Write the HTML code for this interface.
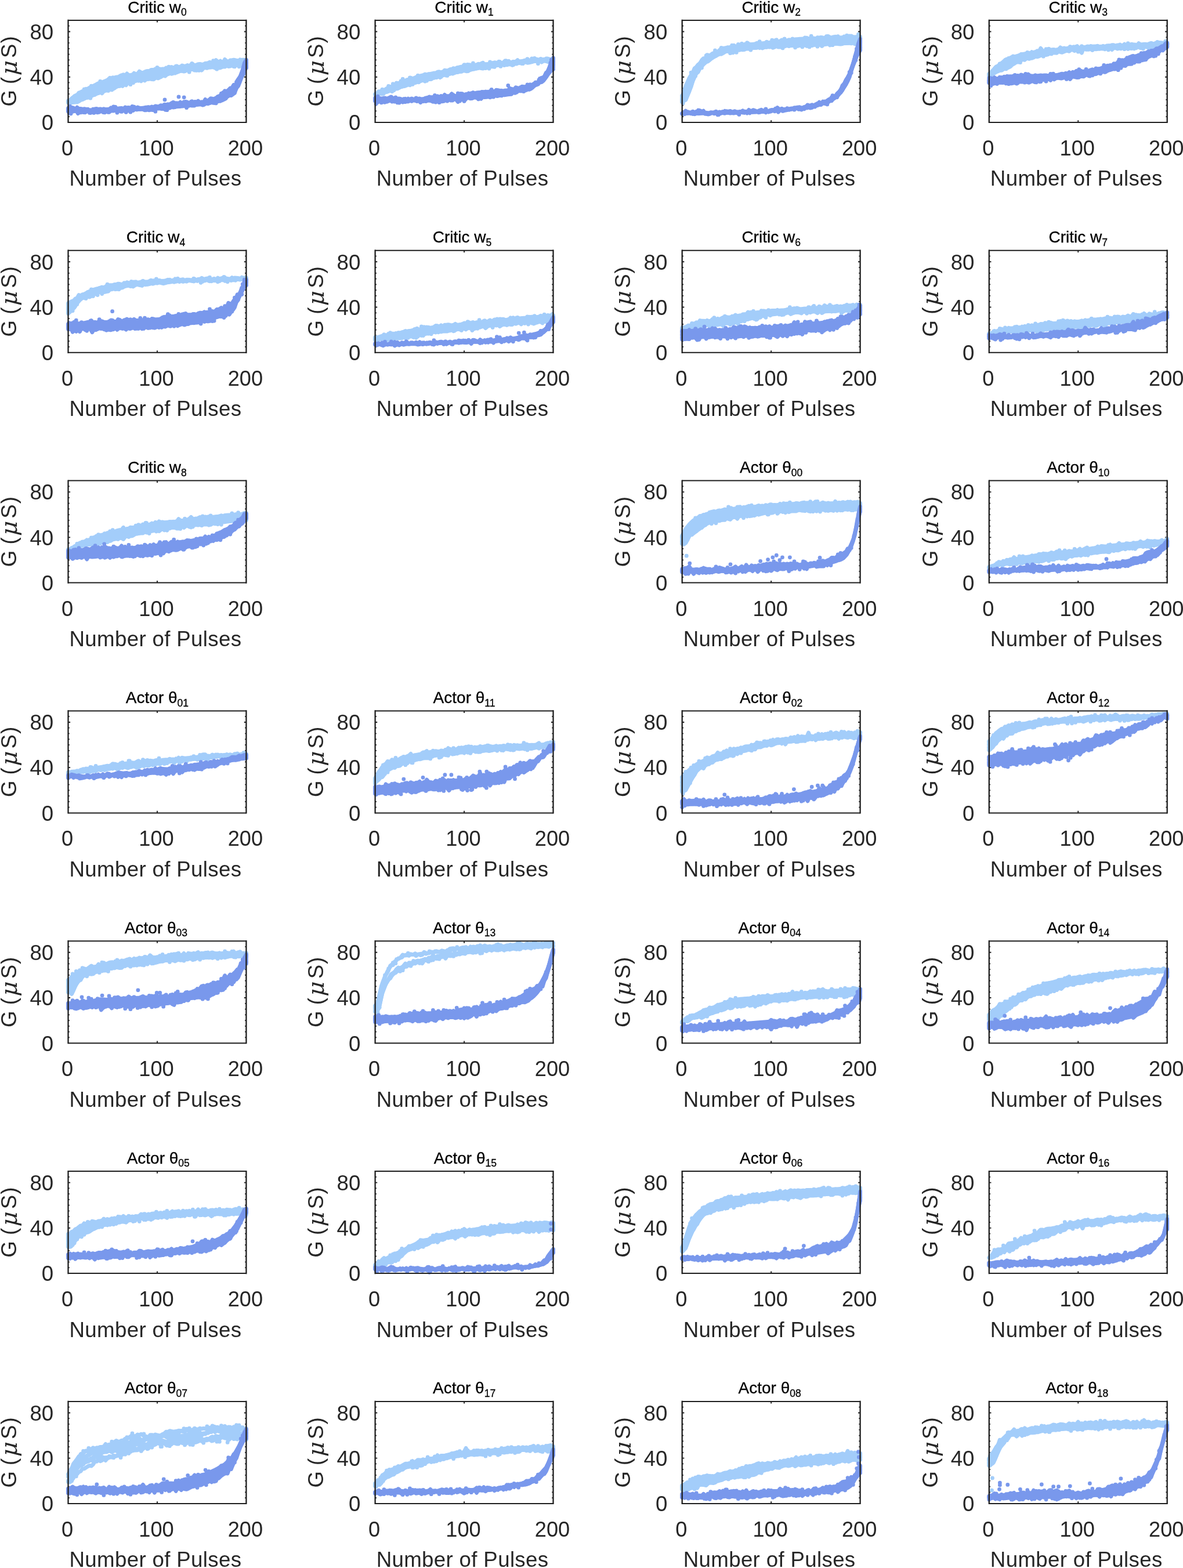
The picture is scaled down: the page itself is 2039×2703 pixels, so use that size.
<!DOCTYPE html>
<html lang="en"><head><meta charset="utf-8"><title>Conductance vs. number of pulses</title>
<style>
html,body{margin:0;padding:0;background:#fff}
body{width:2039px;height:2703px;overflow:hidden}
svg{display:block;position:absolute;left:0;top:0}
text{font-family:"Liberation Sans",sans-serif;white-space:pre}
.ti{font-size:28px;fill:#000;text-anchor:middle;stroke:#000;stroke-width:0.3px}
.su{font-size:17.5px}
.xt{font-size:36.2px;fill:#262626;text-anchor:middle}
.yt{font-size:36.67px;fill:#262626;text-anchor:end}
.xl{font-size:36.67px;fill:#262626;text-anchor:middle;letter-spacing:0.34px}
.yl{font-size:36.67px;fill:#262626}
.mu{font-family:"DejaVu Math TeX Gyre","DejaVu Serif",serif;font-style:italic;font-size:38.5px}
.d{fill:none;stroke-width:6.8px;stroke-linecap:round;stroke-linejoin:round;vector-effect:non-scaling-stroke}
.o{fill:none;stroke-width:6.8px;stroke-linecap:round}
.lt{stroke:#a3cdfa}.dk{stroke:#7998ec}.f.lt{fill:#a3cdfa}.f.dk{fill:#7998ec}
.fr{fill:none;stroke:#1e1e1e}
</style></head>
<body>
<svg width="2039" height="2703" viewBox="0 0 2039 2703">
<g transform="translate(117.5 34.9)">
<g class="fr"><path stroke-width="1.9" d="M0 97.78h3.6 M306.9 97.78h-3.6 M0 19.56h3.6 M306.9 19.56h-3.6 M153.45 0v3.6 M153.45 176v-3.6"/><path stroke-width="1.7" d="M0 166.22h2.3 M306.9 166.22h-2.3 M0 156.44h2.3 M306.9 156.44h-2.3 M0 146.67h2.3 M306.9 146.67h-2.3 M0 136.89h2.3 M306.9 136.89h-2.3 M0 127.11h2.3 M306.9 127.11h-2.3 M0 117.33h2.3 M306.9 117.33h-2.3 M0 107.56h2.3 M306.9 107.56h-2.3 M0 88h2.3 M306.9 88h-2.3 M0 78.22h2.3 M306.9 78.22h-2.3 M0 68.44h2.3 M306.9 68.44h-2.3 M0 58.67h2.3 M306.9 58.67h-2.3 M0 48.89h2.3 M306.9 48.89h-2.3 M0 39.11h2.3 M306.9 39.11h-2.3 M0 29.33h2.3 M306.9 29.33h-2.3 M0 9.78h2.3 M306.9 9.78h-2.3"/></g>
<g transform="scale(1.53450 0.25)"><path class="d f lt" d="M0 561L4 542L8 521L12 507L16 493L20 479L24 465L28 454L32 444L36 434L40 423L44 413L48 403L52 398L56 394L60 389L64 385L68 381L72 376L76 372L80 367L84 362L88 357L92 353L96 348L100 343L104 340L108 336L112 332L116 329L120 325L124 322L128 320L132 317L136 315L140 312L144 310L148 308L152 305L156 302L160 299L164 296L168 293L172 290L176 287L180 284L184 282L188 279L192 277L196 274L200 273L200 303L196 305L192 307L188 310L184 312L180 314L176 316L172 318L168 320L164 322L160 324L156 326L152 328L148 331L144 334L140 338L136 341L132 345L128 348L124 351L120 355L116 363L112 371L108 379L104 387L100 395L96 399L92 403L88 406L84 410L80 414L76 417L72 421L68 429L64 438L60 447L56 455L52 464L48 472L44 481L40 489L36 498L32 506L28 515L24 523L20 534L16 544L12 555L8 565L4 568L0 569Z"/><path class="d lt" d="M0 555l2-1 2-15 2-10 2-9 2-1 2-19 2-4 2-6 2-3 2-14 2 5 2-7 2-10 2-5 2-8 2-7 2-6 2-3 2 2 2-7 2 1 2-14 2-12 2 5 2-12 2 2 2-5 2 0 2-7 2-6 2 9 2-6 2-14 2 12 2 0 2 0 2-15 2 8 2-4 2-16 2 8 2 2 2-7 2-5 2-1 2 6 2-14 2 3 2-10 2 5 2-6 2 4 2-2 2 6 2-14 2 4 2-2 2-8 2 4 2 0 2-7 2 8 2-7 2-3 2-1 2 2 2-8 2 8 2 2 2-13 2 8 2-6 2-6 2-1 2 3 2-1 2-7 2-1 2-2 2 3 2 1 2-5 2-18 2 10 2 16 2-15 2 7 2-23 2 12 2 6 2-12 2 0 2-3 2 3 2 3 2-2 2-3 2-1 2 1 2 1M0 561l1-6 2-6 2-12 2-14 2 1 2-4 2-17 2 1 2-11 2-6 2 1 2-13 2 2 2-15 2-5 2-4 2 6 2-19 2-12 2 4 2-8 2-4 2-1 2-5 2-15 2 10 2 9 2-18 2 8 2-3 2-6 2-2 2 11 2-20 2 6 2-8 2-3 2-3 2-5 2-2 2-5 2-4 2 6 2-7 2-4 2 1 2 2 2-7 2 9 2-1 2-4 2-9 2 0 2-8 2-2 2 3 2-6 2-1 2-4 2-4 2 7 2-6 2 0 2 0 2-11 2 3 2 8 2-9 2-6 2-3 2 3 2-5 2 7 2-4 2-5 2 9 2-12 2 3 2-6 2-5 2 10 2-9 2 3 2-3 2-3 2-13 2 13 2-3 2-4 2 5 2 0 2 2 2-5 2-5 2 1 2 5 2-18 2 9 2 4 2-4 1 2M0 564l2 1 2-16 2-11 2 4 2-9 2-11 2-16 2 6 2-19 2 3 2-9 2-3 2-4 2-8 2-5 2-1 2-12 2 4 2-4 2-7 2-1 2-6 2-5 2-1 2 8 2-6 2-12 2-9 2-2 2-3 2 3 2 8 2-8 2-17 2 4 2-9 2-2 2 2 2-7 2 3 2-7 2-7 2 2 2 5 2-15 2 5 2 3 2-8 2 1 2-5 2-2 2 2 2 2 2-10 2 1 2-7 2 2 2-4 2-9 2 11 2-14 2 2 2 1 2-2 2-1 2-9 2 5 2-1 2 0 2-7 2 3 2-7 2-9 2 5 2 9 2-10 2 1 2-11 2 3 2 5 2-7 2 3 2 0 2-6 2-5 2 6 2 9 2-5 2-3 2-9 2 3 2-4 2-4 2-1 2 4 2-1 2-9 2 6 2 0 2-1M0 563l1 5 2-15 2 4 2-21 2-2 2-8 2-1 2-14 2 8 2-5 2-2 2-11 2-2 2-8 2-2 2-7 2-1 2-11 2-7 2 2 2-15 2 2 2-4 2-1 2-18 2 4 2 4 2-7 2-7 2-3 2 1 2-7 2 3 2-12 2-2 2-3 2 3 2-4 2-9 2 2 2-1 2 0 2-5 2-8 2 11 2-13 2-3 2-9 2 4 2 1 2 2 2-2 2-8 2-10 2 7 2-12 2 0 2-9 2 2 2-2 2 1 2 8 2-3 2-11 2-6 2 2 2 7 2-6 2 2 2-3 2 0 2-3 2-1 2-7 2 2 2 0 2 2 2-7 2-2 2 5 2 0 2-4 2-3 2 2 2-2 2-3 2-8 2 6 2-1 2-8 2 4 2-5 2-4 2 0 2-5 2 2 2-2 2-1 2 0 2-6 1 4M0 564l2 1 2-5 2-7 2-2 2-16 2 2 2-10 2-11 2-6 2-1 2 6 2-3 2-18 2-3 2 4 2-4 2-14 2 0 2 2 2-14 2-1 2-11 2 8 2-11 2-9 2 0 2-5 2-2 2-3 2-3 2-8 2 1 2-2 2-5 2 0 2-8 2 4 2-8 2 1 2 4 2-7 2-5 2-6 2 2 2 0 2-1 2 0 2 0 2-15 2-5 2 6 2-5 2-8 2-4 2-7 2-2 2-5 2 8 2-4 2-11 2 2 2-4 2 8 2-6 2-4 2-2 2-1 2 11 2-4 2-10 2-2 2-2 2 1 2-4 2-7 2 8 2 1 2-7 2-4 2 5 2 1 2-1 2 3 2-5 2-7 2 1 2 1 2 0 2-6 2 1 2 3 2-11 2 12 2-10 2 3 2-2 2 2 2-9 2 6 2-1M0 559l1 8 2-8 2 2 2-8 2-11 2 0 2 7 2-14 2 3 2-5 2-10 2-9 2-5 2 10 2-13 2 4 2-13 2-1 2-9 2 2 2-8 2-6 2-5 2-10 2-7 2 0 2-2 2 2 2-7 2 0 2 8 2-14 2 8 2-19 2-4 2 2 2-16 2 4 2-10 2 12 2-15 2 4 2-2 2-3 2 2 2-4 2-3 2 0 2-3 2 1 2-1 2 1 2-19 2 1 2 9 2-12 2-6 2-3 2 4 2-18 2 0 2 3 2-3 2 0 2-5 2 4 2-16 2 11 2-7 2 0 2-10 2 0 2 9 2-5 2-3 2 0 2-5 2-4 2 6 2-7 2-1 2-4 2 9 2-8 2 2 2 4 2-7 2 7 2-10 2-1 2 0 2 0 2 6 2-10 2 3 2-3 2-7 2 6 2 9 2-9 1 2M0 565l2 9 2-10 2-1 2 0 2 2 2-6 2-9 2-3 2-6 2-6 2-1 2-10 2 0 2-8 2-2 2-11 2-1 2-8 2 10 2-17 2-3 2 0 2-6 2-2 2 0 2-7 2-10 2-6 2 1 2-9 2-4 2 3 2-8 2-5 2 1 2-11 2 2 2-5 2-6 2-1 2 9 2-12 2 8 2-10 2 0 2-3 2 4 2 1 2-10 2-8 2 7 2-5 2-10 2-4 2-4 2-3 2-11 2 10 2-7 2-13 2 10 2-5 2-5 2-1 2 4 2-4 2-7 2 7 2-15 2 6 2-4 2 0 2-8 2 4 2 13 2-15 2-3 2 3 2-5 2 0 2-3 2 4 2 6 2-10 2 7 2-4 2-5 2 1 2-9 2 7 2-2 2-7 2 9 2-5 2-7 2-3 2 4 2-2 2 6 2-11M18 476h0M25 537h0M26 453h0M36 421h0M45 486h0M47 397h0M49 480h0M62 375h0M63 380h0M70 443h0M73 431h0M81 359h0M93 343h0M95 342h0M100 326h0M101 400h0M113 321h0M117 368h0M120 365h0M121 317h0M122 316h0M128 312h0M136 357h0M138 306h0M139 298h0M140 303h0M142 345h0M144 346h0M147 346h0M159 289h0M163 279h0M167 337h0M168 330h0M187 320h0M192 320h0M194 314h0"/></g>
<g transform="scale(1.53450 0.25)"><path class="d f dk" d="M0 606L4 608L8 611L12 613L16 616L20 618L24 621L28 620L32 618L36 617L40 616L44 615L48 614L52 613L56 612L60 612L64 611L68 610L72 610L76 608L80 607L84 605L88 603L92 602L96 600L100 598L104 594L108 588L112 583L116 578L120 573L124 572L128 572L132 571L136 571L140 570L144 570L148 570L152 565L156 557L160 549L164 541L168 532L172 517L176 500L180 483L184 467L188 448L192 406L196 343L200 282L200 327L196 371L192 435L188 481L184 505L180 522L176 535L172 547L168 559L164 564L160 569L156 573L152 577L148 580L144 583L140 585L136 588L132 590L128 593L124 595L120 597L116 600L112 602L108 604L104 606L100 608L96 610L92 611L88 612L84 613L80 614L76 615L72 616L68 617L64 618L60 620L56 621L52 622L48 623L44 624L40 625L36 625L32 626L28 626L24 627L20 627L16 627L12 627L8 627L4 627L0 627Z"/><path class="d dk" d="M0 611l2-9 2 0 2 3 2 10 2-14 2 10 2-1 2 9 2-5 2-1 2 10 2-3 2 3 2-6 2-5 2-2 2 4 2-2 2 3 2-4 2 10 2-2 2-6 2-9 2 18 2-11 2-4 2 2 2-2 2-1 2 6 2-12 2 6 2 4 2-6 2 2 2 4 2 1 2-11 2 8 2 5 2-6 2-4 2-1 2-3 2 3 2-6 2 4 2-8 2 3 2 0 2-8 2 3 2-9 2 3 2-5 2 4 2-11 2-7 2 7 2 0 2 6 2-13 2 13 2-15 2-1 2 3 2 16 2-20 2 5 2-4 2 6 2-11 2 10 2-4 2 4 2-21 2 14 2-1 2-20 2 2 2 4 2-7 2-12 2-4 2-10 2-14 2-3 2 3 2-16 2-13 2-3 2-21 2 6 2-35 2-18 2-15 2-40 2-48 2-21M0 614l1 6 2-5 2 10 2 1 2-5 2-2 2 11 2-19 2 6 2 3 2 3 2-1 2-2 2 2 2 7 2-2 2 4 2-13 2 2 2-2 2-5 2 6 2 2 2-7 2 6 2-1 2 0 2-5 2-3 2 15 2-11 2-1 2-1 2-11 2 1 2 6 2 1 2-4 2 2 2-6 2 7 2 0 2 4 2-12 2 2 2 7 2-6 2 0 2 5 2-1 2-13 2-1 2 4 2-5 2-2 2-9 2 6 2-1 2 3 2-7 2-1 2-2 2-4 2-3 2 6 2-2 2 4 2-8 2 3 2-11 2 10 2-12 2 11 2 0 2 0 2-2 2-4 2-3 2-11 2-9 2 3 2-3 2-1 2 0 2-14 2 0 2-6 2-19 2 5 2-12 2-4 2-8 2-11 2-6 2-24 2-18 2-20 2-33 2-35 2-34 1-10M0 624l2-9 2-1 2 14 2-7 2 1 2-4 2 3 2 1 2 7 2-2 2-12 2 10 2 1 2 5 2-4 2-1 2-5 2-6 2 13 2 2 2-10 2-6 2 20 2-11 2-2 2 2 2-6 2 1 2-9 2 11 2 5 2-4 2-11 2 9 2-7 2-9 2 11 2-2 2 1 2 0 2-1 2 2 2 6 2-9 2-7 2 5 2 8 2-8 2 5 2-12 2 6 2-14 2 4 2 3 2-10 2 8 2 7 2-10 2 5 2-2 2-14 2 9 2-17 2 12 2-10 2 8 2-9 2 1 2 3 2-1 2 7 2-18 2 7 2-1 2-12 2 12 2-7 2-11 2 9 2-6 2-3 2-4 2-6 2 0 2 0 2-10 2-3 2-10 2-2 2-20 2 2 2-21 2 1 2-16 2-27 2-15 2-27 2-40 2-19 2-12M0 629l1-3 2-4 2 8 2-6 2-2 2 21 2-10 2-4 2 6 2 1 2-8 2 2 2 9 2-5 2 5 2-7 2-16 2 17 2-11 2 12 2-11 2 7 2 2 2-12 2 5 2 0 2-5 2-3 2 6 2 6 2-8 2-1 2-2 2 5 2 1 2-5 2 4 2-13 2 7 2-5 2 2 2-4 2 6 2-10 2 11 2 3 2-4 2 3 2-2 2-10 2 2 2-1 2 3 2-4 2 10 2-11 2-10 2 5 2-8 2 2 2-2 2 2 2 0 2-6 2-2 2 1 2 6 2-3 2-5 2 3 2 0 2-12 2 4 2-2 2 1 2 5 2-4 2-10 2 5 2-5 2-10 2 9 2 1 2-8 2-5 2 0 2-13 2 2 2-7 2-19 2-5 2 3 2-9 2-8 2-38 2-10 2-32 2-33 2-18 2-46 1-7M1 639h0M2 594h0M3 644h0M10 602h0M14 636h0M18 611h0M22 613h0M24 638h0M28 613h0M33 636h0M41 636h0M45 634h0M51 596h0M53 598h0M55 637h0M60 630h0M65 634h0M66 624h0M70 633h0M72 594h0M74 597h0M87 620h0M97 618h0M98 629h0M106 611h0M111 619h0M133 603h0M139 559h0M166 572h0M172 505h0M173 552h0M176 487h0M189 426h0M191 408h0M198 299h0"/></g>
<path class="o dk" d="M166.5 137h0M190.5 132h0M199.7 132.9h0"/>
<g class="fr"><path stroke-width="2" d="M0 0H306.9 M0 176H306.9"/><path stroke-width="2.3" stroke-linecap="square" d="M0 0V176 M306.9 0V176"/></g>
<text class="ti" x="153.45" y="-13.4">Critic w<tspan class="su" dy="5.6">0</tspan></text>
<text class="yt" x="-25.3" y="189.3">0</text><text class="yt" x="-25.3" y="111.08">40</text><text class="yt" x="-25.3" y="32.86">80</text>
<text class="xt" x="-1.5" y="233.1">0</text><text class="xt" x="151.95" y="233.1">100</text><text class="xt" x="305.4" y="233.1">200</text>
<text class="xl" x="150.45" y="285.6">Number of Pulses</text>
<text class="yl" transform="translate(-89.3 148.7) rotate(-90)"><tspan x="0">G (</tspan><tspan class="mu" x="50.5" dy="1">μ</tspan><tspan x="83.6" dy="-1">S</tspan><tspan x="109">)</tspan></text>
</g>
<g transform="translate(646.6 34.9)">
<g class="fr"><path stroke-width="1.9" d="M0 97.78h3.6 M306.9 97.78h-3.6 M0 19.56h3.6 M306.9 19.56h-3.6 M153.45 0v3.6 M153.45 176v-3.6"/><path stroke-width="1.7" d="M0 166.22h2.3 M306.9 166.22h-2.3 M0 156.44h2.3 M306.9 156.44h-2.3 M0 146.67h2.3 M306.9 146.67h-2.3 M0 136.89h2.3 M306.9 136.89h-2.3 M0 127.11h2.3 M306.9 127.11h-2.3 M0 117.33h2.3 M306.9 117.33h-2.3 M0 107.56h2.3 M306.9 107.56h-2.3 M0 88h2.3 M306.9 88h-2.3 M0 78.22h2.3 M306.9 78.22h-2.3 M0 68.44h2.3 M306.9 68.44h-2.3 M0 58.67h2.3 M306.9 58.67h-2.3 M0 48.89h2.3 M306.9 48.89h-2.3 M0 39.11h2.3 M306.9 39.11h-2.3 M0 29.33h2.3 M306.9 29.33h-2.3 M0 9.78h2.3 M306.9 9.78h-2.3"/></g>
<g transform="scale(1.53450 0.25)"><path class="d f lt" d="M0 509L4 503L8 489L12 476L16 464L20 453L24 441L28 430L32 420L36 413L40 406L44 398L48 391L52 384L56 378L60 373L64 369L68 365L72 361L76 356L80 351L84 344L88 337L92 331L96 324L100 318L104 315L108 313L112 311L116 308L120 306L124 304L128 302L132 300L136 298L140 296L144 294L148 292L152 290L156 288L160 285L164 283L168 280L172 278L176 276L180 275L184 273L188 272L192 271L196 270L200 269L200 278L196 278L192 279L188 280L184 282L180 283L176 284L172 286L168 289L164 291L160 293L156 296L152 298L148 301L144 305L140 308L136 312L132 315L128 318L124 322L120 325L116 330L112 334L108 339L104 343L100 347L96 353L92 358L88 363L84 369L80 374L76 380L72 386L68 392L64 398L60 404L56 410L52 417L48 424L44 432L40 439L36 446L32 454L28 461L24 469L20 477L16 486L12 494L8 500L4 507L0 510Z"/><path class="d lt" d="M0 510l2-6 2-13 2-1 2-7 2 1 2-9 2-8 2-1 2-8 2-3 2-12 2-4 2 1 2-10 2 6 2-11 2-8 2-7 2 3 2-13 2 5 2 1 2-14 2-2 2-5 2-3 2-3 2-7 2 5 2-6 2-1 2-2 2-4 2 2 2-9 2-2 2 7 2-2 2-15 2 3 2-2 2-7 2-2 2-3 2 4 2-11 2-2 2-4 2 2 2-16 2 2 2-4 2 8 2-2 2 3 2-1 2-7 2 2 2-2 2 0 2-6 2 4 2 2 2-6 2 7 2-9 2-7 2 2 2 0 2-7 2 13 2-8 2-12 2 9 2-7 2 14 2-5 2-4 2 0 2-11 2 14 2-4 2-3 2 2 2-9 2 1 2 0 2-3 2 1 2-2 2 10 2-2 2-7 2 5 2-4 2-10 2 6 2 0 2-2 2-3M0 511l1-4 2-5 2 6 2-15 2 0 2-12 2 3 2-8 2-7 2-8 2-10 2 6 2-11 2 1 2-3 2-8 2-6 2-10 2 2 2-12 2-3 2 2 2-13 2 7 2-8 2 2 2-15 2 2 2 0 2 1 2-3 2-1 2-2 2-7 2 8 2-5 2 2 2-12 2-6 2-10 2 9 2-2 2-3 2-8 2 4 2-4 2-3 2-9 2 1 2-3 2-3 2-3 2-8 2 6 2-17 2 14 2-12 2-1 2 4 2-12 2 15 2-4 2-6 2 8 2 2 2-19 2 9 2 0 2 3 2-6 2-1 2-3 2-6 2 10 2-4 2-3 2 0 2-9 2 4 2-3 2-4 2 2 2 1 2-6 2-4 2 5 2-2 2-4 2-4 2 1 2 5 2-5 2 8 2-4 2-5 2 11 2-17 2 3 2 9 2 3 1-6M0 512l2-3 2 0 2-11 2 2 2-14 2 7 2-7 2-2 2-6 2 1 2-9 2-5 2-11 2-9 2-4 2 0 2-5 2-7 2 2 2-5 2-1 2-6 2-4 2-4 2-4 2-1 2-4 2 7 2-6 2 0 2-6 2-11 2 12 2-6 2-1 2-8 2-2 2-6 2-2 2 4 2-11 2 3 2-5 2-1 2-7 2 3 2-14 2 4 2-3 2-7 2 1 2 1 2-6 2-3 2-3 2 3 2 1 2-5 2-5 2-3 2-2 2 2 2-4 2 5 2-8 2 7 2-15 2-6 2 6 2 5 2-9 2 6 2-8 2 1 2 5 2-3 2 8 2-24 2-1 2 6 2-4 2 8 2-5 2-6 2-1 2 0 2-2 2 1 2-4 2-1 2-2 2 8 2-2 2-6 2 3 2 2 2-5 2-1 2-6 2 6M0 513l1-3 2-9 2 1 2 6 2 1 2-14 2 0 2-5 2-9 2-7 2 2 2-3 2-1 2-6 2-7 2-3 2-1 2-5 2-9 2 7 2-11 2-10 2 4 2-8 2 5 2-12 2-2 2 1 2-5 2-4 2 1 2 0 2-10 2-2 2 0 2-9 2 9 2-12 2-9 2-7 2 3 2 1 2-8 2 6 2-6 2-6 2 1 2-5 2 1 2-11 2 6 2 3 2-5 2-5 2-4 2-1 2-9 2 3 2-6 2 6 2 2 2-11 2 5 2-2 2-6 2 1 2-7 2 1 2-6 2 2 2-3 2-5 2 9 2-6 2-1 2-2 2 0 2-8 2 3 2 4 2-7 2 2 2-3 2-3 2-3 2 7 2-2 2-3 2-3 2-7 2 1 2 2 2-3 2 10 2-8 2 0 2 3 2 4 2-7 2-1 1-2M8 477h0M15 454h0M16 456h0M19 491h0M20 439h0M21 483h0M24 432h0M29 419h0M31 405h0M39 396h0M40 397h0M42 442h0M48 381h0M56 421h0M58 417h0M74 390h0M80 381h0M81 382h0M88 331h0M100 311h0M104 351h0M105 348h0M106 307h0M110 296h0M116 301h0M121 293h0M124 331h0M128 333h0M129 288h0M133 293h0M134 322h0M139 285h0M141 318h0M147 279h0M148 308h0M153 306h0M155 308h0M156 303h0M165 299h0M166 299h0M171 267h0M176 264h0M179 262h0M181 268h0M183 299h0M186 266h0M198 286h0"/></g>
<g transform="scale(1.53450 0.25)"><path class="d f dk" d="M0 540L4 541L8 542L12 543L16 545L20 546L24 547L28 547L32 547L36 547L40 547L44 547L48 547L52 544L56 541L60 538L64 535L68 532L72 529L76 527L80 525L84 524L88 522L92 521L96 519L100 517L104 513L108 509L112 504L116 500L120 496L124 494L128 493L132 492L136 491L140 489L144 488L148 484L152 480L156 476L160 472L164 467L168 461L172 455L176 446L180 434L184 421L188 403L192 374L196 323L200 265L200 328L196 353L192 387L188 416L184 432L180 446L176 461L172 471L168 477L164 483L160 489L156 494L152 499L148 504L144 509L140 512L136 515L132 518L128 521L124 524L120 527L116 529L112 532L108 534L104 536L100 538L96 541L92 543L88 545L84 547L80 549L76 551L72 553L68 553L64 553L60 553L56 553L52 553L48 553L44 553L40 553L36 553L32 553L28 553L24 553L20 554L16 554L12 555L8 556L4 556L0 557Z"/><path class="d dk" d="M0 535l2 4 2 1 2-1 2 2 2-4 2 8 2-6 2-5 2-6 2 10 2 5 2 8 2-11 2 1 2 4 2 12 2-15 2 10 2-6 2-4 2 4 2-1 2-1 2-2 2-2 2 8 2-1 2-9 2-3 2 8 2-3 2-10 2 7 2-10 2-4 2 11 2-12 2 6 2-14 2 10 2-1 2 0 2-16 2 9 2 7 2 0 2-11 2-6 2 1 2 9 2-6 2-2 2 3 2-2 2-11 2 8 2-6 2-1 2 1 2-6 2 5 2-7 2 4 2 5 2-17 2 5 2 5 2-13 2 2 2 3 2-1 2 5 2-6 2 10 2-15 2-2 2-1 2 3 2-16 2 4 2 5 2-11 2-4 2 11 2-10 2-8 2-7 2 13 2-15 2-12 2 11 2-19 2-10 2-14 2-9 2-26 2-6 2-36 2-36 2-24M0 550l1-4 2-5 2-3 2 8 2-8 2-2 2 6 2 13 2-19 2 10 2 1 2 2 2 6 2-12 2 5 2 1 2-7 2 11 2-12 2 11 2 6 2-14 2 2 2 7 2-1 2-3 2 7 2-12 2 0 2-10 2 11 2-3 2 4 2-1 2-2 2-10 2 3 2 0 2 1 2-4 2-9 2 11 2-8 2 1 2-6 2 7 2-6 2-3 2 5 2 2 2 0 2-11 2-12 2 10 2 1 2-7 2-4 2 6 2 0 2-10 2-5 2 5 2 1 2 1 2-6 2 7 2-8 2 2 2-4 2-1 2 0 2-2 2 6 2 0 2-8 2-4 2-11 2 6 2 4 2-15 2 9 2-14 2 3 2 3 2-12 2 5 2-7 2-6 2-2 2-5 2-8 2-1 2-5 2-17 2-4 2-23 2-8 2-30 2-24 2-27 1-7M0 542l2-5 2 16 2-7 2 16 2 0 2-11 2 8 2-4 2-6 2-6 2 18 2-12 2-1 2-7 2 11 2-9 2 20 2-6 2 1 2-5 2-2 2 1 2-5 2 10 2-5 2-3 2 10 2-10 2 7 2-8 2 4 2 0 2-9 2 5 2-2 2 8 2-11 2 2 2 2 2-11 2-3 2 4 2 6 2-1 2-11 2 1 2 1 2-5 2-1 2-7 2 9 2-6 2 14 2-13 2-5 2 5 2 11 2-11 2-1 2-13 2 8 2-4 2-1 2 1 2 5 2-8 2-9 2 8 2 4 2-2 2-7 2-8 2 16 2-9 2-11 2-9 2 2 2 5 2-4 2-1 2-5 2 5 2-7 2-7 2 9 2-24 2 17 2-16 2-1 2-10 2-3 2-15 2-1 2-17 2-11 2-17 2-12 2-22 2-22 2-22M0 556l1 3 2 6 2-14 2 7 2 4 2 4 2-7 2-15 2 5 2 5 2 6 2-12 2 7 2-2 2 4 2 8 2-10 2 4 2 2 2-7 2-10 2 3 2 6 2 6 2-6 2 14 2-15 2 5 2 2 2-6 2 0 2 3 2 6 2-3 2-5 2 6 2-17 2 17 2-2 2-9 2 6 2-8 2 6 2 0 2-12 2 7 2 15 2-22 2 3 2-6 2 12 2-15 2-3 2 8 2-1 2-8 2 2 2 0 2 2 2 7 2-15 2 4 2-1 2-3 2 5 2-6 2 3 2-17 2 11 2-3 2-7 2-2 2 5 2-2 2-2 2-1 2-1 2-13 2 5 2-5 2-12 2 3 2-1 2 4 2-13 2-4 2 4 2-6 2-9 2-13 2-7 2-2 2-17 2 3 2-10 2-16 2-17 2-18 2-14 2-21 1 8M1 576h0M3 525h0M7 568h0M12 561h0M13 562h0M15 537h0M19 561h0M22 537h0M23 532h0M25 568h0M27 569h0M29 562h0M33 563h0M41 540h0M46 536h0M61 528h0M67 518h0M68 565h0M72 567h0M81 557h0M93 504h0M95 557h0M98 548h0M100 558h0M108 503h0M116 544h0M119 538h0M140 519h0M142 520h0M149 509h0M151 469h0M165 457h0M168 485h0M171 444h0M184 411h0M185 402h0M187 397h0M188 397h0M197 294h0M198 273h0"/></g>
<path class="o dk" d="M229.2 112.6h0M200.6 119.6h0"/>
<g class="fr"><path stroke-width="2" d="M0 0H306.9 M0 176H306.9"/><path stroke-width="2.3" stroke-linecap="square" d="M0 0V176 M306.9 0V176"/></g>
<text class="ti" x="153.45" y="-13.4">Critic w<tspan class="su" dy="5.6">1</tspan></text>
<text class="yt" x="-25.3" y="189.3">0</text><text class="yt" x="-25.3" y="111.08">40</text><text class="yt" x="-25.3" y="32.86">80</text>
<text class="xt" x="-1.5" y="233.1">0</text><text class="xt" x="151.95" y="233.1">100</text><text class="xt" x="305.4" y="233.1">200</text>
<text class="xl" x="150.45" y="285.6">Number of Pulses</text>
<text class="yl" transform="translate(-89.3 148.7) rotate(-90)"><tspan x="0">G (</tspan><tspan class="mu" x="50.5" dy="1">μ</tspan><tspan x="83.6" dy="-1">S</tspan><tspan x="109">)</tspan></text>
</g>
<g transform="translate(1175.7 34.9)">
<g class="fr"><path stroke-width="1.9" d="M0 97.78h3.6 M306.9 97.78h-3.6 M0 19.56h3.6 M306.9 19.56h-3.6 M153.45 0v3.6 M153.45 176v-3.6"/><path stroke-width="1.7" d="M0 166.22h2.3 M306.9 166.22h-2.3 M0 156.44h2.3 M306.9 156.44h-2.3 M0 146.67h2.3 M306.9 146.67h-2.3 M0 136.89h2.3 M306.9 136.89h-2.3 M0 127.11h2.3 M306.9 127.11h-2.3 M0 117.33h2.3 M306.9 117.33h-2.3 M0 107.56h2.3 M306.9 107.56h-2.3 M0 88h2.3 M306.9 88h-2.3 M0 78.22h2.3 M306.9 78.22h-2.3 M0 68.44h2.3 M306.9 68.44h-2.3 M0 58.67h2.3 M306.9 58.67h-2.3 M0 48.89h2.3 M306.9 48.89h-2.3 M0 39.11h2.3 M306.9 39.11h-2.3 M0 29.33h2.3 M306.9 29.33h-2.3 M0 9.78h2.3 M306.9 9.78h-2.3"/></g>
<g transform="scale(1.53450 0.25)"><path class="d f lt" d="M0 526L4 458L8 400L12 360L16 326L20 296L24 268L28 254L32 241L36 229L40 216L44 204L48 192L52 188L56 184L60 181L64 177L68 173L72 170L76 167L80 165L84 163L88 161L92 159L96 157L100 155L104 152L108 148L112 145L116 142L120 139L124 135L128 132L132 129L136 128L140 127L144 127L148 126L152 125L156 124L160 123L164 123L168 122L172 121L176 120L180 119L184 118L188 117L192 116L196 115L200 114L200 156L196 156L192 157L188 158L184 159L180 160L176 161L172 162L168 163L164 164L160 166L156 167L152 168L148 169L144 170L140 172L136 173L132 174L128 175L124 175L120 176L116 176L112 176L108 177L104 177L100 178L96 180L92 183L88 186L84 188L80 191L76 194L72 196L68 199L64 202L60 205L56 208L52 211L48 215L44 225L40 237L36 250L32 266L28 283L24 299L20 331L16 365L12 419L8 491L4 548L0 564Z"/><path class="d lt" d="M0 519l2-10 2-53 2-28 2-28 2-21 2-18 2-30 2-9 2-16 2-9 2-21 2-13 2 1 2-16 2-2 2-5 2-11 2-5 2-7 2 2 2-14 2-7 2-6 2 3 2-4 2 1 2-1 2-14 2 2 2 0 2 2 2-7 2 1 2 1 2-1 2-8 2-4 2 2 2 4 2-3 2-2 2-8 2 10 2-6 2 1 2-4 2 1 2 2 2-8 2 1 2-1 2 0 2-9 2 4 2-5 2 4 2-3 2-1 2-2 2-6 2 3 2 7 2-11 2-2 2 7 2-7 2 4 2-3 2-6 2-6 2 7 2-2 2 1 2-3 2 12 2-17 2 2 2-3 2 2 2 5 2-14 2-1 2 8 2 1 2 3 2 0 2 3 2-2 2 5 2-5 2 2 2-12 2 0 2 7 2-12 2 8 2 5 2 2 2-18 2 15M0 545l1 2 2-27 2-43 2-25 2-35 2-26 2-25 2-20 2-13 2-19 2-10 2-16 2-12 2-12 2-4 2-15 2-2 2-4 2-7 2-11 2 2 2-14 2-9 2 1 2-3 2-11 2 8 2-5 2 3 2-6 2-7 2 4 2-10 2 2 2 2 2-6 2 1 2-1 2-1 2-5 2 10 2-9 2 1 2-1 2-8 2 4 2-7 2 2 2-2 2 1 2 3 2-9 2-2 2 5 2 1 2-1 2-1 2-9 2 11 2-14 2 6 2-8 2 0 2 2 2-3 2 4 2-4 2 0 2-1 2 2 2-1 2-5 2 3 2-5 2 5 2-4 2-2 2-1 2-4 2 2 2 4 2-2 2 3 2-6 2 2 2-3 2 7 2-9 2 0 2 0 2-2 2 15 2-7 2-2 2 1 2-1 2-2 2-5 2-3 2 2 1 7M0 545l2-18 2-30 2-20 2-22 2-30 2-35 2-18 2-19 2-12 2-23 2-18 2-11 2-9 2-1 2-23 2 0 2-7 2-5 2-12 2-2 2-2 2-6 2-15 2-3 2-4 2 0 2 1 2-9 2 1 2-12 2 12 2-9 2-4 2 8 2 0 2 1 2-5 2-2 2-2 2-1 2 3 2-2 2-1 2-7 2 4 2 0 2-11 2 10 2 2 2-4 2-1 2-9 2-1 2 11 2-6 2 1 2-1 2-12 2 4 2 8 2-5 2-7 2 1 2-1 2-2 2-5 2 12 2-15 2 19 2-2 2-6 2-1 2 0 2 9 2-11 2 9 2-4 2-2 2-5 2-2 2 4 2-6 2 3 2-9 2 6 2-8 2 8 2-10 2 4 2 2 2-4 2-3 2 16 2-2 2-11 2 3 2-14 2 2 2-3 2 17M0 552l1-2 2-18 2-23 2-31 2-27 2-33 2-32 2-16 2-21 2-11 2-22 2-18 2-7 2-4 2-3 2-15 2-6 2-13 2-4 2-13 2 4 2-10 2-6 2-9 2-3 2 0 2-7 2 6 2-2 2 3 2-10 2 3 2 0 2-7 2 2 2-6 2 5 2-2 2-5 2 0 2-10 2 8 2-6 2 10 2-16 2 4 2 0 2 7 2-16 2 3 2-5 2 0 2-3 2 5 2 2 2-7 2 8 2-6 2-6 2 11 2-1 2 3 2-2 2-2 2-7 2-3 2 13 2-13 2 9 2-5 2 8 2 1 2-2 2-5 2 4 2-5 2-3 2 3 2-3 2-2 2 6 2-6 2-4 2-8 2 12 2-3 2-9 2-3 2 10 2-9 2 8 2-11 2 6 2 5 2 1 2-9 2 10 2-10 2 3 2-8 1 10M0 565l2-12 2-4 2-31 2-32 2-27 2-43 2-34 2-15 2-10 2-27 2-11 2-15 2-11 2-10 2-4 2-11 2-8 2-8 2-6 2-9 2-11 2 8 2-7 2-8 2-6 2 2 2-6 2 6 2-6 2-2 2-2 2 1 2-4 2 2 2-1 2-7 2 1 2 1 2-4 2-6 2 3 2-1 2-7 2 3 2 7 2-6 2-1 2-5 2 4 2-4 2 9 2-5 2-9 2 9 2 0 2-2 2-1 2-4 2-7 2 8 2-8 2 1 2 2 2 5 2-1 2-5 2 0 2-4 2 1 2 8 2-16 2 5 2 8 2-6 2-3 2 1 2 3 2 0 2 3 2-13 2 3 2-4 2 13 2-10 2-1 2 1 2-1 2 3 2 1 2-2 2-8 2 0 2 2 2-3 2 6 2-5 2-4 2-9 2 11 2 3M1 572h0M2 492h0M10 361h0M15 384h0M22 328h0M27 244h0M28 239h0M29 240h0M37 208h0M43 201h0M44 190h0M54 227h0M56 173h0M57 224h0M58 173h0M61 222h0M63 166h0M67 161h0M71 164h0M73 155h0M74 159h0M77 205h0M87 147h0M95 149h0M101 137h0M103 146h0M104 140h0M105 144h0M106 135h0M112 136h0M113 192h0M115 128h0M124 128h0M127 188h0M135 184h0M138 120h0M143 184h0M145 109h0M152 181h0M157 178h0M164 115h0M168 170h0M169 171h0M170 115h0M172 113h0M175 111h0M182 112h0M185 105h0M188 108h0M194 163h0M196 167h0M198 97h0"/></g>
<g transform="scale(1.53450 0.25)"><path class="d f dk" d="M0 644L4 642L8 641L12 641L16 641L20 640L24 640L28 640L32 640L36 640L40 640L44 639L48 639L52 638L56 638L60 637L64 636L68 635L72 634L76 633L80 633L84 632L88 630L92 628L96 626L100 624L104 623L108 621L112 618L116 616L120 613L124 611L128 609L132 606L136 603L140 600L144 596L148 593L152 587L156 577L160 567L164 555L168 542L172 523L176 497L180 461L184 419L188 369L192 301L196 216L200 130L200 206L196 246L192 311L188 385L184 440L180 480L176 512L172 534L168 550L164 562L160 570L156 577L152 587L148 593L144 596L140 600L136 603L132 606L128 609L124 611L120 613L116 616L112 618L108 621L104 623L100 624L96 626L92 628L88 630L84 632L80 633L76 633L72 634L68 635L64 636L60 637L56 638L52 638L48 639L44 639L40 640L36 640L32 640L28 640L24 640L20 640L16 641L12 641L8 641L4 642L0 644Z"/><path class="d dk" d="M0 642l2-4 2-13 2 17 2-4 2 6 2-3 2 7 2-5 2-22 2 22 2-7 2-11 2 18 2 4 2-7 2 3 2-5 2 2 2-2 2 3 2-2 2-2 2 3 2-14 2 10 2 1 2 4 2-9 2 7 2-9 2 4 2-3 2 1 2-8 2 14 2-8 2-3 2 11 2-9 2-4 2-2 2 8 2 0 2-4 2-6 2 5 2-2 2 0 2 7 2-3 2-8 2-5 2 1 2-5 2 4 2-6 2 10 2-4 2-5 2 2 2 3 2-4 2-8 2 0 2-2 2-2 2 7 2 5 2-10 2-11 2 11 2 4 2-3 2-10 2-12 2-3 2-12 2 10 2-14 2 9 2-11 2 4 2-16 2-17 2-6 2 5 2-22 2-11 2-12 2-33 2-13 2-26 2-18 2-22 2-35 2-37 2-43 2-47 2-50 2-31M0 641l1 5 2 1 2-17 2 3 2 5 2-2 2-4 2 9 2-2 2 2 2-15 2 12 2 4 2-5 2 12 2-3 2-9 2-1 2-4 2 8 2-5 2 6 2-10 2 2 2 6 2-6 2-6 2 12 2 1 2-1 2-8 2 3 2-4 2 4 2-5 2 2 2 10 2-23 2 9 2 7 2-11 2 8 2-3 2-6 2-5 2 14 2-11 2 1 2 12 2-12 2-3 2 5 2-6 2-14 2 11 2 7 2-6 2-1 2 7 2-7 2-3 2-3 2 2 2-5 2-4 2 5 2 6 2-5 2-9 2 1 2-4 2 8 2-13 2-5 2 1 2-7 2 1 2 2 2-6 2-9 2-2 2-11 2-9 2 8 2-9 2-7 2-13 2-14 2-17 2-16 2-9 2-29 2-27 2-17 2-31 2-36 2-41 2-35 2-37 2-32 1 7M0 645l2 0 2-13 2 9 2-3 2-3 2 11 2-10 2-7 2 15 2-5 2 3 2-2 2 6 2-7 2 3 2-7 2 1 2 8 2-4 2-2 2-6 2 4 2 2 2 4 2-15 2 5 2 5 2 0 2 4 2-9 2 3 2 0 2-5 2 7 2-9 2 5 2-5 2 12 2-15 2 8 2 0 2-3 2 6 2-3 2-4 2-2 2 9 2-11 2 1 2-1 2-4 2-7 2 3 2 16 2-14 2 2 2 3 2-3 2-2 2-6 2 2 2-4 2 1 2-6 2-3 2 9 2 5 2-9 2-6 2-10 2-1 2-3 2-5 2 4 2 4 2-6 2-2 2 0 2-14 2 5 2 3 2-11 2-12 2 2 2-22 2-9 2 6 2-26 2-6 2-17 2-21 2-19 2-23 2-27 2-45 2-35 2-29 2-34 2-22 2-22M12 629h0M19 621h0M20 633h0M38 629h0M40 652h0M41 651h0M43 643h0M47 629h0M54 626h0M56 639h0M57 631h0M59 627h0M61 639h0M63 643h0M64 650h0M72 637h0M80 619h0M94 612h0M104 628h0M105 609h0M108 610h0M113 626h0M118 607h0M120 618h0M126 617h0M131 614h0M137 612h0M140 605h0M141 584h0M149 597h0M152 574h0M160 560h0M163 580h0M168 532h0M169 519h0M188 358h0M190 362h0M194 251h0M195 275h0M196 197h0"/></g>
<g class="fr"><path stroke-width="2" d="M0 0H306.9 M0 176H306.9"/><path stroke-width="2.3" stroke-linecap="square" d="M0 0V176 M306.9 0V176"/></g>
<text class="ti" x="153.45" y="-13.4">Critic w<tspan class="su" dy="5.6">2</tspan></text>
<text class="yt" x="-25.3" y="189.3">0</text><text class="yt" x="-25.3" y="111.08">40</text><text class="yt" x="-25.3" y="32.86">80</text>
<text class="xt" x="-1.5" y="233.1">0</text><text class="xt" x="151.95" y="233.1">100</text><text class="xt" x="305.4" y="233.1">200</text>
<text class="xl" x="150.45" y="285.6">Number of Pulses</text>
<text class="yl" transform="translate(-89.3 148.7) rotate(-90)"><tspan x="0">G (</tspan><tspan class="mu" x="50.5" dy="1">μ</tspan><tspan x="83.6" dy="-1">S</tspan><tspan x="109">)</tspan></text>
</g>
<g transform="translate(1704.8 34.9)">
<g class="fr"><path stroke-width="1.9" d="M0 97.78h3.6 M306.9 97.78h-3.6 M0 19.56h3.6 M306.9 19.56h-3.6 M153.45 0v3.6 M153.45 176v-3.6"/><path stroke-width="1.7" d="M0 166.22h2.3 M306.9 166.22h-2.3 M0 156.44h2.3 M306.9 156.44h-2.3 M0 146.67h2.3 M306.9 146.67h-2.3 M0 136.89h2.3 M306.9 136.89h-2.3 M0 127.11h2.3 M306.9 127.11h-2.3 M0 117.33h2.3 M306.9 117.33h-2.3 M0 107.56h2.3 M306.9 107.56h-2.3 M0 88h2.3 M306.9 88h-2.3 M0 78.22h2.3 M306.9 78.22h-2.3 M0 68.44h2.3 M306.9 68.44h-2.3 M0 58.67h2.3 M306.9 58.67h-2.3 M0 48.89h2.3 M306.9 48.89h-2.3 M0 39.11h2.3 M306.9 39.11h-2.3 M0 29.33h2.3 M306.9 29.33h-2.3 M0 9.78h2.3 M306.9 9.78h-2.3"/></g>
<g transform="scale(1.53450 0.25)"><path class="d f lt" d="M0 369L4 350L8 328L12 308L16 289L20 275L24 265L28 256L32 246L36 236L40 232L44 228L48 224L52 219L56 216L60 214L64 211L68 209L72 206L76 204L80 202L84 200L88 198L92 196L96 194L100 192L104 190L108 189L112 188L116 186L120 185L124 183L128 182L132 181L136 179L140 178L144 177L148 176L152 175L156 173L160 172L164 171L168 170L172 168L176 167L180 165L184 164L188 162L192 161L196 159L200 159L200 178L196 178L192 179L188 180L184 181L180 182L176 183L172 184L168 185L164 186L160 187L156 188L152 189L148 189L144 190L140 191L136 192L132 193L128 194L124 194L120 195L116 196L112 197L108 198L104 199L100 200L96 203L92 205L88 208L84 211L80 213L76 217L72 223L68 228L64 234L60 239L56 245L52 250L48 256L44 262L40 267L36 273L32 285L28 298L24 311L20 324L16 336L12 346L8 357L4 368L0 376Z"/><path class="d lt" d="M0 385l2-24 2-13 2-15 2-13 2-5 2-11 2-8 2-10 2-12 2-6 2-4 2-5 2-6 2 1 2-5 2-2 2 3 2-16 2 0 2 5 2-11 2-2 2 8 2-15 2 9 2-8 2-9 2 5 2-23 2 17 2 7 2-8 2-10 2 3 2 3 2-3 2 5 2-2 2-3 2-14 2 8 2-4 2 5 2-1 2 0 2-11 2 5 2-1 2-1 2 3 2-1 2-6 2 1 2 1 2-5 2 7 2-10 2 3 2-1 2 0 2-3 2 8 2 1 2-9 2 8 2-9 2-1 2 0 2-4 2 0 2 7 2-6 2-1 2 4 2 0 2-10 2 16 2-14 2 3 2-5 2 3 2 0 2 5 2-14 2 8 2 1 2-3 2 0 2 5 2-9 2-4 2 4 2 1 2 1 2-10 2 1 2 2 2 3 2-6 2 2M0 370l1-4 2-1 2-12 2-11 2-10 2-13 2-1 2-13 2-4 2-15 2 0 2-5 2-13 2-1 2 2 2-12 2 0 2-9 2-12 2-1 2 8 2-8 2 3 2-5 2 1 2-9 2 1 2 3 2-4 2-10 2-1 2-4 2 4 2 9 2-15 2 6 2-11 2 11 2 1 2-7 2-3 2 2 2-12 2 0 2-3 2 7 2-6 2-3 2 3 2-14 2 14 2 4 2-14 2 5 2 4 2-9 2 8 2-9 2 4 2-4 2 6 2 8 2-15 2 1 2-3 2 4 2 3 2-8 2 4 2-3 2 1 2-1 2-1 2-3 2-1 2 6 2 3 2-7 2 7 2-5 2 0 2 0 2-4 2-1 2 0 2-4 2 10 2-14 2 3 2 0 2 6 2-11 2 4 2-10 2 6 2-8 2 13 2-2 2 0 2 0 1-9M0 375l2-5 2-6 2-10 2-8 2-8 2-3 2-17 2-8 2 0 2-10 2-4 2-8 2-2 2-9 2-4 2-5 2-6 2-7 2-10 2 0 2 5 2-4 2-4 2 0 2-7 2-4 2 1 2-2 2-3 2 3 2-10 2 8 2-6 2-4 2-3 2 0 2-3 2-8 2 2 2-2 2 3 2-6 2 0 2 9 2-16 2 6 2 1 2 4 2-9 2 1 2-4 2-3 2 9 2-8 2-4 2 7 2-1 2 3 2-6 2 4 2 4 2-9 2 6 2-4 2-3 2 6 2-14 2 4 2 1 2 7 2-8 2-1 2-1 2 5 2-7 2 1 2-1 2 2 2-4 2 5 2-12 2 12 2 1 2-4 2-5 2-2 2-1 2 1 2-1 2 4 2-3 2-7 2 7 2 3 2 0 2-12 2 8 2-7 2 0 2 6M0 379l1-5 2-2 2-4 2-14 2-8 2 2 2-14 2-3 2-9 2 6 2-15 2-9 2-15 2 0 2 0 2-5 2-16 2 0 2-1 2-7 2 1 2-1 2-3 2-3 2-6 2-3 2-10 2 5 2 2 2-1 2-7 2 4 2-7 2-4 2-7 2 0 2-6 2 5 2-1 2-11 2 2 2-3 2-1 2 4 2-7 2 1 2-10 2 7 2-3 2 10 2-5 2-11 2 7 2-2 2 6 2 0 2-6 2 2 2-13 2 6 2-4 2 7 2-9 2 12 2-4 2-3 2-4 2 6 2-2 2-2 2 4 2 0 2-2 2-12 2 8 2-5 2 4 2-3 2 0 2-3 2-2 2 19 2-9 2-4 2 3 2-7 2 6 2-7 2 6 2-6 2 6 2-2 2-3 2-2 2 2 2-1 2 3 2-7 2 1 2-4 1-1M0 379l2-7 2-2 2-6 2-9 2-5 2-4 2 0 2-8 2-7 2 0 2-6 2-6 2-12 2-7 2-11 2-7 2-6 2 0 2-6 2 4 2-15 2 4 2-1 2 0 2-5 2-8 2 3 2-4 2-6 2-1 2-7 2 5 2-3 2-9 2 1 2-4 2 1 2 1 2-12 2 5 2 3 2-5 2-5 2-2 2 4 2-13 2 1 2 9 2-8 2-1 2 4 2 19 2-31 2 4 2-2 2 6 2-5 2 9 2-9 2 3 2-2 2 0 2-4 2-2 2 2 2-7 2 15 2-11 2 12 2-14 2-4 2 12 2-4 2-11 2 9 2 0 2-2 2 9 2-9 2 3 2-7 2 3 2-6 2 3 2 7 2-5 2 0 2-5 2 5 2 1 2-5 2 1 2-4 2 4 2-2 2-2 2 8 2-6 2 2 2 0M2 384h0M12 300h0M19 336h0M22 262h0M27 248h0M33 289h0M35 291h0M43 222h0M45 266h0M61 249h0M64 199h0M66 201h0M67 197h0M70 232h0M76 223h0M79 195h0M83 218h0M85 193h0M91 182h0M92 186h0M95 183h0M98 181h0M100 217h0M104 179h0M111 180h0M116 206h0M130 200h0M134 204h0M147 168h0M148 196h0M152 199h0M156 159h0M158 194h0M160 195h0M165 192h0M173 196h0M180 197h0M189 150h0M190 153h0M191 189h0M198 145h0M199 151h0"/></g>
<g transform="scale(1.53450 0.25)"><path class="d f dk" d="M0 407L4 405L8 403L12 401L16 399L20 398L24 396L28 394L32 392L36 390L40 388L44 386L48 385L52 384L56 383L60 383L64 382L68 382L72 381L76 378L80 375L84 371L88 368L92 365L96 362L100 359L104 355L108 351L112 348L116 344L120 340L124 334L128 327L132 321L136 314L140 306L144 296L148 286L152 277L156 267L160 259L164 250L168 242L172 234L176 226L180 219L184 212L188 203L192 193L196 177L200 157L200 184L196 192L192 208L188 226L184 240L180 250L176 260L172 269L168 277L164 285L160 293L156 301L152 310L148 318L144 326L140 334L136 342L132 348L128 355L124 361L120 368L116 371L112 374L108 377L104 380L100 383L96 386L92 389L88 391L84 394L80 396L76 399L72 402L68 405L64 408L60 411L56 414L52 417L48 420L44 421L40 423L36 424L32 425L28 426L24 428L20 428L16 429L12 430L8 430L4 431L0 431Z"/><path class="d dk" d="M0 397l2 3 2 6 2-11 2 11 2 3 2-5 2-10 2 6 2 0 2-14 2 2 2-1 2 3 2 10 2-15 2-3 2 2 2 3 2 8 2-10 2 2 2-14 2 10 2 2 2 2 2-8 2 7 2-4 2-2 2 2 2-2 2 0 2 3 2 2 2-2 2 3 2-7 2 9 2-12 2-4 2-3 2 6 2-10 2 5 2-11 2 12 2-14 2 4 2-11 2 10 2-2 2-4 2 15 2-11 2-8 2 1 2-8 2-4 2 7 2-2 2-8 2 3 2-6 2-8 2 9 2-12 2-8 2-4 2 11 2-22 2 2 2-3 2-5 2-17 2-1 2 4 2-6 2-8 2-9 2-7 2-3 2 4 2-3 2-7 2 1 2-9 2-6 2 1 2-8 2 5 2-14 2 0 2-3 2-12 2 0 2-7 2-9 2 6 2-23 2-2M0 427l1-8 2-6 2 9 2-2 2-7 2 3 2 6 2-6 2 7 2-22 2 10 2-4 2-5 2 1 2 6 2-13 2 6 2-5 2 0 2 1 2-2 2 3 2-4 2-6 2 5 2-3 2-1 2 12 2-12 2-1 2 2 2-2 2 2 2-3 2 4 2-9 2 0 2 4 2-4 2-2 2-7 2 10 2-4 2 0 2-2 2-11 2-2 2 3 2-2 2 2 2-6 2-11 2 8 2 11 2-16 2-4 2 4 2-2 2-4 2-5 2-5 2 3 2 2 2-8 2 4 2 1 2-3 2-16 2-2 2-5 2-4 2-3 2-22 2 10 2 1 2 0 2-24 2 7 2-4 2-5 2-3 2-2 2 0 2-14 2 4 2-9 2-13 2 5 2-10 2 2 2-10 2 2 2-10 2 4 2-10 2-2 2-18 2-6 2-4 2-19 1 6M0 416l2 10 2-6 2 0 2 0 2 6 2-4 2 0 2-4 2 7 2-8 2-9 2 1 2 8 2-8 2 4 2 6 2-4 2-5 2-2 2 15 2-13 2 0 2-3 2 4 2-7 2-8 2 4 2 2 2-9 2-3 2 9 2-5 2 1 2 5 2-2 2-2 2-3 2 0 2-13 2 1 2 3 2 12 2-10 2-3 2 1 2-11 2 1 2-3 2 5 2 0 2-16 2 12 2 2 2-7 2-3 2 6 2-6 2 7 2-8 2 8 2-8 2-8 2-2 2 1 2-7 2-11 2 1 2 4 2-6 2-3 2-10 2-10 2-6 2-3 2 1 2-2 2-13 2 4 2-14 2-6 2 4 2-4 2-12 2-4 2 12 2-7 2 1 2-9 2-4 2-7 2-11 2 4 2-16 2-2 2-7 2-10 2 3 2-21 2-4 2-14M0 431l1 0 2-4 2 10 2-3 2 5 2-15 2 6 2 1 2-4 2-1 2 9 2-1 2 2 2-3 2-2 2 6 2-11 2-3 2 2 2-4 2 3 2 2 2 4 2-7 2-6 2 9 2-13 2 1 2 0 2-5 2 0 2 2 2-1 2-7 2 11 2-16 2 10 2-9 2-7 2 7 2 2 2-4 2-9 2 5 2-4 2 17 2-15 2-2 2 3 2 3 2-1 2-18 2 5 2 4 2-10 2 4 2-6 2-5 2 2 2 2 2-5 2-10 2 7 2-8 2-3 2 3 2-8 2-5 2-8 2 0 2 2 2-4 2-13 2 8 2-12 2-7 2 6 2-13 2-1 2 1 2-8 2-1 2-16 2 8 2 0 2-14 2-3 2 5 2-10 2-12 2-7 2-6 2 4 2-7 2-14 2-3 2-19 2 9 2-12 2-5 1-9M2 451h0M4 439h0M12 393h0M17 389h0M19 436h0M21 387h0M22 439h0M27 385h0M29 378h0M31 433h0M32 433h0M36 376h0M38 380h0M40 429h0M41 370h0M53 428h0M57 424h0M58 423h0M64 421h0M69 370h0M72 369h0M87 406h0M101 339h0M103 348h0M104 387h0M106 388h0M109 338h0M112 383h0M113 385h0M116 380h0M120 332h0M125 368h0M129 310h0M130 358h0M133 313h0M145 343h0M146 272h0M147 282h0M148 329h0M155 259h0M158 254h0M160 301h0M171 227h0M172 276h0M174 273h0M176 271h0M179 215h0M185 248h0M187 245h0M190 232h0M195 208h0"/></g>
<g class="fr"><path stroke-width="2" d="M0 0H306.9 M0 176H306.9"/><path stroke-width="2.3" stroke-linecap="square" d="M0 0V176 M306.9 0V176"/></g>
<text class="ti" x="153.45" y="-13.4">Critic w<tspan class="su" dy="5.6">3</tspan></text>
<text class="yt" x="-25.3" y="189.3">0</text><text class="yt" x="-25.3" y="111.08">40</text><text class="yt" x="-25.3" y="32.86">80</text>
<text class="xt" x="-1.5" y="233.1">0</text><text class="xt" x="151.95" y="233.1">100</text><text class="xt" x="305.4" y="233.1">200</text>
<text class="xl" x="150.45" y="285.6">Number of Pulses</text>
<text class="yl" transform="translate(-89.3 148.7) rotate(-90)"><tspan x="0">G (</tspan><tspan class="mu" x="50.5" dy="1">μ</tspan><tspan x="83.6" dy="-1">S</tspan><tspan x="109">)</tspan></text>
</g>
<g transform="translate(117.5 431.73)">
<g class="fr"><path stroke-width="1.9" d="M0 97.78h3.6 M306.9 97.78h-3.6 M0 19.56h3.6 M306.9 19.56h-3.6 M153.45 0v3.6 M153.45 176v-3.6"/><path stroke-width="1.7" d="M0 166.22h2.3 M306.9 166.22h-2.3 M0 156.44h2.3 M306.9 156.44h-2.3 M0 146.67h2.3 M306.9 146.67h-2.3 M0 136.89h2.3 M306.9 136.89h-2.3 M0 127.11h2.3 M306.9 127.11h-2.3 M0 117.33h2.3 M306.9 117.33h-2.3 M0 107.56h2.3 M306.9 107.56h-2.3 M0 88h2.3 M306.9 88h-2.3 M0 78.22h2.3 M306.9 78.22h-2.3 M0 68.44h2.3 M306.9 68.44h-2.3 M0 58.67h2.3 M306.9 58.67h-2.3 M0 48.89h2.3 M306.9 48.89h-2.3 M0 39.11h2.3 M306.9 39.11h-2.3 M0 29.33h2.3 M306.9 29.33h-2.3 M0 9.78h2.3 M306.9 9.78h-2.3"/></g>
<g transform="scale(1.53450 0.25)"><path class="d f lt" d="M0 363L4 353L8 339L12 322L16 307L20 295L24 283L28 272L32 264L36 259L40 254L44 249L48 244L52 241L56 238L60 235L64 232L68 229L72 226L76 224L80 221L84 219L88 217L92 215L96 213L100 211L104 211L108 210L112 210L116 209L120 209L124 208L128 208L132 207L136 206L140 206L144 205L148 204L152 203L156 202L160 202L164 201L168 200L172 199L176 198L180 197L184 196L188 195L192 194L196 193L200 193L200 197L196 197L192 198L188 198L184 199L180 199L176 200L172 200L168 201L164 202L160 202L156 203L152 204L148 205L144 206L140 206L136 207L132 208L128 210L124 212L120 214L116 215L112 217L108 219L104 221L100 223L96 225L92 227L88 229L84 231L80 233L76 235L72 238L68 242L64 247L60 252L56 257L52 262L48 267L44 273L40 280L36 286L32 293L28 300L24 309L20 319L16 328L12 348L8 380L4 411L0 436Z"/><path class="d lt" d="M0 367l2-6 2-10 2-1 2-17 2-4 2-22 2 7 2-10 2 2 2-9 2-10 2-4 2-8 2-3 2 2 2-6 2-3 2-7 2-5 2 3 2-5 2-14 2 3 2 0 2 0 2-5 2 0 2-5 2 1 2 7 2-1 2-8 2-9 2 5 2-2 2 4 2-1 2-10 2 7 2-3 2-3 2-7 2 7 2 1 2 6 2-10 2-2 2-4 2 12 2-11 2 9 2-9 2 6 2-4 2-4 2-5 2 3 2 7 2-2 2-13 2 12 2-9 2 5 2-2 2 0 2 6 2 3 2-10 2 4 2 4 2-14 2 11 2-9 2 5 2-13 2 7 2 0 2-4 2-3 2 9 2-1 2-2 2 12 2-19 2 10 2-1 2-5 2-5 2 10 2 0 2 1 2-12 2 9 2-5 2 6 2-3 2 2 2 1 2-9 2 6M0 399l1 0 2-15 2-9 2-7 2-23 2 3 2-35 2 1 2-9 2-2 2-7 2 1 2-14 2-1 2-5 2-6 2-3 2-9 2 9 2-9 2 0 2-9 2 4 2 7 2-8 2 1 2-8 2-5 2 10 2-9 2-10 2 2 2-2 2 8 2-7 2-11 2 15 2-17 2 5 2-1 2-5 2 11 2-7 2-1 2 4 2-14 2 12 2-6 2-4 2-2 2-5 2 0 2 7 2-3 2-1 2 4 2-7 2-1 2 1 2-4 2 5 2 0 2-4 2-2 2 10 2-5 2-5 2 0 2 7 2 2 2-9 2 3 2 6 2-7 2-1 2 0 2-4 2-5 2 7 2 11 2-10 2 1 2 4 2-2 2-6 2-5 2 5 2-2 2-1 2-2 2 7 2-5 2-2 2-5 2 1 2 1 2 7 2-12 2 18 2-10 1-3M0 405l2-8 2-3 2-14 2 5 2-30 2-5 2-21 2-10 2-6 2-3 2-12 2 5 2-1 2-12 2-7 2 3 2-1 2-10 2 0 2 8 2-13 2-7 2-3 2 1 2 0 2-1 2 1 2-8 2-2 2 1 2-3 2-4 2-7 2-2 2 5 2-4 2-4 2 1 2 2 2 3 2-6 2-6 2 2 2 2 2-1 2-9 2-4 2 5 2 2 2 2 2-6 2-5 2 6 2-2 2-8 2 8 2-4 2-7 2 4 2 4 2-3 2-3 2 3 2-1 2-3 2-4 2 0 2-1 2 1 2 1 2-7 2 10 2-7 2-5 2 9 2-10 2 12 2-8 2 2 2 1 2 4 2-13 2 6 2 1 2-5 2-4 2 2 2 16 2-9 2-4 2 6 2 1 2-5 2 7 2-12 2 3 2 0 2-8 2 5 2-6M0 430l1-2 2-12 2-11 2-11 2-22 2-18 2-12 2-13 2-3 2-9 2 4 2-2 2-2 2-5 2-13 2 2 2-11 2-1 2-5 2 5 2-2 2-3 2-2 2-14 2 0 2-4 2 4 2-1 2-11 2 3 2-2 2-8 2-6 2-4 2 6 2 0 2 4 2-9 2-5 2 0 2 5 2 3 2-12 2 5 2-1 2-3 2-4 2 2 2-4 2-2 2-8 2 4 2 5 2 3 2-3 2-4 2-1 2-2 2-4 2 4 2-4 2-7 2 9 2-10 2 9 2-4 2 3 2-9 2 1 2-2 2 9 2-5 2-4 2 1 2 7 2-9 2 2 2-5 2 7 2-5 2 4 2-1 2-2 2 1 2 2 2 0 2-2 2 2 2-5 2 1 2-2 2 7 2-3 2 1 2-7 2 2 2 2 2-3 2 1 2 2 1-2M5 416h0M10 371h0M19 329h0M20 331h0M24 321h0M26 269h0M28 315h0M33 307h0M38 299h0M44 234h0M57 268h0M63 224h0M70 247h0M71 215h0M72 244h0M74 217h0M93 206h0M99 197h0M114 202h0M123 194h0M128 201h0M129 200h0M141 194h0M149 222h0M151 214h0M152 210h0M158 210h0M159 186h0M161 212h0M164 208h0M168 216h0M170 211h0M174 188h0M175 183h0M176 187h0M179 216h0M183 207h0"/></g>
<g transform="scale(1.53450 0.25)"><path class="d f dk" d="M0 507L4 506L8 505L12 504L16 502L20 501L24 500L28 498L32 497L36 496L40 495L44 494L48 492L52 491L56 490L60 489L64 487L68 486L72 485L76 484L80 483L84 482L88 481L92 480L96 479L100 477L104 473L108 467L112 462L116 457L120 452L124 450L128 448L132 446L136 444L140 443L144 441L148 438L152 436L156 434L160 431L164 426L168 417L172 409L176 397L180 383L184 368L188 343L192 305L196 253L200 203L200 237L196 270L192 319L188 367L184 409L180 427L176 440L172 450L168 458L164 465L160 472L156 479L152 485L148 492L144 498L140 500L136 502L132 504L128 506L124 508L120 510L116 512L112 514L108 516L104 518L100 521L96 523L92 525L88 527L84 529L80 531L76 533L72 535L68 536L64 536L60 536L56 536L52 536L48 536L44 536L40 537L36 537L32 538L28 539L24 539L20 540L16 540L12 541L8 542L4 542L0 543Z"/><path class="d dk" d="M0 509l2 4 2-10 2-5 2 9 2 4 2 1 2-4 2-5 2-2 2-4 2-3 2 13 2-24 2 22 2-11 2 14 2-17 2-3 2 0 2 6 2 9 2-5 2-9 2-8 2 2 2 15 2 1 2-24 2 4 2 11 2-4 2-6 2-7 2 8 2-5 2 7 2-9 2 8 2 4 2 2 2-5 2 3 2-5 2-4 2-1 2 9 2-14 2 2 2 4 2-1 2 11 2-16 2-9 2-4 2 6 2 7 2-23 2 24 2-3 2-11 2-1 2-4 2-1 2 1 2-13 2-5 2 11 2 0 2 2 2-9 2 0 2 9 2-14 2-4 2 1 2 6 2-6 2-5 2 5 2 3 2-15 2 10 2-8 2 11 2-29 2-8 2 6 2-3 2-3 2-33 2 6 2-3 2-20 2 5 2-46 2 3 2-29 2-25 2-40 2-11M0 513l1-3 2 5 2 4 2-13 2-9 2 10 2 9 2 2 2-5 2-11 2 9 2-5 2-21 2 5 2 13 2 2 2 1 2-6 2-2 2-7 2 5 2 11 2-9 2 10 2-11 2-6 2 19 2-6 2-13 2 2 2-4 2-9 2 17 2 2 2-11 2 0 2 5 2-5 2 13 2-2 2-9 2 11 2-25 2 10 2 10 2-12 2 0 2-4 2-3 2 1 2 16 2-16 2-11 2 4 2-1 2 9 2-4 2-2 2-18 2 5 2 13 2-3 2 3 2-4 2-19 2 8 2 9 2-18 2 6 2 10 2-7 2-12 2 0 2 6 2-20 2 2 2-10 2 6 2 11 2 2 2-14 2-6 2-4 2-12 2-1 2 7 2 0 2-13 2-2 2-9 2-9 2-6 2-9 2-16 2-12 2-9 2-30 2-29 2-28 2-33 1 0M0 536l2 3 2-12 2-16 2 4 2 12 2 0 2-16 2-10 2 16 2-9 2 9 2-4 2 18 2-20 2 4 2-5 2 0 2 6 2-9 2 5 2 4 2-9 2-4 2 21 2-17 2 3 2-7 2 10 2 5 2-9 2 13 2-18 2 22 2-14 2-12 2 2 2-1 2 1 2-10 2 11 2 1 2 9 2-13 2-1 2 3 2-6 2 11 2-8 2-7 2 7 2-6 2-1 2 5 2-9 2 7 2-13 2-5 2 7 2 1 2 0 2-8 2 3 2-14 2-7 2 11 2 4 2 9 2-4 2-27 2 9 2 7 2 1 2-20 2-1 2-1 2 3 2-9 2 23 2-23 2 9 2 4 2-10 2-8 2-12 2 12 2-3 2-18 2-5 2-14 2-2 2-8 2-4 2-14 2-6 2-26 2-36 2-10 2-29 2-35 2-15M0 529l1-10 2 0 2 5 2 20 2-14 2-10 2 13 2-11 2-14 2 11 2-1 2 13 2-9 2-7 2-5 2 7 2 12 2-13 2 1 2-6 2 3 2 8 2-9 2 4 2 6 2-5 2-11 2 21 2-1 2-25 2 18 2-1 2-8 2 22 2-18 2 9 2 1 2-15 2 6 2-12 2-1 2 18 2-28 2 18 2 0 2-9 2 5 2 10 2-5 2-17 2 7 2-6 2-4 2 2 2 0 2-1 2-10 2-3 2-12 2 19 2-19 2 2 2 19 2-3 2-3 2 9 2-11 2-14 2 10 2 5 2-10 2 4 2-16 2 9 2 14 2-13 2-2 2-17 2 16 2-17 2 2 2 4 2-11 2-8 2 5 2-1 2-10 2-4 2-18 2 2 2-4 2 0 2-23 2-2 2-37 2-30 2-16 2-42 2-6 2-18 1-17M0 521l2 12 2 2 2-4 2 8 2-14 2 18 2-15 2 8 2-5 2-9 2 13 2-6 2 19 2-18 2-4 2-9 2 10 2-3 2 3 2 0 2-6 2 4 2-3 2 26 2-4 2-4 2-5 2-13 2 0 2 12 2-7 2-3 2 12 2 0 2 3 2-26 2 18 2-2 2 1 2 5 2-1 2-11 2 6 2 1 2 5 2-1 2-16 2-7 2 6 2-12 2 15 2-3 2-6 2-15 2 12 2-3 2-6 2-2 2 0 2-7 2 0 2 17 2-14 2-6 2 25 2-18 2 9 2-2 2-27 2 4 2 7 2-9 2 4 2 0 2 12 2-19 2-17 2 14 2 0 2-4 2-20 2 15 2-8 2-3 2-23 2 29 2-23 2 2 2-5 2-21 2 0 2-2 2-20 2-29 2-24 2-11 2-26 2-32 2-23 2-20M0 534l1 3 2-5 2 30 2-11 2 8 2-14 2 15 2-26 2-2 2 15 2 0 2-6 2 1 2 22 2-20 2-6 2 5 2-16 2 12 2-7 2 7 2-6 2 14 2 1 2-17 2 13 2-16 2 19 2-14 2-6 2 12 2-3 2 10 2-18 2 11 2-10 2-2 2 13 2-2 2 1 2-11 2 3 2 8 2-19 2-7 2 6 2 6 2 8 2 1 2-5 2-13 2 9 2 6 2-8 2 3 2-6 2-16 2 18 2-9 2 1 2-16 2 22 2-20 2 10 2-2 2 5 2-6 2 0 2-12 2 2 2 3 2-5 2 2 2-1 2-4 2-10 2 9 2-5 2 3 2-2 2-8 2 6 2-27 2 1 2-7 2 3 2-11 2 11 2-4 2-24 2 15 2-19 2-13 2-18 2-37 2-15 2-44 2-12 2-24 2-15 1-4M1 500h0M7 493h0M9 482h0M15 496h0M21 554h0M26 493h0M31 548h0M35 476h0M40 543h0M41 545h0M43 550h0M48 484h0M81 467h0M83 540h0M86 466h0M96 529h0M102 531h0M111 454h0M112 440h0M114 521h0M115 522h0M119 522h0M124 439h0M125 514h0M128 441h0M130 438h0M131 512h0M149 505h0M159 405h0M161 485h0M162 487h0M164 485h0M174 456h0M175 463h0M176 384h0M180 436h0M184 421h0M187 326h0M190 320h0M191 304h0M195 303h0M196 233h0M198 202h0"/></g>
<path class="o dk" d="M76.1 104.9h0"/>
<g class="fr"><path stroke-width="2" d="M0 0H306.9 M0 176H306.9"/><path stroke-width="2.3" stroke-linecap="square" d="M0 0V176 M306.9 0V176"/></g>
<text class="ti" x="150.95" y="-13.4">Critic w<tspan class="su" dy="5.6">4</tspan></text>
<text class="yt" x="-25.3" y="189.3">0</text><text class="yt" x="-25.3" y="111.08">40</text><text class="yt" x="-25.3" y="32.86">80</text>
<text class="xt" x="-1.5" y="233.1">0</text><text class="xt" x="151.95" y="233.1">100</text><text class="xt" x="305.4" y="233.1">200</text>
<text class="xl" x="150.45" y="285.6">Number of Pulses</text>
<text class="yl" transform="translate(-89.3 148.7) rotate(-90)"><tspan x="0">G (</tspan><tspan class="mu" x="50.5" dy="1">μ</tspan><tspan x="83.6" dy="-1">S</tspan><tspan x="109">)</tspan></text>
</g>
<g transform="translate(646.6 431.73)">
<g class="fr"><path stroke-width="1.9" d="M0 97.78h3.6 M306.9 97.78h-3.6 M0 19.56h3.6 M306.9 19.56h-3.6 M153.45 0v3.6 M153.45 176v-3.6"/><path stroke-width="1.7" d="M0 166.22h2.3 M306.9 166.22h-2.3 M0 156.44h2.3 M306.9 156.44h-2.3 M0 146.67h2.3 M306.9 146.67h-2.3 M0 136.89h2.3 M306.9 136.89h-2.3 M0 127.11h2.3 M306.9 127.11h-2.3 M0 117.33h2.3 M306.9 117.33h-2.3 M0 107.56h2.3 M306.9 107.56h-2.3 M0 88h2.3 M306.9 88h-2.3 M0 78.22h2.3 M306.9 78.22h-2.3 M0 68.44h2.3 M306.9 68.44h-2.3 M0 58.67h2.3 M306.9 58.67h-2.3 M0 48.89h2.3 M306.9 48.89h-2.3 M0 39.11h2.3 M306.9 39.11h-2.3 M0 29.33h2.3 M306.9 29.33h-2.3 M0 9.78h2.3 M306.9 9.78h-2.3"/></g>
<g transform="scale(1.53450 0.25)"><path class="d f lt" d="M0 606L4 602L8 596L12 591L16 585L20 579L24 573L28 568L32 563L36 559L40 555L44 551L48 547L52 543L56 539L60 536L64 532L68 528L72 525L76 522L80 520L84 518L88 516L92 514L96 512L100 510L104 507L108 504L112 501L116 498L120 495L124 493L128 490L132 488L136 485L140 483L144 480L148 478L152 475L156 473L160 471L164 468L168 466L172 464L176 462L180 460L184 458L188 456L192 454L196 452L200 451L200 489L196 489L192 490L188 491L184 492L180 493L176 494L172 495L168 496L164 498L160 501L156 503L152 506L148 508L144 511L140 513L136 515L132 518L128 520L124 523L120 525L116 528L112 531L108 534L104 537L100 540L96 542L92 544L88 546L84 549L80 551L76 553L72 555L68 559L64 564L60 569L56 574L52 579L48 584L44 587L40 591L36 594L32 597L28 600L24 601L20 603L16 605L12 606L8 609L4 612L0 614Z"/><path class="d lt" d="M0 599l2 1 2-3 2-4 2-4 2-2 2-2 2-2 2 2 2-5 2-7 2 6 2-6 2-6 2 3 2-6 2-3 2-6 2 3 2-3 2-1 2-2 2-8 2-2 2 0 2 6 2-4 2-5 2-2 2-1 2-6 2 7 2 2 2-11 2-9 2 1 2 7 2-11 2 15 2-17 2 0 2-2 2 2 2 8 2-8 2-8 2 9 2 3 2-7 2-4 2-6 2 1 2 10 2-14 2 4 2-7 2 6 2-5 2 4 2-4 2-1 2-9 2 5 2 1 2-8 2 8 2-6 2-9 2 2 2 3 2-9 2 2 2-1 2 5 2 0 2-2 2-13 2 8 2 1 2 7 2-18 2 10 2-3 2-3 2 3 2-6 2-3 2 0 2-2 2 1 2 3 2 3 2-5 2-10 2 3 2-8 2 14 2-5 2-5 2 1 2-1M0 615l1-10 2 0 2 2 2-4 2-6 2 1 2-2 2-2 2-5 2 0 2-6 2-12 2 6 2-1 2 0 2-5 2 5 2-7 2-1 2-1 2 6 2-5 2-10 2 5 2-9 2 4 2-5 2-4 2 0 2-10 2 6 2-3 2 1 2-1 2-5 2-5 2-5 2-2 2 1 2-6 2-3 2-3 2 7 2-6 2 8 2-12 2 7 2-6 2 4 2 3 2 1 2-9 2 5 2-3 2-16 2 8 2-1 2-9 2 6 2-5 2 3 2-2 2-7 2 15 2-17 2 13 2-9 2-5 2 6 2 8 2-15 2 1 2-4 2-3 2 4 2 5 2 2 2-13 2 6 2 2 2-13 2 4 2-5 2 1 2-6 2-6 2-3 2 9 2-1 2-8 2 4 2 4 2-13 2 11 2-2 2 2 2-6 2 10 2-6 2-2 1-1M0 607l2 2 2-1 2-5 2 1 2-11 2 5 2 2 2 1 2-5 2-8 2-2 2 5 2-8 2-4 2-8 2 5 2-4 2-1 2-1 2 0 2-1 2-10 2 9 2-5 2 5 2-10 2 4 2-10 2 0 2 9 2-11 2-2 2-3 2-3 2 0 2-7 2 3 2-4 2 2 2-2 2 0 2-7 2 2 2-5 2 17 2-19 2 4 2-1 2-1 2 4 2-7 2-3 2 0 2 6 2 4 2-16 2 11 2 0 2-16 2 7 2-9 2 8 2-9 2 2 2-3 2 3 2-15 2 2 2 9 2-12 2-7 2 8 2 0 2-5 2-6 2 9 2 1 2-6 2 2 2-3 2 2 2 0 2-9 2 7 2-4 2 5 2-10 2 1 2 12 2-16 2 2 2-2 2 2 2-9 2 9 2 7 2-13 2 5 2-5 2-9M0 617l1 0 2-15 2 5 2-4 2-5 2 10 2-8 2-2 2 4 2-3 2-6 2 7 2-14 2 7 2 2 2-5 2 5 2-3 2-3 2-6 2 1 2-5 2 7 2-15 2-3 2 10 2-10 2-4 2 2 2-10 2-1 2 1 2-4 2 7 2-8 2-2 2 2 2-11 2 6 2 1 2-10 2 6 2-4 2-6 2 0 2 14 2-14 2 7 2-7 2-7 2 6 2-5 2-2 2-4 2 1 2 3 2-3 2 1 2 4 2 0 2-7 2-9 2 8 2-8 2 2 2-2 2-6 2 9 2-6 2-6 2-2 2 1 2-6 2 8 2-2 2-5 2 12 2-7 2-5 2-8 2-2 2 3 2 8 2-9 2-6 2 5 2 6 2-7 2-1 2 1 2 1 2-4 2 4 2-9 2 5 2 1 2 1 2-1 2 9 2 8 1-11M0 612l2 10 2-8 2-1 2-8 2 1 2 6 2-1 2-13 2 9 2-7 2 7 2-1 2 0 2-1 2 0 2-9 2 1 2-2 2-2 2 1 2-6 2-3 2-2 2-6 2 3 2 7 2-6 2-5 2-3 2 1 2-7 2-2 2-5 2 5 2-11 2 1 2 6 2-3 2-1 2 0 2-2 2-2 2-4 2 7 2-11 2-3 2 0 2 5 2-7 2-2 2 7 2-13 2 0 2 9 2-7 2 5 2-6 2-3 2 0 2-8 2 1 2 13 2-11 2-9 2-5 2 7 2-5 2 4 2-5 2 12 2-8 2-6 2 1 2 4 2-6 2 2 2 0 2-12 2 7 2-7 2 0 2 10 2-12 2 6 2-11 2-2 2 4 2-3 2 14 2-5 2-3 2-9 2 6 2-1 2-1 2-1 2 0 2 0 2-7 2 7M10 580h0M12 618h0M14 617h0M15 575h0M17 568h0M19 613h0M34 604h0M37 602h0M43 599h0M46 602h0M47 538h0M48 593h0M52 525h0M54 587h0M55 528h0M58 529h0M63 576h0M71 564h0M81 557h0M89 554h0M97 551h0M104 492h0M106 498h0M109 551h0M110 544h0M115 538h0M117 480h0M123 484h0M129 481h0M132 531h0M137 473h0M155 464h0M159 464h0M171 457h0M172 509h0M176 501h0M179 452h0M188 501h0M190 442h0M194 447h0M199 440h0"/></g>
<g transform="scale(1.53450 0.25)"><path class="d f dk" d="M0 647L4 647L8 647L12 647L16 646L20 646L24 646L28 645L32 645L36 645L40 644L44 644L48 644L52 643L56 642L60 641L64 640L68 639L72 639L76 638L80 637L84 636L88 635L92 634L96 633L100 633L104 631L108 630L112 628L116 627L120 626L124 624L128 623L132 621L136 619L140 617L144 614L148 612L152 609L156 607L160 603L164 599L168 595L172 591L176 584L180 576L184 568L188 556L192 541L196 510L200 460L200 494L196 523L192 548L188 566L184 579L180 587L176 594L172 600L168 603L164 606L160 610L156 613L152 615L148 617L144 618L140 620L136 622L132 624L128 625L124 626L120 627L116 628L112 629L108 630L104 631L100 633L96 633L92 634L88 635L84 636L80 637L76 638L72 639L68 639L64 640L60 641L56 642L52 643L48 644L44 644L40 644L36 645L32 645L28 645L24 646L20 646L16 646L12 647L8 647L4 647L0 647Z"/><path class="d dk" d="M0 641l2 3 2-4 2 6 2-10 2 5 2 2 2 7 2-3 2 0 2-2 2-14 2 20 2-4 2 0 2-7 2-2 2-3 2 6 2 5 2-6 2 0 2 3 2 2 2 4 2-18 2 11 2 3 2-1 2-8 2 8 2-9 2 12 2-11 2-4 2 11 2-7 2-7 2 3 2 5 2 9 2-7 2-10 2 13 2-7 2-1 2-2 2 4 2-12 2 0 2 8 2-8 2 2 2 3 2-1 2 1 2 1 2-1 2 0 2-14 2 11 2-2 2 2 2-9 2 0 2 13 2-3 2-6 2-7 2 3 2-5 2 3 2 4 2-4 2-11 2 4 2-8 2 10 2 0 2-3 2-5 2-6 2-5 2 2 2 7 2-15 2 5 2-10 2 2 2-4 2-1 2 1 2-11 2-1 2-7 2-8 2-4 2-35 2-8 2-19 2-20M0 650l1-6 2 0 2 0 2 8 2-2 2-2 2-2 2 1 2-1 2-2 2 1 2-1 2-10 2 9 2-1 2-1 2 1 2 0 2-1 2 4 2-8 2 5 2-5 2 4 2 4 2-4 2-4 2-1 2 9 2-6 2-5 2 8 2-8 2 4 2-1 2 3 2-6 2-3 2 3 2 2 2 5 2-10 2 0 2 7 2-10 2 1 2 7 2-4 2 2 2-12 2 13 2 0 2-9 2 8 2-12 2-4 2 5 2 4 2-3 2 1 2 5 2-11 2 8 2 7 2-12 2 3 2 12 2-16 2-3 2-8 2 9 2 2 2-10 2 1 2 3 2-11 2 12 2-7 2 1 2-2 2-5 2-7 2 6 2-7 2 7 2-15 2 11 2 1 2-4 2-6 2-1 2-8 2-10 2-2 2-3 2-21 2-14 2 8 2-29 2-18 1-11M0 645l2-2 2 6 2-7 2-3 2 13 2-4 2 2 2-8 2 7 2-3 2 11 2-16 2 6 2 2 2-4 2 5 2-4 2-8 2 6 2-8 2 0 2 5 2-2 2 4 2-5 2 5 2 4 2-8 2 7 2-8 2-4 2 10 2 5 2-8 2-4 2-6 2 1 2 7 2 6 2-13 2 5 2 1 2 2 2-9 2-3 2 1 2 9 2-3 2-8 2 8 2-2 2 1 2-3 2 12 2-16 2 3 2 0 2 2 2 7 2-13 2 1 2 3 2-5 2-5 2 6 2-2 2 1 2 2 2-2 2-1 2-12 2 6 2 4 2-4 2 10 2-8 2 1 2-10 2-1 2 0 2 5 2-10 2 1 2 0 2 4 2-11 2-4 2 3 2 3 2-11 2-4 2-2 2-4 2-12 2-9 2-14 2-6 2-16 2-17 2-16M2 653h0M9 656h0M11 630h0M18 629h0M27 653h0M30 636h0M32 650h0M35 628h0M36 634h0M46 634h0M50 647h0M53 647h0M66 620h0M69 633h0M77 647h0M78 644h0M79 628h0M86 646h0M87 647h0M94 621h0M101 622h0M105 618h0M110 618h0M120 636h0M124 634h0M130 612h0M138 610h0M140 600h0M142 632h0M145 626h0M151 622h0M152 602h0M155 628h0M161 616h0M167 586h0M170 614h0M171 620h0M178 598h0M180 599h0M186 555h0M195 543h0"/></g>
<path class="o dk" d="M247.6 142.3h0M256.8 141.4h0M209.8 148.8h0"/>
<g class="fr"><path stroke-width="2" d="M0 0H306.9 M0 176H306.9"/><path stroke-width="2.3" stroke-linecap="square" d="M0 0V176 M306.9 0V176"/></g>
<text class="ti" x="149.95" y="-13.4">Critic w<tspan class="su" dy="5.6">5</tspan></text>
<text class="yt" x="-25.3" y="189.3">0</text><text class="yt" x="-25.3" y="111.08">40</text><text class="yt" x="-25.3" y="32.86">80</text>
<text class="xt" x="-1.5" y="233.1">0</text><text class="xt" x="151.95" y="233.1">100</text><text class="xt" x="305.4" y="233.1">200</text>
<text class="xl" x="150.45" y="285.6">Number of Pulses</text>
<text class="yl" transform="translate(-89.3 148.7) rotate(-90)"><tspan x="0">G (</tspan><tspan class="mu" x="50.5" dy="1">μ</tspan><tspan x="83.6" dy="-1">S</tspan><tspan x="109">)</tspan></text>
</g>
<g transform="translate(1175.7 431.73)">
<g class="fr"><path stroke-width="1.9" d="M0 97.78h3.6 M306.9 97.78h-3.6 M0 19.56h3.6 M306.9 19.56h-3.6 M153.45 0v3.6 M153.45 176v-3.6"/><path stroke-width="1.7" d="M0 166.22h2.3 M306.9 166.22h-2.3 M0 156.44h2.3 M306.9 156.44h-2.3 M0 146.67h2.3 M306.9 146.67h-2.3 M0 136.89h2.3 M306.9 136.89h-2.3 M0 127.11h2.3 M306.9 127.11h-2.3 M0 117.33h2.3 M306.9 117.33h-2.3 M0 107.56h2.3 M306.9 107.56h-2.3 M0 88h2.3 M306.9 88h-2.3 M0 78.22h2.3 M306.9 78.22h-2.3 M0 68.44h2.3 M306.9 68.44h-2.3 M0 58.67h2.3 M306.9 58.67h-2.3 M0 48.89h2.3 M306.9 48.89h-2.3 M0 39.11h2.3 M306.9 39.11h-2.3 M0 29.33h2.3 M306.9 29.33h-2.3 M0 9.78h2.3 M306.9 9.78h-2.3"/></g>
<g transform="scale(1.53450 0.25)"><path class="d f lt" d="M0 539L4 531L8 520L12 510L16 505L20 500L24 495L28 490L32 485L36 480L40 476L44 471L48 467L52 463L56 459L60 454L64 450L68 446L72 441L76 437L80 433L84 429L88 426L92 423L96 420L100 418L104 416L108 415L112 413L116 412L120 410L124 408L128 406L132 405L136 403L140 401L144 399L148 398L152 397L156 395L160 394L164 393L168 392L172 390L176 389L180 387L184 386L188 384L192 383L196 381L200 381L200 407L196 408L192 410L188 411L184 412L180 414L176 415L172 417L168 418L164 419L160 420L156 420L152 421L148 421L144 422L140 423L136 425L132 426L128 427L124 428L120 429L116 431L112 432L108 434L104 435L100 437L96 442L92 448L88 453L84 459L80 465L76 471L72 477L68 483L64 489L60 495L56 498L52 501L48 503L44 505L40 508L36 510L32 513L28 515L24 518L20 520L16 523L12 525L8 530L4 535L0 540Z"/><path class="d lt" d="M0 532l2 3 2-7 2-7 2 1 2-3 2-13 2-2 2-8 2 4 2-17 2 3 2 0 2 4 2-8 2 6 2 4 2-18 2 5 2 1 2-10 2 9 2-10 2-7 2 5 2-7 2 2 2 5 2-13 2 1 2-10 2 8 2-3 2 2 2-11 2-1 2 1 2-16 2 9 2-3 2 1 2-1 2 2 2-5 2-1 2-9 2-1 2 4 2-3 2 4 2-6 2-1 2 0 2 1 2 0 2 0 2 3 2-2 2-6 2-4 2-4 2 8 2-9 2-3 2 7 2-2 2 1 2 3 2-6 2 0 2 3 2-7 2 6 2-8 2 5 2-3 2-3 2 4 2-7 2 2 2-15 2 9 2 3 2-1 2-5 2 6 2-5 2 1 2 2 2-4 2 4 2-7 2 2 2-2 2-2 2-1 2-4 2 9 2-11 2 3 2-1M0 539l1 1 2-9 2-5 2-9 2 6 2-8 2-3 2 2 2-8 2-6 2-2 2 7 2-6 2-4 2 0 2-3 2-6 2 4 2-8 2 4 2-10 2 3 2-8 2 1 2 11 2-13 2-7 2 8 2 0 2-8 2-2 2-1 2 0 2-12 2 8 2-5 2-10 2 7 2-16 2 6 2-9 2 1 2-2 2 4 2-3 2 1 2-8 2 4 2-4 2 0 2 2 2-5 2-1 2-8 2 8 2-1 2 2 2-7 2-3 2 0 2 12 2-3 2-9 2 6 2-1 2-13 2 9 2-2 2-4 2 7 2-10 2-8 2 14 2-6 2-3 2 4 2-2 2 2 2-1 2 6 2-9 2 2 2 1 2-1 2 0 2 6 2-10 2-9 2 9 2 0 2-2 2-3 2-1 2 4 2-9 2 3 2 13 2-4 2-15 2 12 1 0M0 540l2-9 2 5 2-8 2-3 2-3 2 6 2-6 2-12 2-5 2 2 2 9 2-3 2-11 2 8 2-10 2 0 2-11 2 9 2-1 2-1 2-3 2-2 2-4 2 1 2-3 2 0 2-10 2 5 2-4 2 2 2-3 2-3 2 2 2-2 2-8 2-9 2 5 2-9 2 4 2-6 2-2 2-3 2-4 2-1 2-9 2 4 2 2 2-7 2 6 2-13 2 4 2 2 2-2 2 0 2-3 2 3 2 0 2 0 2-9 2-1 2-9 2 17 2-11 2 12 2-14 2 3 2-2 2-2 2 4 2-3 2 0 2-2 2 10 2-5 2-11 2 3 2 5 2-8 2 6 2-13 2 12 2 2 2-6 2 8 2-12 2-4 2 7 2-4 2 10 2-10 2 2 2 8 2-7 2-7 2 8 2-5 2-5 2 8 2 0 2-5M0 540l1 1 2-2 2-5 2-4 2-4 2-3 2 1 2-2 2-1 2-1 2-1 2 7 2-12 2 0 2-8 2 17 2-16 2 7 2-12 2 8 2-10 2-3 2 0 2-5 2 4 2-4 2-4 2-3 2 12 2-7 2-9 2-6 2 13 2-4 2-14 2-2 2 6 2-5 2-1 2-5 2-9 2-8 2 4 2-7 2 3 2-11 2 8 2-13 2 5 2 6 2-9 2-2 2 6 2-2 2-2 2-6 2-1 2 0 2 0 2-3 2 6 2-1 2-3 2-4 2 1 2 4 2-10 2 8 2-6 2 0 2-5 2-3 2 6 2-2 2-5 2 5 2 0 2-1 2-8 2 12 2 4 2-2 2-11 2 4 2-5 2 4 2 1 2 3 2-9 2 5 2 10 2-14 2 9 2-11 2 3 2-1 2-9 2 5 2 2 2-4 1-10M0 542l2-6 2-5 2 17 2-10 2-13 2-1 2 8 2-13 2-3 2 7 2-3 2-1 2 2 2-10 2-2 2 6 2-6 2-1 2 5 2 0 2-2 2-3 2 11 2-20 2 2 2 2 2 3 2-3 2-2 2-4 2-11 2-4 2 7 2-4 2-7 2-4 2 1 2-6 2-2 2-3 2 0 2 12 2-14 2 0 2-16 2 7 2-8 2-2 2-4 2 2 2 0 2-1 2-2 2-4 2 2 2-6 2 7 2-3 2-7 2 1 2 11 2-6 2-4 2-3 2-2 2 5 2-4 2-4 2 0 2 1 2 3 2 3 2-7 2-5 2 8 2 8 2-11 2 3 2 5 2-10 2-4 2 0 2 1 2 5 2-4 2 3 2-2 2-12 2 0 2 11 2 2 2-10 2 8 2-9 2 5 2-2 2 3 2-6 2 3 2-2M11 503h0M19 529h0M20 529h0M21 527h0M25 486h0M36 464h0M48 454h0M49 459h0M54 511h0M63 508h0M70 488h0M77 427h0M80 419h0M81 471h0M83 477h0M89 416h0M93 453h0M94 462h0M97 412h0M99 448h0M109 441h0M112 444h0M114 442h0M121 392h0M129 397h0M134 433h0M140 434h0M142 392h0M147 389h0M148 383h0M154 386h0M157 431h0M164 386h0M166 376h0M174 383h0M179 432h0M180 425h0M185 375h0M188 418h0M191 419h0M195 415h0"/></g>
<g transform="scale(1.53450 0.25)"><path class="d f dk" d="M0 557L4 556L8 555L12 554L16 552L20 551L24 550L28 550L32 550L36 550L40 550L44 550L48 550L52 547L56 545L60 542L64 540L68 537L72 535L76 535L80 535L84 535L88 535L92 535L96 535L100 535L104 532L108 529L112 526L116 523L120 520L124 518L128 517L132 515L136 513L140 511L144 509L148 506L152 503L156 500L160 497L164 494L168 491L172 484L176 476L180 469L184 460L188 451L192 439L196 422L200 391L200 434L196 451L192 467L188 482L184 494L180 506L176 516L172 524L168 533L164 536L160 538L156 541L152 543L148 546L144 548L140 552L136 557L132 561L128 565L124 569L120 574L116 576L112 578L108 580L104 583L100 585L96 586L92 586L88 587L84 587L80 588L76 588L72 589L68 589L64 590L60 591L56 591L52 592L48 592L44 593L40 594L36 594L32 595L28 595L24 596L20 597L16 599L12 600L8 601L4 602L0 603Z"/><path class="d dk" d="M0 553l2 5 2 8 2-6 2-12 2 13 2-5 2 2 2 2 2-7 2 1 2 13 2-15 2 2 2 4 2-13 2 8 2-17 2 11 2 0 2 5 2-4 2 4 2 2 2-5 2 3 2-6 2-4 2 3 2-17 2 5 2 3 2-8 2 15 2-7 2-12 2 5 2 12 2-10 2 14 2-8 2-4 2 3 2 0 2-1 2-15 2 11 2-1 2 1 2-8 2 11 2-4 2-5 2-3 2 3 2 16 2-8 2-8 2-8 2 6 2-3 2-6 2 3 2-22 2 16 2 2 2 13 2-16 2 14 2-32 2 6 2-4 2 18 2-11 2 9 2-12 2-4 2 24 2-16 2 0 2-10 2 2 2-6 2-2 2-5 2 8 2 5 2-16 2-7 2 9 2-22 2 9 2-12 2 3 2 5 2-20 2-8 2-3 2-14 2-20 2-17M0 561l1 12 2-7 2-10 2 6 2-7 2 0 2 9 2-8 2 9 2-1 2-10 2 6 2-9 2 12 2-1 2-5 2-12 2 13 2-20 2 17 2 16 2-16 2-6 2 0 2 4 2-5 2-1 2 1 2 17 2-20 2-5 2 6 2-5 2 10 2-5 2 6 2-2 2 9 2-10 2 8 2-12 2-1 2 16 2-4 2 11 2-10 2-13 2 10 2-5 2 9 2-9 2 0 2-1 2-14 2 6 2-6 2-7 2 6 2 5 2-7 2 4 2 0 2-2 2-6 2-15 2 16 2-5 2 4 2 1 2-9 2 7 2-9 2-3 2-1 2 0 2-5 2 10 2-13 2-3 2 6 2 11 2-31 2 11 2-7 2 7 2-3 2-14 2 4 2-3 2-14 2 5 2-14 2-4 2-12 2 12 2-18 2-6 2 13 2-29 2-8 1 2M0 561l2-4 2 0 2 12 2 10 2-10 2 19 2-23 2 9 2 0 2 5 2-3 2 0 2-5 2-7 2 8 2-7 2 9 2-3 2-10 2 6 2-6 2 4 2-5 2-2 2 2 2 6 2-5 2 1 2 5 2-4 2-9 2-5 2 2 2 2 2-10 2 16 2-5 2-5 2-9 2 27 2 4 2-23 2 12 2 8 2-5 2-7 2-15 2 21 2-15 2 7 2-8 2-8 2 20 2-10 2-10 2 7 2-3 2 3 2 2 2 1 2 7 2-7 2-5 2-4 2 6 2 2 2-11 2-16 2 8 2-6 2 0 2 9 2-5 2-9 2 5 2 11 2-21 2-5 2 5 2-2 2-5 2 9 2-6 2-4 2 2 2-8 2-10 2 1 2-3 2-2 2-3 2-20 2 5 2 2 2 5 2-14 2-17 2-21 2 10 2-20M0 582l1 10 2 11 2-18 2-13 2 12 2-4 2 3 2-4 2-6 2 3 2 0 2-2 2-2 2 12 2-7 2 1 2 3 2 1 2-1 2-11 2 4 2 3 2-5 2-7 2 1 2-4 2 0 2 13 2 4 2-9 2 3 2 4 2-19 2 25 2 1 2-24 2 23 2-24 2 12 2 4 2 0 2-14 2 5 2 4 2 1 2-18 2 8 2 4 2-2 2 3 2 1 2-2 2-3 2 10 2-18 2 7 2-8 2-3 2 2 2 4 2 2 2-13 2-16 2-1 2 20 2 1 2-2 2-1 2-3 2 10 2-6 2-12 2-20 2 30 2-20 2-6 2-4 2 1 2 15 2-4 2-18 2 3 2 0 2 8 2-7 2 0 2-16 2 7 2 7 2-6 2-8 2-11 2-10 2-1 2-8 2 1 2-15 2-7 2-9 2-10 1-10M0 605l2-3 2-18 2-3 2 16 2 4 2 0 2-12 2-5 2 6 2-7 2 8 2-5 2-17 2 19 2 10 2-13 2-2 2 3 2 2 2 3 2-1 2 2 2-1 2 2 2-13 2 8 2-6 2 6 2-8 2-5 2 6 2-5 2 4 2-13 2 4 2 8 2-6 2-8 2 19 2-1 2 7 2-2 2-2 2-13 2 6 2-6 2 10 2-7 2 6 2-9 2 2 2 0 2-2 2 2 2-15 2 13 2-10 2 18 2 11 2-31 2 0 2 14 2-15 2 4 2-9 2 16 2-20 2-7 2 8 2 2 2-6 2 4 2-12 2-11 2-2 2 18 2-2 2 7 2-16 2 5 2-7 2-2 2 19 2-37 2 10 2-7 2-11 2 19 2-16 2-7 2-2 2-4 2-13 2 4 2-7 2-15 2-9 2 6 2-22 2-4M0 615l1-15 2 12 2-2 2 1 2-12 2 2 2-5 2 6 2 15 2-2 2-25 2 3 2-8 2 24 2-15 2 4 2-11 2-5 2 18 2-3 2 2 2-7 2-15 2 9 2 4 2 15 2-14 2 9 2-8 2 8 2-13 2 7 2-2 2-2 2-3 2-2 2 4 2 6 2 1 2-1 2-5 2 0 2 4 2-3 2-8 2 5 2-7 2 15 2-2 2-6 2-19 2-1 2 21 2 7 2-12 2-2 2-16 2 12 2 9 2-6 2-5 2 4 2-10 2-7 2 10 2-6 2-6 2 18 2-24 2 4 2-17 2 1 2 11 2-8 2-2 2-7 2 12 2 0 2 2 2 4 2-10 2-4 2-14 2 3 2 5 2-9 2 4 2-10 2-3 2-11 2-4 2 1 2-7 2 5 2-24 2-5 2 1 2-25 2 15 2-26 1 4M1 610h0M7 609h0M8 611h0M15 540h0M21 544h0M25 526h0M35 543h0M43 607h0M49 535h0M51 608h0M58 531h0M60 605h0M66 523h0M69 596h0M70 527h0M75 602h0M87 529h0M90 519h0M93 528h0M94 524h0M98 601h0M99 601h0M104 519h0M109 521h0M111 515h0M113 590h0M126 575h0M127 506h0M130 493h0M139 566h0M144 492h0M147 553h0M150 555h0M151 485h0M154 552h0M157 564h0M166 484h0M170 546h0M174 535h0M175 471h0M178 457h0M189 485h0M192 424h0M195 414h0M199 374h0"/></g>
<g class="fr"><path stroke-width="2" d="M0 0H306.9 M0 176H306.9"/><path stroke-width="2.3" stroke-linecap="square" d="M0 0V176 M306.9 0V176"/></g>
<text class="ti" x="153.45" y="-13.4">Critic w<tspan class="su" dy="5.6">6</tspan></text>
<text class="yt" x="-25.3" y="189.3">0</text><text class="yt" x="-25.3" y="111.08">40</text><text class="yt" x="-25.3" y="32.86">80</text>
<text class="xt" x="-1.5" y="233.1">0</text><text class="xt" x="151.95" y="233.1">100</text><text class="xt" x="305.4" y="233.1">200</text>
<text class="xl" x="150.45" y="285.6">Number of Pulses</text>
<text class="yl" transform="translate(-89.3 148.7) rotate(-90)"><tspan x="0">G (</tspan><tspan class="mu" x="50.5" dy="1">μ</tspan><tspan x="83.6" dy="-1">S</tspan><tspan x="109">)</tspan></text>
</g>
<g transform="translate(1704.8 431.73)">
<g class="fr"><path stroke-width="1.9" d="M0 97.78h3.6 M306.9 97.78h-3.6 M0 19.56h3.6 M306.9 19.56h-3.6 M153.45 0v3.6 M153.45 176v-3.6"/><path stroke-width="1.7" d="M0 166.22h2.3 M306.9 166.22h-2.3 M0 156.44h2.3 M306.9 156.44h-2.3 M0 146.67h2.3 M306.9 146.67h-2.3 M0 136.89h2.3 M306.9 136.89h-2.3 M0 127.11h2.3 M306.9 127.11h-2.3 M0 117.33h2.3 M306.9 117.33h-2.3 M0 107.56h2.3 M306.9 107.56h-2.3 M0 88h2.3 M306.9 88h-2.3 M0 78.22h2.3 M306.9 78.22h-2.3 M0 68.44h2.3 M306.9 68.44h-2.3 M0 58.67h2.3 M306.9 58.67h-2.3 M0 48.89h2.3 M306.9 48.89h-2.3 M0 39.11h2.3 M306.9 39.11h-2.3 M0 29.33h2.3 M306.9 29.33h-2.3 M0 9.78h2.3 M306.9 9.78h-2.3"/></g>
<g transform="scale(1.53450 0.25)"><path class="d f lt" d="M0 578L4 574L8 564L12 554L16 550L20 546L24 543L28 539L32 535L36 532L40 528L44 524L48 521L52 517L56 513L60 510L64 508L68 506L72 504L76 502L80 500L84 499L88 497L92 495L96 493L100 491L104 488L108 485L112 482L116 479L120 477L124 475L128 473L132 471L136 469L140 467L144 465L148 463L152 461L156 458L160 456L164 453L168 451L172 449L176 447L180 445L184 443L188 441L192 439L196 437L200 436L200 459L196 460L192 463L188 466L184 469L180 472L176 475L172 478L168 481L164 483L160 486L156 488L152 491L148 493L144 496L140 498L136 501L132 503L128 506L124 508L120 511L116 513L112 516L108 519L104 522L100 525L96 527L92 529L88 531L84 533L80 535L76 537L72 540L68 542L64 545L60 547L56 549L52 550L48 551L44 552L40 554L36 555L32 556L28 557L24 558L20 560L16 561L12 562L8 564L4 574L0 578Z"/><path class="d lt" d="M0 577l2 1 2-2 2-5 2-6 2-11 2-1 2-10 2 4 2-7 2 11 2-17 2 3 2 0 2-2 2-3 2 1 2-3 2 6 2-6 2-8 2 3 2-6 2 4 2-7 2 3 2-3 2-2 2 5 2-12 2 1 2 0 2-3 2-5 2-2 2 2 2 5 2 1 2-1 2-7 2-11 2 16 2-18 2 12 2-2 2-4 2-4 2 7 2-6 2 3 2 0 2-1 2-6 2 7 2-11 2 9 2-4 2 0 2-3 2-5 2 6 2-8 2-1 2 2 2 1 2-8 2 1 2-2 2-3 2 7 2-6 2-4 2-5 2 1 2 8 2-9 2 2 2-1 2-9 2 6 2-1 2 5 2-6 2-6 2 0 2 2 2-4 2-11 2 11 2 5 2-14 2 5 2 0 2 2 2-3 2-3 2-4 2-5 2 0 2 4 2 1M0 573l1-5 2 7 2-6 2 7 2-20 2 3 2-2 2-6 2-7 2 1 2-1 2 6 2-2 2-4 2-10 2-3 2 8 2-4 2-10 2 9 2 0 2-2 2-2 2 1 2-5 2-1 2 4 2-4 2-3 2 3 2-6 2-3 2-4 2 7 2 4 2-3 2-5 2-1 2 2 2-7 2-4 2 3 2-5 2 1 2 0 2 11 2-14 2-1 2 8 2-11 2 2 2 2 2-9 2 0 2 4 2-5 2-11 2 9 2-5 2 5 2 4 2-5 2-16 2 13 2-13 2 5 2 2 2-4 2 5 2-1 2-5 2-4 2 6 2-2 2-3 2 3 2 1 2-3 2 2 2 3 2-8 2-8 2 8 2 2 2-7 2-1 2-7 2-6 2 7 2 0 2-5 2-1 2-8 2 6 2-6 2-2 2 9 2-10 2 3 2 2 1 4M0 575l2-4 2-3 2-3 2 6 2-18 2 2 2 10 2-10 2 2 2-3 2 0 2 5 2-8 2 9 2-4 2-7 2 12 2-13 2 2 2 0 2-8 2-1 2 3 2-3 2-3 2 2 2 1 2-2 2 2 2-11 2-1 2-2 2 2 2-2 2-1 2 2 2 5 2-13 2 0 2 8 2-10 2 5 2 0 2-16 2 15 2-2 2-2 2 2 2 2 2-10 2 2 2-2 2-6 2 2 2-5 2 3 2-3 2-1 2 2 2 2 2-1 2-4 2 4 2-5 2-3 2-4 2 3 2-7 2 3 2-2 2 7 2-6 2-16 2 0 2 3 2 2 2-9 2 2 2 0 2 0 2 6 2-6 2 1 2-7 2 1 2 0 2 4 2-3 2 0 2-5 2 7 2-12 2 11 2-11 2 1 2 0 2-6 2 3 2 1 2 1M0 572l1 5 2 2 2-10 2 2 2-11 2 1 2 1 2-8 2 8 2-2 2-8 2 3 2 4 2-6 2 4 2 1 2 5 2-8 2 2 2-2 2 2 2-8 2 2 2-6 2 8 2-8 2 13 2-4 2-9 2-6 2 12 2-11 2 5 2-8 2 3 2 4 2 1 2-13 2 2 2-2 2 7 2 4 2-8 2 3 2-9 2-2 2 4 2-3 2-7 2 6 2 1 2-2 2-2 2 0 2-9 2 4 2 1 2-5 2-1 2-5 2 10 2-8 2-2 2 4 2-10 2 7 2-8 2-5 2 9 2-3 2-2 2-7 2 0 2 4 2-10 2 3 2 5 2-4 2-9 2 12 2-6 2-8 2 5 2-3 2-2 2 10 2-7 2-5 2-6 2 4 2-4 2 4 2-5 2 9 2-22 2 12 2-4 2-7 2 5 2-5 1 5M1 570h0M3 578h0M5 559h0M6 555h0M8 577h0M12 539h0M14 542h0M18 533h0M28 575h0M29 528h0M30 564h0M31 526h0M37 567h0M43 564h0M44 515h0M52 505h0M53 557h0M57 562h0M63 500h0M67 494h0M78 489h0M83 482h0M87 541h0M88 485h0M92 545h0M105 531h0M115 470h0M119 521h0M130 519h0M131 519h0M133 458h0M141 457h0M157 496h0M158 503h0M161 447h0M162 439h0M163 445h0M165 444h0M166 491h0M172 441h0M173 441h0M176 482h0M177 489h0M186 424h0M187 484h0M191 433h0M194 429h0M198 471h0"/></g>
<g transform="scale(1.53450 0.25)"><path class="d f dk" d="M0 588L4 589L8 590L12 590L16 591L20 591L24 592L28 591L32 591L36 590L40 590L44 589L48 588L52 586L56 583L60 581L64 578L68 576L72 573L76 571L80 568L84 566L88 563L92 560L96 558L100 555L104 555L108 555L112 555L116 555L120 555L124 551L128 548L132 544L136 540L140 537L144 533L148 528L152 523L156 518L160 513L164 508L168 503L172 496L176 489L180 482L184 474L188 467L192 459L196 446L200 435L200 458L196 468L192 479L188 489L184 499L180 509L176 516L172 524L168 531L164 535L160 538L156 541L152 544L148 547L144 550L140 552L136 554L132 556L128 557L124 559L120 561L116 563L112 566L108 568L104 570L100 572L96 574L92 576L88 579L84 581L80 583L76 585L72 587L68 588L64 588L60 589L56 590L52 590L48 591L44 591L40 592L36 593L32 593L28 594L24 594L20 596L16 597L12 598L8 600L4 601L0 602Z"/><path class="d dk" d="M0 592l2-5 2 12 2-4 2-7 2-3 2-7 2 4 2 0 2 10 2-2 2-8 2 15 2-8 2-5 2 2 2-2 2 10 2-5 2 2 2-3 2-5 2-3 2 13 2-6 2 1 2 2 2-3 2-4 2-11 2 7 2 5 2-2 2-4 2-1 2-9 2 2 2 8 2-17 2 1 2 2 2-5 2 9 2 4 2-15 2-5 2 1 2-2 2 6 2 7 2-11 2 6 2-2 2 2 2-26 2 26 2-7 2-5 2 1 2 5 2-1 2 0 2-3 2-13 2 17 2-11 2-3 2-3 2 16 2-29 2 12 2-7 2 9 2-13 2 3 2-7 2-1 2-4 2-1 2 5 2-8 2-19 2 20 2-11 2 1 2-12 2-6 2 9 2-5 2-16 2 5 2 2 2-12 2-4 2 3 2-10 2-7 2-4 2-8 2 6 2-16M0 581l1 4 2 7 2-7 2 9 2-3 2 5 2-4 2 3 2 4 2-5 2 1 2-6 2 6 2-11 2 17 2-7 2 1 2-8 2 0 2-3 2 15 2-8 2-4 2 5 2-6 2 4 2-4 2 0 2 1 2-10 2 13 2-7 2-1 2-2 2 4 2-10 2-8 2 6 2 5 2-5 2 0 2-7 2-2 2 4 2 10 2-4 2-14 2 4 2 10 2-7 2-1 2-3 2-1 2-9 2 11 2-4 2-2 2 2 2-1 2 4 2-3 2-2 2-9 2-2 2 5 2-4 2 8 2-13 2 5 2-4 2-1 2-2 2 0 2-4 2-6 2 5 2-15 2 15 2-21 2 17 2-4 2 3 2-9 2-1 2-7 2-8 2 1 2-8 2 0 2-7 2 6 2-11 2-10 2 17 2-14 2-6 2-11 2-12 2-4 2 4 1-18M0 607l2-13 2-4 2 9 2-11 2 9 2-1 2-3 2-8 2 11 2-6 2 2 2 5 2-6 2 3 2-7 2 7 2-9 2 7 2-4 2 5 2-5 2-3 2 10 2-1 2 0 2 5 2-3 2-10 2 4 2-12 2 10 2-10 2 5 2 0 2-9 2 9 2-3 2 2 2-2 2 5 2-20 2 15 2 2 2-8 2 7 2-10 2 0 2-5 2 14 2-7 2-2 2-2 2-4 2-1 2 1 2-4 2 6 2-6 2 2 2-5 2-8 2 6 2-4 2 5 2-5 2 14 2-19 2 11 2-5 2-6 2 6 2-11 2 13 2-14 2 0 2-5 2 1 2-10 2 7 2-1 2 4 2-11 2 8 2-11 2-2 2 0 2-19 2 4 2 10 2-7 2-14 2 2 2-15 2 8 2-8 2-3 2-17 2 2 2-9 2-9M0 594l1 7 2-3 2 10 2-11 2 6 2-11 2 15 2-13 2-2 2 7 2 3 2-1 2-1 2-6 2 4 2-3 2 7 2-6 2 1 2-5 2 3 2 1 2-9 2 6 2-1 2-2 2 8 2-3 2-5 2-2 2 7 2-6 2 1 2 4 2 6 2-11 2 0 2 3 2-7 2-7 2-1 2 11 2 0 2 1 2-8 2-2 2 5 2-9 2 7 2-8 2-2 2 5 2-6 2-5 2-4 2 5 2-5 2 11 2-7 2-3 2-6 2 7 2 0 2-2 2 2 2 1 2-5 2 0 2-3 2-8 2 2 2-2 2 8 2-12 2 2 2 0 2 8 2-20 2 9 2-1 2 1 2-7 2-6 2-2 2 6 2-15 2 12 2-5 2-8 2-9 2 1 2-8 2-12 2-11 2 10 2-11 2-3 2-1 2-19 2-3 1 9M6 606h0M7 613h0M13 617h0M15 609h0M17 574h0M29 604h0M31 609h0M32 601h0M34 612h0M36 578h0M38 581h0M40 584h0M42 570h0M45 604h0M49 574h0M50 600h0M69 566h0M73 561h0M78 596h0M84 587h0M88 553h0M89 546h0M93 554h0M95 588h0M102 588h0M103 581h0M110 546h0M112 574h0M117 545h0M123 568h0M127 541h0M131 562h0M138 532h0M141 525h0M142 567h0M144 566h0M146 520h0M151 559h0M152 552h0M162 546h0M164 549h0M167 486h0M176 469h0M187 500h0M197 475h0"/></g>
<g class="fr"><path stroke-width="2" d="M0 0H306.9 M0 176H306.9"/><path stroke-width="2.3" stroke-linecap="square" d="M0 0V176 M306.9 0V176"/></g>
<text class="ti" x="153.45" y="-13.4">Critic w<tspan class="su" dy="5.6">7</tspan></text>
<text class="yt" x="-25.3" y="189.3">0</text><text class="yt" x="-25.3" y="111.08">40</text><text class="yt" x="-25.3" y="32.86">80</text>
<text class="xt" x="-1.5" y="233.1">0</text><text class="xt" x="151.95" y="233.1">100</text><text class="xt" x="305.4" y="233.1">200</text>
<text class="xl" x="150.45" y="285.6">Number of Pulses</text>
<text class="yl" transform="translate(-89.3 148.7) rotate(-90)"><tspan x="0">G (</tspan><tspan class="mu" x="50.5" dy="1">μ</tspan><tspan x="83.6" dy="-1">S</tspan><tspan x="109">)</tspan></text>
</g>
<g transform="translate(117.5 828.56)">
<g class="fr"><path stroke-width="1.9" d="M0 97.78h3.6 M306.9 97.78h-3.6 M0 19.56h3.6 M306.9 19.56h-3.6 M153.45 0v3.6 M153.45 176v-3.6"/><path stroke-width="1.7" d="M0 166.22h2.3 M306.9 166.22h-2.3 M0 156.44h2.3 M306.9 156.44h-2.3 M0 146.67h2.3 M306.9 146.67h-2.3 M0 136.89h2.3 M306.9 136.89h-2.3 M0 127.11h2.3 M306.9 127.11h-2.3 M0 117.33h2.3 M306.9 117.33h-2.3 M0 107.56h2.3 M306.9 107.56h-2.3 M0 88h2.3 M306.9 88h-2.3 M0 78.22h2.3 M306.9 78.22h-2.3 M0 68.44h2.3 M306.9 68.44h-2.3 M0 58.67h2.3 M306.9 58.67h-2.3 M0 48.89h2.3 M306.9 48.89h-2.3 M0 39.11h2.3 M306.9 39.11h-2.3 M0 29.33h2.3 M306.9 29.33h-2.3 M0 9.78h2.3 M306.9 9.78h-2.3"/></g>
<g transform="scale(1.53450 0.25)"><path class="d f lt" d="M0 481L4 469L8 453L12 437L16 427L20 417L24 407L28 397L32 387L36 378L40 371L44 365L48 359L52 353L56 347L60 341L64 336L68 331L72 326L76 321L80 316L84 311L88 307L92 302L96 297L100 293L104 291L108 288L112 286L116 284L120 282L124 279L128 276L132 273L136 269L140 266L144 263L148 261L152 258L156 256L160 254L164 251L168 249L172 246L176 244L180 241L184 239L188 236L192 234L196 231L200 230L200 268L196 269L192 272L188 275L184 278L180 281L176 284L172 287L168 290L164 292L160 295L156 297L152 300L148 302L144 305L140 307L136 310L132 312L128 314L124 317L120 320L116 324L112 328L108 333L104 337L100 341L96 345L92 349L88 352L84 356L80 362L76 368L72 374L68 380L64 387L60 393L56 398L52 403L48 408L44 412L40 417L36 422L32 427L28 432L24 437L20 442L16 447L12 452L8 461L4 472L0 481Z"/><path class="d lt" d="M0 477l2-6 2-3 2-10 2-5 2-6 2-13 2-4 2-9 2 1 2-8 2-2 2 2 2-7 2-14 2-3 2-9 2 13 2-16 2-3 2 2 2-4 2-13 2 0 2 1 2-7 2-2 2-5 2-4 2-3 2-1 2-16 2 18 2-10 2 0 2-9 2 2 2-2 2 4 2 3 2-21 2 1 2 3 2-1 2-2 2-5 2-2 2-8 2 7 2-14 2 6 2-12 2 7 2-3 2 7 2 3 2-6 2-6 2 4 2-5 2 7 2-6 2-19 2 10 2 3 2 3 2-8 2-2 2-7 2-12 2 12 2 2 2 1 2-8 2-6 2 10 2-5 2-8 2 3 2-4 2 12 2-10 2 0 2-2 2 0 2-3 2-5 2 5 2-6 2-1 2-1 2 3 2-13 2 11 2-6 2-1 2 0 2 4 2-7 2-5 2 8M0 484l1-1 2-12 2-5 2-9 2-7 2-6 2-14 2 5 2 1 2-10 2-17 2 12 2-15 2 4 2 2 2-6 2-8 2-9 2 3 2-9 2-11 2 7 2-10 2 5 2-1 2-7 2-9 2-2 2-4 2 2 2-17 2-1 2 17 2-3 2-5 2 2 2 2 2-2 2-8 2-10 2 6 2-13 2 5 2-12 2 7 2-9 2-1 2-1 2-5 2 0 2-2 2-3 2 0 2-6 2-3 2 0 2-4 2 6 2 0 2 0 2-7 2-3 2 7 2-4 2 2 2-1 2-5 2 0 2-7 2 4 2-8 2-10 2 3 2 3 2 5 2 2 2-10 2 3 2-7 2 7 2-4 2-3 2 0 2-12 2 5 2-6 2 0 2 3 2 3 2-2 2 4 2-2 2-10 2-3 2 7 2-3 2-1 2-4 2-8 2 4 1-12M0 484l2-4 2-17 2 1 2-7 2-2 2-11 2-4 2 2 2-1 2-3 2-8 2-7 2 5 2-10 2 0 2-15 2 3 2-5 2-6 2-1 2-7 2 4 2-7 2-9 2 5 2 1 2-2 2 1 2 0 2-10 2 4 2-9 2 0 2-5 2-2 2-1 2-7 2 0 2-6 2-5 2 6 2 1 2-13 2 1 2-14 2 6 2 2 2-6 2-8 2 4 2-1 2-5 2-3 2-7 2 7 2 2 2-2 2-4 2-1 2 0 2 2 2-10 2 5 2-5 2-4 2-2 2 1 2-6 2 4 2-1 2-9 2 7 2-4 2 2 2-10 2-2 2 5 2-11 2-5 2 7 2 0 2-5 2 2 2-5 2-2 2 9 2-8 2-3 2-1 2 11 2-4 2-7 2 1 2 8 2-7 2-4 2-3 2 1 2 3 2-6M0 474l1 9 2-5 2-9 2-16 2-5 2 1 2-6 2 4 2-8 2-1 2-6 2-4 2 2 2-2 2-7 2-3 2-1 2-7 2-5 2-1 2-7 2-2 2 6 2-5 2 3 2 3 2-17 2 6 2 0 2-6 2-5 2-2 2 4 2-6 2-14 2 8 2-10 2-9 2 4 2-10 2 4 2 0 2-6 2 5 2-6 2 0 2 1 2-10 2 2 2 9 2-5 2-10 2 1 2-5 2-3 2-7 2 2 2 3 2-13 2 7 2-8 2 2 2-5 2-3 2 7 2-13 2 2 2-6 2 8 2 0 2-6 2 2 2-6 2 9 2 4 2-11 2 6 2-7 2-1 2 6 2-7 2 2 2-11 2 1 2-1 2-11 2 8 2-12 2 10 2-9 2 6 2-5 2 2 2-1 2-2 2 2 2 3 2-11 2 1 2 13 1-12M0 493l2-14 2-8 2-1 2-3 2-15 2-3 2 4 2-8 2 0 2-2 2-5 2 2 2-1 2-6 2 1 2-3 2-2 2 0 2-4 2-1 2-11 2 12 2-9 2-1 2-11 2-7 2 3 2 4 2-9 2 3 2-17 2 3 2 0 2-4 2 2 2-1 2-7 2-11 2 3 2-3 2-1 2 0 2-13 2 9 2-8 2 0 2-5 2-4 2 2 2 0 2 6 2-10 2-8 2 11 2-3 2-17 2 8 2-6 2-1 2 2 2-1 2-8 2-2 2-5 2 15 2-10 2-4 2 8 2 4 2-13 2-8 2 1 2 5 2-3 2 5 2-8 2 1 2-1 2 6 2-3 2-8 2-2 2 2 2-4 2-10 2 10 2-9 2 2 2-11 2-8 2 14 2-4 2 2 2-1 2 2 2-3 2 3 2-6 2 0 2 0M7 470h0M8 469h0M10 435h0M26 393h0M30 436h0M33 437h0M34 372h0M36 434h0M41 364h0M45 419h0M47 349h0M49 351h0M50 340h0M62 404h0M63 396h0M68 388h0M76 310h0M79 304h0M84 301h0M87 291h0M88 292h0M91 364h0M99 350h0M111 343h0M122 330h0M123 330h0M124 330h0M125 324h0M126 332h0M131 262h0M140 318h0M151 245h0M158 304h0M160 241h0M165 298h0M168 301h0M172 303h0M184 225h0M191 220h0M195 283h0M197 277h0"/></g>
<g transform="scale(1.53450 0.25)"><path class="d f dk" d="M0 491L4 489L8 486L12 484L16 481L20 479L24 476L28 475L32 474L36 472L40 471L44 470L48 469L52 468L56 468L60 467L64 466L68 466L72 465L76 462L80 460L84 457L88 455L92 452L96 449L100 447L104 443L108 439L112 436L116 432L120 428L124 425L128 422L132 419L136 416L140 413L144 410L148 405L152 400L156 395L160 390L164 382L168 370L172 358L176 345L180 331L184 316L188 299L192 278L196 256L200 229L200 258L196 286L192 310L188 328L184 346L180 363L176 381L172 394L168 401L164 409L160 416L156 422L152 429L148 436L144 442L140 447L136 452L132 457L128 462L124 467L120 472L116 478L112 483L108 489L104 495L100 501L96 503L92 504L88 506L84 508L80 509L76 511L72 512L68 514L64 515L60 516L56 517L52 519L48 520L44 520L40 521L36 522L32 522L28 523L24 523L20 524L16 525L12 525L8 526L4 527L0 527Z"/><path class="d dk" d="M0 484l2 1 2 7 2-14 2 8 2 1 2-9 2 1 2 0 2-4 2-8 2 3 2 7 2-7 2-9 2 10 2 7 2-18 2 13 2-13 2 6 2 14 2-15 2 0 2 6 2-8 2 5 2 4 2-7 2-1 2-15 2 18 2-11 2 14 2-9 2 2 2-2 2 14 2-11 2-11 2 7 2 4 2-2 2-8 2-3 2 12 2-19 2 10 2-14 2 17 2-5 2-7 2-9 2-2 2-1 2-9 2 19 2-10 2-11 2 1 2 1 2 5 2-5 2 5 2-7 2 10 2-5 2-7 2-7 2 9 2-7 2-6 2 1 2-4 2-8 2 0 2 2 2-15 2 16 2-14 2 17 2-24 2-1 2-4 2-11 2-5 2-4 2-8 2-8 2-2 2-7 2-13 2 9 2-13 2-23 2-2 2-9 2-16 2-10 2-24 2 0M0 491l1-9 2 8 2 1 2-3 2-1 2-5 2 2 2 2 2 4 2-15 2 9 2-6 2 6 2-1 2-16 2 10 2 1 2-14 2 6 2 3 2-3 2-9 2 20 2-3 2 6 2-8 2 2 2-6 2 15 2-4 2-5 2-5 2-2 2-2 2 6 2 2 2-1 2-3 2 1 2-15 2 16 2-10 2 11 2-3 2-17 2 4 2 2 2-9 2 10 2-15 2 4 2-3 2 0 2-1 2 5 2 3 2-1 2-8 2-6 2-5 2 7 2-22 2 21 2-5 2-14 2 7 2-17 2 18 2-2 2-11 2-2 2 7 2-14 2-5 2-3 2 5 2-8 2 3 2-7 2-5 2 7 2 1 2-5 2-7 2-12 2-10 2 6 2-19 2-6 2-4 2-4 2-4 2-11 2-4 2-26 2 13 2-25 2-11 2-15 2-16 1-8M0 504l2 10 2-9 2-7 2 12 2-11 2-3 2 3 2-2 2-2 2 1 2 5 2-3 2-6 2 7 2-11 2 1 2-4 2-6 2 9 2-2 2 4 2 2 2-13 2 9 2-5 2 11 2-10 2-17 2 28 2-10 2 7 2-10 2 7 2-7 2 7 2 5 2-9 2 1 2 2 2-3 2-9 2-4 2 4 2-5 2-7 2 7 2 3 2 0 2-8 2 2 2 1 2-13 2 5 2-6 2-3 2 7 2 4 2-13 2-1 2 0 2-7 2 12 2-4 2 4 2-13 2-1 2 1 2-21 2 5 2-3 2 2 2 15 2-28 2 3 2 12 2-24 2 14 2-11 2-7 2-8 2 12 2-8 2-9 2-9 2-3 2-5 2-13 2-11 2-9 2 7 2-20 2-7 2 10 2-18 2-14 2-11 2-8 2-10 2-25 2-10M0 518l1-5 2-4 2 4 2-3 2 6 2 1 2 1 2-9 2 5 2 5 2-4 2-5 2-4 2 6 2 6 2-14 2 2 2 0 2 6 2-7 2 1 2 1 2-7 2 0 2-4 2 3 2-5 2 6 2 3 2-5 2 1 2-3 2 2 2 7 2 0 2-3 2-1 2-1 2-3 2-11 2-4 2 2 2-10 2 7 2-8 2 7 2 8 2-6 2 16 2-8 2-4 2 5 2-18 2 2 2-8 2-5 2 7 2-12 2-6 2 0 2-3 2 15 2-15 2 6 2-10 2-7 2 10 2 3 2-8 2-10 2 0 2-2 2-5 2 0 2-5 2 6 2-3 2-15 2-1 2-16 2 0 2 0 2 0 2-17 2-1 2 10 2-7 2-2 2-20 2-6 2-3 2 11 2-27 2-2 2-15 2-15 2-14 2-5 2-23 2-16 1-1M0 516l2 6 2 7 2-17 2-2 2 11 2 1 2 6 2-4 2-5 2 11 2-21 2 15 2-6 2-1 2-1 2-3 2 0 2-3 2 16 2-5 2-3 2-9 2-6 2 4 2-5 2-2 2 8 2-4 2-1 2 1 2-3 2-3 2-5 2 4 2 18 2-12 2-2 2-7 2 18 2-23 2 12 2-12 2-1 2 25 2-14 2-4 2-5 2 11 2 2 2-5 2-4 2-6 2 6 2-13 2 0 2-2 2-5 2-8 2-9 2 8 2-9 2 5 2-9 2 8 2-21 2 14 2-2 2 2 2-8 2-9 2 3 2-7 2-1 2-2 2-4 2 0 2-8 2 10 2-8 2-1 2-12 2-2 2 4 2-3 2-1 2-17 2-5 2-3 2-1 2-15 2-9 2-7 2-8 2-11 2-16 2 3 2-22 2-10 2-9 2-21M0 531l1-4 2-2 2 14 2-8 2-3 2 2 2-3 2 5 2-8 2-2 2 20 2-20 2 2 2 2 2-1 2-1 2-10 2 6 2-6 2 6 2 11 2-5 2-6 2 12 2-11 2 6 2-6 2 0 2-8 2-4 2 17 2-6 2-2 2-1 2 3 2-5 2 9 2-13 2-6 2 9 2 6 2-7 2 0 2 0 2 3 2-3 2-12 2 4 2-9 2 5 2-6 2 9 2-12 2 9 2-21 2 2 2-1 2 2 2-6 2 0 2 2 2-2 2-6 2-7 2 11 2-9 2-9 2-10 2 2 2 13 2-4 2-11 2-14 2 3 2 2 2-10 2-5 2 4 2 3 2-16 2-10 2 12 2-11 2 4 2-12 2-2 2-8 2 1 2-10 2-9 2-3 2-17 2-13 2 1 2-15 2-10 2-14 2 0 2-14 2-28 1 5M8 475h0M10 533h0M12 464h0M33 466h0M34 461h0M36 530h0M41 454h0M51 454h0M53 461h0M60 525h0M61 456h0M63 457h0M68 443h0M71 520h0M75 521h0M79 453h0M82 452h0M83 515h0M84 521h0M86 442h0M87 446h0M92 445h0M93 512h0M94 517h0M102 436h0M103 424h0M104 514h0M106 500h0M108 424h0M113 489h0M130 475h0M134 411h0M140 462h0M143 457h0M144 401h0M145 452h0M152 446h0M155 435h0M162 377h0M167 365h0M171 409h0M182 370h0M187 296h0M191 270h0M198 231h0"/></g>
<path class="o dk" d="M182.2 101.5h0M62.2 109.3h0M46.6 112.1h0"/>
<g class="fr"><path stroke-width="2" d="M0 0H306.9 M0 176H306.9"/><path stroke-width="2.3" stroke-linecap="square" d="M0 0V176 M306.9 0V176"/></g>
<text class="ti" x="153.45" y="-13.4">Critic w<tspan class="su" dy="5.6">8</tspan></text>
<text class="yt" x="-25.3" y="189.3">0</text><text class="yt" x="-25.3" y="111.08">40</text><text class="yt" x="-25.3" y="32.86">80</text>
<text class="xt" x="-1.5" y="233.1">0</text><text class="xt" x="151.95" y="233.1">100</text><text class="xt" x="305.4" y="233.1">200</text>
<text class="xl" x="150.45" y="285.6">Number of Pulses</text>
<text class="yl" transform="translate(-89.3 148.7) rotate(-90)"><tspan x="0">G (</tspan><tspan class="mu" x="50.5" dy="1">μ</tspan><tspan x="83.6" dy="-1">S</tspan><tspan x="109">)</tspan></text>
</g>
<g transform="translate(1175.7 828.56)">
<g class="fr"><path stroke-width="1.9" d="M0 97.78h3.6 M306.9 97.78h-3.6 M0 19.56h3.6 M306.9 19.56h-3.6 M153.45 0v3.6 M153.45 176v-3.6"/><path stroke-width="1.7" d="M0 166.22h2.3 M306.9 166.22h-2.3 M0 156.44h2.3 M306.9 156.44h-2.3 M0 146.67h2.3 M306.9 146.67h-2.3 M0 136.89h2.3 M306.9 136.89h-2.3 M0 127.11h2.3 M306.9 127.11h-2.3 M0 117.33h2.3 M306.9 117.33h-2.3 M0 107.56h2.3 M306.9 107.56h-2.3 M0 88h2.3 M306.9 88h-2.3 M0 78.22h2.3 M306.9 78.22h-2.3 M0 68.44h2.3 M306.9 68.44h-2.3 M0 58.67h2.3 M306.9 58.67h-2.3 M0 48.89h2.3 M306.9 48.89h-2.3 M0 39.11h2.3 M306.9 39.11h-2.3 M0 29.33h2.3 M306.9 29.33h-2.3 M0 9.78h2.3 M306.9 9.78h-2.3"/></g>
<g transform="scale(1.53450 0.25)"><path class="d f lt" d="M0 378L4 333L8 302L12 279L16 261L20 248L24 240L28 231L32 223L36 218L40 212L44 206L48 201L52 198L56 196L60 193L64 191L68 188L72 186L76 184L80 182L84 179L88 177L92 175L96 173L100 171L104 170L108 168L112 167L116 165L120 164L124 163L128 161L132 160L136 160L140 159L144 159L148 158L152 158L156 158L160 157L164 157L168 156L172 156L176 156L180 156L184 156L188 156L192 156L196 156L200 156L200 198L196 198L192 198L188 198L184 198L180 198L176 198L172 198L168 198L164 198L160 199L156 199L152 199L148 200L144 200L140 201L136 201L132 201L128 203L124 205L120 207L116 209L112 211L108 212L104 214L100 216L96 219L92 222L88 225L84 229L80 232L76 235L72 238L68 242L64 245L60 249L56 253L52 256L48 260L44 266L40 273L36 279L32 286L28 296L24 313L20 330L16 346L12 359L8 382L4 429L0 436Z"/><path class="d lt" d="M0 384l2-15 2-19 2-24 2-18 2-17 2-11 2-9 2-5 2-10 2-13 2 0 2-8 2-1 2-4 2-2 2-11 2-3 2-3 2 6 2-9 2-3 2 11 2-14 2-5 2 8 2-2 2 1 2-12 2 7 2 0 2-8 2-1 2-2 2-2 2 0 2-2 2 0 2-4 2 5 2-1 2 2 2-10 2-5 2 5 2-3 2 2 2 3 2-5 2-6 2 10 2-9 2-1 2 3 2-3 2-1 2 2 2-6 2 2 2-5 2-2 2 11 2-5 2-2 2-6 2 1 2 5 2-7 2 4 2-3 2-2 2 0 2 6 2 4 2-11 2 10 2 4 2-2 2-6 2-8 2 5 2 7 2-8 2 7 2 3 2 5 2-26 2 16 2-8 2 4 2-6 2 8 2-6 2-5 2 11 2-2 2-5 2-2 2 6 2 2 2 7M0 386l1-4 2-25 2-22 2-7 2-22 2-11 2-9 2-8 2-19 2-4 2-4 2-1 2-7 2-3 2 3 2-16 2 5 2-6 2-9 2 11 2-8 2-7 2-8 2 6 2-5 2-3 2-6 2-8 2 12 2-7 2 2 2-14 2 11 2 1 2-11 2 1 2-5 2 4 2-4 2 8 2-7 2-1 2 10 2-8 2 5 2-3 2-2 2-2 2 1 2 4 2-2 2 5 2-1 2-4 2-13 2 2 2-1 2-8 2 4 2-2 2 4 2-8 2 0 2 4 2 0 2 1 2 0 2-3 2 0 2 12 2-18 2 7 2 7 2-8 2 13 2-11 2 4 2 3 2-8 2 1 2-1 2 8 2-10 2 6 2 2 2-5 2 3 2-6 2-1 2-3 2 3 2 7 2-2 2-3 2-6 2 8 2-5 2 4 2-6 2 4 1 2M0 390l2-15 2-23 2-9 2-19 2-16 2 2 2-17 2-11 2-8 2-8 2-8 2-1 2-7 2 0 2 1 2-14 2 0 2-6 2 7 2-14 2 6 2 1 2-10 2 1 2-1 2-1 2-8 2 0 2 9 2-16 2 0 2-1 2-2 2-1 2 6 2-6 2 3 2-1 2 0 2-6 2 3 2 0 2-13 2 2 2 4 2-4 2-1 2-4 2 8 2-7 2 9 2-11 2 0 2 2 2-2 2-5 2 8 2-3 2 5 2-9 2 5 2-3 2 2 2 0 2-9 2 7 2-5 2 4 2 4 2-8 2-8 2 4 2 0 2 3 2-9 2 4 2-1 2-6 2 1 2-3 2 14 2-17 2 12 2-8 2 3 2 12 2-11 2-1 2-9 2 19 2-13 2-2 2 0 2 2 2 7 2-5 2 4 2 2 2-4 2 4M0 418l1-7 2-19 2-20 2-15 2-17 2-15 2-9 2-10 2-8 2-12 2 2 2-6 2-4 2-8 2-8 2-9 2-5 2 8 2-8 2 1 2-4 2-3 2-13 2 1 2 5 2-8 2-3 2-11 2 4 2-3 2 9 2-3 2-6 2 11 2-15 2 2 2 2 2 3 2-2 2 1 2-3 2-4 2-1 2-3 2-7 2 5 2-8 2 3 2-4 2-2 2 1 2-2 2-12 2 23 2-4 2-6 2 3 2-3 2 0 2-13 2 13 2-6 2 2 2 6 2-5 2 3 2-11 2 6 2-3 2-2 2 4 2-4 2 5 2-10 2 1 2 2 2 0 2 1 2 0 2 3 2-20 2 12 2 0 2-5 2 2 2 4 2-1 2 4 2-2 2-7 2 7 2-10 2 10 2 0 2 1 2 3 2-3 2-2 2 12 2 1 1-11M0 420l2-4 2-6 2-25 2-27 2-12 2-4 2-13 2-9 2-16 2 1 2-7 2-10 2-6 2-6 2 4 2-17 2-3 2 5 2-4 2-1 2-9 2 3 2-5 2-7 2 2 2-6 2 2 2-9 2 8 2-10 2 11 2 0 2-1 2-6 2-3 2 0 2-3 2 0 2 2 2-7 2-6 2-3 2-7 2 10 2-5 2-5 2 3 2-9 2-3 2 8 2-8 2 4 2 0 2-5 2 4 2-1 2-10 2 8 2-1 2-1 2 5 2-10 2 10 2-8 2-2 2-6 2-4 2 5 2-2 2 0 2 7 2-12 2 11 2-15 2 14 2-7 2 1 2 7 2-13 2 7 2 5 2-6 2-5 2 4 2 1 2 5 2 3 2-7 2 3 2-5 2-3 2 2 2 6 2-4 2 3 2-4 2 3 2 12 2-7 2-7M0 436l1-2 2-10 2-10 2-20 2-27 2-6 2-1 2-13 2-13 2-5 2-6 2-15 2-3 2-10 2-13 2-7 2 4 2-8 2 1 2 1 2-9 2-9 2-2 2 4 2-3 2 3 2 1 2 1 2-7 2-1 2-3 2-10 2 3 2 1 2-1 2-7 2 12 2-15 2 5 2-6 2 2 2-11 2 4 2-1 2-8 2-1 2 1 2-5 2 4 2-3 2 1 2 0 2-4 2 1 2-4 2 3 2 7 2-11 2 1 2-2 2 2 2-4 2-5 2-5 2 5 2-2 2-1 2 2 2 2 2-1 2 2 2-7 2 4 2 4 2-14 2 7 2-1 2-2 2 5 2 0 2-4 2-4 2 0 2 6 2-8 2 6 2 3 2-3 2 3 2-12 2 15 2-3 2-6 2 8 2-10 2 16 2-7 2 2 2-10 2 6 1 0M0 436l2 3 2-10 2-21 2-29 2-9 2-3 2-10 2-8 2-12 2-12 2 0 2-15 2-3 2-12 2-8 2 2 2-4 2 0 2-5 2-4 2 1 2-5 2-1 2 0 2-16 2 9 2 4 2-12 2-5 2 1 2 11 2-21 2-6 2 4 2 4 2-10 2 6 2-3 2 6 2-8 2 3 2-10 2 7 2-9 2 2 2-3 2-7 2 15 2-21 2 11 2-2 2-8 2 0 2 2 2-3 2-4 2 2 2 11 2-11 2 7 2-6 2-2 2 1 2 0 2-5 2-3 2 4 2 1 2-8 2-4 2 15 2 3 2-14 2 6 2-5 2-4 2 4 2 4 2-4 2 4 2-7 2-1 2 9 2-3 2 6 2-12 2 11 2-7 2 5 2-9 2 1 2-2 2 6 2-9 2 12 2-5 2 0 2-5 2 6 2-12M11 373h0M15 257h0M31 218h0M33 297h0M38 293h0M52 181h0M54 268h0M62 182h0M65 180h0M69 257h0M75 174h0M76 245h0M78 170h0M81 241h0M88 231h0M94 168h0M96 233h0M97 233h0M99 164h0M100 164h0M107 227h0M108 221h0M110 159h0M114 156h0M117 158h0M121 150h0M135 152h0M137 150h0M138 209h0M143 152h0M144 144h0M147 213h0M149 207h0M150 144h0M151 211h0M152 143h0M155 214h0M161 207h0M164 208h0M169 206h0M180 205h0M181 148h0M185 149h0M186 146h0M189 145h0M192 204h0M197 146h0M199 149h0"/></g>
<path class="o lt" d="M7.6 129.6h0"/>
<g transform="scale(1.53450 0.25)"><path class="d f dk" d="M0 609L4 610L8 611L12 613L16 614L20 615L24 616L28 616L32 615L36 615L40 614L44 613L48 612L52 610L56 608L60 605L64 603L68 600L72 598L76 595L80 593L84 590L88 587L92 585L96 582L100 580L104 580L108 580L112 580L116 580L120 580L124 580L128 580L132 580L136 580L140 580L144 579L148 575L152 570L156 565L160 560L164 553L168 543L172 533L176 522L180 508L184 490L188 465L192 414L196 311L200 196L200 208L196 311L192 414L188 477L184 509L180 530L176 545L172 556L168 563L164 571L160 577L156 580L152 583L148 586L144 590L140 592L136 594L132 595L128 597L124 599L120 601L116 602L112 604L108 605L104 607L100 608L96 609L92 610L88 611L84 613L80 614L76 615L72 616L68 617L64 618L60 619L56 621L52 622L48 623L44 624L40 624L36 625L32 626L28 626L24 627L20 627L16 628L12 629L8 629L4 630L0 631Z"/><path class="d dk" d="M0 619l2-13 2-3 2-2 2-9 2 20 2 2 2-1 2-2 2 2 2 0 2 8 2-19 2 11 2-3 2 3 2 3 2 8 2-16 2-3 2 4 2-3 2 1 2 0 2 7 2-3 2-4 2 6 2-8 2-3 2-9 2 12 2-2 2-6 2 0 2 8 2-24 2 26 2-7 2-15 2 7 2-5 2 5 2-9 2 6 2-7 2-4 2 3 2 3 2-11 2 3 2-5 2 9 2-10 2 10 2-8 2 7 2 7 2-10 2 5 2-6 2 0 2 4 2 6 2-1 2-5 2 7 2-5 2-11 2 13 2-11 2 6 2-8 2 17 2-21 2 3 2-1 2-5 2-7 2 2 2-2 2-1 2-7 2-5 2-12 2 0 2 11 2-11 2-9 2-7 2 2 2-11 2-13 2-25 2 0 2-29 2-23 2-46 2-51 2-88 2-52M0 618l1-5 2 7 2-2 2-2 2 3 2-5 2 6 2-5 2-4 2 12 2-13 2 17 2-12 2-1 2-5 2 10 2-2 2-6 2 2 2 0 2 7 2-3 2 0 2 5 2-2 2-13 2 8 2-8 2-2 2 10 2-4 2-1 2-10 2-9 2 10 2 4 2 4 2-8 2 3 2-7 2 0 2-7 2 8 2-1 2-7 2 0 2 2 2 5 2 2 2-15 2-8 2 16 2-9 2 14 2-24 2 10 2 5 2 2 2 9 2-12 2 5 2-2 2-20 2 27 2-4 2 6 2-8 2-18 2 12 2-2 2 9 2-12 2-10 2 16 2-10 2 3 2-3 2-2 2 7 2-18 2-7 2-2 2 2 2-14 2 3 2 5 2-21 2-13 2 14 2-23 2-3 2-9 2-3 2-13 2-16 2-40 2-30 2-57 2-73 2-38 1-31M0 621l2 12 2-15 2-5 2 15 2 0 2 2 2-11 2 1 2 6 2-8 2 1 2 9 2-5 2 5 2-12 2 3 2 13 2-13 2-3 2 2 2 9 2-15 2 12 2-8 2 2 2 0 2 8 2-7 2 11 2-14 2-12 2 10 2-14 2 29 2-6 2-12 2 0 2-2 2-12 2 19 2-15 2 15 2-9 2-8 2 4 2-8 2 19 2-20 2 5 2-9 2 11 2 3 2-13 2 9 2-2 2 6 2-8 2-10 2 13 2 3 2-4 2-2 2 5 2-14 2 0 2 19 2-15 2-4 2 3 2 19 2-32 2 5 2 7 2-10 2 3 2-1 2-5 2 4 2-1 2-8 2 4 2-4 2-12 2 7 2-16 2 7 2-13 2-11 2 0 2-22 2 7 2-13 2-19 2-6 2-29 2-36 2-40 2-70 2-71 2-29M0 626l1 3 2 0 2 4 2 0 2-9 2 1 2 18 2-18 2 7 2 6 2-14 2 11 2-4 2 5 2-7 2 5 2-3 2-2 2-5 2 0 2 5 2-3 2-16 2 7 2 16 2-2 2-5 2 5 2-14 2 2 2 1 2 6 2-8 2 4 2-14 2 20 2-10 2-11 2 6 2 11 2-13 2 1 2 16 2-13 2-21 2 27 2-7 2 3 2-6 2-3 2 9 2-15 2 10 2 5 2-9 2 0 2 2 2-1 2-25 2 27 2-12 2 13 2-9 2 4 2-11 2 3 2-2 2-2 2 11 2-13 2-4 2 3 2-5 2-5 2 0 2 12 2-3 2-2 2 1 2-2 2-13 2 9 2-15 2-3 2-4 2-4 2-4 2-5 2-2 2-5 2-7 2-13 2-13 2-22 2-21 2-41 2-32 2-56 2-70 2-40 1-12M4 643h0M6 602h0M7 642h0M22 607h0M26 606h0M31 609h0M38 593h0M40 606h0M42 599h0M44 603h0M51 599h0M55 634h0M56 631h0M60 638h0M61 627h0M72 590h0M73 590h0M94 625h0M95 573h0M96 623h0M99 571h0M100 622h0M102 573h0M103 557h0M114 573h0M118 573h0M120 624h0M122 571h0M126 557h0M129 573h0M132 612h0M136 557h0M138 561h0M153 556h0M154 561h0M155 588h0M158 552h0M159 590h0M167 584h0M175 509h0M178 499h0M190 464h0M193 382h0M199 233h0"/></g>
<path class="o dk" d="M13.1 142.5h0M83.3 144.3h0M134.9 138.8h0M147.9 136h0M162.6 128.7h0M172.8 132.3h0M168.2 137h0M185.7 132.3h0M237.4 132.9h0M156.2 132.3h0"/>
<g class="fr"><path stroke-width="2" d="M0 0H306.9 M0 176H306.9"/><path stroke-width="2.3" stroke-linecap="square" d="M0 0V176 M306.9 0V176"/></g>
<text class="ti" x="153.45" y="-13.4">Actor θ<tspan class="su" dy="5.6">00</tspan></text>
<text class="yt" x="-25.3" y="189.3">0</text><text class="yt" x="-25.3" y="111.08">40</text><text class="yt" x="-25.3" y="32.86">80</text>
<text class="xt" x="-1.5" y="233.1">0</text><text class="xt" x="151.95" y="233.1">100</text><text class="xt" x="305.4" y="233.1">200</text>
<text class="xl" x="150.45" y="285.6">Number of Pulses</text>
<text class="yl" transform="translate(-89.3 148.7) rotate(-90)"><tspan x="0">G (</tspan><tspan class="mu" x="50.5" dy="1">μ</tspan><tspan x="83.6" dy="-1">S</tspan><tspan x="109">)</tspan></text>
</g>
<g transform="translate(1704.8 828.56)">
<g class="fr"><path stroke-width="1.9" d="M0 97.78h3.6 M306.9 97.78h-3.6 M0 19.56h3.6 M306.9 19.56h-3.6 M153.45 0v3.6 M153.45 176v-3.6"/><path stroke-width="1.7" d="M0 166.22h2.3 M306.9 166.22h-2.3 M0 156.44h2.3 M306.9 156.44h-2.3 M0 146.67h2.3 M306.9 146.67h-2.3 M0 136.89h2.3 M306.9 136.89h-2.3 M0 127.11h2.3 M306.9 127.11h-2.3 M0 117.33h2.3 M306.9 117.33h-2.3 M0 107.56h2.3 M306.9 107.56h-2.3 M0 88h2.3 M306.9 88h-2.3 M0 78.22h2.3 M306.9 78.22h-2.3 M0 68.44h2.3 M306.9 68.44h-2.3 M0 58.67h2.3 M306.9 58.67h-2.3 M0 48.89h2.3 M306.9 48.89h-2.3 M0 39.11h2.3 M306.9 39.11h-2.3 M0 29.33h2.3 M306.9 29.33h-2.3 M0 9.78h2.3 M306.9 9.78h-2.3"/></g>
<g transform="scale(1.53450 0.25)"><path class="d f lt" d="M0 601L4 594L8 580L12 566L16 560L20 554L24 549L28 543L32 538L36 532L40 529L44 525L48 521L52 518L56 514L60 510L64 507L68 504L72 501L76 498L80 495L84 492L88 490L92 488L96 486L100 484L104 480L108 476L112 471L116 467L120 463L124 459L128 456L132 453L136 450L140 447L144 444L148 442L152 439L156 437L160 434L164 432L168 429L172 427L176 425L180 423L184 421L188 419L192 418L196 416L200 415L200 438L196 438L192 440L188 442L184 444L180 446L176 448L172 450L168 452L164 456L160 459L156 463L152 467L148 471L144 474L140 478L136 482L132 485L128 489L124 493L120 496L116 499L112 502L108 505L104 508L100 511L96 515L92 518L88 522L84 526L80 529L76 533L72 537L68 540L64 544L60 548L56 550L52 553L48 555L44 558L40 560L36 563L32 565L28 568L24 570L20 572L16 575L12 577L8 582L4 594L0 601Z"/><path class="d lt" d="M0 601l2-7 2-7 2-3 2-9 2-3 2-9 2 0 2-4 2-2 2-4 2-4 2-7 2 1 2-15 2 14 2 1 2-1 2-13 2 11 2-11 2-1 2 1 2-1 2-12 2 4 2-4 2 0 2-10 2 2 2-2 2-2 2 0 2 5 2-7 2-4 2 4 2-4 2-7 2-3 2 9 2 0 2 0 2 0 2-4 2-9 2 5 2 8 2-14 2-3 2 1 2-11 2 12 2-7 2-7 2 10 2-8 2 2 2-6 2 2 2-4 2-10 2 8 2-11 2 1 2 2 2 4 2-9 2-8 2 12 2-7 2 1 2-3 2-13 2 11 2-2 2 2 2-10 2 1 2 9 2-1 2-13 2 3 2-2 2 1 2-11 2 9 2 0 2-3 2-11 2 8 2-5 2 3 2-4 2 3 2 5 2-6 2-8 2 11 2-7 2-13M0 602l1-2 2-8 2-6 2-3 2-9 2-12 2 8 2-7 2 0 2-2 2-10 2 9 2-12 2 4 2 0 2 2 2 0 2-3 2-8 2 5 2-8 2 5 2-3 2-13 2 8 2-1 2 1 2-9 2 5 2-6 2-6 2 0 2-4 2 3 2 0 2-2 2-6 2-13 2 9 2-6 2 11 2-12 2 1 2 4 2-6 2 0 2 2 2-9 2 5 2-1 2-3 2 2 2-7 2 0 2-4 2-5 2 0 2 6 2-5 2-13 2 8 2-2 2-3 2-2 2 3 2-9 2 1 2-3 2-9 2-4 2 5 2-7 2-6 2 16 2-5 2-2 2 0 2-6 2 6 2-6 2 2 2-5 2-1 2-4 2 5 2 0 2-8 2 5 2-3 2-2 2-1 2 1 2-13 2 4 2 11 2-13 2 5 2-6 2 7 2-7 1 1M0 598l2-8 2 2 2-1 2-5 2-12 2 3 2-5 2-6 2-4 2 11 2-15 2 2 2 6 2-9 2 3 2-1 2-6 2-4 2 2 2-2 2 0 2 1 2-4 2-4 2-11 2 9 2-1 2-4 2 4 2 0 2-2 2-9 2 1 2-1 2-6 2 8 2-9 2 2 2 9 2-11 2 2 2-11 2 7 2 2 2 0 2-10 2 3 2-11 2 7 2-20 2 8 2 0 2-10 2 5 2 2 2-12 2 7 2-2 2-3 2 2 2-3 2-3 2 10 2-11 2 8 2-11 2 3 2 1 2-9 2 4 2-12 2 1 2-11 2 7 2-3 2 4 2 2 2-15 2 10 2-6 2 2 2 3 2-7 2-12 2 12 2-4 2-2 2 0 2-4 2 2 2-5 2 1 2-8 2 8 2-6 2-2 2 4 2-4 2 5 2-5M0 595l1-1 2 2 2-6 2 2 2-8 2-2 2-6 2 8 2-6 2-11 2 4 2 7 2-5 2-5 2 2 2 6 2-18 2 10 2-1 2-3 2 1 2-6 2 4 2-1 2-1 2-7 2 3 2-2 2-8 2 9 2-3 2-6 2-3 2-2 2 0 2 3 2-3 2-7 2 1 2-4 2 5 2-9 2-2 2 7 2-8 2-8 2 7 2-6 2-3 2 1 2-3 2-4 2 3 2-6 2 0 2 8 2-21 2 9 2-6 2-1 2 3 2-5 2-8 2 4 2 2 2-2 2 3 2 1 2-11 2-4 2 1 2 1 2 1 2-5 2-6 2-5 2 0 2 0 2 2 2-13 2 14 2-15 2 11 2-11 2 0 2-3 2 7 2-7 2 5 2-13 2 1 2-5 2 10 2-4 2-8 2 4 2 0 2-4 2 1 2-2 1 11M9 568h0M11 560h0M15 586h0M16 554h0M20 546h0M25 576h0M34 521h0M35 527h0M37 570h0M38 521h0M56 560h0M61 502h0M67 554h0M70 495h0M73 544h0M76 489h0M79 480h0M82 537h0M84 535h0M85 481h0M86 541h0M96 471h0M103 517h0M108 513h0M110 461h0M134 444h0M140 485h0M153 473h0M158 468h0M164 471h0M179 454h0M180 416h0M181 460h0M193 457h0M195 450h0"/></g>
<g transform="scale(1.53450 0.25)"><path class="d f dk" d="M0 622L4 622L8 621L12 620L16 620L20 619L24 618L28 615L32 612L36 609L40 606L44 603L48 600L52 600L56 600L60 600L64 600L68 600L72 600L76 599L80 598L84 597L88 596L92 595L96 594L100 593L104 593L108 593L112 593L116 593L120 592L124 590L128 586L132 583L136 580L140 577L144 574L148 568L152 563L156 557L160 551L164 543L168 534L172 524L176 514L180 505L184 495L188 482L192 465L196 444L200 419L200 444L196 466L192 488L188 507L184 522L180 535L176 547L172 556L168 561L164 566L160 571L156 574L152 577L148 581L144 584L140 586L136 589L132 591L128 594L124 596L120 599L116 600L112 602L108 603L104 605L100 606L96 607L92 608L88 609L84 610L80 611L76 612L72 614L68 614L64 615L60 615L56 616L52 617L48 617L44 618L40 618L36 619L32 620L28 620L24 621L20 622L16 622L12 623L8 624L4 624L0 625Z"/><path class="d dk" d="M0 618l2-8 2 16 2-14 2-1 2 5 2 15 2-22 2 1 2 2 2 3 2 4 2 0 2-11 2 3 2 6 2-5 2 3 2-10 2 4 2-7 2 1 2-14 2 11 2-4 2 15 2-17 2 1 2-4 2 0 2 8 2 1 2-3 2 1 2-6 2 15 2-24 2 15 2 1 2-13 2 19 2-6 2-7 2 9 2-15 2 5 2 0 2-4 2 6 2-2 2-6 2 7 2-3 2-3 2 5 2-9 2 1 2 11 2 3 2-9 2-2 2 11 2-2 2-7 2-9 2 12 2-10 2 2 2-4 2-5 2-2 2 2 2 2 2-6 2 0 2-15 2 2 2 0 2-3 2-3 2 0 2-16 2-1 2 1 2 2 2-10 2-2 2-6 2-19 2-6 2-3 2 4 2-1 2-4 2-2 2-15 2-9 2-13 2 1 2-25 2-12M0 623l1 5 2-10 2 5 2 1 2-6 2 5 2-1 2 3 2-12 2 8 2-3 2-7 2 10 2-9 2-1 2 9 2-14 2 9 2-6 2-4 2 2 2 2 2-1 2 5 2-1 2-13 2 7 2-6 2 14 2-13 2 10 2-11 2 7 2-5 2 4 2-4 2 6 2-10 2 2 2 3 2-4 2 14 2-4 2-9 2 3 2-1 2 3 2 1 2-2 2-11 2 8 2-3 2 2 2-2 2-1 2 0 2-11 2 12 2-5 2 3 2-5 2 4 2-8 2 7 2-10 2 4 2 3 2-7 2-6 2-10 2 12 2-11 2 10 2-12 2 9 2-6 2-4 2 6 2-16 2 2 2-5 2 0 2-5 2 1 2-10 2-2 2 4 2-17 2 3 2-12 2-1 2-7 2-14 2 2 2-5 2-10 2-20 2-1 2-12 2-7 1-17M0 621l2 6 2 3 2-18 2 22 2-14 2-4 2 9 2-6 2 13 2-8 2 11 2-19 2-6 2 6 2 2 2 0 2 6 2-9 2 3 2-8 2 10 2-28 2 11 2-5 2 5 2 3 2-1 2 0 2 1 2 1 2 11 2-3 2 5 2-20 2 14 2-14 2 5 2 5 2 5 2-7 2 3 2 0 2-11 2 8 2-4 2 2 2 4 2-14 2 13 2-5 2-6 2-3 2-5 2 12 2 0 2-9 2-5 2 10 2 1 2 0 2-4 2 9 2-11 2-5 2 10 2-2 2-7 2 1 2 2 2 2 2-11 2-5 2 4 2-3 2 6 2-15 2-4 2 5 2-3 2-1 2 5 2-15 2-1 2-4 2-2 2-1 2 2 2-9 2-17 2-4 2 9 2-15 2-7 2-5 2-15 2-7 2-7 2-21 2-14 2 1M0 631l1-16 2 11 2 3 2 0 2-6 2-1 2 9 2-11 2 3 2-1 2-3 2 8 2-12 2 8 2-3 2 3 2-3 2 1 2-3 2 0 2-3 2 2 2 3 2 2 2-7 2 3 2-8 2 11 2 2 2-6 2-6 2 4 2 5 2 3 2-6 2-2 2-1 2-1 2 13 2-13 2 3 2-7 2-2 2 11 2-4 2 2 2-6 2 6 2-20 2 15 2-4 2 3 2-2 2 2 2-7 2 2 2 3 2-3 2-9 2 3 2-1 2 1 2 5 2-3 2-7 2-9 2 14 2-21 2 8 2-3 2-2 2 1 2 2 2-8 2 6 2 0 2 7 2-10 2 2 2-2 2-6 2-5 2 0 2-2 2-12 2 8 2-7 2 3 2-15 2-6 2 4 2-15 2-3 2-12 2 2 2-13 2-17 2-7 2-10 2-18 1 3M9 606h0M14 635h0M21 628h0M24 629h0M28 597h0M35 596h0M38 600h0M40 598h0M47 624h0M48 586h0M50 630h0M51 585h0M60 627h0M68 592h0M77 620h0M79 624h0M98 579h0M100 615h0M103 612h0M104 612h0M114 585h0M115 609h0M117 586h0M126 602h0M133 569h0M135 570h0M142 568h0M143 562h0M144 596h0M146 564h0M147 593h0M150 585h0M156 588h0M160 542h0M179 500h0M183 479h0M187 522h0M189 513h0M192 495h0M197 467h0"/></g>
<path class="o dk" d="M202.2 135.1h0M65.6 145.3h0M74.9 144.3h0"/>
<g class="fr"><path stroke-width="2" d="M0 0H306.9 M0 176H306.9"/><path stroke-width="2.3" stroke-linecap="square" d="M0 0V176 M306.9 0V176"/></g>
<text class="ti" x="153.45" y="-13.4">Actor θ<tspan class="su" dy="5.6">10</tspan></text>
<text class="yt" x="-25.3" y="189.3">0</text><text class="yt" x="-25.3" y="111.08">40</text><text class="yt" x="-25.3" y="32.86">80</text>
<text class="xt" x="-1.5" y="233.1">0</text><text class="xt" x="151.95" y="233.1">100</text><text class="xt" x="305.4" y="233.1">200</text>
<text class="xl" x="150.45" y="285.6">Number of Pulses</text>
<text class="yl" transform="translate(-89.3 148.7) rotate(-90)"><tspan x="0">G (</tspan><tspan class="mu" x="50.5" dy="1">μ</tspan><tspan x="83.6" dy="-1">S</tspan><tspan x="109">)</tspan></text>
</g>
<g transform="translate(117.5 1225.39)">
<g class="fr"><path stroke-width="1.9" d="M0 97.78h3.6 M306.9 97.78h-3.6 M0 19.56h3.6 M306.9 19.56h-3.6 M153.45 0v3.6 M153.45 176v-3.6"/><path stroke-width="1.7" d="M0 166.22h2.3 M306.9 166.22h-2.3 M0 156.44h2.3 M306.9 156.44h-2.3 M0 146.67h2.3 M306.9 146.67h-2.3 M0 136.89h2.3 M306.9 136.89h-2.3 M0 127.11h2.3 M306.9 127.11h-2.3 M0 117.33h2.3 M306.9 117.33h-2.3 M0 107.56h2.3 M306.9 107.56h-2.3 M0 88h2.3 M306.9 88h-2.3 M0 78.22h2.3 M306.9 78.22h-2.3 M0 68.44h2.3 M306.9 68.44h-2.3 M0 58.67h2.3 M306.9 58.67h-2.3 M0 48.89h2.3 M306.9 48.89h-2.3 M0 39.11h2.3 M306.9 39.11h-2.3 M0 29.33h2.3 M306.9 29.33h-2.3 M0 9.78h2.3 M306.9 9.78h-2.3"/></g>
<g transform="scale(1.53450 0.25)"><path class="d f lt" d="M0 430L4 426L8 420L12 415L16 410L20 406L24 402L28 398L32 393L36 389L40 385L44 382L48 378L52 374L56 371L60 367L64 364L68 362L72 360L76 357L80 355L84 352L88 350L92 349L96 347L100 345L104 343L108 342L112 340L116 339L120 337L124 334L128 331L132 328L136 325L140 322L144 319L148 318L152 317L156 315L160 314L164 313L168 312L172 311L176 310L180 308L184 307L188 305L192 304L196 302L200 301L200 301L196 302L192 304L188 305L184 307L180 308L176 310L172 311L168 312L164 313L160 316L156 320L152 324L148 327L144 331L140 333L136 336L132 338L128 341L124 343L120 346L116 349L112 352L108 354L104 357L100 360L96 364L92 368L88 371L84 375L80 378L76 380L72 382L68 385L64 387L60 390L56 392L52 395L48 397L44 400L40 402L36 405L32 407L28 409L24 412L20 414L16 417L12 419L8 422L4 426L0 430Z"/><path class="d lt" d="M0 430l2-3 2 6 2-10 2-2 2-8 2 6 2-12 2 5 2-4 2-7 2-2 2 1 2-8 2 2 2 4 2-8 2 7 2-4 2-2 2-7 2-2 2-3 2 2 2-5 2-11 2 2 2 3 2 3 2 0 2-14 2 9 2-4 2 2 2-5 2-2 2-2 2 4 2-4 2-7 2-1 2 7 2-6 2-6 2 14 2-4 2-11 2 2 2 3 2-7 2 0 2 1 2 1 2-4 2-1 2-1 2 2 2-8 2 4 2-1 2 6 2 2 2-19 2 9 2-5 2-1 2 1 2-1 2 0 2-5 2 11 2-11 2 1 2-4 2-3 2-3 2-11 2 0 2 12 2-2 2 2 2-11 2 8 2-1 2-3 2 0 2-2 2 7 2-7 2 2 2 2 2-5 2 6 2-2 2-3 2 0 2 1 2-3 2-2 2-4 2 8M0 423l1 9 2 1 2-14 2-1 2 1 2-2 2-1 2-9 2-6 2 5 2 5 2-5 2 1 2-3 2-6 2 1 2 4 2-9 2 4 2-3 2-1 2 1 2-1 2-5 2-2 2-5 2-3 2 1 2-3 2-4 2-7 2 0 2-3 2 11 2-2 2-12 2 10 2-7 2-12 2 10 2 3 2 0 2-7 2 8 2 0 2-5 2 1 2-5 2-8 2 12 2-7 2-7 2 3 2-4 2 6 2-6 2 2 2-7 2-5 2 12 2-17 2 10 2-3 2 0 2-6 2-1 2-3 2-1 2 0 2-5 2 0 2 4 2-1 2 0 2-4 2-3 2 2 2-1 2-8 2 6 2-9 2 9 2-1 2 2 2-12 2 4 2-4 2 13 2-14 2 8 2-10 2 1 2 5 2-4 2 1 2 0 2-5 2 3 2-14 2 6 1 3M0 424l2 8 2-13 2 5 2 1 2-1 2-6 2-3 2 5 2-8 2-7 2 4 2 5 2-4 2 6 2-6 2-5 2-4 2 5 2-6 2 0 2-8 2-4 2 0 2-3 2 14 2-12 2 2 2-3 2 4 2 0 2-8 2-1 2-6 2 2 2-4 2-2 2-7 2 10 2-5 2 1 2 2 2-8 2 0 2 4 2-6 2 4 2-2 2 1 2-11 2 10 2-16 2 5 2-4 2 6 2-8 2 4 2-9 2 6 2-7 2-4 2 2 2 3 2-6 2 13 2-13 2-1 2 4 2-7 2 3 2-5 2-2 2 0 2 6 2-10 2 1 2 4 2-16 2 6 2-1 2-2 2-1 2-7 2-6 2 9 2 5 2-1 2-7 2 1 2-9 2 6 2-5 2 12 2-6 2-10 2 10 2-2 2 1 2-4 2-7 2 10M0 426l1-1 2 6 2-12 2 8 2-1 2-7 2 5 2-5 2 3 2-10 2 0 2 0 2 7 2-4 2-9 2 10 2-10 2 0 2 3 2-5 2 5 2-4 2-4 2-2 2-3 2-1 2-5 2 13 2-4 2-9 2 4 2-15 2 11 2 5 2-6 2-1 2-8 2 6 2-6 2 10 2-7 2-8 2 7 2-8 2 4 2-9 2-4 2 9 2-10 2-5 2 3 2 6 2-9 2-3 2-1 2 2 2-6 2-2 2-1 2 9 2-9 2-6 2-2 2 4 2-2 2-6 2 8 2-8 2-3 2 0 2-3 2-2 2 8 2-12 2 14 2-15 2-1 2 1 2 1 2-4 2 2 2-7 2 2 2-10 2 3 2-3 2 9 2-12 2 6 2-6 2 1 2 0 2 3 2-11 2-1 2 9 2-1 2-6 2-1 2-1 1 4M1 422h0M5 432h0M20 398h0M21 425h0M24 423h0M25 388h0M26 389h0M31 380h0M51 369h0M53 367h0M59 361h0M61 356h0M68 345h0M69 345h0M77 392h0M79 345h0M84 337h0M85 381h0M89 340h0M90 378h0M91 376h0M96 371h0M98 369h0M100 339h0M102 327h0M108 365h0M111 361h0M119 357h0M125 360h0M126 352h0M128 323h0M133 349h0M141 313h0M148 304h0M151 302h0M155 333h0M157 333h0M163 324h0M166 305h0M168 302h0M171 313h0M172 324h0M174 315h0M190 294h0M197 290h0M199 292h0"/></g>
<g transform="scale(1.53450 0.25)"><path class="d f dk" d="M0 449L4 450L8 452L12 453L16 454L20 455L24 456L28 454L32 452L36 449L40 447L44 444L48 442L52 440L56 438L60 436L64 434L68 433L72 431L76 427L80 423L84 420L88 416L92 412L96 409L100 405L104 403L108 402L112 401L116 399L120 397L124 394L128 390L132 387L136 383L140 379L144 376L148 372L152 368L156 364L160 361L164 357L168 353L172 348L176 342L180 336L184 331L188 324L192 317L196 309L200 302L200 326L196 329L192 332L188 336L184 340L180 347L176 353L172 360L168 366L164 371L160 375L156 380L152 384L148 388L144 392L140 396L136 400L132 404L128 407L124 411L120 415L116 417L112 419L108 421L104 424L100 426L96 427L92 429L88 430L84 432L80 434L76 435L72 437L68 438L64 439L60 441L56 442L52 443L48 444L44 445L40 447L36 449L32 452L28 454L24 456L20 455L16 454L12 453L8 452L4 452L0 452Z"/><path class="d dk" d="M0 443l2 4 2-4 2 18 2-15 2 11 2-5 2-2 2 5 2-2 2-1 2-8 2 8 2-1 2-7 2 6 2 6 2-17 2 12 2-5 2 3 2-7 2-9 2 2 2 11 2-6 2-3 2-6 2-4 2 3 2-1 2 3 2-3 2-1 2 5 2 0 2-6 2-2 2-3 2-1 2-6 2 6 2 6 2-16 2 13 2-5 2-10 2-3 2 6 2-15 2 12 2-10 2 1 2 0 2 2 2 1 2 5 2-12 2 5 2-10 2 1 2 3 2-2 2-11 2 18 2-14 2-6 2-1 2 1 2-5 2 2 2-6 2 0 2-2 2-1 2 13 2-19 2 5 2-6 2 1 2-10 2 3 2 3 2 12 2-23 2 7 2-12 2 2 2-9 2 2 2-4 2-5 2-9 2 0 2 2 2-3 2-9 2 4 2-3 2-5 2 3M0 448l1 2 2 1 2-1 2 0 2-1 2-2 2 6 2-3 2 8 2 1 2-13 2 12 2-3 2-2 2-2 2 4 2-7 2-2 2 6 2-15 2 17 2-8 2-4 2 9 2-6 2 0 2 2 2-13 2 11 2-16 2 14 2-2 2-7 2 0 2-2 2 1 2 2 2 1 2-1 2-17 2 15 2-8 2-1 2 15 2-6 2-9 2-3 2-2 2-1 2-4 2 8 2-7 2-2 2-7 2 0 2 5 2-4 2 1 2-6 2 3 2 2 2-9 2-2 2 0 2-3 2 2 2-14 2 13 2-6 2 3 2-3 2-8 2-1 2 1 2-13 2 0 2 1 2 8 2-2 2 4 2-8 2-4 2-7 2 13 2-18 2 0 2-2 2 2 2-7 2-14 2 11 2-11 2 7 2-7 2-2 2-7 2 4 2-5 2-3 2-1 1 0M0 463l2-11 2-1 2 6 2-2 2 1 2-1 2 10 2-2 2-3 2-8 2 0 2 8 2-7 2 4 2 3 2-5 2-1 2-9 2-2 2 6 2-6 2 0 2 12 2-6 2-11 2 1 2-2 2 19 2-16 2 17 2-25 2 7 2 3 2 1 2 2 2 4 2-14 2 8 2-1 2-9 2-7 2 7 2 1 2-5 2 2 2-3 2-6 2 5 2 0 2 5 2-3 2 6 2-4 2-2 2 11 2-18 2 6 2-12 2 18 2-19 2-1 2-5 2 6 2 8 2-13 2 0 2-5 2 1 2-9 2-7 2 17 2-8 2 1 2-9 2 3 2-1 2-6 2-5 2 3 2-11 2 4 2-8 2 9 2-8 2-14 2-4 2-2 2 0 2 4 2-11 2-4 2-1 2 0 2 1 2-3 2-2 2-9 2 4 2-4 2 0M4 439h0M6 442h0M11 459h0M12 445h0M13 466h0M18 460h0M29 465h0M31 442h0M40 461h0M47 451h0M52 451h0M57 425h0M58 449h0M63 446h0M65 450h0M73 424h0M74 448h0M79 442h0M83 439h0M87 442h0M89 407h0M104 396h0M108 429h0M113 433h0M117 380h0M120 385h0M124 381h0M125 430h0M132 367h0M140 405h0M147 401h0M149 353h0M150 403h0M154 357h0M155 355h0M161 384h0M164 345h0M165 383h0M173 336h0M175 364h0M179 362h0M182 327h0"/></g>
<g class="fr"><path stroke-width="2" d="M0 0H306.9 M0 176H306.9"/><path stroke-width="2.3" stroke-linecap="square" d="M0 0V176 M306.9 0V176"/></g>
<text class="ti" x="153.45" y="-13.4">Actor θ<tspan class="su" dy="5.6">01</tspan></text>
<text class="yt" x="-25.3" y="189.3">0</text><text class="yt" x="-25.3" y="111.08">40</text><text class="yt" x="-25.3" y="32.86">80</text>
<text class="xt" x="-1.5" y="233.1">0</text><text class="xt" x="151.95" y="233.1">100</text><text class="xt" x="305.4" y="233.1">200</text>
<text class="xl" x="150.45" y="285.6">Number of Pulses</text>
<text class="yl" transform="translate(-89.3 148.7) rotate(-90)"><tspan x="0">G (</tspan><tspan class="mu" x="50.5" dy="1">μ</tspan><tspan x="83.6" dy="-1">S</tspan><tspan x="109">)</tspan></text>
</g>
<g transform="translate(646.6 1225.39)">
<g class="fr"><path stroke-width="1.9" d="M0 97.78h3.6 M306.9 97.78h-3.6 M0 19.56h3.6 M306.9 19.56h-3.6 M153.45 0v3.6 M153.45 176v-3.6"/><path stroke-width="1.7" d="M0 166.22h2.3 M306.9 166.22h-2.3 M0 156.44h2.3 M306.9 156.44h-2.3 M0 146.67h2.3 M306.9 146.67h-2.3 M0 136.89h2.3 M306.9 136.89h-2.3 M0 127.11h2.3 M306.9 127.11h-2.3 M0 117.33h2.3 M306.9 117.33h-2.3 M0 107.56h2.3 M306.9 107.56h-2.3 M0 88h2.3 M306.9 88h-2.3 M0 78.22h2.3 M306.9 78.22h-2.3 M0 68.44h2.3 M306.9 68.44h-2.3 M0 58.67h2.3 M306.9 58.67h-2.3 M0 48.89h2.3 M306.9 48.89h-2.3 M0 39.11h2.3 M306.9 39.11h-2.3 M0 29.33h2.3 M306.9 29.33h-2.3 M0 9.78h2.3 M306.9 9.78h-2.3"/></g>
<g transform="scale(1.53450 0.25)"><path class="d f lt" d="M0 464L4 424L8 388L12 369L16 358L20 348L24 340L28 332L32 323L36 316L40 311L44 307L48 302L52 298L56 294L60 290L64 286L68 283L72 280L76 277L80 274L84 271L88 268L92 265L96 263L100 260L104 258L108 256L112 253L116 251L120 249L124 248L128 248L132 247L136 246L140 246L144 245L148 244L152 243L156 242L160 240L164 239L168 238L172 237L176 236L180 235L184 234L188 233L192 232L196 231L200 230L200 246L196 247L192 248L188 250L184 251L180 253L176 254L172 256L168 257L164 258L160 258L156 259L152 260L148 260L144 261L140 263L136 264L132 266L128 268L124 270L120 272L116 274L112 276L108 278L104 281L100 283L96 286L92 288L88 291L84 294L80 297L76 301L72 305L68 308L64 312L60 316L56 322L52 328L48 334L44 340L40 346L36 352L32 362L28 371L24 381L20 391L16 403L12 420L8 441L4 474L0 491Z"/><path class="d lt" d="M0 466l2-8 2-36 2-11 2-23 2-16 2-7 2-17 2 3 2 2 2-13 2 5 2 1 2-6 2-10 2-8 2-1 2 2 2-10 2-5 2-12 2 19 2-9 2 1 2 1 2-6 2-6 2-10 2-1 2-8 2 15 2-9 2 7 2-7 2-6 2 3 2 3 2-9 2 2 2 1 2-3 2-17 2 19 2-6 2 0 2 0 2-6 2-10 2 8 2-2 2 4 2-10 2 4 2-8 2 0 2 12 2-11 2 10 2-10 2-2 2 4 2-6 2-3 2-4 2 3 2 2 2 7 2-4 2-7 2 9 2-7 2 1 2-4 2 2 2 1 2-4 2 10 2-2 2-12 2 4 2-2 2 11 2-2 2-12 2 0 2-4 2 6 2 0 2-1 2 3 2-1 2-7 2-8 2 17 2-1 2-1 2-1 2 2 2 2 2-17 2-9M0 478l1-9 2-21 2-14 2-16 2-24 2-4 2-4 2-10 2-5 2-10 2-4 2-8 2-5 2 1 2-4 2-6 2 0 2-10 2-8 2 3 2 7 2-13 2 5 2-13 2-3 2-3 2 7 2-2 2-11 2 2 2 5 2-10 2-8 2 9 2-10 2 3 2-7 2 13 2-6 2-6 2 2 2-1 2-5 2 11 2-15 2-4 2 1 2-12 2 5 2 2 2-7 2 7 2-4 2 3 2 0 2-4 2-2 2 4 2-3 2-1 2-8 2 11 2-12 2 1 2 1 2 2 2 6 2-4 2-3 2 4 2-2 2-4 2-4 2 3 2 2 2 1 2-3 2 2 2-6 2 2 2-3 2 0 2 1 2 6 2-8 2-6 2 13 2 1 2-10 2-1 2 7 2-6 2 5 2-6 2 2 2-4 2-2 2-2 2 2 2-3 1 5M0 471l2-6 2-14 2-28 2-3 2-17 2-2 2-13 2-9 2-7 2-6 2 0 2-1 2-12 2 1 2-6 2 3 2-15 2 4 2-3 2 3 2-9 2-6 2 2 2-7 2-1 2-9 2 8 2-8 2 3 2-11 2-1 2-3 2-5 2-9 2 16 2-8 2 0 2-3 2 3 2-8 2 8 2-9 2-2 2 7 2-18 2 8 2 1 2-5 2-5 2 2 2-6 2 3 2-6 2 7 2 1 2-6 2 7 2-7 2-4 2-6 2 5 2-5 2 3 2 0 2 0 2-9 2 7 2 3 2-5 2 2 2-1 2-6 2 10 2-8 2 0 2 7 2-1 2-8 2 7 2-4 2-2 2 4 2-5 2-1 2 2 2-7 2 5 2-3 2 3 2-6 2 2 2-2 2-1 2 3 2-12 2 6 2-2 2-3 2 0 2 8M0 502l1-15 2-7 2-14 2-20 2-23 2-13 2-3 2-13 2-6 2-5 2-6 2 1 2-17 2-3 2-3 2 1 2-9 2 0 2-9 2 0 2 6 2-10 2-15 2 3 2 2 2-10 2 5 2-7 2-3 2 8 2-14 2 6 2 0 2-12 2 3 2 2 2 0 2-13 2 11 2-11 2 3 2-3 2 5 2 3 2-5 2-8 2 5 2-10 2 8 2-10 2-5 2 4 2-4 2 4 2 3 2-8 2 6 2-7 2 6 2-14 2 8 2-3 2-7 2 0 2 2 2 5 2 2 2-1 2-4 2-1 2-6 2 10 2-6 2-6 2 6 2 2 2-2 2-4 2-4 2 3 2 4 2-15 2 11 2 3 2-10 2 11 2-5 2-1 2-2 2-5 2 0 2 1 2-2 2 2 2-6 2 5 2-6 2-6 2 9 2 9 1-11M0 490l2-5 2-11 2-15 2-2 2-16 2-18 2-12 2-8 2-9 2-5 2 4 2-13 2 1 2-3 2-12 2-15 2 3 2 8 2-14 2-2 2 1 2-6 2-4 2-7 2 4 2-3 2-4 2-1 2 0 2 0 2-12 2 2 2-9 2-1 2-2 2-4 2 18 2-16 2 1 2 3 2-17 2 1 2 3 2 3 2-6 2 5 2-6 2-3 2-3 2 8 2-13 2 10 2-7 2-3 2-3 2-5 2 7 2 3 2 4 2-7 2-1 2-3 2 1 2 3 2-3 2-2 2-7 2 3 2-12 2 9 2-3 2 11 2-12 2 3 2 2 2 4 2-4 2-7 2 0 2 2 2 2 2-2 2-2 2 5 2-13 2 3 2 7 2 0 2-4 2-3 2-3 2 8 2-10 2 2 2-11 2 10 2-6 2 4 2 0 2 1M9 374h0M11 434h0M14 423h0M15 353h0M18 345h0M19 337h0M23 324h0M32 316h0M34 373h0M41 357h0M42 358h0M53 290h0M59 283h0M62 330h0M65 275h0M72 322h0M79 268h0M82 308h0M84 263h0M87 299h0M88 257h0M89 297h0M97 253h0M100 253h0M102 248h0M105 245h0M107 292h0M108 247h0M113 283h0M116 284h0M118 244h0M126 239h0M127 239h0M137 275h0M142 272h0M149 233h0M152 236h0M155 271h0M156 269h0M167 221h0M171 270h0M184 259h0M192 225h0M194 221h0M195 256h0M196 223h0M197 217h0M198 224h0"/></g>
<g transform="scale(1.53450 0.25)"><path class="d f dk" d="M0 528L4 527L8 525L12 524L16 523L20 522L24 520L28 518L32 515L36 513L40 510L44 508L48 505L52 503L56 501L60 498L64 496L68 493L72 491L76 489L80 486L84 484L88 482L92 480L96 478L100 476L104 472L108 467L112 463L116 458L120 454L124 451L128 447L132 444L136 441L140 435L144 425L148 415L152 405L156 395L160 386L164 378L168 373L172 369L176 360L180 347L184 331L188 310L192 287L196 263L200 249L200 249L196 263L192 287L188 310L184 333L180 358L176 379L172 397L168 409L164 422L160 433L156 442L152 452L148 462L144 472L140 482L136 490L132 495L128 500L124 505L120 509L116 512L112 515L108 518L104 521L100 524L96 525L92 527L88 528L84 529L80 530L76 531L72 532L68 534L64 537L60 539L56 541L52 544L48 546L44 548L40 549L36 550L32 551L28 553L24 554L20 556L16 559L12 561L8 564L4 567L0 569Z"/><path class="d dk" d="M0 523l2 7 2 2 2-4 2 1 2 7 2-30 2 20 2-12 2 15 2-5 2-6 2-2 2-6 2 6 2-11 2 1 2-8 2-1 2 10 2 0 2-9 2 4 2-7 2 1 2-9 2 24 2-17 2 4 2-23 2 15 2 3 2 2 2 1 2-14 2 5 2 4 2 7 2 1 2-21 2 17 2-17 2 3 2 12 2-16 2 8 2 11 2-16 2 11 2-9 2-4 2-12 2 8 2-5 2-10 2-12 2 21 2-14 2-3 2-22 2 38 2-20 2-3 2 1 2-14 2 32 2-19 2-9 2 3 2-8 2-1 2 10 2-16 2-2 2-10 2-1 2-14 2 1 2-13 2 4 2-16 2 4 2-9 2 23 2-10 2-16 2-6 2-13 2 6 2 3 2-2 2-15 2-12 2-7 2 3 2-26 2-13 2-16 2 4 2-10 2-22M0 540l1 4 2-20 2-2 2 24 2-22 2 11 2-24 2 14 2 18 2-7 2-11 2 0 2-13 2 16 2-13 2-3 2 19 2-15 2-1 2-3 2-7 2 2 2 2 2 1 2-3 2-4 2 19 2-13 2-25 2 17 2 11 2-19 2 20 2-20 2-4 2 7 2-2 2 17 2-18 2-2 2 8 2-12 2-7 2 16 2-6 2 4 2-5 2-6 2 10 2-10 2-2 2 12 2-15 2-4 2-3 2-6 2-1 2 0 2 2 2 4 2-4 2 2 2 0 2-17 2 6 2 10 2-13 2-11 2-9 2 0 2-13 2 18 2-26 2-12 2 18 2-22 2 25 2-30 2 4 2-22 2 40 2-57 2 41 2-34 2 28 2-18 2 4 2-11 2-8 2-6 2-12 2 4 2-23 2-18 2 2 2-18 2 3 2-34 2 18 2-27 1-2M0 534l2 8 2-3 2-8 2 17 2-17 2 14 2-8 2 0 2-10 2 16 2-3 2-12 2-11 2 10 2-9 2 4 2-8 2 5 2 15 2-5 2-7 2 4 2-5 2-9 2 12 2 5 2-22 2 12 2-12 2 8 2-18 2 22 2-11 2 10 2-8 2-4 2 7 2 0 2-10 2-1 2 10 2 4 2-9 2-1 2 7 2-22 2 1 2 20 2-16 2 6 2 6 2-2 2-20 2-14 2 19 2-5 2 11 2-20 2-11 2 13 2-3 2-3 2-4 2 12 2 5 2-22 2 10 2-7 2-16 2-7 2 5 2-5 2-4 2-12 2 7 2-17 2-3 2 1 2-6 2 2 2-17 2-2 2-20 2 18 2-21 2 13 2 2 2-36 2-1 2 4 2-22 2-13 2 4 2-11 2-15 2-10 2-22 2-22 2 6 2 9M0 571l1 1 2-13 2-3 2-7 2 11 2-27 2-11 2 35 2-8 2 2 2-7 2-5 2-3 2 1 2 7 2-21 2 22 2-16 2-6 2 33 2-23 2-2 2 0 2-8 2 16 2-23 2 25 2-19 2 20 2-22 2 12 2-5 2-3 2-3 2-4 2 5 2 24 2-36 2 8 2 1 2-7 2-12 2-8 2 13 2 1 2-2 2-10 2 14 2-13 2 22 2-12 2-4 2-8 2-2 2 8 2-3 2-5 2 0 2-13 2 2 2 18 2-24 2 2 2-4 2 3 2 13 2-16 2 2 2-11 2-4 2 4 2-8 2-23 2 13 2-2 2-21 2 19 2-17 2-8 2 10 2-19 2 3 2-19 2 20 2-20 2 1 2-7 2-17 2 6 2-12 2-13 2-10 2-14 2-19 2 13 2-19 2-28 2 6 2-28 2-13 1 7M0 552l2 2 2-1 2-10 2 16 2 7 2 7 2-24 2 4 2 21 2-27 2-2 2-1 2 12 2-18 2 10 2-27 2 28 2-3 2-10 2-9 2 2 2 6 2 25 2-7 2-14 2-7 2-3 2-8 2 14 2 1 2 2 2 1 2-12 2 6 2 0 2-4 2-1 2-13 2 4 2-5 2 15 2-19 2 8 2 10 2-28 2 20 2-9 2 14 2-7 2-7 2-10 2 1 2 1 2 5 2-4 2-20 2 12 2-5 2 7 2-5 2-6 2-1 2 1 2-5 2 11 2-4 2 10 2-1 2-9 2-11 2 15 2-30 2 7 2-11 2-4 2-9 2-18 2-3 2 2 2-9 2-8 2-12 2 8 2 6 2-20 2-5 2 13 2-30 2 15 2-21 2-20 2-7 2-20 2-16 2-6 2-17 2-4 2-9 2-2 2 3M0 561l1 15 2-8 2-1 2-7 2 1 2 10 2-12 2 10 2-2 2-2 2-9 2-2 2-8 2 18 2-18 2 3 2-7 2 13 2-12 2 11 2 10 2-7 2 1 2-8 2 2 2-7 2-19 2 18 2-3 2 2 2-4 2-4 2 7 2-3 2-3 2 11 2-8 2-1 2-1 2-8 2 4 2 16 2-20 2-3 2 4 2-4 2-21 2 17 2 7 2-18 2 25 2-2 2-22 2 11 2-4 2 2 2 4 2-22 2 12 2-1 2-7 2 12 2-11 2-19 2 26 2-18 2 1 2-4 2-8 2 11 2-17 2-10 2 21 2-32 2 8 2-1 2-12 2-11 2 3 2-25 2 16 2-18 2-5 2 11 2-9 2-7 2-17 2 10 2-39 2-12 2-15 2 11 2-19 2-18 2-17 2 1 2-23 2 11 2-7 2-34 1-11M1 577h0M18 516h0M19 572h0M22 501h0M23 567h0M24 507h0M25 561h0M29 574h0M40 493h0M42 499h0M45 560h0M50 490h0M55 491h0M57 552h0M59 489h0M67 542h0M71 484h0M73 476h0M76 466h0M77 552h0M82 541h0M87 534h0M94 459h0M96 462h0M97 540h0M103 460h0M108 545h0M109 541h0M110 448h0M111 449h0M122 442h0M125 531h0M130 436h0M138 428h0M144 419h0M146 411h0M155 392h0M157 469h0M167 359h0M177 393h0M178 377h0M189 277h0M196 274h0M197 280h0M199 262h0"/></g>
<path class="o dk" d="M120.3 110.3h0M131.3 110.3h0M82.4 114.9h0M49.2 117.7h0M180.3 104.8h0M192.2 104.8h0M150.7 136.1h0M159 137.1h0M28.9 126h0M224.5 96.5h0"/>
<g class="fr"><path stroke-width="2" d="M0 0H306.9 M0 176H306.9"/><path stroke-width="2.3" stroke-linecap="square" d="M0 0V176 M306.9 0V176"/></g>
<text class="ti" x="153.45" y="-13.4">Actor θ<tspan class="su" dy="5.6">11</tspan></text>
<text class="yt" x="-25.3" y="189.3">0</text><text class="yt" x="-25.3" y="111.08">40</text><text class="yt" x="-25.3" y="32.86">80</text>
<text class="xt" x="-1.5" y="233.1">0</text><text class="xt" x="151.95" y="233.1">100</text><text class="xt" x="305.4" y="233.1">200</text>
<text class="xl" x="150.45" y="285.6">Number of Pulses</text>
<text class="yl" transform="translate(-89.3 148.7) rotate(-90)"><tspan x="0">G (</tspan><tspan class="mu" x="50.5" dy="1">μ</tspan><tspan x="83.6" dy="-1">S</tspan><tspan x="109">)</tspan></text>
</g>
<g transform="translate(1175.7 1225.39)">
<g class="fr"><path stroke-width="1.9" d="M0 97.78h3.6 M306.9 97.78h-3.6 M0 19.56h3.6 M306.9 19.56h-3.6 M153.45 0v3.6 M153.45 176v-3.6"/><path stroke-width="1.7" d="M0 166.22h2.3 M306.9 166.22h-2.3 M0 156.44h2.3 M306.9 156.44h-2.3 M0 146.67h2.3 M306.9 146.67h-2.3 M0 136.89h2.3 M306.9 136.89h-2.3 M0 127.11h2.3 M306.9 127.11h-2.3 M0 117.33h2.3 M306.9 117.33h-2.3 M0 107.56h2.3 M306.9 107.56h-2.3 M0 88h2.3 M306.9 88h-2.3 M0 78.22h2.3 M306.9 78.22h-2.3 M0 68.44h2.3 M306.9 68.44h-2.3 M0 58.67h2.3 M306.9 58.67h-2.3 M0 48.89h2.3 M306.9 48.89h-2.3 M0 39.11h2.3 M306.9 39.11h-2.3 M0 29.33h2.3 M306.9 29.33h-2.3 M0 9.78h2.3 M306.9 9.78h-2.3"/></g>
<g transform="scale(1.53450 0.25)"><path class="d f lt" d="M0 456L4 433L8 410L12 390L16 370L20 355L24 345L28 335L32 325L36 315L40 307L44 299L48 291L52 282L56 275L60 268L64 262L68 255L72 249L76 244L80 238L84 233L88 228L92 223L96 217L100 212L104 208L108 205L112 201L116 197L120 194L124 191L128 189L132 186L136 184L140 181L144 179L148 176L152 173L156 170L160 166L164 163L168 161L172 160L176 159L180 159L184 158L188 158L192 157L196 157L200 157L200 176L196 176L192 177L188 178L184 179L180 180L176 181L172 182L168 183L164 185L160 187L156 189L152 191L148 192L144 194L140 197L136 200L132 203L128 207L124 210L120 213L116 216L112 219L108 222L104 224L100 228L96 233L92 240L88 246L84 252L80 259L76 265L72 271L68 278L64 284L60 291L56 297L52 305L48 315L44 325L40 334L36 344L32 357L28 370L24 383L20 395L16 418L12 458L8 501L4 547L0 559Z"/><path class="d lt" d="M0 456l2-14 2-4 2-16 2-15 2-9 2-7 2-6 2-9 2-10 2-12 2-2 2-4 2-10 2-17 2 6 2-4 2-9 2-3 2-5 2-18 2 19 2-4 2-16 2-2 2-11 2 11 2-8 2-2 2-14 2 6 2-7 2 3 2-10 2 4 2-9 2-3 2 0 2 5 2-16 2 5 2-9 2-3 2-6 2 6 2-3 2-1 2-3 2-9 2 4 2 1 2-17 2 15 2-17 2-1 2 6 2-1 2 1 2-10 2 7 2 0 2-16 2 4 2-7 2 12 2-19 2 12 2-9 2 2 2 2 2-1 2-28 2 32 2-8 2 6 2-13 2 6 2-6 2-2 2 3 2-7 2 0 2-6 2 6 2-6 2 4 2-8 2 2 2 4 2 0 2-2 2-10 2 11 2 5 2 0 2-4 2 0 2-9 2 8 2 5 2-14M0 493l1-6 2-10 2-22 2-14 2-15 2-14 2-14 2-17 2-5 2-9 2-7 2-7 2-12 2-4 2 3 2-8 2 2 2-9 2-2 2-6 2-3 2-5 2-14 2-10 2 13 2-2 2-16 2 7 2-6 2-12 2 3 2-1 2-2 2-2 2-9 2-5 2-2 2-4 2-3 2 2 2-11 2 4 2-2 2-3 2-3 2-10 2 11 2-12 2-3 2-12 2 11 2-5 2-1 2-6 2-1 2-4 2-3 2 2 2-6 2 6 2-3 2 0 2 3 2-4 2-4 2-2 2 1 2 2 2-5 2 2 2 4 2-14 2 10 2-11 2 0 2-1 2 0 2-2 2-13 2 14 2 2 2-13 2 1 2 8 2-14 2 7 2 5 2-7 2-2 2 9 2-6 2-7 2 6 2-2 2 1 2 5 2-10 2-7 2 8 2 0 1-8M0 516l2-3 2-16 2-15 2-23 2-21 2-17 2-14 2-5 2-10 2-19 2-7 2-1 2-14 2-1 2-1 2-6 2-11 2-6 2-4 2-4 2-6 2-1 2-13 2 0 2 9 2-18 2 2 2-6 2-4 2-2 2-5 2 2 2-5 2-9 2 1 2 4 2-11 2 2 2-2 2-4 2-4 2-1 2-8 2 3 2-5 2-6 2-3 2-7 2 1 2 3 2-5 2-6 2 3 2 4 2-10 2 5 2-12 2 5 2-11 2-3 2 2 2 6 2-7 2 2 2 3 2-7 2 0 2-4 2-1 2-3 2 2 2 3 2-8 2-4 2 3 2 5 2 2 2-8 2-8 2 9 2-8 2 7 2-13 2 2 2 5 2-3 2-1 2-2 2 1 2-3 2 5 2 1 2 0 2-7 2 7 2-8 2 5 2 0 2-1 2-4M0 549l1 4 2-18 2-20 2-22 2-28 2-14 2-17 2-16 2-20 2-1 2-14 2-12 2 6 2-10 2-13 2-3 2 6 2-16 2-5 2-5 2-3 2-4 2 0 2-6 2-13 2-8 2 2 2 0 2-9 2 4 2-4 2-2 2-12 2 5 2-9 2-3 2 0 2-6 2 4 2-17 2 6 2-9 2-7 2-3 2 7 2-1 2-8 2 6 2-9 2 4 2-4 2-5 2-9 2 1 2-6 2 1 2 3 2-1 2-5 2 1 2-4 2-16 2 11 2-6 2 11 2-2 2 1 2-1 2-7 2-4 2 5 2-8 2 3 2-9 2 7 2-10 2 6 2-7 2 0 2 5 2-4 2 1 2-4 2-9 2 1 2 9 2-8 2-1 2 0 2 12 2-11 2 1 2-7 2 13 2-10 2 13 2-8 2 0 2-9 2 0 1 8M0 548l2-11 2-8 2-16 2-13 2-29 2-17 2-14 2-30 2-15 2-5 2-1 2 8 2-23 2-12 2 6 2-11 2 0 2-14 2-9 2 3 2-4 2-10 2 4 2-7 2-12 2-2 2 2 2-3 2-1 2-14 2 8 2-15 2-3 2-9 2 5 2-2 2-7 2 3 2-1 2-4 2 1 2-19 2 4 2 0 2-6 2-6 2-1 2-11 2 2 2 1 2 4 2-6 2-6 2-5 2-7 2 16 2-17 2 22 2-22 2 1 2 2 2-3 2-4 2 9 2-1 2-5 2 0 2-1 2-5 2-5 2-1 2-5 2 6 2-11 2 16 2-10 2 2 2-3 2 2 2-9 2-1 2 10 2-1 2-9 2-3 2 4 2-4 2 12 2-18 2 10 2-15 2 13 2-7 2 6 2 0 2 5 2-6 2-1 2-3 2 4M1 570h0M4 421h0M5 420h0M9 497h0M10 392h0M13 376h0M19 347h0M26 327h0M40 300h0M43 294h0M44 333h0M47 281h0M48 284h0M50 316h0M51 315h0M54 261h0M57 311h0M58 308h0M66 291h0M78 274h0M84 218h0M86 223h0M88 221h0M92 211h0M93 210h0M100 238h0M101 236h0M138 208h0M144 172h0M153 158h0M161 159h0M167 147h0M168 190h0M173 150h0M174 153h0M179 144h0M186 185h0M187 148h0M190 151h0M193 189h0M196 186h0M197 139h0M199 144h0"/></g>
<g transform="scale(1.53450 0.25)"><path class="d f dk" d="M0 628L4 628L8 628L12 628L16 628L20 628L24 628L28 627L32 625L36 624L40 623L44 622L48 621L52 621L56 622L60 622L64 623L68 624L72 624L76 620L80 617L84 613L88 609L92 606L96 602L100 598L104 596L108 594L112 592L116 589L120 587L124 583L128 579L132 575L136 571L140 566L144 561L148 557L152 552L156 547L160 542L164 531L168 514L172 500L176 493L180 473L184 443L188 406L192 344L196 262L200 175L200 190L196 272L192 355L188 422L184 468L180 501L176 525L172 542L168 555L164 565L160 574L156 579L152 584L148 589L144 594L140 599L136 603L132 606L128 609L124 613L120 616L116 618L112 620L108 623L104 625L100 627L96 628L92 628L88 629L84 629L80 630L76 630L72 631L68 632L64 633L60 634L56 636L52 637L48 638L44 639L40 639L36 640L32 641L28 641L24 642L20 643L16 643L12 644L8 644L4 645L0 646Z"/><path class="d dk" d="M0 621l2-12 2 16 2-3 2 4 2 5 2-11 2 3 2-13 2 8 2-1 2 6 2-11 2 16 2-4 2-7 2 1 2 11 2-6 2-5 2 10 2-5 2 2 2-12 2 1 2 8 2-11 2 7 2 1 2 6 2-15 2-7 2 14 2-2 2 7 2-15 2 16 2-21 2 16 2-6 2-10 2 13 2-16 2 21 2-11 2 3 2-9 2 7 2-13 2-9 2 1 2 10 2-4 2-7 2 5 2-1 2 3 2 0 2-2 2-14 2 15 2-14 2-3 2 0 2-7 2 7 2 7 2-10 2-7 2-4 2-2 2 7 2-15 2 8 2 2 2-7 2 4 2-27 2 15 2-9 2-5 2 7 2-5 2-22 2-5 2-9 2-7 2-2 2-12 2-4 2-13 2-16 2-8 2 3 2-39 2-30 2-35 2-32 2-42 2-46 2-32M0 633l1 3 2-6 2-3 2 3 2 7 2-8 2 2 2-6 2 17 2-10 2 7 2-6 2 0 2 2 2 3 2-6 2-3 2 0 2-5 2 4 2 3 2 0 2-6 2-4 2 5 2 7 2-11 2 1 2 6 2-2 2-12 2 8 2-6 2 20 2-12 2-5 2-2 2 10 2 2 2-11 2 5 2-10 2 8 2 2 2-10 2-6 2 0 2 6 2-12 2 6 2-4 2 6 2-8 2 3 2-3 2-17 2 23 2-4 2-4 2-12 2 11 2-5 2-4 2-12 2 17 2-14 2 0 2 5 2 1 2-13 2 4 2 5 2-9 2 5 2-15 2 4 2 5 2-11 2 2 2-5 2 8 2-25 2-7 2-5 2-13 2 5 2-19 2 3 2-12 2-3 2-13 2-23 2-6 2-30 2-19 2-30 2-44 2-47 2-34 2-50 1-17M0 629l2 16 2-11 2-6 2 15 2-13 2 2 2 2 2 2 2-2 2 9 2-2 2-4 2 8 2-6 2-1 2-7 2 7 2-4 2 4 2-2 2-2 2 12 2-10 2-4 2 2 2 6 2-16 2 9 2-6 2 14 2-12 2-7 2 15 2-13 2-4 2 11 2-15 2 11 2-12 2 10 2 8 2-12 2 11 2 3 2-18 2-3 2 4 2-3 2 9 2 2 2-12 2 6 2 1 2 1 2-14 2 9 2-9 2 2 2-4 2 0 2-3 2 1 2 3 2-5 2-4 2-12 2 7 2 0 2-7 2 3 2 7 2-15 2 12 2-12 2 1 2-10 2 6 2 8 2-12 2 0 2-3 2-27 2 6 2-2 2-11 2-14 2-5 2-14 2-4 2-8 2-6 2-36 2-22 2-18 2-26 2-37 2-33 2-63 2-19 2-38M0 665l1-8 2-23 2 11 2 1 2-7 2-6 2 3 2 7 2-1 2 6 2-13 2-5 2 17 2 5 2-5 2-2 2-9 2 10 2-6 2-1 2 8 2-9 2 0 2 1 2 10 2-18 2 12 2 0 2 0 2-14 2 5 2 14 2-19 2 5 2-3 2 1 2 11 2-14 2 5 2 3 2 2 2-4 2-18 2 20 2-3 2-4 2 9 2-12 2-4 2 8 2-3 2 0 2-10 2 0 2-10 2 19 2-9 2 14 2-7 2-12 2 12 2-15 2 7 2-12 2 12 2-9 2-3 2 2 2-9 2 3 2 21 2-29 2 8 2 1 2 2 2-18 2 2 2-7 2 1 2 0 2-7 2-5 2-7 2 2 2-20 2 12 2-33 2 11 2-21 2 4 2-28 2-7 2-28 2-15 2-28 2-32 2-42 2-58 2-33 2-34 1-17M3 653h0M8 617h0M10 620h0M14 619h0M16 609h0M24 656h0M38 609h0M39 657h0M44 611h0M46 608h0M51 598h0M52 647h0M56 648h0M57 608h0M58 642h0M62 610h0M66 601h0M77 606h0M78 604h0M79 608h0M81 637h0M83 645h0M85 593h0M92 639h0M94 597h0M97 637h0M98 643h0M103 584h0M105 573h0M106 578h0M112 572h0M123 621h0M126 619h0M129 616h0M134 623h0M136 618h0M142 556h0M148 610h0M158 583h0M159 526h0M170 494h0M176 470h0M185 463h0M187 448h0M192 367h0M197 272h0"/></g>
<path class="o dk" d="M73.1 144.4h0M192.7 135.2h0M223.5 131.1h0M233.7 128.8h0M242 128.8h0M274.3 115.8h0"/>
<g class="fr"><path stroke-width="2" d="M0 0H306.9 M0 176H306.9"/><path stroke-width="2.3" stroke-linecap="square" d="M0 0V176 M306.9 0V176"/></g>
<text class="ti" x="153.45" y="-13.4">Actor θ<tspan class="su" dy="5.6">02</tspan></text>
<text class="yt" x="-25.3" y="189.3">0</text><text class="yt" x="-25.3" y="111.08">40</text><text class="yt" x="-25.3" y="32.86">80</text>
<text class="xt" x="-1.5" y="233.1">0</text><text class="xt" x="151.95" y="233.1">100</text><text class="xt" x="305.4" y="233.1">200</text>
<text class="xl" x="150.45" y="285.6">Number of Pulses</text>
<text class="yl" transform="translate(-89.3 148.7) rotate(-90)"><tspan x="0">G (</tspan><tspan class="mu" x="50.5" dy="1">μ</tspan><tspan x="83.6" dy="-1">S</tspan><tspan x="109">)</tspan></text>
</g>
<g transform="translate(1704.8 1225.39)">
<g class="fr"><path stroke-width="1.9" d="M0 97.78h3.6 M306.9 97.78h-3.6 M0 19.56h3.6 M306.9 19.56h-3.6 M153.45 0v3.6 M153.45 176v-3.6"/><path stroke-width="1.7" d="M0 166.22h2.3 M306.9 166.22h-2.3 M0 156.44h2.3 M306.9 156.44h-2.3 M0 146.67h2.3 M306.9 146.67h-2.3 M0 136.89h2.3 M306.9 136.89h-2.3 M0 127.11h2.3 M306.9 127.11h-2.3 M0 117.33h2.3 M306.9 117.33h-2.3 M0 107.56h2.3 M306.9 107.56h-2.3 M0 88h2.3 M306.9 88h-2.3 M0 78.22h2.3 M306.9 78.22h-2.3 M0 68.44h2.3 M306.9 68.44h-2.3 M0 58.67h2.3 M306.9 58.67h-2.3 M0 48.89h2.3 M306.9 48.89h-2.3 M0 39.11h2.3 M306.9 39.11h-2.3 M0 29.33h2.3 M306.9 29.33h-2.3 M0 9.78h2.3 M306.9 9.78h-2.3"/></g>
<g transform="scale(1.53450 0.25)"><path class="d f lt" d="M0 213L4 183L8 156L12 138L16 123L20 114L24 109L28 104L32 99L36 94L40 90L44 86L48 83L52 79L56 75L60 72L64 70L68 68L72 66L76 64L80 62L84 61L88 59L92 57L96 55L100 53L104 52L108 50L112 49L116 47L120 46L124 45L128 45L132 44L136 43L140 43L144 42L148 42L152 41L156 40L160 40L164 39L168 39L172 38L176 37L180 36L184 35L188 34L192 32L196 29L200 28L200 28L196 29L192 32L188 34L184 35L180 39L176 42L172 46L168 50L164 51L160 52L156 52L152 53L148 54L144 54L140 55L136 55L132 56L128 57L124 57L120 58L116 60L112 62L108 64L104 67L100 69L96 70L92 71L88 72L84 73L80 75L76 77L72 80L68 82L64 85L60 87L56 93L52 99L48 105L44 111L40 117L36 124L32 133L28 142L24 152L20 162L16 175L12 195L8 217L4 247L0 269Z"/><path class="d lt" d="M0 209l2-6 2-17 2-18 2-16 2-9 2-10 2-9 2 0 2-15 2 4 2-13 2 4 2-11 2 4 2 1 2 6 2-10 2 0 2-5 2 0 2-3 2-4 2-3 2 5 2-9 2 6 2-9 2 10 2-7 2-2 2-8 2 4 2-7 2 7 2-15 2 10 2 1 2 2 2-2 2-4 2-4 2 8 2-6 2-3 2 4 2-7 2 4 2-4 2 0 2-1 2-4 2 6 2-3 2-5 2-4 2-1 2-1 2 7 2 5 2-10 2-1 2 3 2 7 2-17 2-4 2 16 2-2 2 5 2-8 2 2 2-10 2-1 2 13 2 1 2-3 2-5 2-6 2 1 2 9 2 3 2-9 2 7 2-6 2 4 2-4 2 3 2-8 2 6 2-3 2 5 2-9 2 6 2-7 2 5 2-2 2-10 2 8 2-8 2-2 2 8M0 214l1-2 2-19 2-15 2-1 2-21 2-12 2 2 2-2 2-15 2-5 2-5 2-2 2-1 2-2 2-8 2-2 2-9 2 10 2-15 2 5 2-1 2-1 2-9 2 2 2-2 2-7 2 3 2 1 2-6 2-3 2-3 2 7 2-7 2-1 2-7 2 6 2 4 2-5 2-4 2 7 2-2 2-10 2 1 2-2 2 6 2-9 2 3 2 4 2-5 2-2 2 3 2 3 2-9 2-5 2 10 2-10 2 7 2-11 2 4 2 2 2 2 2-4 2-3 2 5 2-9 2 4 2 10 2 0 2-7 2 1 2-6 2 0 2 1 2 0 2-4 2-2 2 2 2 1 2 4 2-5 2-3 2 3 2 3 2-5 2 0 2 10 2-10 2 6 2-3 2-2 2-1 2-10 2 8 2-7 2 6 2 3 2-7 2-4 2 9 2-13 1 8M0 232l2-8 2-11 2-14 2-15 2-8 2-16 2-9 2-9 2-4 2-5 2 1 2-1 2-7 2-5 2-1 2-1 2-8 2-6 2 10 2-13 2-4 2 4 2-12 2-1 2 1 2 3 2-9 2-10 2 16 2-16 2 4 2 4 2-5 2-4 2 2 2-9 2 8 2-2 2-1 2-1 2-11 2 9 2-1 2-8 2 4 2 0 2-1 2 6 2-14 2 1 2 7 2 5 2-18 2 8 2 2 2-9 2 3 2 0 2-5 2 1 2 4 2 2 2-4 2 1 2 5 2-13 2 11 2-4 2 0 2-3 2-4 2 5 2-5 2-1 2 2 2 6 2-2 2 1 2-1 2 8 2-12 2-3 2 9 2-6 2 0 2-4 2-1 2 7 2-6 2 3 2-8 2 2 2 3 2-13 2 0 2 6 2-6 2-1 2-2 2-4M0 253l1-7 2-7 2-17 2-13 2-9 2-15 2 1 2-15 2-6 2-15 2 1 2-14 2 2 2-17 2 10 2-12 2 2 2-2 2-4 2 0 2-7 2-10 2 6 2-5 2 3 2-11 2 4 2 3 2-16 2 5 2 1 2-12 2 0 2 7 2-11 2 15 2-9 2-2 2 4 2-8 2 3 2-9 2 2 2 1 2 6 2-12 2-6 2 7 2 3 2-8 2 11 2-7 2 0 2 2 2 0 2-6 2-5 2 1 2 4 2-4 2 4 2-4 2 0 2-3 2 1 2 4 2-3 2 2 2-3 2-6 2 6 2 1 2-2 2-3 2 7 2-7 2 9 2-5 2-6 2 2 2 1 2 0 2-3 2 1 2-12 2 7 2-5 2 0 2-1 2 6 2 2 2-1 2-14 2 5 2-3 2 0 2-6 2 6 2-9 2 1 1-5M0 272l2-11 2-10 2-18 2-9 2-24 2-4 2-12 2 8 2-20 2-1 2-16 2 3 2-1 2-17 2 2 2-8 2-2 2-8 2 0 2-3 2-5 2-4 2-1 2-4 2-2 2-8 2 4 2-4 2 1 2-15 2 3 2 0 2-2 2 6 2-6 2-1 2 1 2-6 2 4 2-11 2 4 2 0 2 1 2-8 2 5 2 0 2-3 2 2 2 0 2-6 2 4 2-1 2 6 2-5 2-6 2-6 2 3 2 1 2 3 2-12 2 4 2 11 2-2 2-7 2 7 2-10 2-1 2 6 2-1 2-2 2-3 2 2 2 0 2-1 2-5 2 0 2 3 2 1 2-10 2 13 2-6 2 0 2 3 2 1 2-2 2-10 2 6 2-11 2 8 2-3 2 1 2-8 2-3 2 3 2-3 2-6 2 4 2 0 2-4 2 5M5 168h0M16 184h0M21 105h0M30 84h0M31 92h0M34 82h0M49 115h0M50 112h0M51 112h0M52 72h0M56 60h0M60 63h0M63 54h0M65 54h0M66 91h0M75 57h0M83 55h0M85 52h0M88 87h0M89 48h0M91 46h0M92 40h0M93 86h0M97 80h0M114 74h0M115 37h0M119 29h0M126 31h0M130 38h0M131 37h0M136 33h0M137 63h0M140 33h0M142 25h0M147 67h0M152 68h0M156 64h0M157 63h0M164 57h0M167 31h0M180 47h0M184 28h0M190 23h0M191 39h0M195 21h0"/></g>
<g transform="scale(1.53450 0.25)"><path class="d f dk" d="M0 320L4 316L8 311L12 305L16 300L20 295L24 290L28 288L32 285L36 283L40 280L44 278L48 276L52 273L56 271L60 268L64 266L68 263L72 261L76 256L80 251L84 246L88 243L92 241L96 238L100 235L104 226L108 216L112 206L116 197L120 188L124 181L128 175L132 169L136 163L140 157L144 150L148 143L152 136L156 128L160 121L164 114L168 106L172 98L176 90L180 82L184 74L188 64L192 53L196 43L200 33L200 39L196 46L192 54L188 64L184 74L180 84L176 96L172 107L168 119L164 130L160 141L156 152L152 163L148 174L144 185L140 194L136 202L132 211L128 220L124 228L120 237L116 247L112 257L108 267L104 278L100 288L96 293L92 296L88 300L84 304L80 308L76 313L72 318L68 323L64 328L60 333L56 338L52 343L48 348L44 351L40 353L36 355L32 358L28 360L24 363L20 364L16 366L12 367L8 368L4 369L0 370Z"/><path class="d dk" d="M0 320l2-1 2-1 2-11 2 8 2-21 2 9 2-9 2 9 2-6 2 9 2-26 2 2 2-12 2 24 2-8 2 9 2 1 2-3 2-5 2 2 2 4 2-23 2-2 2-9 2 24 2 10 2-5 2-30 2 31 2-25 2 11 2-8 2 0 2-5 2 20 2-12 2-4 2-4 2-3 2-12 2-17 2 9 2-5 2 3 2 23 2-15 2-16 2 14 2-18 2 4 2 14 2-21 2-19 2 5 2-11 2 10 2-6 2 10 2-19 2-24 2 6 2 3 2-12 2 1 2-6 2 7 2 5 2-16 2-1 2 0 2 13 2-13 2-15 2-7 2 1 2-2 2 3 2-11 2-5 2-4 2-8 2-2 2 12 2-25 2 9 2-14 2 12 2-10 2-9 2-2 2-5 2 1 2 4 2-24 2 15 2-4 2-24 2-8 2 5 2 6M0 316l1 3 2 7 2-9 2 2 2 7 2-9 2 6 2 10 2-16 2 14 2-12 2-15 2-2 2-11 2 2 2 12 2-8 2 0 2-4 2 3 2-9 2 13 2-19 2 6 2 1 2-8 2-16 2 15 2 4 2-4 2-13 2 18 2-11 2 0 2-1 2 2 2 5 2-6 2 1 2-17 2 6 2-12 2-1 2 13 2 0 2-4 2-7 2-11 2-1 2 21 2-35 2 4 2-4 2 0 2-5 2-26 2 23 2-15 2 15 2-23 2-6 2-8 2 9 2-14 2 14 2-27 2 13 2-22 2 9 2 5 2-10 2 1 2 7 2-24 2 6 2-9 2 0 2 8 2-13 2-14 2 2 2 4 2-11 2-5 2-7 2 1 2-14 2-9 2 10 2-12 2-1 2-5 2-7 2 3 2-10 2-11 2 4 2-2 2-26 2 9 1 15M0 337l2-2 2 3 2-18 2-3 2 9 2 8 2-23 2 11 2 6 2-21 2 23 2-21 2 7 2 0 2 2 2-4 2-8 2-2 2-8 2-1 2-8 2 6 2-6 2 16 2-27 2 18 2-10 2 7 2 5 2-14 2-2 2-4 2 2 2-3 2 8 2 4 2-18 2-8 2 8 2 2 2-9 2-13 2 21 2-5 2-13 2 0 2-3 2 8 2 14 2-15 2 11 2-12 2-20 2 1 2-11 2 1 2-12 2-6 2-2 2 5 2-19 2 4 2-8 2 7 2-18 2 16 2-16 2 3 2-9 2 8 2-2 2-19 2 0 2 6 2-19 2 2 2 4 2-14 2-13 2-7 2 1 2-21 2 20 2 6 2-29 2 3 2 12 2-18 2-13 2 5 2-7 2-14 2 12 2-17 2-10 2 6 2 1 2-22 2 2 2 9M0 377l1-14 2-11 2 5 2-5 2-5 2-8 2 4 2-1 2-13 2-8 2 11 2-12 2-2 2 5 2-6 2-3 2 16 2-11 2-12 2 11 2 4 2-10 2 3 2 5 2-6 2-5 2 11 2-11 2-10 2 5 2-4 2-1 2-10 2-1 2-2 2-1 2 6 2-15 2-11 2 15 2 11 2-36 2 9 2-2 2 7 2 1 2 5 2-2 2-18 2 0 2-3 2 3 2-9 2 1 2-9 2-8 2-20 2 6 2 9 2-1 2-16 2-5 2-2 2-11 2-1 2 12 2-9 2-20 2 11 2-18 2 10 2-7 2-2 2-3 2 6 2-20 2 1 2 0 2-20 2 6 2-8 2-9 2 2 2-24 2 3 2-6 2 6 2-4 2-2 2-7 2-11 2 12 2-26 2-3 2 5 2-20 2 21 2-25 2 1 2-18 1 8M0 356l2-6 2 1 2-7 2 11 2-2 2-5 2-4 2-1 2-10 2-4 2 9 2 10 2-18 2 13 2-3 2 1 2-1 2-5 2-3 2 14 2-5 2-11 2 8 2-2 2-3 2-3 2-2 2-5 2-6 2-8 2 0 2 6 2-11 2 5 2-7 2-4 2 6 2-13 2 10 2-15 2 0 2-10 2 13 2 8 2-15 2 1 2 4 2 3 2-6 2-7 2-14 2 9 2-26 2 11 2-22 2 13 2-5 2-13 2-3 2 0 2-4 2-19 2 5 2-4 2 8 2 1 2-20 2-9 2 14 2-17 2-1 2 7 2-21 2-5 2 5 2-16 2 1 2-16 2 16 2-13 2-10 2 1 2-16 2 8 2-31 2 11 2-1 2-2 2 1 2-27 2 4 2-3 2-15 2 3 2-1 2 6 2-9 2-14 2 1 2-5M0 366l1-7 2 8 2 6 2-9 2-1 2-14 2 0 2 17 2 2 2-25 2-1 2 4 2-1 2-1 2 0 2 6 2-4 2-10 2 6 2 4 2 0 2-9 2 5 2-11 2-2 2 7 2-5 2 12 2-24 2-14 2 25 2-5 2-19 2 17 2 1 2-13 2-1 2-14 2 4 2 7 2-7 2-5 2 11 2-7 2-1 2-8 2-8 2 0 2-3 2 8 2 5 2-12 2-14 2 2 2-2 2-17 2 5 2-9 2-9 2 6 2-15 2 0 2-10 2 15 2-26 2 3 2-16 2-5 2 1 2-6 2 0 2-12 2 11 2-6 2-5 2-10 2-7 2-10 2-5 2 8 2-15 2 13 2-18 2-5 2-3 2 1 2-10 2-16 2-15 2 9 2-8 2-5 2-7 2-8 2-5 2-6 2 0 2-3 2-4 2 7 1 6M0 355l2 11 2 1 2-4 2-8 2 13 2-7 2-5 2 22 2-8 2 11 2-12 2-12 2 8 2 0 2 3 2-8 2-24 2 21 2-1 2-8 2 14 2-16 2 18 2-11 2-12 2 0 2 13 2 0 2-11 2-18 2 13 2-10 2 15 2-27 2 13 2-12 2 3 2 11 2-22 2 2 2 3 2 0 2-12 2-2 2-6 2 13 2 0 2-17 2-4 2 3 2 12 2-18 2-4 2-13 2-9 2-3 2 3 2-21 2 10 2-9 2-15 2 8 2 0 2-11 2 5 2-15 2-13 2 24 2-8 2-11 2-9 2-10 2-8 2 2 2 0 2-20 2 4 2-6 2-5 2-1 2-17 2 8 2-22 2 4 2-4 2-23 2 5 2 11 2-10 2-14 2-12 2-11 2-1 2-12 2 25 2-26 2-10 2 5 2-3 2 12M4 385h0M10 375h0M12 295h0M18 382h0M19 288h0M21 386h0M23 369h0M24 369h0M25 278h0M27 281h0M31 372h0M34 272h0M36 269h0M38 365h0M44 259h0M46 359h0M50 263h0M58 345h0M74 231h0M75 240h0M79 333h0M85 315h0M86 230h0M87 319h0M91 222h0M97 216h0M102 298h0M106 213h0M112 272h0M114 261h0M115 266h0M121 170h0M124 236h0M132 148h0M136 147h0M140 201h0M144 138h0M146 137h0M149 120h0M151 178h0M157 118h0M158 167h0M161 109h0M163 141h0M168 100h0M170 91h0M172 120h0M173 78h0M175 113h0M178 74h0M180 60h0M183 50h0"/></g>
<path class="o dk" d="M105.3 87.8h0M136.7 85.4h0M140.4 80.8h0M124.7 81.7h0M39.8 66h0M76.7 62.3h0"/>
<g class="fr"><path stroke-width="2" d="M0 0H306.9 M0 176H306.9"/><path stroke-width="2.3" stroke-linecap="square" d="M0 0V176 M306.9 0V176"/></g>
<text class="ti" x="153.45" y="-13.4">Actor θ<tspan class="su" dy="5.6">12</tspan></text>
<text class="yt" x="-25.3" y="189.3">0</text><text class="yt" x="-25.3" y="111.08">40</text><text class="yt" x="-25.3" y="32.86">80</text>
<text class="xt" x="-1.5" y="233.1">0</text><text class="xt" x="151.95" y="233.1">100</text><text class="xt" x="305.4" y="233.1">200</text>
<text class="xl" x="150.45" y="285.6">Number of Pulses</text>
<text class="yl" transform="translate(-89.3 148.7) rotate(-90)"><tspan x="0">G (</tspan><tspan class="mu" x="50.5" dy="1">μ</tspan><tspan x="83.6" dy="-1">S</tspan><tspan x="109">)</tspan></text>
</g>
<g transform="translate(117.5 1622.22)">
<g class="fr"><path stroke-width="1.9" d="M0 97.78h3.6 M306.9 97.78h-3.6 M0 19.56h3.6 M306.9 19.56h-3.6 M153.45 0v3.6 M153.45 176v-3.6"/><path stroke-width="1.7" d="M0 166.22h2.3 M306.9 166.22h-2.3 M0 156.44h2.3 M306.9 156.44h-2.3 M0 146.67h2.3 M306.9 146.67h-2.3 M0 136.89h2.3 M306.9 136.89h-2.3 M0 127.11h2.3 M306.9 127.11h-2.3 M0 117.33h2.3 M306.9 117.33h-2.3 M0 107.56h2.3 M306.9 107.56h-2.3 M0 88h2.3 M306.9 88h-2.3 M0 78.22h2.3 M306.9 78.22h-2.3 M0 68.44h2.3 M306.9 68.44h-2.3 M0 58.67h2.3 M306.9 58.67h-2.3 M0 48.89h2.3 M306.9 48.89h-2.3 M0 39.11h2.3 M306.9 39.11h-2.3 M0 29.33h2.3 M306.9 29.33h-2.3 M0 9.78h2.3 M306.9 9.78h-2.3"/></g>
<g transform="scale(1.53450 0.25)"><path class="d f lt" d="M0 272L4 250L8 229L12 214L16 203L20 195L24 188L28 181L32 175L36 168L40 163L44 159L48 154L52 149L56 144L60 139L64 135L68 131L72 128L76 124L80 120L84 117L88 116L92 115L96 114L100 113L104 110L108 107L112 104L116 101L120 98L124 97L128 96L132 95L136 93L140 92L144 91L148 90L152 90L156 89L160 88L164 88L168 87L172 87L176 86L180 86L184 85L188 85L192 84L196 84L200 84L200 99L196 100L192 101L188 103L184 104L180 106L176 107L172 109L168 110L164 111L160 113L156 114L152 115L148 116L144 118L140 119L136 121L132 123L128 125L124 127L120 129L116 131L112 133L108 135L104 137L100 140L96 143L92 147L88 151L84 154L80 157L76 159L72 162L68 164L64 167L60 169L56 175L52 181L48 187L44 193L40 199L36 206L32 212L28 219L24 225L20 231L16 246L12 273L8 307L4 354L0 353Z"/><path class="d lt" d="M0 268l2 2 2-26 2-9 2-4 2-12 2 4 2-20 2-2 2-11 2 5 2-6 2-9 2-9 2 8 2-1 2-2 2-16 2 14 2-14 2-2 2 0 2-3 2-6 2-2 2-1 2 6 2-13 2-2 2 13 2-15 2 2 2-1 2-8 2-3 2 6 2 2 2-12 2 15 2-11 2-10 2 7 2-3 2 5 2-7 2-1 2-18 2 11 2 8 2-3 2-4 2 8 2-5 2-4 2 0 2-5 2 0 2 14 2-21 2 5 2-10 2-4 2 5 2 10 2-3 2-15 2 16 2-6 2-7 2-1 2 10 2 0 2-12 2-8 2 16 2-6 2-2 2-4 2 0 2 8 2-2 2-8 2 4 2 3 2 1 2-5 2 11 2-2 2-3 2-8 2 3 2 0 2 3 2-14 2 17 2-6 2-5 2 3 2 7 2-1 2-5M0 315l1-5 2-10 2-22 2-15 2-20 2-14 2-6 2-6 2-10 2-7 2-4 2-1 2-1 2-3 2 4 2-16 2 6 2-7 2-8 2 14 2-16 2 0 2-2 2-2 2-9 2 4 2-2 2-6 2-2 2 3 2-5 2-3 2 1 2-1 2-9 2 0 2 2 2 6 2-6 2-5 2-12 2 2 2 0 2-1 2 4 2-1 2-8 2 2 2-4 2 9 2-11 2 13 2-5 2 2 2-13 2 2 2 4 2-8 2 3 2-9 2 7 2-5 2-2 2 8 2-3 2 0 2 1 2 2 2-9 2-3 2 11 2-6 2-10 2 8 2-4 2-6 2 5 2 4 2-2 2 2 2-15 2 22 2-3 2-15 2 6 2-1 2-8 2 2 2 3 2 9 2-9 2 0 2-6 2 12 2-14 2 8 2 6 2-7 2-1 2 2 1-4M0 311l2-17 2-3 2-15 2-17 2-14 2-6 2-13 2-10 2 3 2-7 2-5 2-4 2-2 2 0 2-11 2-1 2 1 2-9 2 2 2-6 2-4 2 6 2-3 2-6 2 5 2-13 2 0 2-9 2 14 2-15 2 1 2 3 2-13 2 1 2-6 2 3 2 0 2-3 2 9 2-21 2 9 2 1 2 1 2-9 2 1 2-3 2 0 2-10 2 12 2-4 2-4 2 2 2-3 2 0 2-2 2 0 2 2 2-7 2 8 2-4 2-8 2 0 2 11 2-12 2 1 2-1 2 0 2 5 2-9 2-4 2 16 2-10 2-8 2 0 2 10 2-8 2-5 2 12 2-4 2 4 2-7 2-7 2 9 2 2 2-12 2 5 2-1 2-3 2 0 2 3 2 6 2-9 2 5 2 3 2 3 2-4 2-1 2 3 2-6 2-1M0 317l1-5 2 16 2-18 2-12 2-22 2-13 2-10 2 4 2-19 2-10 2 1 2 0 2-8 2-5 2-8 2-1 2 3 2-2 2-6 2-6 2-1 2-10 2 7 2-13 2 11 2-5 2-17 2 2 2 1 2-5 2-4 2-5 2 2 2-4 2 3 2 3 2-7 2-5 2 5 2-4 2 3 2 1 2 3 2-14 2 4 2-4 2 3 2-1 2-4 2-2 2-11 2 9 2-3 2-6 2 1 2 2 2 2 2-5 2-2 2-1 2-7 2 4 2 0 2-6 2-1 2 4 2 0 2-6 2-3 2 2 2-3 2 8 2-8 2-4 2 2 2 3 2 3 2 1 2-7 2-4 2 3 2 6 2-13 2 11 2 0 2-5 2 6 2 1 2-11 2-3 2 6 2-1 2-2 2-10 2 7 2 7 2-16 2 10 2-3 2 2 1 11M0 352l2 1 2 12 2-25 2-28 2-25 2-13 2-5 2-24 2-10 2-5 2-4 2-4 2 7 2-2 2-12 2-4 2-3 2 0 2-1 2-7 2-5 2 11 2-13 2-6 2 0 2 0 2-7 2 3 2 3 2-1 2-16 2 4 2-9 2 5 2 2 2-9 2 6 2-10 2 5 2 1 2-9 2-3 2 0 2 3 2-5 2-1 2-1 2 6 2-10 2-5 2 4 2-2 2 0 2-6 2-2 2 2 2 2 2-5 2 2 2 5 2-7 2-4 2 5 2-1 2-11 2 6 2 0 2-6 2 2 2-7 2-4 2 9 2-10 2 4 2 0 2 2 2-6 2 1 2 3 2-4 2 6 2-7 2 3 2-7 2 1 2 9 2-8 2 6 2-4 2-2 2-8 2-1 2 11 2-9 2 4 2 2 2-13 2 23 2-16 2 0M5 227h0M9 209h0M13 202h0M16 186h0M21 243h0M35 218h0M38 148h0M40 150h0M41 204h0M45 209h0M53 140h0M55 131h0M56 137h0M61 179h0M69 123h0M70 176h0M72 168h0M77 168h0M83 165h0M85 167h0M86 109h0M87 110h0M89 160h0M94 155h0M95 153h0M98 150h0M100 147h0M103 102h0M105 102h0M106 93h0M113 96h0M114 145h0M116 92h0M118 92h0M119 90h0M124 84h0M130 136h0M135 84h0M140 130h0M141 84h0M142 127h0M148 128h0M150 84h0M157 79h0M161 80h0M168 122h0M176 71h0M184 72h0M188 112h0M191 78h0M193 74h0"/></g>
<g transform="scale(1.53450 0.25)"><path class="d f dk" d="M0 431L4 429L8 427L12 424L16 422L20 419L24 416L28 414L32 412L36 409L40 407L44 404L48 402L52 401L56 399L60 398L64 397L68 396L72 394L76 393L80 392L84 391L88 390L92 389L96 388L100 387L104 386L108 384L112 383L116 381L120 380L124 375L128 370L132 365L136 360L140 352L144 339L148 327L152 318L156 314L160 309L164 301L168 289L172 277L176 264L180 252L184 239L188 217L192 191L196 148L200 94L200 148L196 182L192 226L188 257L184 278L180 295L176 311L172 327L168 344L164 362L160 373L156 378L152 383L148 387L144 389L140 392L136 396L132 403L128 409L124 416L120 422L116 426L112 429L108 432L104 435L100 437L96 439L92 440L88 441L84 442L80 443L76 444L72 445L68 445L64 445L60 445L56 445L52 445L48 445L44 446L40 447L36 449L32 450L28 451L24 452L20 453L16 454L12 454L8 455L4 456L0 456Z"/><path class="d dk" d="M0 428l2 11 2-12 2 0 2-10 2 11 2 2 2-1 2-18 2 18 2-1 2 3 2-9 2-15 2 9 2-6 2-2 2 0 2-6 2 2 2-1 2 1 2 10 2-8 2-7 2 17 2-26 2 1 2-4 2 9 2 7 2-9 2 2 2-2 2-11 2 9 2 2 2-8 2 8 2 5 2-7 2-6 2-5 2 8 2 4 2-2 2-11 2-1 2 4 2-6 2 2 2 10 2 1 2-5 2-7 2 4 2 9 2-5 2-12 2 1 2 3 2-7 2 3 2-5 2 6 2-3 2-17 2-2 2 13 2-11 2-7 2-4 2-7 2 2 2-10 2-18 2-3 2 6 2-10 2 5 2-10 2 3 2 1 2-10 2-9 2 9 2-12 2-16 2-27 2 18 2-7 2-18 2 5 2-13 2-11 2-15 2 13 2-58 2-3 2-34 2-15M0 431l1 6 2-10 2 14 2 0 2-5 2-15 2 2 2 12 2-2 2 5 2-5 2-21 2 10 2-2 2-1 2-2 2 1 2 5 2 8 2-28 2 19 2-5 2 0 2-7 2 6 2 7 2-16 2-7 2 1 2 8 2 10 2-12 2-1 2-8 2 7 2-5 2-3 2 3 2 13 2-8 2 0 2-21 2 30 2-8 2 11 2-2 2-32 2 13 2-11 2 14 2-4 2 10 2-6 2 0 2 9 2-13 2 11 2 1 2-21 2 21 2-20 2-6 2-1 2-9 2 14 2-18 2-12 2 18 2-19 2 8 2 9 2-27 2-14 2 19 2-28 2 24 2-32 2 16 2-26 2 5 2 3 2-4 2-8 2 23 2-36 2-2 2-2 2-13 2 4 2-23 2 1 2 10 2-11 2-19 2-12 2-19 2-28 2-19 2-18 2-22 1-20M0 452l2-10 2 6 2-16 2 7 2 5 2-17 2 15 2-12 2 8 2-7 2 15 2-6 2-14 2-1 2 5 2-4 2 15 2-13 2-3 2 17 2-10 2 0 2-5 2-3 2-10 2 12 2-15 2 13 2-14 2 5 2-15 2-4 2 15 2 10 2-10 2-4 2 0 2 14 2 1 2 0 2-18 2-16 2 15 2 13 2-8 2-15 2 6 2 6 2 13 2-8 2-7 2 16 2-19 2 15 2-9 2 0 2-6 2 9 2-13 2-5 2 1 2 10 2-25 2 1 2 10 2-30 2 21 2 7 2-18 2-1 2-5 2 2 2-8 2-13 2-4 2-8 2 6 2-11 2 8 2 14 2-19 2-5 2 8 2-24 2 7 2-17 2-10 2 4 2-14 2-12 2-14 2-7 2-14 2 2 2-3 2-31 2-13 2-29 2-9 2-49M0 439l1-4 2-1 2 16 2-14 2 14 2-9 2 1 2 5 2-7 2 3 2-1 2 15 2-14 2-10 2-2 2 0 2-3 2 5 2-5 2-9 2-5 2 14 2-6 2 8 2-10 2-3 2 2 2 13 2-14 2 0 2 8 2-3 2-15 2 15 2-10 2 19 2-11 2-6 2 1 2-2 2-7 2-3 2 26 2-6 2-9 2 10 2 0 2-9 2 7 2-3 2-3 2 0 2 11 2-14 2-5 2 10 2-22 2 14 2-4 2-23 2 27 2 1 2-3 2-16 2-10 2-1 2-1 2-9 2 11 2 4 2-7 2-7 2 5 2-1 2-8 2-5 2-7 2 0 2 4 2-13 2 12 2-19 2-11 2-2 2-14 2-10 2 1 2-11 2-12 2-6 2-2 2-19 2 2 2-8 2-1 2-10 2-43 2-29 2-9 2-14 1 3M0 466l2-28 2 20 2-3 2 3 2-15 2 10 2-6 2-10 2 10 2-1 2 7 2-3 2 5 2-18 2 14 2 5 2-21 2 2 2-5 2 13 2-7 2 6 2-15 2 27 2-17 2 10 2-1 2-11 2-1 2 3 2-18 2 20 2-11 2 5 2-6 2 8 2-16 2 10 2 18 2-29 2 18 2 11 2-3 2-10 2-10 2 0 2 15 2-2 2 12 2-3 2-12 2 0 2-16 2-4 2 7 2 5 2-8 2 2 2 0 2 0 2-18 2 0 2-10 2 11 2-4 2 5 2 2 2-11 2-5 2-5 2 7 2-6 2-12 2 12 2-21 2 13 2-2 2 8 2-40 2 11 2 7 2-3 2-6 2-20 2-8 2 12 2-2 2-19 2-10 2-19 2-18 2 9 2 3 2-29 2-3 2-23 2-34 2-10 2-35 2-6M0 461l1-2 2-4 2-2 2 11 2-7 2 6 2-7 2 1 2 8 2-4 2 0 2-13 2 5 2 4 2-18 2 18 2-7 2-10 2 35 2-14 2-7 2-7 2 2 2-4 2 18 2-20 2 10 2 4 2-12 2 6 2-7 2 3 2-3 2 5 2 7 2 1 2-4 2-14 2 5 2 5 2-3 2-5 2-2 2 12 2-8 2-2 2 4 2-9 2 9 2-7 2 7 2-21 2 12 2 1 2-9 2 2 2-5 2-11 2 21 2 6 2-28 2 11 2-2 2-1 2-16 2-5 2-5 2 13 2-29 2 14 2-4 2-6 2 5 2-3 2-2 2-1 2-1 2-1 2 7 2-8 2-8 2-4 2-15 2 6 2-15 2-25 2 7 2-17 2 0 2-11 2-17 2 10 2-22 2-7 2 3 2-14 2-29 2-29 2-24 2-11 1-1M5 410h0M9 467h0M10 412h0M17 412h0M23 392h0M26 400h0M33 398h0M34 401h0M42 453h0M57 454h0M64 466h0M67 453h0M70 470h0M72 453h0M78 461h0M80 453h0M81 456h0M86 449h0M91 377h0M94 455h0M104 379h0M107 452h0M110 371h0M115 372h0M117 369h0M121 359h0M123 349h0M130 414h0M133 356h0M150 392h0M151 400h0M154 391h0M157 399h0M161 296h0M163 287h0M164 288h0M168 356h0M172 261h0M176 325h0M184 298h0M196 129h0M198 183h0"/></g>
<path class="o dk" d="M120.4 84.6h0M23.5 96.6h0M58.6 93.9h0M70.5 94.8h0M152.7 89.3h0M158.2 89.3h0"/>
<g class="fr"><path stroke-width="2" d="M0 0H306.9 M0 176H306.9"/><path stroke-width="2.3" stroke-linecap="square" d="M0 0V176 M306.9 0V176"/></g>
<text class="ti" x="151.45" y="-13.4">Actor θ<tspan class="su" dy="5.6">03</tspan></text>
<text class="yt" x="-25.3" y="189.3">0</text><text class="yt" x="-25.3" y="111.08">40</text><text class="yt" x="-25.3" y="32.86">80</text>
<text class="xt" x="-1.5" y="233.1">0</text><text class="xt" x="151.95" y="233.1">100</text><text class="xt" x="305.4" y="233.1">200</text>
<text class="xl" x="150.45" y="285.6">Number of Pulses</text>
<text class="yl" transform="translate(-89.3 148.7) rotate(-90)"><tspan x="0">G (</tspan><tspan class="mu" x="50.5" dy="1">μ</tspan><tspan x="83.6" dy="-1">S</tspan><tspan x="109">)</tspan></text>
</g>
<g transform="translate(646.6 1622.22)">
<g class="fr"><path stroke-width="1.9" d="M0 97.78h3.6 M306.9 97.78h-3.6 M0 19.56h3.6 M306.9 19.56h-3.6 M153.45 0v3.6 M153.45 176v-3.6"/><path stroke-width="1.7" d="M0 166.22h2.3 M306.9 166.22h-2.3 M0 156.44h2.3 M306.9 156.44h-2.3 M0 146.67h2.3 M306.9 146.67h-2.3 M0 136.89h2.3 M306.9 136.89h-2.3 M0 127.11h2.3 M306.9 127.11h-2.3 M0 117.33h2.3 M306.9 117.33h-2.3 M0 107.56h2.3 M306.9 107.56h-2.3 M0 88h2.3 M306.9 88h-2.3 M0 78.22h2.3 M306.9 78.22h-2.3 M0 68.44h2.3 M306.9 68.44h-2.3 M0 58.67h2.3 M306.9 58.67h-2.3 M0 48.89h2.3 M306.9 48.89h-2.3 M0 39.11h2.3 M306.9 39.11h-2.3 M0 29.33h2.3 M306.9 29.33h-2.3 M0 9.78h2.3 M306.9 9.78h-2.3"/></g>
<g transform="scale(1.53450 0.25)"><path class="d f lt" d="M0 465L4 426L8 360L12 296L16 255L20 225L24 200L28 186L32 174L36 162L40 153L44 146L48 139L52 133L56 127L60 121L64 117L68 113L72 109L76 105L80 101L84 97L88 93L92 88L96 84L100 80L104 77L108 74L112 71L116 68L120 65L124 63L128 61L132 60L136 58L140 56L144 54L148 53L152 52L156 50L160 49L164 47L168 46L172 44L176 43L180 41L184 40L188 38L192 37L196 35L200 32L200 32L196 35L192 37L188 38L184 40L180 41L176 43L172 44L168 46L164 47L160 49L156 50L152 52L148 53L144 54L140 56L136 58L132 60L128 61L124 63L120 66L116 69L112 72L108 75L104 78L100 81L96 85L92 90L88 95L84 99L80 104L76 109L72 113L68 117L64 121L60 125L56 132L52 139L48 146L44 152L40 159L36 165L32 180L28 195L24 207L20 230L16 258L12 296L8 360L4 466L0 484Z"/><path class="d lt" d="M0 459l2-18 2-12 2-40 2-29 2-45 2-18 2-24 2-22 2-22 2-8 2-9 2-18 2-11 2 4 2-3 2-14 2-15 2 9 2-14 2 1 2-1 2-3 2-8 2-4 2 7 2-9 2-4 2-6 2 6 2-13 2-1 2-7 2 10 2-4 2-10 2 1 2-7 2 3 2 0 2-1 2-5 2 8 2-14 2 8 2-9 2-3 2-3 2 0 2-3 2 1 2-6 2 2 2-6 2 8 2-19 2 7 2 5 2-7 2-8 2 4 2-10 2 6 2 2 2-9 2 11 2 2 2-10 2 11 2-5 2-6 2-5 2 4 2 9 2-2 2-14 2 7 2 3 2-2 2 0 2-2 2 7 2-12 2-2 2 2 2-14 2 1 2 15 2-4 2-7 2 4 2-3 2-8 2 8 2 6 2-19 2 8 2-3 2 6 2-4 2 3M0 488l1 3 2-15 2-31 2-59 2-54 2-25 2-26 2-16 2-8 2-22 2-11 2-5 2-14 2-7 2-1 2-7 2-12 2-10 2 1 2-9 2 2 2-9 2 2 2-11 2 3 2-5 2 12 2-19 2-2 2 0 2-9 2 9 2-11 2-2 2 2 2-6 2-3 2-4 2-5 2 16 2-18 2-6 2 7 2-1 2-5 2-1 2-6 2 2 2-6 2 0 2 2 2-11 2-1 2-6 2 7 2-4 2 6 2-6 2 2 2-6 2-3 2-3 2 7 2-9 2-2 2 7 2-10 2 4 2 2 2-14 2 9 2 0 2 7 2-17 2 3 2 9 2-4 2-10 2 10 2 2 2-13 2-3 2 2 2 3 2 3 2-8 2 5 2 5 2-12 2 6 2-18 2 15 2-4 2 1 2-15 2 11 2-1 2 4 2-4 2-3 1 6M3 493h0M5 457h0M8 354h0M28 209h0M31 202h0M35 177h0M36 171h0M40 172h0M43 137h0M50 153h0M59 138h0M60 142h0M65 131h0M66 106h0M71 122h0M72 124h0M74 99h0M75 95h0M79 95h0M83 87h0M88 105h0M102 68h0M104 70h0M105 60h0M109 64h0M110 81h0M118 85h0M120 83h0M136 62h0M137 44h0M138 64h0M140 61h0M145 58h0M147 46h0M154 35h0M157 54h0M158 56h0M161 39h0M163 56h0M164 50h0M171 38h0M179 33h0M187 30h0M195 40h0"/></g>
<g transform="scale(1.53450 0.25)"><path class="d lt" d="M0 445l2-11 2-33 2-60 2-48 2-24 2-36 2-26 2-21 2-18 2-2 2-24 2-10 2-13 2-3 2-3 2-13 2 0 2-2 2 3 2-11 2 4 2-1 2 7 2-8 2-2 2-2 2-1 2-4 2 1 2-3 2-2 2-3 2 2 2-3 2 1 2 1 2-6 2-1 2 1 2 1 2-10 2-9 2-2 2 6 2-2 2-9 2 11 2-8 2-4 2 2 2-5 2 9 2-5 2-4 2-3 2 2 2 2 2 12 2-11 2-5 2 0 2-6 2 6 2-3 2 2 2 1 2 0 2-12 2 8 2 8 2-5 2 4 2-8 2-4 2 0 2-5 2 8 2-5 2-1 2-13 2 16 2-8 2 8 2-4 2 2 2-5 2-3 2 2 2 4 2-2 2-3 2-1 2 5 2-4 2-3 2-3 2 4 2-3 2 1 2-3M0 451l1 8 2-34 2-61 2-53 2-35 2-32 2-20 2-22 2-32 2-9 2-14 2-8 2-13 2-5 2-11 2-15 2 4 2-4 2-2 2 0 2 1 2 0 2-8 2 10 2-4 2 6 2-3 2-19 2 12 2-4 2-1 2-8 2 5 2-9 2-1 2 4 2 0 2-8 2 3 2 9 2-14 2-1 2 0 2-12 2 18 2-15 2 0 2-1 2 2 2 0 2-4 2 6 2-5 2-13 2 12 2-3 2 2 2-7 2-6 2 7 2-7 2-6 2 10 2-1 2-4 2 5 2-6 2 0 2 10 2-12 2 3 2-1 2 5 2-5 2-1 2-3 2-2 2-1 2-3 2 8 2-5 2-4 2-1 2 8 2-9 2-5 2 8 2-2 2 4 2-2 2 2 2 1 2 0 2-11 2 11 2-14 2 3 2 0 2 0 2-1 1-3M5 364h0M6 348h0M10 271h0M11 236h0M15 191h0M19 167h0M20 150h0M23 154h0M24 126h0M37 84h0M45 97h0M46 102h0M53 93h0M55 80h0M56 80h0M61 71h0M65 95h0M78 84h0M82 75h0M83 71h0M84 57h0M86 54h0M88 50h0M92 42h0M95 65h0M100 44h0M101 60h0M102 42h0M109 41h0M115 35h0M118 30h0M120 50h0M122 45h0M132 47h0M134 49h0M138 23h0M141 29h0M153 40h0M161 34h0M162 15h0M167 32h0M178 12h0M180 12h0M187 35h0M193 24h0M194 24h0"/></g>
<g transform="scale(1.53450 0.25)"><path class="d f dk" d="M0 524L4 524L8 524L12 524L16 524L20 524L24 523L28 520L32 516L36 512L40 509L44 505L48 502L52 500L56 499L60 498L64 497L68 495L72 494L76 492L80 490L84 488L88 486L92 484L96 481L100 479L104 475L108 471L112 466L116 462L120 457L124 452L128 447L132 443L136 438L140 432L144 424L148 417L152 410L156 402L160 395L164 383L168 366L172 349L176 336L180 326L184 308L188 278L192 223L196 151L200 58L200 81L196 169L192 246L188 300L184 336L180 365L176 390L172 407L168 414L164 422L160 430L156 437L152 444L148 452L144 459L140 467L136 473L132 478L128 483L124 488L120 493L116 498L112 503L108 508L104 513L100 518L96 520L92 522L88 523L84 525L80 527L76 528L72 530L68 532L64 535L60 537L56 539L52 542L48 544L44 545L40 546L36 546L32 547L28 548L24 548L20 550L16 552L12 554L8 556L4 558L0 559Z"/><path class="d dk" d="M0 534l2-11 2 7 2 3 2-10 2 2 2-7 2 4 2 10 2-9 2 1 2-3 2 8 2-4 2-9 2 2 2-12 2 11 2 1 2-16 2 7 2-9 2 4 2 0 2-7 2 10 2-6 2-1 2-6 2 16 2-10 2 4 2-9 2-7 2 4 2 2 2 4 2-5 2 3 2-8 2-8 2 6 2-4 2 8 2-9 2 12 2-11 2-6 2-2 2 6 2-18 2 17 2-6 2 1 2 8 2-10 2-12 2-6 2 12 2-5 2-6 2-9 2-6 2 3 2 13 2-12 2 5 2-10 2 3 2 3 2-14 2-3 2 1 2-3 2-11 2-3 2-7 2 5 2-12 2 10 2-13 2-9 2 4 2-12 2-7 2-13 2-6 2-10 2-3 2-2 2-10 2-18 2 5 2-21 2-23 2-23 2-30 2-18 2-51 2-48 2-39M0 522l1-1 2 14 2 4 2-5 2 14 2-13 2-8 2 8 2-7 2 8 2-3 2 2 2-6 2 4 2-1 2-7 2 8 2-8 2-7 2-4 2 1 2-4 2 2 2 3 2 0 2 1 2-11 2-7 2 10 2-2 2-4 2 8 2-11 2 5 2 1 2-2 2-9 2-1 2-5 2 13 2 3 2-14 2 10 2 1 2-9 2 9 2-18 2 0 2 2 2-10 2 11 2 5 2-10 2 5 2-7 2 1 2-4 2-15 2 14 2-9 2-7 2 5 2 2 2-15 2 2 2 8 2-10 2-11 2 1 2-7 2-17 2 17 2-8 2 1 2-12 2 0 2-5 2-2 2 4 2-14 2 1 2-1 2-20 2-1 2-8 2-3 2-13 2-2 2-15 2 2 2 0 2-20 2-12 2-13 2-24 2-30 2-23 2-37 2-48 2-49 1-15M0 542l2-2 2 9 2-15 2 5 2 6 2-6 2-3 2 6 2-8 2 1 2 8 2 0 2-4 2 2 2-3 2-11 2 7 2 3 2-2 2 2 2-11 2 4 2 7 2-10 2-6 2 3 2-4 2-1 2-13 2 0 2 3 2-2 2 12 2-9 2-1 2 11 2-3 2 1 2-11 2 6 2 0 2-7 2 4 2 0 2-12 2 11 2-5 2-3 2 1 2 5 2-8 2-12 2 7 2-3 2-3 2-12 2 0 2 5 2-7 2-6 2 8 2-6 2 0 2-1 2 1 2-13 2 2 2-5 2-3 2-4 2 5 2-14 2-3 2-3 2-4 2 7 2-14 2-4 2 3 2-2 2-8 2-5 2-4 2-12 2-4 2-7 2-8 2-10 2-16 2-4 2-17 2-6 2-12 2-14 2-17 2-45 2-21 2-52 2-39 2-50M0 544l1 10 2-11 2 6 2-13 2 18 2-11 2 3 2-1 2 9 2-5 2 2 2-1 2-14 2 7 2-3 2 7 2-13 2 8 2 1 2-5 2-1 2 2 2-3 2 0 2 3 2 1 2-9 2 7 2-2 2-1 2-14 2 11 2-1 2-7 2 1 2 0 2-7 2 3 2-6 2 7 2-16 2 7 2 8 2-3 2 2 2 6 2-7 2-5 2 2 2-9 2-7 2 11 2-4 2-3 2-5 2-3 2-1 2 0 2-3 2-7 2 10 2-15 2-1 2 9 2-8 2 0 2-8 2 2 2-9 2-6 2-4 2-10 2 2 2-3 2-8 2-4 2 1 2-1 2-7 2-5 2 4 2-5 2-19 2 2 2-8 2 11 2-20 2-4 2-7 2-19 2-2 2-15 2-14 2-14 2-29 2-26 2-27 2-42 2-39 2-63 1-12M0 544l2 12 2-5 2 0 2 8 2-5 2-4 2-3 2 9 2-4 2 7 2 3 2-12 2-6 2 4 2 7 2-9 2 2 2-9 2 8 2 1 2 6 2-11 2 1 2 9 2 0 2-6 2 1 2-6 2-3 2 10 2-10 2-8 2 16 2 3 2-15 2-3 2-3 2 9 2-12 2-2 2 7 2-6 2 1 2 0 2 5 2-3 2-5 2-12 2 7 2 15 2-20 2-3 2 13 2-7 2-12 2-1 2 18 2-24 2 3 2 0 2 3 2-9 2-6 2-4 2-9 2 4 2-3 2 7 2-12 2-6 2 1 2-3 2-11 2 3 2-7 2-3 2 1 2-11 2-3 2-3 2 1 2-8 2-1 2 2 2-6 2-5 2-15 2-6 2-10 2-13 2-14 2-17 2-22 2-1 2-42 2-18 2-52 2-36 2-42 2-46M4 511h0M5 571h0M17 567h0M18 560h0M27 567h0M31 506h0M32 506h0M34 507h0M39 497h0M46 496h0M52 494h0M57 554h0M64 541h0M65 477h0M67 546h0M68 541h0M71 483h0M77 477h0M96 530h0M97 472h0M98 473h0M101 524h0M103 462h0M104 529h0M105 463h0M107 518h0M111 458h0M112 456h0M118 507h0M119 448h0M125 499h0M127 437h0M129 427h0M132 488h0M137 421h0M145 404h0M147 463h0M148 463h0M154 397h0M158 444h0M169 348h0M171 342h0M174 329h0M186 331h0M192 214h0M198 128h0"/></g>
<path class="o dk" d="M184.9 106.8h0M140.6 115.1h0M82.4 120.6h0M67.7 121.5h0"/>
<g class="fr"><path stroke-width="2" d="M0 0H306.9 M0 176H306.9"/><path stroke-width="2.3" stroke-linecap="square" d="M0 0V176 M306.9 0V176"/></g>
<text class="ti" x="153.45" y="-13.4">Actor θ<tspan class="su" dy="5.6">13</tspan></text>
<text class="yt" x="-25.3" y="189.3">0</text><text class="yt" x="-25.3" y="111.08">40</text><text class="yt" x="-25.3" y="32.86">80</text>
<text class="xt" x="-1.5" y="233.1">0</text><text class="xt" x="151.95" y="233.1">100</text><text class="xt" x="305.4" y="233.1">200</text>
<text class="xl" x="150.45" y="285.6">Number of Pulses</text>
<text class="yl" transform="translate(-89.3 148.7) rotate(-90)"><tspan x="0">G (</tspan><tspan class="mu" x="50.5" dy="1">μ</tspan><tspan x="83.6" dy="-1">S</tspan><tspan x="109">)</tspan></text>
</g>
<g transform="translate(1175.7 1622.22)">
<g class="fr"><path stroke-width="1.9" d="M0 97.78h3.6 M306.9 97.78h-3.6 M0 19.56h3.6 M306.9 19.56h-3.6 M153.45 0v3.6 M153.45 176v-3.6"/><path stroke-width="1.7" d="M0 166.22h2.3 M306.9 166.22h-2.3 M0 156.44h2.3 M306.9 156.44h-2.3 M0 146.67h2.3 M306.9 146.67h-2.3 M0 136.89h2.3 M306.9 136.89h-2.3 M0 127.11h2.3 M306.9 127.11h-2.3 M0 117.33h2.3 M306.9 117.33h-2.3 M0 107.56h2.3 M306.9 107.56h-2.3 M0 88h2.3 M306.9 88h-2.3 M0 78.22h2.3 M306.9 78.22h-2.3 M0 68.44h2.3 M306.9 68.44h-2.3 M0 58.67h2.3 M306.9 58.67h-2.3 M0 48.89h2.3 M306.9 48.89h-2.3 M0 39.11h2.3 M306.9 39.11h-2.3 M0 29.33h2.3 M306.9 29.33h-2.3 M0 9.78h2.3 M306.9 9.78h-2.3"/></g>
<g transform="scale(1.53450 0.25)"><path class="d f lt" d="M0 562L4 535L8 527L12 521L16 508L20 495L24 482L28 473L32 464L36 456L40 446L44 436L48 427L52 419L56 412L60 405L64 402L68 399L72 397L76 395L80 392L84 390L88 388L92 386L96 384L100 382L104 380L108 378L112 376L116 374L120 371L124 369L128 366L132 364L136 361L140 359L144 357L148 355L152 353L156 351L160 349L164 347L168 345L172 344L176 342L180 340L184 338L188 336L192 334L196 332L200 331L200 369L196 369L192 370L188 371L184 372L180 373L176 374L172 375L168 376L164 377L160 378L156 380L152 381L148 382L144 383L140 386L136 389L132 392L128 395L124 398L120 401L116 404L112 406L108 408L104 410L100 413L96 418L92 423L88 429L84 434L80 436L76 437L72 438L68 440L64 441L60 442L56 449L52 456L48 463L44 473L40 483L36 492L32 500L28 508L24 515L20 520L16 525L12 530L8 541L4 552L0 562Z"/><path class="d lt" d="M0 565l2-18 2-11 2-11 2 5 2-7 2-10 2 0 2-7 2-5 2-8 2-5 2-11 2-3 2 0 2-9 2-2 2-2 2 0 2-12 2-9 2-1 2-2 2-2 2-8 2-2 2-10 2-4 2-6 2 6 2-7 2 3 2-5 2-2 2 5 2-6 2 3 2-1 2-1 2-8 2 2 2 1 2-2 2-5 2-1 2-7 2 1 2 2 2-10 2 8 2 4 2 5 2-16 2-2 2 5 2-3 2-8 2 7 2-7 2 6 2-7 2 4 2-20 2 24 2-15 2 1 2 3 2-9 2 12 2-9 2 5 2-4 2-10 2 4 2 7 2-11 2 5 2-6 2 6 2-20 2 11 2 2 2 7 2-9 2 4 2-4 2 0 2-1 2 6 2-6 2-4 2 10 2-10 2-5 2 2 2-2 2 2 2-9 2 5 2 3 2-2M0 554l1 3 2-14 2-4 2-9 2 2 2-9 2-8 2-4 2-4 2-1 2-8 2-11 2-1 2-7 2-9 2 6 2-5 2-4 2-11 2-5 2 4 2-14 2-6 2 5 2-11 2 9 2-11 2-8 2 6 2-13 2-4 2 0 2 1 2 7 2-3 2 0 2-5 2 4 2-13 2 12 2-2 2 0 2 1 2-3 2-14 2 0 2 8 2 0 2-9 2 0 2 4 2-11 2-7 2 9 2-15 2 10 2-3 2-5 2-1 2 10 2 3 2-11 2-7 2 3 2 4 2-4 2 0 2-5 2-2 2 2 2-4 2 2 2-8 2-10 2 10 2-6 2 8 2-10 2 4 2 4 2-8 2 3 2 5 2-7 2-2 2 4 2-4 2 2 2-2 2 1 2 3 2-6 2 5 2-6 2 1 2-3 2 1 2 1 2-10 2 13 1-6M0 556l2-8 2-7 2-9 2 1 2-7 2-2 2-2 2-5 2-4 2-12 2 3 2-3 2-6 2-8 2-6 2 8 2-15 2 0 2 3 2-9 2-3 2-4 2-10 2-9 2 6 2-15 2 4 2-8 2-12 2 15 2-7 2 0 2-5 2 2 2-5 2-3 2 9 2-10 2 3 2-9 2-1 2 0 2-12 2 10 2-5 2 4 2-6 2 4 2-5 2 5 2-10 2-9 2 5 2 9 2-2 2-4 2-2 2-4 2-1 2 3 2 0 2-5 2-6 2 4 2 4 2-5 2 0 2-11 2 7 2-3 2-8 2 10 2-6 2 6 2 3 2-13 2 11 2-9 2 6 2 2 2-6 2-7 2 7 2-2 2-2 2-4 2-4 2 11 2-6 2-5 2 4 2-6 2 1 2 6 2-3 2-10 2 0 2-1 2 8 2 1M0 556l1-9 2 8 2-12 2 4 2-10 2-12 2 5 2-2 2-1 2-10 2-1 2-1 2-14 2-2 2-5 2 0 2-1 2-5 2-8 2 4 2-14 2-11 2 0 2 2 2-5 2-6 2-4 2 0 2 1 2-13 2-1 2 1 2-5 2 0 2-11 2 3 2 4 2 0 2-1 2 4 2 0 2-2 2-4 2 7 2-8 2-3 2 3 2-10 2 5 2-15 2 0 2 0 2-7 2 5 2-6 2 8 2-11 2 8 2-2 2 0 2 0 2 0 2-14 2 6 2-4 2 4 2-7 2 1 2 1 2-3 2-1 2 8 2 1 2-13 2 7 2-2 2-1 2 1 2-3 2-1 2-9 2 1 2 2 2-12 2 7 2 3 2-4 2 3 2-3 2 1 2-7 2 12 2-9 2 5 2-8 2 5 2-1 2-10 2 1 2 1 1-2M0 558l2-6 2-7 2 9 2-7 2-13 2-5 2 1 2-5 2-5 2 3 2 7 2-6 2-12 2-4 2-3 2-6 2-1 2-12 2 2 2-1 2-16 2 7 2-4 2-4 2-9 2-4 2 7 2-3 2-12 2-10 2 14 2-7 2 6 2-16 2 11 2-10 2-5 2 14 2-2 2-11 2 19 2-17 2 1 2-11 2 5 2-16 2 8 2 2 2-9 2 2 2-11 2 5 2 1 2 0 2 1 2-6 2 3 2-3 2 4 2-9 2-3 2 1 2 3 2-5 2-1 2-6 2-1 2-4 2-1 2 9 2-7 2 2 2-1 2-2 2-2 2 1 2 1 2-8 2-3 2 6 2 3 2-2 2-6 2 4 2 1 2-2 2-9 2 4 2 2 2 0 2-1 2 8 2-10 2 2 2-8 2 3 2 4 2-4 2-6 2 0M9 515h0M11 513h0M23 526h0M28 520h0M31 459h0M48 421h0M54 402h0M60 393h0M67 449h0M68 449h0M80 385h0M85 442h0M86 380h0M88 438h0M94 431h0M109 417h0M120 364h0M127 403h0M134 349h0M149 347h0M153 335h0M154 391h0M155 387h0M156 338h0M159 390h0M163 388h0M168 332h0M169 337h0M171 386h0M173 386h0M178 331h0M182 387h0M183 325h0M185 383h0M192 324h0"/></g>
<g transform="scale(1.53450 0.25)"><path class="d f dk" d="M0 592L4 591L8 589L12 588L16 587L20 585L24 584L28 582L32 579L36 577L40 574L44 572L48 570L52 570L56 570L60 570L64 570L68 570L72 569L76 567L80 565L84 563L88 561L92 559L96 557L100 555L104 555L108 555L112 555L116 555L120 554L124 548L128 541L132 534L136 528L140 521L144 515L148 517L152 519L156 522L160 524L164 519L168 507L172 495L176 484L180 474L184 465L188 447L192 421L196 386L200 340L200 394L196 425L192 453L188 472L184 488L180 498L176 508L172 516L168 524L164 531L160 538L156 543L152 548L148 553L144 557L140 560L136 562L132 565L128 567L124 570L120 572L116 575L112 578L108 581L104 584L100 587L96 588L92 589L88 590L84 591L80 592L76 594L72 595L68 595L64 596L60 596L56 597L52 598L48 598L44 599L40 600L36 600L32 601L28 601L24 602L20 604L16 606L12 608L8 610L4 612L0 613Z"/><path class="d dk" d="M0 601l2-19 2 12 2-5 2-2 2 1 2 1 2-7 2 15 2-11 2-9 2 4 2 3 2 1 2 2 2-7 2-10 2 8 2-1 2 2 2-4 2 1 2-3 2 5 2-14 2 6 2-11 2-5 2 20 2-4 2 5 2-12 2 13 2-4 2-2 2-15 2 18 2-3 2-2 2 5 2-4 2-3 2 1 2 14 2-18 2-2 2 1 2 5 2-3 2-9 2-11 2 6 2 1 2 7 2-5 2-8 2 10 2-1 2 3 2-1 2-9 2-10 2-1 2 5 2 11 2-17 2-2 2-5 2 9 2-28 2 12 2-9 2-4 2-4 2 5 2 5 2-8 2 22 2 5 2-17 2 4 2 9 2-7 2 2 2-11 2-4 2-6 2-26 2 3 2-1 2 5 2-12 2-9 2-6 2-10 2-15 2-13 2-11 2-28 2-20 2-28M0 598l1-5 2 8 2-8 2 2 2-3 2-4 2 0 2 10 2-5 2-8 2 12 2-8 2-6 2-1 2 8 2-12 2 5 2-2 2-5 2-1 2 15 2-8 2 5 2-7 2 7 2-2 2-7 2 1 2-1 2 3 2-6 2 8 2 16 2-28 2 16 2-14 2-3 2 14 2-14 2 11 2-8 2-1 2-2 2-1 2-7 2 16 2 6 2-10 2-15 2 8 2-6 2 16 2-19 2 5 2 6 2-7 2 0 2 0 2 10 2-8 2-9 2 2 2-16 2 10 2-10 2 3 2 2 2-11 2 9 2-14 2-5 2-3 2 5 2-3 2-5 2 7 2-2 2 0 2 3 2-3 2 0 2-2 2-14 2 10 2-10 2 0 2-12 2-3 2-4 2-9 2 3 2-5 2-10 2-7 2-14 2-13 2-16 2-12 2-23 2-17 1-16M0 612l2-3 2-4 2 1 2 7 2-2 2-9 2-4 2-6 2 16 2-2 2-5 2 0 2 1 2-10 2 11 2 0 2-23 2 23 2 4 2-13 2 3 2-7 2 6 2-6 2 19 2-22 2 4 2-4 2 10 2 4 2-3 2-10 2 5 2 1 2-5 2-8 2 5 2-6 2-6 2 7 2 9 2-14 2 9 2-10 2 21 2-10 2-12 2-3 2 2 2 3 2-9 2-2 2 10 2-7 2-8 2 15 2-10 2-3 2 5 2 13 2-4 2-9 2-7 2 4 2-11 2 8 2 6 2-20 2 9 2-1 2 10 2-25 2 8 2-2 2-5 2 1 2-12 2-1 2 13 2-12 2 11 2-5 2-15 2-4 2-7 2 3 2-5 2 0 2-12 2-9 2 4 2-15 2 16 2-19 2-12 2-15 2-9 2-16 2-30 2-8M0 619l1 3 2-14 2 12 2-13 2 3 2-8 2 12 2-1 2-2 2-1 2-10 2 8 2-2 2 8 2-7 2-6 2-8 2 16 2-8 2-2 2-2 2-3 2 15 2-20 2 8 2-5 2 1 2 4 2 2 2-5 2 4 2 0 2-3 2 8 2-2 2-1 2 0 2-6 2 7 2-8 2-7 2 1 2 9 2-5 2-5 2 4 2-4 2 8 2-11 2 18 2-10 2-1 2 5 2-6 2-4 2-8 2 3 2-2 2 1 2 2 2-9 2 16 2-20 2-1 2 25 2-25 2-2 2 6 2-12 2-5 2 7 2-2 2-5 2 2 2-11 2 8 2-3 2-1 2-1 2 2 2-6 2-4 2-9 2-7 2 7 2-9 2 5 2-17 2-11 2 10 2-15 2 1 2-6 2-5 2-8 2-13 2-12 2-25 2 0 2-14 1-19M2 574h0M10 579h0M19 615h0M20 573h0M21 576h0M24 621h0M26 572h0M30 568h0M31 558h0M43 607h0M56 610h0M61 550h0M68 603h0M69 608h0M84 600h0M100 609h0M102 596h0M106 594h0M111 585h0M114 548h0M124 538h0M137 506h0M138 506h0M139 576h0M141 512h0M143 501h0M145 495h0M150 556h0M157 556h0M158 506h0M159 549h0M176 530h0M182 516h0M183 446h0M191 417h0M194 400h0M195 387h0M197 351h0"/></g>
<path class="o dk" d="M62 137.8h0M97.1 136.3h0"/>
<g class="fr"><path stroke-width="2" d="M0 0H306.9 M0 176H306.9"/><path stroke-width="2.3" stroke-linecap="square" d="M0 0V176 M306.9 0V176"/></g>
<text class="ti" x="150.95" y="-13.4">Actor θ<tspan class="su" dy="5.6">04</tspan></text>
<text class="yt" x="-25.3" y="189.3">0</text><text class="yt" x="-25.3" y="111.08">40</text><text class="yt" x="-25.3" y="32.86">80</text>
<text class="xt" x="-1.5" y="233.1">0</text><text class="xt" x="151.95" y="233.1">100</text><text class="xt" x="305.4" y="233.1">200</text>
<text class="xl" x="150.45" y="285.6">Number of Pulses</text>
<text class="yl" transform="translate(-89.3 148.7) rotate(-90)"><tspan x="0">G (</tspan><tspan class="mu" x="50.5" dy="1">μ</tspan><tspan x="83.6" dy="-1">S</tspan><tspan x="109">)</tspan></text>
</g>
<g transform="translate(1704.8 1622.22)">
<g class="fr"><path stroke-width="1.9" d="M0 97.78h3.6 M306.9 97.78h-3.6 M0 19.56h3.6 M306.9 19.56h-3.6 M153.45 0v3.6 M153.45 176v-3.6"/><path stroke-width="1.7" d="M0 166.22h2.3 M306.9 166.22h-2.3 M0 156.44h2.3 M306.9 156.44h-2.3 M0 146.67h2.3 M306.9 146.67h-2.3 M0 136.89h2.3 M306.9 136.89h-2.3 M0 127.11h2.3 M306.9 127.11h-2.3 M0 117.33h2.3 M306.9 117.33h-2.3 M0 107.56h2.3 M306.9 107.56h-2.3 M0 88h2.3 M306.9 88h-2.3 M0 78.22h2.3 M306.9 78.22h-2.3 M0 68.44h2.3 M306.9 68.44h-2.3 M0 58.67h2.3 M306.9 58.67h-2.3 M0 48.89h2.3 M306.9 48.89h-2.3 M0 39.11h2.3 M306.9 39.11h-2.3 M0 29.33h2.3 M306.9 29.33h-2.3 M0 9.78h2.3 M306.9 9.78h-2.3"/></g>
<g transform="scale(1.53450 0.25)"><path class="d f lt" d="M0 508L4 489L8 465L12 443L16 432L20 422L24 412L28 397L32 382L36 368L40 357L44 348L48 338L52 328L56 317L60 306L64 295L68 288L72 283L76 278L80 273L84 268L88 264L92 261L96 257L100 253L104 250L108 246L112 242L116 238L120 235L124 232L128 230L132 227L136 225L140 223L144 220L148 218L152 216L156 215L160 213L164 211L168 209L172 208L176 206L180 205L184 203L188 202L192 200L196 199L200 198L200 206L196 207L192 208L188 210L184 211L180 213L176 214L172 216L168 217L164 220L160 223L156 226L152 229L148 232L144 236L140 240L136 245L132 250L128 255L124 260L120 265L116 269L112 274L108 278L104 283L100 287L96 292L92 298L88 303L84 309L80 318L76 328L72 338L68 348L64 354L60 357L56 359L52 364L48 374L44 384L40 394L36 404L32 419L28 436L24 454L20 475L16 497L12 518L8 527L4 533L0 538Z"/><path class="d lt" d="M0 507l2-13 2-14 2-7 2-3 2-14 2-22 2 2 2 3 2-14 2-7 2 3 2-11 2-6 2-10 2 2 2-7 2-17 2-6 2-9 2 5 2-7 2-9 2-14 2 0 2 3 2-19 2 5 2-3 2-7 2-2 2-8 2-9 2 0 2-3 2 1 2-4 2-6 2-2 2-9 2-1 2-1 2 0 2-3 2-9 2 5 2 2 2-8 2-2 2 1 2-5 2-4 2 8 2-6 2-4 2 0 2 1 2 3 2-13 2-1 2 2 2-3 2 6 2-3 2-9 2 4 2-4 2 5 2-10 2 1 2 8 2-8 2-3 2-6 2 6 2-6 2 2 2 2 2-5 2-8 2 12 2-9 2 4 2-3 2-4 2 2 2 1 2-2 2-1 2-2 2 5 2-6 2 4 2 0 2-2 2-7 2 5 2-1 2-10 2 10 2 1M0 513l1-7 2-6 2-6 2-14 2-12 2-9 2-12 2 1 2-7 2-11 2 1 2-11 2-7 2-2 2-10 2-10 2-14 2 0 2-14 2 5 2-4 2-13 2-3 2-3 2-4 2 0 2-10 2 0 2-11 2 1 2-15 2 4 2-4 2-12 2 0 2-6 2 0 2-9 2 1 2 1 2-13 2 5 2-7 2-6 2-2 2 10 2-12 2 7 2-9 2 3 2-2 2 8 2-13 2 2 2-4 2-11 2 2 2-1 2 3 2-3 2-3 2 0 2-2 2 2 2-5 2 0 2-4 2 2 2-8 2 10 2-4 2 0 2-4 2-4 2 6 2 0 2 4 2-10 2-1 2 5 2-13 2-6 2 14 2-5 2 5 2-15 2-3 2 0 2 8 2 3 2-4 2-3 2-5 2 0 2 0 2 5 2-1 2-2 2 2 2-5 1-1M0 512l2 3 2-19 2 3 2-17 2 3 2-14 2 0 2-14 2 3 2-8 2-16 2-10 2-6 2-8 2-3 2-11 2-12 2 5 2-11 2-6 2-9 2-10 2-2 2-3 2-8 2 0 2 2 2-7 2-8 2-8 2 2 2-7 2-7 2 1 2 5 2-1 2-18 2 8 2-15 2 10 2-15 2 0 2 4 2-7 2 1 2-3 2 1 2 1 2-8 2-10 2-6 2 3 2 3 2-6 2 2 2 0 2-7 2-13 2 11 2-8 2 6 2-4 2-1 2-4 2 0 2-7 2 4 2-3 2-5 2-4 2-9 2 11 2-4 2 8 2-11 2 3 2 3 2-5 2 0 2-1 2 0 2-2 2-5 2 17 2-16 2-9 2 1 2 5 2 4 2-8 2 6 2 6 2-19 2 6 2 0 2-1 2 7 2-4 2 3 2-9M0 522l1 11 2-13 2-9 2-4 2-14 2-3 2-3 2-13 2 1 2-10 2-5 2-11 2-6 2-11 2-3 2-22 2-3 2-15 2 1 2-5 2-4 2-12 2 1 2-13 2 0 2-7 2 0 2-17 2 4 2-8 2-3 2 15 2-11 2-7 2-6 2 5 2-4 2-5 2-2 2-2 2-2 2-7 2-4 2-6 2-3 2-11 2 6 2-1 2 3 2-10 2-8 2-1 2 0 2 3 2 1 2-4 2-3 2-11 2 5 2-2 2-4 2 6 2-8 2-5 2-7 2 2 2 5 2-16 2 11 2-7 2 3 2 2 2-10 2 7 2-4 2-3 2-8 2 8 2-3 2-6 2 3 2-5 2 3 2-3 2-8 2 4 2 6 2-7 2 4 2-3 2 3 2-4 2 5 2-7 2 0 2-2 2-2 2 1 2-1 2-7 1 8M0 526l2 1 2-1 2-4 2-7 2-1 2-2 2-9 2-8 2-15 2-11 2-9 2-3 2-30 2 3 2-13 2 2 2-13 2-8 2 4 2 0 2-19 2-12 2 4 2-11 2 0 2-9 2-6 2 0 2-4 2 1 2-5 2 0 2-3 2-1 2-12 2 2 2-4 2-6 2-8 2 3 2-2 2-1 2-8 2 6 2-14 2 0 2-5 2 1 2-7 2 7 2-9 2 1 2 3 2-11 2-2 2-12 2 3 2-1 2-2 2 4 2-12 2 4 2-4 2-3 2 0 2 2 2 2 2-6 2 2 2-5 2-14 2 6 2-7 2 11 2-2 2-7 2 5 2-9 2-3 2 2 2 0 2-7 2-3 2-1 2-11 2 8 2 1 2-1 2 4 2 2 2-11 2 10 2-2 2-12 2 3 2 6 2-7 2 1 2 3 2-6M0 543l1-5 2 5 2-10 2 0 2-13 2 7 2-26 2 2 2-14 2-6 2-10 2-15 2-8 2-9 2-2 2-9 2-19 2-2 2 1 2-20 2 12 2-15 2-7 2 1 2-8 2-1 2-11 2 4 2-6 2 1 2-5 2 7 2-4 2-7 2 0 2-14 2 4 2-11 2 1 2-6 2 5 2-13 2-11 2 0 2-8 2 0 2 0 2 0 2-3 2-5 2 0 2-1 2-5 2-3 2-9 2 3 2-4 2 8 2-13 2 0 2 0 2-1 2-14 2 19 2-14 2 0 2-9 2-4 2 5 2 4 2-19 2 10 2 1 2-16 2 10 2-5 2-3 2 2 2-7 2-4 2 9 2-14 2 11 2-7 2 3 2 1 2-3 2-7 2 0 2 3 2 1 2 0 2-3 2-3 2-12 2 12 2-8 2 3 2-6 2 4 1 11M10 537h0M12 435h0M14 515h0M18 417h0M23 466h0M24 399h0M25 456h0M27 388h0M33 368h0M44 335h0M49 320h0M51 322h0M55 310h0M58 366h0M61 292h0M65 365h0M66 360h0M73 346h0M76 338h0M85 257h0M86 259h0M88 252h0M90 245h0M94 302h0M95 302h0M102 291h0M105 289h0M106 287h0M112 281h0M123 272h0M124 224h0M127 262h0M142 211h0M148 209h0M155 209h0M176 198h0M179 222h0M183 193h0M186 221h0"/></g>
<g transform="scale(1.53450 0.25)"><path class="d f dk" d="M0 563L4 563L8 563L12 563L16 563L20 563L24 563L28 560L32 558L36 556L40 553L44 551L48 548L52 547L56 546L60 545L64 543L68 542L72 541L76 539L80 537L84 535L88 532L92 530L96 528L100 526L104 525L108 523L112 522L116 520L120 519L124 515L128 512L132 509L136 506L140 499L144 489L148 479L152 471L156 463L160 456L164 445L168 431L172 416L176 404L180 394L184 380L188 358L192 326L196 270L200 211L200 244L196 287L192 337L188 382L184 424L180 456L176 478L172 494L168 504L164 514L160 522L156 527L152 532L148 535L144 538L140 540L136 543L132 547L128 550L124 553L120 556L116 559L112 562L108 565L104 568L100 571L96 572L92 574L88 575L84 576L80 577L76 578L72 579L68 580L64 581L60 582L56 584L52 585L48 586L44 587L40 587L36 588L32 589L28 589L24 590L20 591L16 591L12 592L8 592L4 593L0 594Z"/><path class="d dk" d="M0 569l2 7 2-8 2 4 2-13 2-1 2 5 2 12 2-16 2-1 2 6 2 0 2-8 2 13 2-13 2 0 2-10 2 8 2-10 2 6 2-1 2-1 2 1 2 10 2-21 2 9 2-4 2-3 2 0 2-5 2 6 2-7 2-14 2 25 2-9 2-1 2 3 2 8 2-3 2-15 2-3 2 10 2 4 2-3 2-14 2 6 2-8 2-11 2 21 2 5 2-11 2 4 2-2 2-20 2 14 2-12 2 15 2-6 2-12 2 4 2 0 2 10 2 0 2-6 2 1 2-13 2 4 2 0 2 5 2-8 2-16 2-11 2 7 2-6 2 8 2-2 2-9 2-17 2 2 2-11 2-1 2 15 2-13 2-4 2-14 2 5 2-14 2-6 2-17 2 0 2-4 2-2 2-16 2-27 2 13 2-25 2-18 2-22 2-39 2-8 2-55M0 573l1-1 2 2 2-8 2 7 2-24 2 18 2-1 2 3 2-8 2 7 2-2 2 7 2-3 2-5 2-5 2-9 2 24 2-18 2-3 2 1 2-13 2 9 2 6 2-6 2 9 2-18 2 16 2-19 2 8 2-4 2 13 2-6 2 6 2-19 2 1 2 5 2-4 2-3 2 12 2-3 2-9 2 7 2-9 2-5 2 6 2-4 2 2 2 5 2 2 2-2 2-19 2 0 2-1 2 6 2-11 2 8 2 4 2-6 2 8 2-4 2-12 2 6 2 2 2 5 2-23 2 2 2 4 2-5 2 17 2-10 2-20 2 2 2-10 2 6 2-29 2 17 2-2 2-6 2-1 2-9 2 6 2 0 2-26 2 1 2-1 2-14 2 24 2-19 2-10 2-2 2-29 2 18 2-34 2-2 2-14 2-24 2-10 2-29 2-30 2-54 1 1M0 567l2 3 2 6 2-2 2 2 2 1 2-5 2-11 2-3 2 15 2-8 2 10 2-8 2-4 2 1 2 5 2 3 2-6 2-3 2-3 2-3 2 8 2-16 2 20 2-2 2-15 2 7 2 3 2 21 2-20 2 2 2-12 2 7 2-15 2 21 2-9 2-1 2 6 2-23 2 25 2-9 2 3 2-1 2-12 2 0 2-7 2 17 2-32 2 10 2-8 2 5 2-2 2-3 2 9 2 9 2-13 2-9 2 15 2-3 2-6 2 13 2-14 2-1 2 6 2-3 2 3 2-3 2-2 2 3 2-21 2 2 2-7 2 12 2-18 2-4 2-6 2-6 2 0 2-1 2 9 2-5 2 4 2-8 2-11 2-10 2-2 2-18 2-10 2-7 2-6 2-5 2-14 2-1 2-20 2-13 2-13 2-12 2-44 2-18 2-30 2-31M0 582l1 8 2-13 2 17 2-4 2-11 2-1 2 0 2-3 2 0 2 0 2 19 2-11 2 1 2-2 2-5 2-2 2-4 2 14 2-8 2-2 2 0 2-11 2 14 2-21 2-2 2 10 2 2 2 7 2-14 2 0 2 15 2-11 2-10 2 7 2 2 2 6 2-13 2 2 2-8 2 2 2 3 2-1 2-3 2 1 2-4 2 11 2-8 2-3 2 5 2 5 2-11 2 1 2 7 2-11 2 3 2-7 2 20 2-20 2 9 2-5 2-9 2 11 2-9 2-13 2-3 2 3 2 7 2-9 2-1 2-4 2-5 2-8 2 5 2-13 2 7 2-2 2-2 2-2 2-6 2-2 2-13 2 23 2-17 2-14 2-8 2-9 2-1 2-11 2-6 2-17 2 6 2-11 2-6 2-28 2-23 2-6 2-37 2-16 2-26 2-42 1-11M0 593l2 0 2-5 2-5 2-5 2 5 2-11 2 11 2-5 2-2 2 7 2-15 2 18 2 10 2-20 2 9 2-3 2 9 2-17 2 3 2 6 2-15 2 23 2-27 2 0 2-2 2-1 2 17 2-7 2-5 2-8 2 11 2 17 2-20 2 10 2-14 2-3 2 10 2-3 2 4 2 0 2-9 2 5 2-10 2 3 2 7 2-13 2 24 2-4 2 2 2-16 2-3 2-6 2-6 2 14 2-10 2 9 2-3 2-11 2 18 2-11 2-4 2-2 2-1 2 4 2-13 2-6 2 10 2-6 2 4 2-12 2 5 2 1 2-9 2-18 2-2 2 14 2-6 2 7 2-19 2 19 2-15 2-13 2 15 2-16 2-19 2 7 2-4 2-13 2-24 2-13 2-5 2-18 2-10 2-10 2-31 2-12 2-22 2-32 2-34 2-26M0 602l1-10 2-7 2 13 2 2 2-19 2 0 2 12 2-4 2-11 2 13 2-9 2 12 2-2 2 7 2-7 2-15 2 17 2-11 2-8 2 9 2 7 2-8 2 0 2-19 2 26 2-11 2-5 2 9 2 1 2-1 2 1 2 2 2-9 2 16 2-12 2 1 2 4 2-13 2 1 2 4 2-17 2 14 2-7 2 3 2-3 2 1 2 3 2-13 2 11 2 4 2-12 2-1 2 3 2-10 2 0 2 18 2-24 2-2 2 6 2-7 2 6 2-16 2 16 2-4 2 10 2-9 2-3 2-2 2-4 2-5 2 6 2-16 2 9 2 6 2-9 2-5 2-1 2-6 2 0 2-1 2-15 2 5 2-15 2 9 2-17 2-4 2 4 2-1 2-32 2 8 2-12 2-8 2-26 2-15 2-23 2-6 2-43 2-13 2-26 2-33 1-13M0 603l2-22 2 5 2 19 2-5 2-8 2 1 2-1 2 6 2 10 2-4 2-4 2 8 2-12 2-6 2 11 2-5 2-2 2 0 2-6 2-11 2 37 2-29 2-5 2 6 2 11 2-12 2 8 2-10 2 1 2-1 2 7 2-3 2-5 2 3 2-10 2 20 2-20 2 11 2-11 2-2 2 2 2-1 2 10 2-8 2 7 2 9 2-22 2 5 2 1 2 4 2-10 2 5 2-9 2 11 2-20 2-3 2 8 2-8 2-1 2 6 2 4 2-4 2-11 2 1 2-6 2 11 2 10 2-17 2-9 2 18 2-10 2 11 2-17 2 3 2-4 2-26 2 14 2-10 2-1 2-1 2 14 2-12 2-12 2-14 2 3 2-4 2-16 2 9 2-24 2-2 2-26 2-9 2-42 2-3 2-10 2-27 2-28 2-32 2-10 2-25M7 541h0M15 557h0M17 554h0M20 552h0M21 552h0M24 543h0M28 601h0M33 607h0M38 603h0M39 605h0M47 536h0M48 595h0M50 599h0M53 537h0M55 594h0M64 596h0M65 596h0M68 531h0M75 530h0M77 587h0M84 587h0M85 526h0M88 519h0M90 513h0M92 520h0M102 514h0M104 580h0M106 575h0M109 572h0M111 514h0M116 566h0M117 570h0M121 506h0M144 550h0M173 396h0M185 365h0M190 330h0M195 278h0"/></g>
<path class="o dk" d="M208.7 115.6h0M26.9 128.9h0M62.9 131.7h0M157.9 123h0"/>
<g class="fr"><path stroke-width="2" d="M0 0H306.9 M0 176H306.9"/><path stroke-width="2.3" stroke-linecap="square" d="M0 0V176 M306.9 0V176"/></g>
<text class="ti" x="153.45" y="-13.4">Actor θ<tspan class="su" dy="5.6">14</tspan></text>
<text class="yt" x="-25.3" y="189.3">0</text><text class="yt" x="-25.3" y="111.08">40</text><text class="yt" x="-25.3" y="32.86">80</text>
<text class="xt" x="-1.5" y="233.1">0</text><text class="xt" x="151.95" y="233.1">100</text><text class="xt" x="305.4" y="233.1">200</text>
<text class="xl" x="150.45" y="285.6">Number of Pulses</text>
<text class="yl" transform="translate(-89.3 148.7) rotate(-90)"><tspan x="0">G (</tspan><tspan class="mu" x="50.5" dy="1">μ</tspan><tspan x="83.6" dy="-1">S</tspan><tspan x="109">)</tspan></text>
</g>
<g transform="translate(117.5 2019.05)">
<g class="fr"><path stroke-width="1.9" d="M0 97.78h3.6 M306.9 97.78h-3.6 M0 19.56h3.6 M306.9 19.56h-3.6 M153.45 0v3.6 M153.45 176v-3.6"/><path stroke-width="1.7" d="M0 166.22h2.3 M306.9 166.22h-2.3 M0 156.44h2.3 M306.9 156.44h-2.3 M0 146.67h2.3 M306.9 146.67h-2.3 M0 136.89h2.3 M306.9 136.89h-2.3 M0 127.11h2.3 M306.9 127.11h-2.3 M0 117.33h2.3 M306.9 117.33h-2.3 M0 107.56h2.3 M306.9 107.56h-2.3 M0 88h2.3 M306.9 88h-2.3 M0 78.22h2.3 M306.9 78.22h-2.3 M0 68.44h2.3 M306.9 68.44h-2.3 M0 58.67h2.3 M306.9 58.67h-2.3 M0 48.89h2.3 M306.9 48.89h-2.3 M0 39.11h2.3 M306.9 39.11h-2.3 M0 29.33h2.3 M306.9 29.33h-2.3 M0 9.78h2.3 M306.9 9.78h-2.3"/></g>
<g transform="scale(1.53450 0.25)"><path class="d f lt" d="M0 435L4 424L8 406L12 385L16 374L20 364L24 355L28 353L32 351L36 350L40 346L44 341L48 337L52 333L56 328L60 324L64 321L68 318L72 315L76 312L80 309L84 306L88 303L92 300L96 297L100 295L104 293L108 292L112 290L116 289L120 287L124 285L128 283L132 282L136 280L140 278L144 276L148 275L152 275L156 274L160 274L164 273L168 272L172 271L176 270L180 269L184 269L188 268L192 267L196 266L200 265L200 284L196 285L192 287L188 288L184 290L180 291L176 292L172 294L168 295L164 295L160 295L156 295L152 295L148 295L144 295L140 297L136 298L132 299L128 300L124 302L120 303L116 306L112 309L108 312L104 315L100 317L96 319L92 321L88 323L84 325L80 328L76 332L72 336L68 339L64 343L60 347L56 352L52 356L48 361L44 366L40 371L36 377L32 388L28 400L24 412L20 424L16 436L12 448L8 477L4 508L0 523Z"/><path class="d lt" d="M0 432l2-1 2-13 2-4 2-14 2-4 2-9 2-12 2 1 2-17 2 5 2-9 2 3 2-7 2-5 2 3 2 2 2-8 2 0 2-3 2-11 2 13 2-12 2 6 2-1 2 5 2-6 2 1 2-22 2 14 2-7 2-11 2 10 2 2 2 3 2-7 2 2 2-4 2-6 2 5 2-6 2-12 2 8 2 3 2-1 2-11 2 3 2-4 2-3 2 3 2 7 2-11 2-4 2 7 2 3 2-4 2-3 2-3 2-1 2 3 2-9 2 8 2 1 2-2 2-7 2 3 2-5 2-2 2 8 2 0 2-1 2-5 2 3 2-17 2 15 2-7 2-1 2 4 2-4 2 6 2-8 2-1 2 4 2-6 2 12 2-10 2 11 2-10 2 6 2-10 2 4 2-2 2 8 2-10 2-1 2-2 2 5 2-1 2-3 2 4 2-3M0 459l1-4 2-1 2-17 2-16 2-10 2-15 2 0 2-2 2-5 2-2 2-15 2-3 2-6 2 7 2-4 2-1 2-4 2 8 2-8 2-7 2-4 2 2 2-4 2 6 2-14 2-5 2 2 2-3 2 3 2-9 2 5 2-13 2-2 2-1 2 10 2-14 2 2 2 0 2 2 2-2 2-14 2 13 2-11 2 1 2-3 2 12 2-9 2 1 2-1 2 0 2 3 2-6 2-4 2 0 2-9 2 8 2 2 2-13 2-9 2 14 2 0 2-1 2 2 2 3 2-8 2 3 2 3 2-10 2 1 2-2 2 8 2-12 2 7 2-10 2 1 2-2 2 9 2-3 2 3 2-5 2-6 2 6 2 0 2-6 2 1 2 3 2-5 2 2 2 0 2-7 2 2 2 4 2 4 2-4 2-8 2 9 2 2 2 2 2-4 2-4 1 9M0 465l2 1 2-7 2-22 2-6 2-11 2-11 2-11 2-1 2-11 2-4 2-3 2-15 2 10 2-5 2 7 2-13 2-5 2 1 2 3 2-7 2 3 2-7 2 0 2-4 2 0 2-8 2 4 2-3 2-6 2 1 2-3 2-8 2 8 2-9 2-2 2-9 2 10 2-7 2 3 2 0 2 4 2-8 2 5 2-5 2-8 2 3 2-1 2 5 2-9 2-1 2-2 2-2 2 7 2-5 2-4 2-2 2-2 2-6 2 4 2-1 2-1 2-3 2 12 2-3 2 6 2-12 2-3 2-13 2 17 2-9 2 7 2 5 2-14 2-6 2 11 2 7 2-11 2 9 2-15 2 3 2 0 2-5 2 7 2 5 2 4 2-11 2 10 2-11 2 5 2-4 2 3 2-5 2 9 2-6 2-1 2 4 2 2 2-5 2-2 2 0M0 482l1-6 2-6 2-1 2-16 2-7 2-9 2-10 2-9 2 3 2-12 2-5 2-3 2-4 2-6 2-16 2 3 2-7 2-5 2-11 2 7 2-1 2 0 2-3 2-12 2 5 2-5 2-6 2 0 2 6 2-4 2 1 2-12 2 7 2-14 2 5 2-5 2 5 2-12 2 7 2-8 2-2 2 9 2-5 2-1 2-1 2-4 2 7 2-8 2 7 2-3 2-5 2 3 2-8 2 3 2-8 2 3 2-5 2 2 2 3 2-11 2 7 2-7 2 2 2-2 2-5 2 13 2-7 2 8 2-12 2 3 2 0 2 1 2 1 2-4 2-7 2 5 2 3 2-5 2 2 2-1 2 1 2-3 2-2 2 2 2-1 2 4 2-1 2 2 2-3 2-6 2-3 2 1 2 0 2-1 2-5 2 5 2-6 2 3 2-1 2-5 1 4M0 501l2 2 2-6 2-17 2-17 2-10 2-12 2 0 2-7 2-10 2-5 2-2 2-1 2-9 2-12 2-4 2-13 2 2 2-10 2-5 2 3 2-2 2 6 2-10 2-9 2 6 2-10 2 12 2-15 2 7 2-9 2 2 2 2 2-6 2-4 2-6 2 7 2-5 2-14 2 12 2-14 2 4 2 7 2-11 2-2 2 7 2-3 2-7 2 4 2-1 2-5 2-3 2 0 2 3 2 2 2-1 2 0 2-5 2-2 2-1 2 1 2-15 2 18 2-11 2-7 2 4 2-2 2 4 2-6 2 6 2-7 2-1 2 8 2-1 2 0 2 7 2-9 2 11 2-15 2 5 2 0 2 1 2-1 2-6 2 3 2 5 2 0 2 1 2 2 2-10 2 10 2-3 2-3 2-12 2 11 2-7 2 0 2-5 2 3 2 6 2-6M0 517l1 5 2-2 2-11 2-20 2-23 2-11 2-9 2-7 2-6 2-13 2 1 2-2 2-12 2-6 2-3 2-6 2-9 2 2 2-12 2-10 2 0 2 2 2 0 2 4 2-6 2-11 2 6 2-2 2-13 2 4 2 1 2 1 2 4 2-12 2-5 2 0 2 6 2-12 2-3 2 5 2-4 2-8 2 14 2-12 2 6 2-3 2-4 2 7 2-11 2 2 2 3 2-12 2 9 2-10 2 4 2 9 2-15 2 7 2-8 2-3 2 2 2-1 2-6 2 10 2-3 2 4 2-20 2 13 2 1 2-6 2 0 2 15 2-18 2 3 2 1 2 0 2 5 2-1 2-7 2 5 2 10 2-14 2 2 2-6 2 2 2-3 2 5 2 1 2 7 2-19 2 13 2-8 2-1 2-10 2 9 2 6 2-6 2 6 2-12 2 4 1 13M7 495h0M10 469h0M15 452h0M18 437h0M22 349h0M27 344h0M38 384h0M40 328h0M41 335h0M46 332h0M48 330h0M49 325h0M51 367h0M52 323h0M56 318h0M58 314h0M68 308h0M73 346h0M75 343h0M80 346h0M85 295h0M86 294h0M87 335h0M90 329h0M93 334h0M94 292h0M99 280h0M108 283h0M111 273h0M116 282h0M117 313h0M120 310h0M122 277h0M124 274h0M126 310h0M128 308h0M129 272h0M133 274h0M140 264h0M142 313h0M143 304h0M148 303h0M151 262h0M154 261h0M162 306h0M170 260h0M175 304h0M186 297h0M188 260h0M189 294h0M192 252h0"/></g>
<g transform="scale(1.53450 0.25)"><path class="d f dk" d="M0 576L4 576L8 576L12 576L16 576L20 576L24 576L28 572L32 568L36 565L40 561L44 557L48 554L52 556L56 558L60 560L64 561L68 563L72 565L76 563L80 561L84 559L88 556L92 554L96 552L100 550L104 549L108 549L112 548L116 547L120 546L124 542L128 537L132 532L136 527L140 520L144 510L148 500L152 494L156 491L160 489L164 482L168 470L172 458L176 445L180 432L184 412L188 380L192 342L196 294L200 257L200 287L196 320L192 372L188 415L184 443L180 465L176 484L172 498L168 508L164 518L160 527L156 534L152 541L148 546L144 549L140 551L136 554L132 556L128 559L124 561L120 564L116 566L112 568L108 570L104 573L100 575L96 575L92 576L88 576L84 577L80 577L76 578L72 579L68 580L64 582L60 584L56 586L52 588L48 589L44 590L40 591L36 591L32 592L28 593L24 593L20 593L16 592L12 591L8 591L4 590L0 590Z"/><path class="d dk" d="M0 574l2-6 2 9 2-8 2 6 2-4 2 0 2 9 2-5 2-7 2 17 2-13 2 2 2-4 2-4 2 5 2-2 2-8 2 0 2 5 2-9 2 9 2-12 2-3 2-3 2-1 2 3 2 14 2-6 2 6 2-4 2-5 2 4 2-9 2 16 2-8 2 13 2-11 2 0 2 1 2-13 2 2 2 10 2-2 2-4 2-3 2 2 2 7 2-9 2 4 2-16 2 8 2 1 2-7 2 12 2-1 2-10 2 3 2-10 2 11 2-4 2-6 2 4 2-11 2 2 2 7 2 1 2-16 2 2 2 3 2 7 2-16 2-3 2-14 2-3 2-16 2-1 2 13 2-7 2-2 2 9 2-23 2 13 2-6 2-9 2-1 2-11 2-12 2-2 2-10 2-4 2-16 2-6 2-17 2-16 2-22 2-17 2-21 2-21 2-29 2-6M0 579l1-6 2 10 2-6 2 1 2 3 2-11 2 7 2 5 2-13 2 13 2-1 2-2 2 6 2 3 2-13 2-2 2 6 2-10 2-2 2-8 2 7 2-5 2-1 2 1 2-2 2-1 2-1 2 5 2 1 2 1 2 4 2-1 2 0 2 2 2 5 2-7 2-1 2 2 2-1 2-3 2 5 2 1 2-11 2 2 2 5 2-3 2-3 2 1 2-7 2 1 2 0 2 7 2-4 2-3 2 1 2-5 2 0 2 2 2-5 2 13 2-15 2-4 2 1 2-3 2 0 2-9 2 3 2 0 2-10 2 7 2-9 2 6 2-11 2-14 2 12 2-11 2-4 2 0 2-15 2 8 2-4 2-8 2-3 2 1 2-6 2 0 2-7 2-3 2-6 2-13 2-16 2-5 2-7 2-20 2-25 2-16 2-26 2-21 2-21 2-25 1-3M0 580l2-7 2 8 2-2 2-7 2 8 2 0 2-8 2 15 2-6 2-2 2 1 2-1 2 0 2 6 2-6 2-12 2 4 2 8 2 2 2-7 2-1 2 0 2 0 2 9 2-3 2-5 2 4 2 1 2-6 2-1 2-2 2 2 2 3 2-3 2-4 2-3 2 1 2-1 2 11 2-1 2-10 2 0 2-1 2 10 2-17 2 15 2 1 2-18 2 11 2-6 2 3 2-1 2 3 2-12 2 2 2 6 2-11 2 14 2-5 2-7 2-2 2 5 2-13 2 0 2 5 2-2 2-7 2 9 2-4 2-14 2 12 2-13 2-2 2 2 2-8 2 3 2 0 2-7 2-4 2 2 2-13 2 0 2-14 2 2 2-1 2-12 2 2 2-8 2-8 2-8 2-17 2-10 2-11 2-13 2-30 2-17 2-21 2-23 2-25 2-6M0 586l1 12 2-14 2 12 2-14 2 4 2 3 2-11 2 2 2 4 2 9 2-5 2-11 2 15 2-15 2 22 2-1 2-9 2-9 2 10 2 1 2 3 2-11 2 4 2 9 2-20 2 5 2 5 2 0 2 5 2-17 2 0 2 0 2 11 2-8 2 2 2-2 2-5 2-2 2 9 2-19 2 12 2-12 2 11 2 11 2-18 2 2 2 6 2-1 2 7 2-4 2-10 2 9 2-3 2-6 2-1 2-1 2 1 2 3 2-10 2 3 2-4 2 2 2 10 2-10 2 2 2-12 2 4 2-4 2 4 2 6 2-14 2 5 2-6 2-3 2 3 2-17 2-6 2 12 2-4 2 7 2-17 2 1 2 9 2-22 2-11 2 6 2-10 2-10 2-9 2-7 2-5 2-11 2-18 2-7 2-26 2-16 2-23 2-23 2-25 2-26 1 3M0 600l2-6 2-6 2-1 2 18 2-12 2 1 2 2 2-4 2 3 2 1 2-5 2 9 2-11 2 6 2 13 2-17 2 8 2-3 2-2 2-2 2 2 2 0 2 2 2-1 2-10 2 6 2-2 2 1 2-12 2 9 2 1 2-9 2 12 2 0 2-11 2-9 2 8 2-13 2 19 2-2 2 0 2-5 2-6 2 7 2-7 2 22 2-26 2 6 2 1 2 1 2 6 2-13 2 5 2-1 2 0 2-5 2 11 2 1 2-23 2 10 2-4 2-11 2 11 2-11 2 10 2-2 2 3 2-8 2 2 2-3 2 2 2-10 2-3 2 9 2 4 2-9 2-1 2-15 2-8 2 16 2-16 2 2 2-10 2-5 2-11 2 11 2-10 2-7 2-14 2-10 2-4 2-25 2-17 2-16 2-9 2-27 2-26 2-24 2-20 2-21M1 596h0M2 602h0M11 567h0M18 559h0M23 562h0M42 548h0M43 602h0M44 602h0M49 539h0M50 545h0M54 549h0M58 599h0M61 598h0M67 546h0M77 597h0M80 593h0M84 584h0M87 591h0M91 585h0M93 584h0M94 585h0M98 589h0M101 539h0M104 580h0M106 578h0M107 578h0M139 563h0M145 497h0M148 555h0M154 473h0M155 552h0M158 544h0M160 540h0M163 475h0M182 412h0M188 422h0M189 413h0M190 349h0M194 355h0M198 309h0M199 311h0"/></g>
<path class="o dk" d="M214.5 120.8h0"/>
<g class="fr"><path stroke-width="2" d="M0 0H306.9 M0 176H306.9"/><path stroke-width="2.3" stroke-linecap="square" d="M0 0V176 M306.9 0V176"/></g>
<text class="ti" x="155.25" y="-13.4">Actor θ<tspan class="su" dy="5.6">05</tspan></text>
<text class="yt" x="-25.3" y="189.3">0</text><text class="yt" x="-25.3" y="111.08">40</text><text class="yt" x="-25.3" y="32.86">80</text>
<text class="xt" x="-1.5" y="233.1">0</text><text class="xt" x="151.95" y="233.1">100</text><text class="xt" x="305.4" y="233.1">200</text>
<text class="xl" x="150.45" y="285.6">Number of Pulses</text>
<text class="yl" transform="translate(-89.3 148.7) rotate(-90)"><tspan x="0">G (</tspan><tspan class="mu" x="50.5" dy="1">μ</tspan><tspan x="83.6" dy="-1">S</tspan><tspan x="109">)</tspan></text>
</g>
<g transform="translate(646.6 2019.05)">
<g class="fr"><path stroke-width="1.9" d="M0 97.78h3.6 M306.9 97.78h-3.6 M0 19.56h3.6 M306.9 19.56h-3.6 M153.45 0v3.6 M153.45 176v-3.6"/><path stroke-width="1.7" d="M0 166.22h2.3 M306.9 166.22h-2.3 M0 156.44h2.3 M306.9 156.44h-2.3 M0 146.67h2.3 M306.9 146.67h-2.3 M0 136.89h2.3 M306.9 136.89h-2.3 M0 127.11h2.3 M306.9 127.11h-2.3 M0 117.33h2.3 M306.9 117.33h-2.3 M0 107.56h2.3 M306.9 107.56h-2.3 M0 88h2.3 M306.9 88h-2.3 M0 78.22h2.3 M306.9 78.22h-2.3 M0 68.44h2.3 M306.9 68.44h-2.3 M0 58.67h2.3 M306.9 58.67h-2.3 M0 48.89h2.3 M306.9 48.89h-2.3 M0 39.11h2.3 M306.9 39.11h-2.3 M0 29.33h2.3 M306.9 29.33h-2.3 M0 9.78h2.3 M306.9 9.78h-2.3"/></g>
<g transform="scale(1.53450 0.25)"><path class="d f lt" d="M0 651L4 639L8 621L12 604L16 592L20 580L24 568L28 556L32 544L36 531L40 518L44 506L48 494L52 486L56 479L60 471L64 462L68 452L72 443L76 437L80 432L84 427L88 424L92 420L96 416L100 413L104 409L108 405L112 402L116 398L120 394L124 392L128 389L132 387L136 384L140 382L144 379L148 378L152 376L156 374L160 372L164 370L168 368L172 367L176 365L180 364L184 362L188 361L192 360L196 358L200 357L200 402L196 403L192 403L188 404L184 404L180 405L176 405L172 406L168 406L164 407L160 409L156 410L152 411L148 412L144 414L140 416L136 418L132 421L128 423L124 426L120 428L116 430L112 431L108 433L104 434L100 436L96 439L92 443L88 446L84 450L80 457L76 464L72 472L68 479L64 486L60 494L56 503L52 513L48 523L44 530L40 538L36 545L32 565L28 587L24 609L20 619L16 626L12 633L8 637L4 639L0 651Z"/><path class="d lt" d="M0 647l2 0 2-26 2 5 2-17 2-11 2 10 2-1 2-17 2-10 2 1 2-14 2-1 2-4 2-3 2-7 2-10 2 1 2-12 2-15 2 0 2-5 2-2 2-8 2-10 2-9 2 8 2-12 2-3 2-2 2 1 2-13 2-3 2 0 2-9 2-4 2-5 2 5 2-5 2-4 2-6 2-6 2 9 2-18 2 5 2-9 2 9 2-7 2 3 2-7 2-11 2 10 2 2 2-8 2 7 2-6 2 0 2-4 2 0 2-6 2-3 2 0 2 2 2 3 2 1 2-12 2 7 2-6 2-5 2 0 2 5 2-10 2-4 2 10 2-6 2-4 2 8 2-2 2 3 2-4 2-9 2 5 2 2 2-1 2 2 2-15 2 6 2-1 2 6 2-6 2-4 2-2 2 2 2-5 2 2 2-5 2 1 2 3 2 4 2-8 2 7M0 651l1 1 2-4 2-17 2-8 2-6 2 5 2-22 2 0 2-5 2-9 2 0 2-10 2-10 2-4 2-5 2-4 2-11 2-1 2-8 2-12 2-6 2 7 2-13 2 0 2-8 2-4 2-2 2-5 2-6 2-3 2-3 2-7 2-10 2-4 2 0 2-4 2-5 2-9 2 5 2-12 2 0 2-2 2 1 2 5 2-11 2-2 2 5 2-9 2 9 2-10 2-2 2-1 2-5 2 5 2-8 2-2 2 9 2 0 2-1 2-8 2-1 2 6 2-13 2 7 2-9 2 2 2-9 2 6 2-2 2-6 2 3 2-3 2-5 2 5 2 0 2-1 2 2 2-8 2 8 2-8 2 0 2 4 2-9 2-4 2 2 2-5 2 9 2-7 2 5 2-5 2 4 2-3 2 4 2-1 2 0 2 2 2-2 2-3 2 3 2 4 1 7M0 645l2-2 2 1 2-22 2 2 2-4 2-7 2 1 2-10 2-5 2 3 2-13 2-3 2-4 2-9 2-15 2 4 2-17 2-10 2-7 2-4 2 7 2-14 2-6 2 3 2-11 2-6 2-8 2-1 2 1 2-5 2-13 2 3 2-6 2-4 2-11 2-1 2 4 2-8 2-6 2 4 2-6 2 0 2 1 2-3 2 3 2-14 2 4 2-3 2-3 2-4 2-1 2 7 2-11 2 5 2 1 2-1 2-10 2 2 2 1 2-5 2-7 2 9 2 3 2-11 2 5 2-2 2 1 2-16 2 13 2-13 2 9 2-3 2 2 2-2 2 1 2 2 2-2 2-15 2 5 2-5 2 8 2 1 2-1 2-2 2 3 2-9 2 4 2-9 2 2 2 2 2 9 2-6 2 0 2-2 2 2 2 1 2-1 2 0 2 10 2-15M0 648l1 2 2-9 2 1 2-7 2-3 2-7 2 1 2-9 2-10 2 5 2-11 2 2 2-6 2-14 2-15 2-6 2-2 2-19 2 3 2-9 2-2 2-8 2 4 2-8 2-8 2-7 2-3 2 1 2-5 2-4 2-8 2 1 2-7 2-8 2 6 2-16 2 3 2-5 2-5 2 1 2-11 2 6 2-6 2 0 2-6 2 0 2 3 2-5 2-2 2-7 2 6 2-7 2-4 2 5 2 8 2-3 2-16 2 9 2-1 2-5 2 0 2-6 2 17 2-12 2-3 2 5 2-5 2-1 2-4 2-1 2 3 2-8 2 1 2 3 2-6 2 5 2-4 2-2 2 7 2-11 2 8 2-2 2-4 2-1 2 5 2-7 2-6 2 6 2 3 2-1 2-1 2-6 2 1 2 6 2-6 2 3 2-3 2 4 2-4 2-8 1-6M0 647l2 4 2-15 2 9 2-2 2-2 2-6 2-8 2 1 2 1 2-10 2-2 2-6 2-8 2-12 2-7 2-16 2-10 2-11 2-4 2-11 2-4 2 4 2-8 2 6 2-8 2-4 2-7 2-1 2-3 2-6 2-9 2-6 2 1 2-11 2 4 2-10 2 2 2-8 2 4 2-14 2 6 2-4 2-1 2-7 2 16 2-24 2 2 2 1 2-14 2 6 2 0 2-5 2 6 2-8 2-2 2 13 2-4 2 4 2-6 2-7 2-3 2 4 2 4 2 2 2-15 2 12 2-1 2-18 2 4 2 4 2-2 2 0 2-7 2-2 2 5 2-5 2 4 2-3 2 8 2-11 2 0 2 1 2-3 2 5 2 8 2-7 2-8 2 9 2-6 2-4 2 0 2 17 2-12 2 3 2-5 2 4 2-3 2-3 2-4 2 10M2 655h0M8 645h0M10 644h0M12 643h0M17 579h0M19 628h0M20 572h0M23 619h0M26 610h0M28 550h0M29 547h0M30 533h0M44 538h0M51 474h0M53 476h0M54 521h0M63 458h0M65 443h0M69 437h0M70 490h0M71 484h0M76 473h0M89 459h0M90 414h0M93 453h0M94 410h0M98 404h0M99 442h0M101 450h0M103 441h0M120 386h0M123 384h0M129 440h0M130 375h0M134 377h0M140 365h0M155 421h0M158 416h0M160 420h0M161 418h0M162 416h0M164 359h0M168 359h0M169 353h0M171 357h0M173 419h0M175 354h0M178 416h0M181 355h0M185 354h0M195 410h0"/></g>
<g transform="scale(1.53450 0.25)"><path class="d f dk" d="M0 672L4 672L8 673L12 673L16 673L20 673L24 674L28 674L32 674L36 675L40 675L44 675L48 676L52 675L56 675L60 675L64 674L68 674L72 674L76 674L80 673L84 673L88 673L92 673L96 672L100 672L104 671L108 670L112 669L116 668L120 667L124 666L128 665L132 665L136 665L140 665L144 665L148 665L152 665L156 664L160 663L164 661L168 660L172 658L176 656L180 653L184 648L188 635L192 610L196 576L200 544L200 560L196 597L192 626L188 642L184 648L180 653L176 656L172 658L168 660L164 661L160 663L156 664L152 665L148 666L144 667L140 668L136 669L132 671L128 671L124 672L120 672L116 673L112 673L108 673L104 674L100 674L96 674L92 674L88 674L84 674L80 674L76 674L72 674L68 674L64 674L60 675L56 675L52 675L48 676L44 675L40 675L36 675L32 674L28 674L24 674L20 674L16 674L12 674L8 674L4 674L0 674Z"/><path class="d dk" d="M0 662l2 9 2 4 2-8 2-4 2 2 2 6 2 3 2-7 2-8 2 8 2 3 2 9 2 0 2-9 2 7 2-2 2 1 2-2 2-2 2 2 2-3 2 0 2-3 2-2 2 5 2 2 2 4 2-3 2 8 2-9 2 4 2-5 2 7 2 0 2-10 2-3 2-1 2 4 2 0 2 6 2 1 2-4 2-3 2-6 2-5 2 16 2-4 2 2 2-6 2 4 2 1 2-11 2 17 2-13 2 11 2-4 2-2 2 3 2-3 2 3 2-4 2-13 2 9 2-8 2 9 2 3 2-4 2 3 2-5 2 0 2-9 2 10 2-6 2 1 2-6 2 12 2-3 2-4 2 3 2-11 2 14 2-7 2 11 2-8 2 1 2 2 2-15 2 8 2-3 2-10 2 6 2 1 2-5 2-16 2-14 2-3 2-24 2-17 2-16 2-17M0 675l1 10 2-16 2 2 2 6 2-5 2 3 2 8 2 2 2-5 2-8 2 10 2 2 2-4 2-4 2 4 2-10 2 9 2-11 2 13 2-3 2-8 2-3 2 10 2 1 2-2 2 3 2 7 2-5 2-6 2-3 2 26 2-19 2-8 2 11 2-1 2-4 2-1 2 9 2-14 2 8 2 3 2-13 2 9 2 6 2-2 2-7 2 6 2-2 2-10 2 4 2 8 2-4 2 2 2-10 2 11 2 2 2-4 2-5 2 9 2-14 2 3 2 16 2-12 2-15 2 17 2-8 2-4 2 11 2-16 2 8 2-6 2 3 2 9 2 5 2-12 2 5 2-3 2-6 2-10 2 10 2 5 2-4 2-5 2 3 2 5 2-6 2 5 2-6 2-3 2-4 2-5 2 4 2-7 2-5 2 0 2-8 2-7 2-16 2-16 2-28 1-3M2 694h0M7 686h0M9 685h0M20 662h0M36 692h0M39 669h0M40 664h0M45 683h0M47 690h0M51 682h0M58 667h0M59 661h0M60 660h0M63 666h0M64 666h0M76 654h0M79 684h0M86 662h0M91 686h0M92 682h0M106 662h0M111 693h0M112 687h0M115 658h0M117 655h0M118 683h0M120 678h0M128 678h0M134 650h0M140 677h0M144 675h0M146 680h0M160 644h0M162 656h0M165 679h0M184 634h0M197 602h0"/></g>
<path class="o dk" d="M303 90.3h0M303 100.5h0"/>
<g class="fr"><path stroke-width="2" d="M0 0H306.9 M0 176H306.9"/><path stroke-width="2.3" stroke-linecap="square" d="M0 0V176 M306.9 0V176"/></g>
<text class="ti" x="155.25" y="-13.4">Actor θ<tspan class="su" dy="5.6">15</tspan></text>
<text class="yt" x="-25.3" y="189.3">0</text><text class="yt" x="-25.3" y="111.08">40</text><text class="yt" x="-25.3" y="32.86">80</text>
<text class="xt" x="-1.5" y="233.1">0</text><text class="xt" x="151.95" y="233.1">100</text><text class="xt" x="305.4" y="233.1">200</text>
<text class="xl" x="150.45" y="285.6">Number of Pulses</text>
<text class="yl" transform="translate(-89.3 148.7) rotate(-90)"><tspan x="0">G (</tspan><tspan class="mu" x="50.5" dy="1">μ</tspan><tspan x="83.6" dy="-1">S</tspan><tspan x="109">)</tspan></text>
</g>
<g transform="translate(1175.7 2019.05)">
<g class="fr"><path stroke-width="1.9" d="M0 97.78h3.6 M306.9 97.78h-3.6 M0 19.56h3.6 M306.9 19.56h-3.6 M153.45 0v3.6 M153.45 176v-3.6"/><path stroke-width="1.7" d="M0 166.22h2.3 M306.9 166.22h-2.3 M0 156.44h2.3 M306.9 156.44h-2.3 M0 146.67h2.3 M306.9 146.67h-2.3 M0 136.89h2.3 M306.9 136.89h-2.3 M0 127.11h2.3 M306.9 127.11h-2.3 M0 117.33h2.3 M306.9 117.33h-2.3 M0 107.56h2.3 M306.9 107.56h-2.3 M0 88h2.3 M306.9 88h-2.3 M0 78.22h2.3 M306.9 78.22h-2.3 M0 68.44h2.3 M306.9 68.44h-2.3 M0 58.67h2.3 M306.9 58.67h-2.3 M0 48.89h2.3 M306.9 48.89h-2.3 M0 39.11h2.3 M306.9 39.11h-2.3 M0 29.33h2.3 M306.9 29.33h-2.3 M0 9.78h2.3 M306.9 9.78h-2.3"/></g>
<g transform="scale(1.53450 0.25)"><path class="d f lt" d="M0 527L4 460L8 385L12 331L16 299L20 279L24 259L28 245L32 233L36 221L40 210L44 201L48 192L52 189L56 186L60 184L64 181L68 179L72 176L76 173L80 170L84 167L88 164L92 161L96 157L100 154L104 152L108 150L112 148L116 145L120 143L124 141L128 140L132 138L136 136L140 134L144 132L148 131L152 130L156 129L160 127L164 126L168 125L172 123L176 122L180 120L184 119L188 117L192 116L196 114L200 114L200 144L196 145L192 146L188 148L184 149L180 151L176 152L172 154L168 155L164 157L160 159L156 161L152 162L148 164L144 166L140 168L136 170L132 172L128 174L124 175L120 177L116 179L112 182L108 184L104 186L100 188L96 192L92 196L88 199L84 203L80 207L76 210L72 214L68 220L64 226L60 232L56 238L52 244L48 250L44 255L40 260L36 265L32 276L28 288L24 300L20 332L16 367L12 408L8 462L4 530L0 555Z"/><path class="d lt" d="M0 523l2-20 2-33 2-42 2-42 2-36 2-13 2-20 2-16 2-13 2-12 2-7 2-19 2-3 2 6 2-20 2-7 2-1 2 1 2-17 2-4 2 3 2-11 2-2 2-10 2 1 2-10 2 11 2 3 2-2 2-7 2 4 2 4 2-2 2-10 2-1 2 3 2-6 2-6 2 5 2-2 2-2 2-4 2 2 2-2 2-7 2 9 2-7 2-8 2 6 2-2 2-6 2 2 2 4 2-6 2 0 2 3 2-8 2-6 2 8 2-8 2-7 2 11 2-10 2 4 2-5 2 2 2 1 2-2 2 4 2-7 2 0 2 0 2 1 2 2 2-4 2-1 2-4 2 0 2 3 2-1 2 2 2-13 2 3 2 13 2-2 2-5 2 1 2-1 2-1 2-8 2 3 2-1 2-5 2 4 2-4 2-2 2 4 2-4 2 2 2 5M0 535l1-11 2-34 2-35 2-41 2-34 2-28 2-19 2-15 2-14 2-8 2-9 2-15 2-6 2-11 2-21 2 1 2-7 2-3 2 0 2-8 2-4 2-5 2-8 2-2 2-2 2 5 2-2 2-1 2-3 2-3 2 0 2 6 2-12 2 4 2 1 2-7 2 0 2-3 2-2 2-3 2-4 2 3 2-4 2-2 2-2 2-2 2-7 2 9 2 7 2-15 2-5 2 4 2 4 2 2 2-21 2 11 2-7 2 4 2-7 2 11 2-1 2-1 2 0 2-11 2 4 2 2 2-11 2-4 2 4 2 7 2-6 2 0 2-3 2-2 2 10 2-12 2 2 2 3 2-4 2 2 2 3 2-13 2 6 2 1 2 5 2-4 2 4 2-4 2-3 2 0 2 5 2-11 2-4 2-1 2 0 2 8 2-8 2-11 2 10 2-4 1 13M0 529l2-13 2-35 2-29 2-37 2-38 2-7 2-34 2-6 2-20 2-4 2-19 2-17 2-2 2-7 2-5 2-16 2-5 2 5 2-14 2 2 2-12 2-2 2 1 2-3 2-9 2 7 2-2 2 0 2-6 2 1 2-4 2-2 2-4 2 8 2-7 2-2 2 4 2-8 2-7 2 9 2-4 2-3 2-5 2 2 2-1 2-1 2-9 2 6 2-9 2 5 2 0 2-4 2-7 2 12 2-13 2-3 2 14 2-15 2 1 2 7 2-9 2-11 2 3 2 11 2-1 2-2 2-4 2 8 2-7 2-3 2-1 2-2 2-3 2-3 2 3 2 4 2-7 2 4 2 2 2-14 2 8 2-6 2 5 2-5 2-2 2 5 2-11 2 9 2-8 2 1 2-3 2 10 2-8 2-6 2 1 2 15 2-12 2 2 2-1 2 3M0 551l1-2 2-19 2-30 2-38 2-38 2-28 2-35 2-19 2-10 2-15 2-21 2-14 2 6 2-10 2-10 2-9 2-11 2-3 2 4 2 8 2-16 2-11 2-1 2-2 2 6 2-7 2-8 2 0 2 11 2-5 2-16 2 1 2-8 2 3 2 7 2-9 2-3 2-5 2 8 2-4 2 2 2-7 2-2 2-6 2-2 2-8 2 10 2-8 2 3 2 1 2-6 2-4 2-1 2 4 2 0 2-3 2 4 2-6 2-9 2 13 2-11 2 10 2-8 2-8 2 4 2 2 2-6 2 1 2 0 2-5 2 1 2 4 2-7 2-3 2 1 2 8 2-7 2-5 2-8 2 3 2-1 2 6 2 4 2-15 2 5 2 12 2-6 2-1 2 0 2 5 2-5 2-2 2 1 2-5 2 1 2-2 2-3 2 3 2-4 2 4 1-7M0 550l2-16 2-20 2-36 2-37 2-32 2-19 2-22 2-14 2-18 2-17 2-15 2-16 2-1 2-8 2-4 2 4 2-16 2-1 2-2 2-7 2-11 2 8 2-7 2-5 2-9 2-1 2-4 2 1 2-2 2-15 2 11 2 5 2-11 2 1 2-6 2-6 2 9 2-12 2 2 2-4 2-5 2 4 2-9 2 2 2 8 2-2 2-9 2 3 2-4 2 0 2-7 2 1 2 9 2-2 2-3 2-6 2 4 2-7 2 4 2-7 2 5 2-1 2-1 2-1 2-8 2-1 2 9 2-7 2-8 2 1 2 8 2-7 2 0 2-9 2 4 2 0 2-1 2 2 2-12 2 8 2 2 2 3 2-3 2-13 2 10 2 0 2-6 2 3 2-3 2 8 2-10 2-1 2-3 2-2 2 6 2-6 2 5 2-6 2 9 2-11M0 549l1 0 2-19 2-19 2-36 2-27 2-30 2-17 2-25 2-12 2-29 2-15 2-12 2-12 2-6 2-1 2-14 2-6 2-3 2 2 2-11 2 8 2-10 2 6 2-17 2 13 2-9 2-12 2 1 2 3 2 0 2-6 2 0 2-10 2 0 2-5 2-6 2 2 2-10 2 8 2-5 2 0 2 3 2-4 2-8 2 3 2-5 2 5 2-2 2-11 2 2 2 1 2 0 2-1 2-9 2 4 2-3 2 3 2 2 2-6 2 14 2-24 2 5 2 3 2-8 2 6 2 2 2 5 2-10 2-4 2 5 2-2 2-6 2 0 2 0 2-1 2 0 2-3 2 1 2-5 2-3 2 2 2-4 2 0 2 8 2 0 2-8 2-2 2 1 2 3 2-10 2 5 2 2 2-2 2-7 2-3 2 7 2-1 2 3 2-4 2 2 1-4M9 360h0M11 324h0M23 253h0M32 287h0M34 277h0M36 273h0M41 266h0M43 263h0M49 256h0M51 254h0M55 174h0M58 251h0M66 234h0M67 167h0M70 225h0M75 165h0M79 161h0M80 159h0M81 213h0M83 159h0M84 157h0M86 213h0M92 207h0M106 142h0M107 193h0M110 135h0M119 185h0M123 133h0M133 178h0M148 124h0M156 172h0M157 118h0M159 113h0M165 116h0M180 168h0M184 161h0M187 154h0M188 105h0M195 103h0"/></g>
<g transform="scale(1.53450 0.25)"><path class="d f dk" d="M0 598L4 599L8 599L12 600L16 601L20 601L24 601L28 599L32 597L36 594L40 592L44 589L48 587L52 586L56 586L60 585L64 585L68 584L72 583L76 582L80 581L84 580L88 579L92 578L96 577L100 576L104 574L108 573L112 572L116 570L120 568L124 566L128 564L132 561L136 559L140 552L144 541L148 530L152 522L156 517L160 512L164 508L168 506L172 504L176 497L180 488L184 471L188 442L192 397L196 306L200 155L200 196L196 310L192 409L188 468L184 502L180 521L176 532L172 540L168 545L164 550L160 554L156 558L152 562L148 565L144 567L140 570L136 572L132 575L128 577L124 580L120 582L116 584L112 585L108 587L104 588L100 589L96 590L92 591L88 591L84 592L80 592L76 593L72 593L68 594L64 596L60 597L56 598L52 599L48 600L44 601L40 602L36 602L32 603L28 604L24 604L20 604L16 603L12 602L8 602L4 601L0 601Z"/><path class="d dk" d="M0 598l2-7 2 6 2-8 2 5 2 2 2-4 2 18 2-8 2-4 2-1 2 3 2 7 2-4 2-7 2 5 2 8 2-11 2-12 2 3 2 7 2-9 2-4 2 8 2 2 2-11 2-2 2 8 2-8 2 5 2-5 2 0 2 2 2 4 2 3 2 5 2-10 2 7 2-8 2-2 2-1 2 6 2-5 2 0 2-5 2 3 2-8 2 11 2-7 2 10 2-13 2 8 2-11 2 2 2 2 2 2 2-7 2-14 2 8 2-3 2 6 2 2 2 7 2-16 2-4 2-3 2 4 2-4 2-10 2 19 2-13 2-1 2-1 2-12 2-7 2-5 2-6 2 18 2-6 2-17 2 4 2-13 2 13 2-8 2-15 2 5 2 12 2-17 2 6 2-6 2 6 2-22 2-12 2-12 2-14 2-20 2-21 2-29 2-65 2-59 2-103M0 603l1-1 2-5 2 9 2-11 2-2 2 9 2-2 2-2 2-6 2 16 2-11 2 9 2-7 2 0 2-3 2 0 2-4 2 6 2-5 2 2 2-3 2 8 2-12 2 2 2 3 2-10 2 12 2-10 2-9 2 20 2-4 2 1 2-2 2-6 2-3 2-6 2 20 2-15 2 4 2-9 2 11 2-3 2-6 2 7 2-5 2 0 2-2 2 3 2 3 2 0 2-11 2 2 2-3 2 8 2-5 2-6 2 15 2-8 2-8 2 5 2-2 2 7 2-17 2 3 2 8 2-12 2 5 2-4 2 4 2 0 2-12 2-6 2 3 2-4 2-6 2-1 2-5 2-12 2 9 2-2 2 3 2-8 2-2 2-4 2 2 2-4 2-5 2 6 2-16 2-5 2-10 2-3 2-13 2-12 2-26 2-13 2-36 2-47 2-63 2-83 1-8M0 595l2 11 2-8 2 4 2 3 2-9 2 2 2 2 2 9 2-8 2-2 2-3 2 6 2-3 2-8 2 4 2 4 2-1 2 5 2-3 2-8 2 5 2-4 2-3 2 3 2-3 2-3 2 11 2-13 2 1 2 3 2 3 2 1 2-6 2 3 2-3 2 4 2-6 2 16 2-22 2 5 2 8 2-2 2-1 2-4 2-4 2-3 2-3 2 6 2 1 2 4 2 4 2-11 2-1 2 5 2-7 2 4 2 4 2-5 2-4 2-6 2 2 2 3 2-2 2 7 2-11 2-2 2 0 2-2 2 4 2-1 2-4 2-5 2 4 2-9 2-10 2 4 2-3 2-15 2 14 2-3 2-8 2 8 2-13 2 8 2 3 2-15 2 8 2-15 2 7 2-13 2-12 2-1 2-19 2-25 2-26 2-29 2-31 2-58 2-70 2-66M0 605l1-3 2 9 2-6 2-3 2 0 2 4 2 2 2-5 2-6 2 8 2 1 2 10 2-9 2 0 2-8 2 6 2-11 2 7 2-1 2 1 2 3 2-8 2-6 2 9 2 11 2-12 2 2 2 0 2-5 2 5 2-6 2 1 2 7 2-15 2 9 2-2 2-3 2-4 2 1 2 3 2 0 2 5 2-12 2 7 2-2 2 6 2-8 2 8 2-6 2-2 2-3 2 5 2 1 2-10 2 5 2 7 2-2 2-10 2-2 2-3 2 2 2-9 2 8 2-5 2-1 2 3 2 2 2-7 2-10 2 10 2-2 2-14 2-2 2 7 2-3 2-5 2-5 2 3 2 3 2 2 2 2 2-8 2-4 2-1 2-13 2 1 2-7 2 2 2-3 2-12 2-1 2-10 2-6 2-17 2-28 2-31 2-12 2-51 2-80 2-65 1-19M0 603l2-4 2-3 2 10 2 0 2-6 2 6 2-5 2 3 2 10 2-5 2-10 2 7 2 2 2-9 2 1 2 4 2-2 2-5 2-4 2 8 2-2 2 3 2-6 2 20 2-14 2 3 2-4 2 9 2-14 2 0 2 2 2-1 2-5 2 5 2 2 2-14 2 6 2 3 2 10 2-10 2-12 2 13 2-1 2 3 2-1 2-11 2 15 2-9 2 0 2-1 2 3 2-3 2 10 2-14 2-1 2 6 2-11 2 9 2-5 2-2 2 6 2-1 2-7 2-1 2 3 2 1 2-12 2 0 2 10 2-7 2-6 2-1 2 9 2-10 2-6 2-5 2-5 2 7 2-6 2 2 2 0 2 13 2-10 2-8 2-17 2 16 2-11 2-3 2-15 2 2 2-2 2-8 2-23 2-7 2-30 2-32 2-45 2-69 2-57 2-45M3 591h0M17 589h0M23 588h0M26 614h0M30 583h0M31 613h0M39 579h0M48 609h0M51 571h0M52 579h0M55 611h0M57 606h0M58 578h0M59 578h0M60 579h0M64 611h0M67 604h0M71 570h0M75 576h0M81 573h0M87 573h0M90 601h0M91 566h0M96 562h0M104 594h0M107 594h0M112 564h0M114 596h0M120 595h0M124 550h0M125 586h0M129 554h0M134 589h0M146 579h0M150 575h0M159 502h0M170 496h0M177 539h0M180 481h0M181 479h0M186 452h0M195 318h0M197 288h0M198 219h0"/></g>
<path class="o dk" d="M209.7 128.5h0M177.4 133.7h0"/>
<g class="fr"><path stroke-width="2" d="M0 0H306.9 M0 176H306.9"/><path stroke-width="2.3" stroke-linecap="square" d="M0 0V176 M306.9 0V176"/></g>
<text class="ti" x="153.45" y="-13.4">Actor θ<tspan class="su" dy="5.6">06</tspan></text>
<text class="yt" x="-25.3" y="189.3">0</text><text class="yt" x="-25.3" y="111.08">40</text><text class="yt" x="-25.3" y="32.86">80</text>
<text class="xt" x="-1.5" y="233.1">0</text><text class="xt" x="151.95" y="233.1">100</text><text class="xt" x="305.4" y="233.1">200</text>
<text class="xl" x="150.45" y="285.6">Number of Pulses</text>
<text class="yl" transform="translate(-89.3 148.7) rotate(-90)"><tspan x="0">G (</tspan><tspan class="mu" x="50.5" dy="1">μ</tspan><tspan x="83.6" dy="-1">S</tspan><tspan x="109">)</tspan></text>
</g>
<g transform="translate(1704.8 2019.05)">
<g class="fr"><path stroke-width="1.9" d="M0 97.78h3.6 M306.9 97.78h-3.6 M0 19.56h3.6 M306.9 19.56h-3.6 M153.45 0v3.6 M153.45 176v-3.6"/><path stroke-width="1.7" d="M0 166.22h2.3 M306.9 166.22h-2.3 M0 156.44h2.3 M306.9 156.44h-2.3 M0 146.67h2.3 M306.9 146.67h-2.3 M0 136.89h2.3 M306.9 136.89h-2.3 M0 127.11h2.3 M306.9 127.11h-2.3 M0 117.33h2.3 M306.9 117.33h-2.3 M0 107.56h2.3 M306.9 107.56h-2.3 M0 88h2.3 M306.9 88h-2.3 M0 78.22h2.3 M306.9 78.22h-2.3 M0 68.44h2.3 M306.9 68.44h-2.3 M0 58.67h2.3 M306.9 58.67h-2.3 M0 48.89h2.3 M306.9 48.89h-2.3 M0 39.11h2.3 M306.9 39.11h-2.3 M0 29.33h2.3 M306.9 29.33h-2.3 M0 9.78h2.3 M306.9 9.78h-2.3"/></g>
<g transform="scale(1.53450 0.25)"><path class="d lt" d="M0 596l2-13 2-11 2-21 2-5 2-8 2 1 2-2 2-8 2-6 2-8 2-17 2-2 2-2 2 0 2-7 2-7 2-6 2-14 2 8 2-9 2-4 2-4 2-5 2-2 2-10 2-3 2-3 2-13 2-12 2 0 2 5 2-9 2-3 2-1 2 0 2-3 2-2 2-5 2 2 2-6 2-7 2-1 2-14 2 10 2-9 2-6 2 3 2-1 2-4 2-8 2 8 2-5 2-6 2 10 2-11 2 10 2-8 2 0 2-1 2-5 2-3 2 3 2-3 2 6 2-8 2-1 2-11 2 11 2 0 2-3 2 4 2-2 2-4 2 8 2-10 2-2 2 8 2-8 2-9 2 7 2 2 2-4 2-1 2-9 2 14 2-5 2-14 2-6 2 6 2 3 2 15 2-11 2-1 2 11 2-7 2-5 2 1 2-4 2 3 2 3M0 596l1-4 2 0 2-14 2-6 2-12 2-11 2-10 2-1 2-11 2-7 2-9 2-7 2-5 2-5 2-8 2-4 2-5 2-2 2 1 2-7 2-11 2 1 2-10 2 9 2-18 2 2 2-3 2-9 2 1 2-7 2-7 2-3 2-12 2 8 2-9 2-4 2 1 2 0 2-7 2-3 2 3 2-5 2-4 2 1 2-1 2 1 2-6 2-4 2 5 2-15 2-7 2-1 2-2 2-7 2 0 2-12 2 14 2-6 2 4 2 3 2 2 2-4 2-1 2 1 2-8 2 4 2-7 2 3 2-4 2 0 2 3 2-11 2 4 2-8 2-4 2 3 2 6 2-4 2-1 2 8 2-8 2 0 2-1 2 7 2-9 2 4 2 1 2-1 2-4 2 6 2-2 2-1 2-5 2-9 2 7 2-2 2-2 2 9 2 0 2-3 1 4M0 597l2 0 2-6 2-2 2-12 2-12 2 0 2-9 2-4 2-9 2-6 2-4 2-6 2 2 2-20 2-4 2 5 2-8 2-3 2-14 2 8 2-6 2-14 2 5 2-10 2-14 2-4 2 4 2-3 2-28 2 6 2-4 2-7 2-9 2 6 2 4 2-12 2-4 2-3 2-4 2-11 2 13 2-10 2 4 2-6 2-3 2 5 2-10 2 3 2-3 2-6 2-1 2-6 2 8 2-2 2-11 2-2 2 8 2-9 2 4 2 1 2-4 2-3 2-6 2 4 2-5 2 7 2-11 2-4 2-2 2 2 2 3 2-2 2-8 2 7 2-5 2 6 2-10 2 4 2-6 2 8 2-3 2 5 2 2 2-16 2-3 2 7 2 0 2 5 2-16 2 1 2 4 2 2 2 2 2-7 2-2 2 0 2 2 2-1 2 5 2 1M0 596l1-8 2 8 2-5 2-11 2 1 2-13 2-1 2-14 2 6 2-18 2 4 2 2 2-4 2-2 2-21 2 5 2-17 2-2 2-11 2 3 2-8 2-1 2 0 2-9 2-6 2 2 2-10 2 1 2-15 2 3 2-5 2-9 2-1 2-10 2 1 2 2 2-1 2-10 2-12 2 3 2-2 2-3 2-3 2-13 2-7 2 2 2 2 2-11 2 4 2 3 2-12 2 0 2 21 2-28 2 5 2-1 2-4 2 7 2-2 2-2 2-15 2 15 2-8 2-4 2 3 2-6 2-2 2-4 2-3 2 1 2 0 2-7 2 1 2-3 2-1 2 3 2-4 2 1 2 4 2 1 2-6 2-2 2 4 2-7 2-2 2 1 2 2 2 0 2 0 2 5 2-7 2 4 2 2 2-2 2-4 2-1 2-3 2 1 2-6 2 18 1-15M6 542h0M16 512h0M23 553h0M25 542h0M29 467h0M40 448h0M43 498h0M51 410h0M53 475h0M61 456h0M63 451h0M66 451h0M68 443h0M80 419h0M85 350h0M91 350h0M94 397h0M108 336h0M118 372h0M126 373h0M130 329h0M136 315h0M139 321h0M140 351h0M152 345h0M154 348h0M163 343h0M167 311h0M170 299h0M172 339h0M191 337h0M199 342h0"/></g>
<g transform="scale(1.53450 0.25)"><path class="d f dk" d="M0 635L4 634L8 633L12 631L16 630L20 629L24 628L28 628L32 628L36 628L40 628L44 628L48 628L52 627L56 626L60 626L64 625L68 625L72 624L76 622L80 620L84 618L88 615L92 613L96 611L100 609L104 608L108 608L112 607L116 606L120 605L124 602L128 599L132 596L136 592L140 589L144 587L148 585L152 581L156 576L160 571L164 562L168 550L172 538L176 529L180 522L184 513L188 499L192 478L196 441L200 336L200 398L196 441L192 480L188 507L184 533L180 550L176 561L172 569L168 574L164 579L160 585L156 593L152 600L148 606L144 611L140 616L136 620L132 621L128 623L124 625L120 626L116 627L112 628L108 629L104 629L100 630L96 631L92 632L88 633L84 634L80 635L76 636L72 637L68 638L64 639L60 639L56 640L52 641L48 641L44 641L40 641L36 641L32 641L28 641L24 641L20 642L16 644L12 645L8 646L4 647L0 649Z"/><path class="d dk" d="M0 630l2 12 2-10 2-2 2-3 2-1 2 1 2 0 2 8 2-12 2 10 2-4 2-8 2 4 2-2 2 7 2-1 2 0 2-7 2 4 2-11 2 7 2 3 2-8 2 10 2-11 2 8 2-5 2 5 2 2 2 1 2-3 2-2 2 13 2-11 2-2 2 5 2-8 2-9 2 11 2-2 2-1 2 3 2-16 2 11 2-5 2-3 2 3 2 2 2 7 2-12 2-10 2 14 2 0 2-11 2 6 2 0 2 1 2-1 2-6 2 7 2-7 2 1 2-6 2 1 2 1 2-2 2-6 2 5 2-8 2-2 2 4 2-15 2 4 2 9 2 4 2-20 2 4 2 11 2-20 2-2 2 9 2-8 2-8 2-7 2-14 2-1 2-5 2-9 2 9 2-13 2-10 2 8 2-9 2 0 2-21 2-14 2-12 2-19 2-43 2-66M0 641l1-6 2 15 2-13 2 4 2-3 2-8 2 3 2 11 2-13 2 3 2-9 2 13 2 1 2 3 2-6 2 0 2 1 2-7 2 2 2 0 2-6 2-5 2 4 2 1 2-7 2 4 2 3 2-3 2 7 2-1 2 3 2 1 2 7 2-13 2 1 2 2 2-10 2-2 2 10 2-9 2-5 2 6 2 4 2 1 2-6 2 2 2-6 2 7 2-4 2-2 2-5 2 6 2-2 2 1 2 1 2-10 2 6 2-6 2-9 2 4 2 8 2-10 2 0 2 1 2-2 2 13 2-6 2-7 2-6 2 2 2 18 2-9 2-13 2 3 2-9 2-1 2 5 2-9 2-2 2-3 2-6 2-5 2-5 2-8 2 6 2-12 2-3 2-1 2-5 2-1 2-6 2-8 2-18 2-5 2 5 2-18 2-15 2-22 2-23 2-53 1-21M0 650l2-4 2-5 2 2 2 6 2-4 2-9 2 6 2-2 2 8 2-7 2-21 2 12 2 19 2-12 2 5 2 5 2-12 2 6 2-12 2 8 2-1 2-4 2-5 2 12 2-15 2 17 2-1 2-5 2 7 2 0 2-9 2-11 2 10 2 7 2-16 2-2 2 6 2-7 2 7 2-2 2 1 2-6 2 9 2-9 2-5 2 7 2 14 2-9 2-8 2 0 2-1 2-1 2 5 2 2 2-3 2 5 2-14 2-3 2 3 2-3 2 9 2-2 2-5 2 1 2 6 2-8 2 4 2-6 2-1 2-5 2 7 2-3 2 0 2-14 2 13 2-17 2 10 2-11 2 1 2-9 2 10 2-15 2-10 2 12 2-7 2-10 2-7 2 0 2-1 2-15 2 4 2-4 2-10 2-37 2-6 2-7 2-5 2-35 2-28 2-48M0 642l1 14 2-7 2 4 2-3 2-2 2 1 2-6 2 5 2 5 2-6 2 1 2-15 2 17 2-7 2-5 2 5 2-3 2 1 2 8 2-11 2 7 2-4 2 6 2-12 2 10 2-6 2 8 2-11 2 6 2-3 2 1 2-2 2-6 2 12 2 3 2-8 2 15 2-20 2 8 2-4 2 0 2-3 2 8 2-17 2 13 2-14 2 4 2-1 2 0 2 4 2 0 2-1 2-2 2-4 2 13 2-13 2-4 2 12 2 0 2 0 2 1 2-10 2-3 2 4 2 10 2-11 2 2 2 2 2-13 2 8 2-4 2-3 2-13 2 1 2 4 2-8 2-9 2 10 2-19 2 9 2-15 2 1 2 0 2-5 2-3 2 13 2-7 2-4 2-14 2-4 2 7 2-16 2-13 2-16 2-12 2-19 2-17 2-7 2-30 2-31 1-1M6 658h0M7 660h0M14 621h0M18 661h0M20 615h0M23 655h0M35 621h0M36 647h0M41 653h0M44 648h0M47 647h0M50 648h0M59 652h0M68 645h0M70 651h0M77 645h0M78 649h0M79 644h0M92 643h0M98 640h0M107 637h0M110 636h0M113 597h0M115 596h0M116 637h0M117 641h0M123 633h0M124 583h0M128 592h0M136 578h0M140 582h0M141 575h0M150 611h0M151 616h0M153 560h0M160 594h0M177 517h0M180 562h0M183 509h0M186 489h0M191 477h0M192 467h0"/></g>
<path class="o dk" d="M69 149h0"/>
<g class="fr"><path stroke-width="2" d="M0 0H306.9 M0 176H306.9"/><path stroke-width="2.3" stroke-linecap="square" d="M0 0V176 M306.9 0V176"/></g>
<text class="ti" x="153.45" y="-13.4">Actor θ<tspan class="su" dy="5.6">16</tspan></text>
<text class="yt" x="-25.3" y="189.3">0</text><text class="yt" x="-25.3" y="111.08">40</text><text class="yt" x="-25.3" y="32.86">80</text>
<text class="xt" x="-1.5" y="233.1">0</text><text class="xt" x="151.95" y="233.1">100</text><text class="xt" x="305.4" y="233.1">200</text>
<text class="xl" x="150.45" y="285.6">Number of Pulses</text>
<text class="yl" transform="translate(-89.3 148.7) rotate(-90)"><tspan x="0">G (</tspan><tspan class="mu" x="50.5" dy="1">μ</tspan><tspan x="83.6" dy="-1">S</tspan><tspan x="109">)</tspan></text>
</g>
<g transform="translate(117.5 2415.88)">
<g class="fr"><path stroke-width="1.9" d="M0 97.78h3.6 M306.9 97.78h-3.6 M0 19.56h3.6 M306.9 19.56h-3.6 M153.45 0v3.6 M153.45 176v-3.6"/><path stroke-width="1.7" d="M0 166.22h2.3 M306.9 166.22h-2.3 M0 156.44h2.3 M306.9 156.44h-2.3 M0 146.67h2.3 M306.9 146.67h-2.3 M0 136.89h2.3 M306.9 136.89h-2.3 M0 127.11h2.3 M306.9 127.11h-2.3 M0 117.33h2.3 M306.9 117.33h-2.3 M0 107.56h2.3 M306.9 107.56h-2.3 M0 88h2.3 M306.9 88h-2.3 M0 78.22h2.3 M306.9 78.22h-2.3 M0 68.44h2.3 M306.9 68.44h-2.3 M0 58.67h2.3 M306.9 58.67h-2.3 M0 48.89h2.3 M306.9 48.89h-2.3 M0 39.11h2.3 M306.9 39.11h-2.3 M0 29.33h2.3 M306.9 29.33h-2.3 M0 9.78h2.3 M306.9 9.78h-2.3"/></g>
<g transform="scale(1.53450 0.25)"><path class="d lt" d="M0 501l2-22 2-19 2-31 2-15 2-17 2-18 2-10 2-4 2-14 2-11 2 5 2-19 2 6 2-13 2 7 2-7 2 1 2-6 2 0 2-3 2-17 2 9 2-6 2 0 2-1 2-17 2-9 2 8 2-2 2-7 2 0 2-12 2 1 2-8 2-8 2-11 2 11 2-3 2-11 2 5 2-8 2 9 2 5 2 3 2 4 2 2 2-1 2-2 2-2 2 3 2-11 2-1 2-8 2-5 2-12 2 1 2-7 2 3 2 3 2-2 2-2 2-4 2 1 2 4 2 4 2-6 2-7 2-7 2 8 2-3 2-6 2 6 2-4 2-2 2 0 2-3 2 2 2 0 2-5 2-3 2-5 2-2 2 5 2-1 2 7 2-3 2-7 2-4 2 13 2-7 2 1 2 11 2-13 2 1 2-1 2 8 2-4 2 0 2 13 2-5M0 500l1-9 2-11 2-33 2-20 2-22 2-14 2-8 2-8 2 0 2 8 2-10 2-7 2-9 2-9 2 2 2-5 2-8 2-2 2-1 2 0 2 5 2-14 2-5 2 4 2-1 2-15 2-5 2-5 2 1 2-12 2-7 2-1 2-14 2-12 2-7 2 13 2-12 2 9 2-7 2-1 2 12 2 10 2-9 2-3 2-4 2 2 2-1 2 1 2-7 2-8 2-1 2 5 2-8 2-9 2-1 2 3 2-7 2-3 2 1 2 3 2-12 2 1 2-1 2-10 2 0 2 5 2-17 2 11 2 6 2-4 2 7 2 3 2 1 2-7 2 15 2 3 2-1 2-9 2 3 2-8 2 1 2-10 2-4 2-11 2 3 2 2 2-3 2-5 2 9 2 8 2-3 2 8 2-2 2-9 2-5 2 10 2-7 2-6 2 10 2 5 1-13M0 552l2-17 2-25 2-19 2-29 2-29 2-19 2-5 2-12 2-4 2-1 2-21 2-3 2-9 2-6 2-1 2 5 2-12 2-6 2-10 2 4 2-5 2-6 2-9 2-9 2 6 2-10 2 0 2 8 2-4 2 3 2-9 2 0 2-9 2-5 2-6 2-4 2 0 2 1 2-5 2-10 2 10 2-6 2-9 2-5 2 3 2-22 2 0 2 3 2-6 2 4 2 3 2 2 2 3 2-6 2 11 2 6 2-7 2 1 2-3 2-2 2-1 2-5 2 6 2-4 2 2 2-4 2-5 2-3 2 2 2-8 2 4 2 9 2-9 2 3 2-5 2-2 2 5 2-11 2-8 2-8 2 1 2-6 2 0 2-2 2 12 2 6 2 8 2-6 2-2 2 4 2 0 2 1 2 3 2 4 2-6 2 0 2 12 2 17 2-1 2 16M0 519l1 3 2-16 2-25 2-11 2-11 2-7 2-19 2 6 2-9 2-9 2-4 2-4 2-10 2 5 2-16 2-22 2-3 2-5 2-9 2-6 2 1 2 1 2-6 2-2 2 9 2-8 2-3 2 5 2-4 2 2 2-5 2 0 2-13 2-16 2-15 2-9 2-1 2-13 2 3 2-1 2 0 2 5 2-5 2-9 2-3 2 6 2 0 2-15 2 8 2 2 2 16 2 0 2-3 2 10 2-9 2 4 2-6 2-7 2 2 2-7 2 8 2-6 2-6 2 2 2 9 2-15 2 1 2-7 2 4 2-6 2 3 2-11 2 4 2-6 2 2 2-8 2-10 2-1 2-15 2 4 2 1 2-10 2 13 2-9 2 4 2 4 2 1 2-5 2 5 2 3 2-1 2 9 2-6 2 14 2 0 2 4 2-2 2-6 2 9 2 8 1-14M0 506l2-23 2-8 2-22 2-5 2-19 2-9 2 0 2 0 2-4 2 1 2-9 2-5 2-1 2-18 2-7 2-4 2-10 2 8 2-18 2-3 2-2 2-11 2-11 2 6 2-5 2-8 2 7 2 5 2-1 2-1 2-14 2 2 2 1 2-14 2-6 2-1 2 5 2-5 2-1 2 2 2-1 2 7 2-9 2 2 2 1 2-2 2-5 2-10 2 3 2-8 2-5 2 4 2-2 2 0 2 7 2-4 2 1 2 0 2-6 2 5 2-6 2 8 2-20 2 9 2-10 2 6 2 0 2-5 2-1 2 1 2-1 2 2 2 2 2 5 2-10 2 12 2-7 2-5 2 9 2-6 2 6 2-8 2-11 2-4 2 1 2-10 2-4 2 7 2-12 2 4 2-1 2 2 2 0 2 8 2-2 2 3 2-6 2-1 2 5 2-4M0 546l1 0 2-24 2-21 2-6 2-27 2-11 2-14 2-4 2-5 2-17 2-13 2 4 2-14 2-4 2-9 2 3 2 5 2-7 2 5 2-3 2 5 2-3 2 5 2-7 2 1 2-11 2 3 2-2 2-2 2-9 2-7 2-13 2-3 2-3 2-11 2-6 2 7 2-5 2 7 2-7 2 1 2-9 2 2 2-17 2-4 2-13 2-2 2-8 2-3 2-2 2-1 2-3 2 3 2 4 2 11 2 3 2 6 2-4 2 1 2-8 2 10 2-8 2-11 2 1 2-2 2 0 2-2 2 1 2-3 2-2 2 11 2-12 2-7 2 5 2 1 2 7 2-7 2 4 2-3 2-7 2 17 2-3 2-12 2 3 2-4 2-3 2-8 2 5 2-5 2-3 2 3 2-4 2 1 2-4 2 3 2-15 2-2 2-6 2-5 2-3 1-13M0 556l2 1 2-12 2-18 2-21 2-5 2-15 2-4 2-18 2 0 2-8 2-8 2-6 2 3 2-11 2-20 2 0 2-11 2 9 2-6 2-11 2 12 2-14 2-15 2 2 2 1 2-1 2-3 2-11 2 2 2 3 2-9 2-4 2-5 2-12 2 6 2-8 2-2 2 0 2-1 2-12 2 1 2 3 2-10 2 3 2-7 2-12 2-5 2 5 2-5 2-11 2 5 2 2 2-2 2-5 2 15 2-9 2-2 2 6 2-12 2 5 2 4 2 0 2-15 2 9 2 1 2 4 2-7 2 2 2 5 2-6 2-3 2-2 2-5 2-8 2 7 2-4 2-2 2-1 2-10 2-9 2-6 2 6 2-11 2 4 2-1 2 3 2 4 2 5 2 1 2 13 2-11 2-8 2 11 2-3 2 5 2-12 2 6 2 2 2-6 2 12M4 548h0M9 516h0M14 364h0M15 360h0M17 342h0M18 344h0M23 322h0M49 277h0M51 388h0M59 387h0M64 365h0M66 247h0M68 358h0M72 220h0M73 339h0M81 334h0M82 342h0M83 333h0M85 224h0M89 327h0M90 324h0M94 317h0M104 311h0M105 311h0M111 304h0M114 307h0M130 187h0M131 300h0M132 196h0M136 185h0M137 297h0M140 299h0M142 185h0M143 189h0M148 185h0M152 285h0M156 172h0M162 168h0M163 173h0M167 277h0M170 277h0M172 167h0M179 282h0M189 163h0M192 164h0M195 270h0M196 272h0"/></g>
<g transform="scale(1.53450 0.25)"><path class="d f dk" d="M0 601L4 601L8 601L12 601L16 601L20 601L24 602L28 603L32 604L36 605L40 606L44 608L48 609L52 608L56 606L60 605L64 604L68 603L72 601L76 599L80 597L84 595L88 593L92 591L96 589L100 586L104 576L108 565L112 565L116 565L120 564L124 557L128 550L132 543L136 535L140 528L144 521L148 513L152 506L156 498L160 487L164 475L168 462L172 448L176 433L180 411L184 386L188 350L192 307L196 251L200 190L200 245L196 273L192 336L188 398L184 446L180 473L176 496L172 512L168 527L164 538L160 547L156 557L152 565L148 572L144 580L140 587L136 595L132 601L128 602L124 602L120 602L116 604L112 605L108 606L104 608L100 610L96 611L92 613L88 614L84 616L80 618L76 619L72 621L68 621L64 622L60 623L56 623L52 624L48 624L44 625L40 625L36 625L32 625L28 625L24 625L20 625L16 625L12 625L8 625L4 625L0 625Z"/><path class="d dk" d="M0 603l2 8 2-15 2 6 2 0 2-3 2-4 2 11 2-3 2 2 2-14 2 11 2-8 2 2 2-4 2 11 2 5 2 6 2-16 2 4 2 8 2 3 2-7 2-17 2 23 2-7 2-13 2 13 2 8 2-5 2-13 2 18 2-5 2-11 2 4 2-7 2 7 2-11 2 2 2 7 2 6 2-17 2-14 2 17 2 7 2 2 2 4 2-24 2 9 2-8 2 1 2 0 2-9 2-9 2 0 2 2 2-2 2 2 2-1 2 9 2-1 2-11 2-17 2 17 2-16 2-7 2-3 2-1 2 1 2-11 2-1 2-16 2 16 2-4 2 1 2-13 2-3 2 3 2-21 2 13 2-7 2-6 2-9 2-7 2-6 2-8 2-14 2 2 2-4 2-10 2-29 2-10 2 2 2-30 2-2 2-28 2-26 2-16 2-38 2-40 2-18M0 608l1-2 2-10 2-7 2 24 2-14 2 0 2-7 2 5 2-9 2 12 2 4 2 3 2-4 2 9 2-3 2-16 2 11 2-8 2 4 2 8 2-9 2 13 2 1 2 0 2-1 2-8 2 0 2 9 2-8 2 9 2-18 2 15 2-4 2 7 2-16 2 5 2-15 2 4 2 9 2 0 2-4 2-5 2 7 2 0 2 1 2-3 2 1 2 1 2 6 2-14 2-10 2 12 2-14 2-1 2-1 2-2 2-4 2 10 2-5 2 0 2-11 2 9 2-12 2 5 2-3 2-13 2 5 2 4 2-8 2-20 2 15 2-13 2 3 2-17 2 5 2-9 2 1 2-10 2 2 2-1 2-14 2-5 2 3 2-18 2-5 2 7 2-20 2-16 2-8 2-9 2 0 2-18 2-18 2-24 2-15 2-22 2-25 2-33 2-24 2-27 1-3M0 609l2-10 2 15 2-4 2 1 2-3 2 8 2-6 2 16 2-5 2-10 2 5 2-6 2 3 2-3 2-14 2 14 2-7 2 6 2 5 2-20 2 21 2 6 2-6 2 5 2-11 2-8 2 12 2 7 2-12 2 3 2-4 2 2 2 7 2-4 2 8 2-4 2-7 2-1 2 9 2-14 2 9 2-9 2-3 2 20 2-30 2 9 2 4 2-5 2-6 2 12 2-11 2-11 2 3 2-17 2 21 2-13 2 4 2 4 2-8 2 6 2-18 2 8 2-5 2 5 2-16 2 7 2-10 2-11 2-3 2 11 2-8 2 9 2-10 2-12 2 16 2-32 2 18 2-13 2 0 2-6 2-16 2-3 2-9 2 3 2-12 2-3 2-1 2-22 2 11 2-15 2-14 2-11 2-25 2-27 2-15 2-32 2-39 2-21 2-34 2-13M0 603l1 12 2-7 2-12 2-1 2 27 2-9 2 4 2 0 2 12 2-18 2 7 2-12 2 10 2 1 2 5 2-9 2 10 2 4 2-15 2 8 2-10 2 18 2-17 2-5 2 24 2-6 2-7 2-12 2 10 2 2 2-19 2 8 2 6 2 4 2 0 2-20 2 14 2-3 2 5 2-7 2 1 2 15 2-2 2-6 2-4 2-12 2 5 2 3 2 3 2-22 2 14 2 3 2-16 2 5 2 6 2-5 2 0 2-13 2 23 2-18 2-7 2 17 2-3 2-10 2-1 2 0 2-21 2 16 2-12 2 6 2-11 2-20 2 17 2-2 2-11 2-8 2 2 2 2 2-23 2 15 2-22 2-10 2-1 2-1 2 11 2-34 2 7 2-13 2-8 2-16 2 3 2-23 2 1 2-41 2-11 2-30 2-30 2-18 2-43 2-9 1-3M0 621l2 12 2-13 2 3 2 9 2-23 2 7 2-5 2 22 2-22 2-1 2 7 2 0 2 10 2-7 2 2 2 2 2-4 2 1 2 7 2 5 2-8 2-8 2 6 2-11 2 11 2 7 2-21 2 8 2 8 2-8 2-1 2-6 2 11 2-9 2 15 2-4 2-16 2 3 2-2 2 0 2 13 2 5 2-10 2-10 2 1 2 8 2-1 2 2 2-2 2 0 2 0 2-15 2 8 2-13 2 8 2 4 2-4 2 6 2-10 2-6 2 10 2-13 2-2 2 6 2 0 2-12 2 15 2-19 2 2 2-4 2 6 2-8 2-13 2 0 2 1 2-2 2-5 2-9 2-2 2 4 2-5 2-14 2 21 2-29 2-7 2-2 2-16 2-3 2-22 2 1 2-20 2-19 2-24 2-18 2-24 2-32 2-41 2-28 2-33 2-12M0 633l1-10 2-5 2 15 2 4 2-8 2-10 2 3 2 17 2-11 2-17 2 21 2-13 2 2 2 2 2 4 2 7 2-9 2 1 2 5 2-20 2 5 2 10 2 1 2 7 2-6 2-6 2 0 2 15 2-17 2 5 2 4 2-8 2-5 2 19 2-25 2 7 2 12 2-3 2 1 2-12 2-16 2 16 2 3 2-5 2 5 2 9 2-20 2 3 2 19 2-24 2 2 2 4 2-14 2 3 2 11 2-11 2 17 2-20 2 4 2 0 2 17 2-26 2 4 2 15 2-21 2 14 2 2 2-5 2-7 2-19 2 2 2-2 2 5 2-2 2-1 2-6 2-7 2-11 2 2 2-8 2 9 2-19 2 11 2-18 2 0 2-12 2-21 2 1 2-3 2 2 2-32 2 2 2-31 2-30 2-16 2-38 2-36 2-22 2-23 2-16 1-1M5 589h0M10 643h0M14 591h0M38 597h0M39 596h0M40 646h0M49 594h0M51 637h0M53 597h0M63 588h0M68 633h0M70 641h0M72 627h0M73 586h0M76 630h0M80 586h0M81 590h0M82 628h0M92 580h0M94 577h0M99 574h0M105 626h0M111 553h0M114 616h0M121 547h0M128 543h0M145 594h0M146 505h0M155 575h0M156 492h0M158 482h0M164 552h0M180 387h0M187 420h0M194 257h0M196 235h0M197 228h0"/></g>
<path class="o dk" d="M236.6 118.2h0M206.2 127.4h0M164.7 133.9h0M49.3 143.1h0"/>
<g class="fr"><path stroke-width="2" d="M0 0H306.9 M0 176H306.9"/><path stroke-width="2.3" stroke-linecap="square" d="M0 0V176 M306.9 0V176"/></g>
<text class="ti" x="151.45" y="-13.4">Actor θ<tspan class="su" dy="5.6">07</tspan></text>
<text class="yt" x="-25.3" y="189.3">0</text><text class="yt" x="-25.3" y="111.08">40</text><text class="yt" x="-25.3" y="32.86">80</text>
<text class="xt" x="-1.5" y="233.1">0</text><text class="xt" x="151.95" y="233.1">100</text><text class="xt" x="305.4" y="233.1">200</text>
<text class="xl" x="150.45" y="285.6">Number of Pulses</text>
<text class="yl" transform="translate(-89.3 148.7) rotate(-90)"><tspan x="0">G (</tspan><tspan class="mu" x="50.5" dy="1">μ</tspan><tspan x="83.6" dy="-1">S</tspan><tspan x="109">)</tspan></text>
</g>
<g transform="translate(646.6 2415.88)">
<g class="fr"><path stroke-width="1.9" d="M0 97.78h3.6 M306.9 97.78h-3.6 M0 19.56h3.6 M306.9 19.56h-3.6 M153.45 0v3.6 M153.45 176v-3.6"/><path stroke-width="1.7" d="M0 166.22h2.3 M306.9 166.22h-2.3 M0 156.44h2.3 M306.9 156.44h-2.3 M0 146.67h2.3 M306.9 146.67h-2.3 M0 136.89h2.3 M306.9 136.89h-2.3 M0 127.11h2.3 M306.9 127.11h-2.3 M0 117.33h2.3 M306.9 117.33h-2.3 M0 107.56h2.3 M306.9 107.56h-2.3 M0 88h2.3 M306.9 88h-2.3 M0 78.22h2.3 M306.9 78.22h-2.3 M0 68.44h2.3 M306.9 68.44h-2.3 M0 58.67h2.3 M306.9 58.67h-2.3 M0 48.89h2.3 M306.9 48.89h-2.3 M0 39.11h2.3 M306.9 39.11h-2.3 M0 29.33h2.3 M306.9 29.33h-2.3 M0 9.78h2.3 M306.9 9.78h-2.3"/></g>
<g transform="scale(1.53450 0.25)"><path class="d f lt" d="M0 569L4 547L8 518L12 490L16 477L20 467L24 458L28 449L32 440L36 432L40 425L44 419L48 413L52 408L56 404L60 398L64 394L68 389L72 384L76 378L80 371L84 365L88 362L92 358L96 354L100 351L104 349L108 348L112 346L116 345L120 343L124 341L128 339L132 338L136 336L140 334L144 332L148 330L152 328L156 327L160 325L164 323L168 321L172 320L176 319L180 318L184 317L188 316L192 315L196 314L200 314L200 333L196 333L192 333L188 333L184 333L180 333L176 333L172 333L168 333L164 335L160 338L156 340L152 343L148 345L144 348L140 350L136 353L132 355L128 357L124 360L120 362L116 363L112 364L108 365L104 365L100 366L96 371L92 375L88 380L84 384L80 389L76 394L72 399L68 404L64 409L60 414L56 423L52 433L48 442L44 446L40 448L36 451L32 462L28 474L24 486L20 498L16 510L12 522L8 547L4 571L0 583Z"/><path class="d lt" d="M0 567l2-1 2-16 2-16 2-25 2-6 2-7 2-16 2-10 2 4 2-5 2-4 2-9 2-10 2 5 2-7 2-8 2-7 2 0 2 3 2-8 2-13 2 9 2-6 2-11 2 1 2 1 2-6 2 7 2-9 2 1 2-4 2 1 2-5 2 2 2-21 2 19 2-16 2 0 2 3 2 2 2-7 2-3 2-11 2 0 2-3 2-3 2 6 2-5 2 6 2-13 2-24 2 26 2 1 2 2 2 3 2-10 2 0 2-6 2 4 2-3 2 4 2-3 2 3 2-2 2 0 2-4 2 1 2-3 2 3 2-6 2 8 2-12 2-3 2 6 2 3 2-1 2-14 2 4 2-2 2 3 2-1 2-2 2-6 2 7 2-6 2 11 2-13 2-2 2-6 2 12 2-1 2 7 2-6 2-7 2 7 2-2 2-10 2 5 2 1 2 5M0 565l1-1 2-18 2-1 2-10 2-16 2-10 2-14 2-4 2-9 2-4 2-7 2-6 2-4 2-9 2-3 2 2 2-5 2-8 2-8 2-5 2 5 2-6 2-4 2 7 2-11 2 7 2-7 2 2 2-15 2 4 2-7 2 6 2-12 2 3 2-9 2 3 2-3 2-11 2 10 2-14 2 3 2-7 2-4 2 10 2-9 2-2 2-2 2 2 2 1 2-1 2-8 2-6 2 4 2 3 2-6 2 3 2-2 2-2 2 1 2 2 2 0 2-6 2-3 2 0 2 3 2-4 2-2 2-3 2-3 2 0 2 0 2 5 2 3 2-8 2 3 2-7 2 1 2-2 2 7 2-7 2 1 2 7 2-6 2-8 2-4 2 4 2-3 2 8 2-3 2-6 2 2 2 5 2-5 2 1 2-9 2 11 2-2 2 2 2-10 2 8 1-13M0 584l2-10 2-8 2-12 2-12 2-14 2-10 2-19 2 5 2-13 2 7 2-17 2-7 2 1 2-3 2-10 2-6 2-8 2 1 2-10 2 3 2 0 2-4 2-3 2-1 2-4 2-8 2 1 2-10 2-3 2 0 2-5 2 7 2-7 2-5 2 7 2-10 2-5 2 6 2-7 2-5 2 1 2-7 2-2 2 9 2-8 2-2 2 0 2-10 2-1 2-6 2 5 2-7 2-1 2-2 2 0 2 11 2-11 2 2 2 2 2-9 2 0 2 2 2 6 2-11 2 4 2 7 2-11 2 3 2-2 2-7 2-2 2 0 2 12 2-10 2-2 2 8 2-9 2 7 2-11 2-1 2 13 2-10 2-2 2 1 2 5 2-7 2 2 2-4 2 0 2 0 2 8 2-4 2-6 2-4 2 2 2 12 2-12 2 6 2-3 2 1M0 585l1 3 2-17 2 4 2-13 2-20 2-10 2-10 2-2 2-7 2-7 2-2 2-14 2-3 2-7 2-9 2-1 2-12 2-6 2 0 2-5 2-2 2 8 2-9 2-2 2 1 2-15 2 12 2-17 2 1 2-15 2-9 2 18 2-6 2 0 2 0 2-12 2 5 2-15 2 9 2-7 2 0 2-7 2-2 2-5 2 3 2-6 2 2 2-8 2 5 2-5 2 1 2-4 2 4 2-6 2 1 2 4 2-2 2 0 2-3 2 1 2 2 2-11 2 3 2 2 2-2 2-10 2 6 2 4 2-7 2 4 2-6 2 1 2 2 2-3 2 0 2-5 2 3 2-5 2-2 2-3 2 1 2-6 2 0 2 0 2 0 2 4 2 1 2-5 2-3 2 3 2-7 2 9 2 7 2 3 2-9 2-2 2 5 2 0 2 7 2-9 1-1M2 553h0M3 543h0M6 526h0M9 548h0M13 477h0M22 456h0M41 413h0M42 456h0M43 454h0M47 455h0M51 443h0M53 437h0M56 431h0M59 384h0M66 415h0M67 380h0M88 395h0M92 350h0M95 343h0M101 383h0M103 372h0M104 338h0M111 339h0M114 338h0M124 377h0M127 333h0M129 368h0M135 330h0M138 369h0M140 363h0M142 322h0M148 322h0M149 318h0M153 315h0M157 354h0M160 348h0M161 315h0M174 342h0M180 342h0M183 307h0M187 343h0M188 347h0M192 306h0M194 346h0M195 305h0M197 302h0"/></g>
<g transform="scale(1.53450 0.25)"><path class="d f dk" d="M0 625L4 624L8 622L12 621L16 620L20 618L24 617L28 618L32 619L36 619L40 620L44 620L48 621L52 621L56 621L60 621L64 621L68 621L72 621L76 620L80 620L84 619L88 619L92 618L96 618L100 617L104 614L108 611L112 608L116 605L120 603L124 603L128 604L132 605L136 606L140 603L144 595L148 588L152 582L156 577L160 572L164 567L168 562L172 557L176 547L180 530L184 511L188 487L192 457L196 405L200 332L200 372L196 419L192 472L188 506L184 528L180 543L176 554L172 563L168 568L164 573L160 578L156 583L152 587L148 592L144 595L140 603L136 606L132 605L128 607L124 610L120 612L116 614L112 615L108 617L104 618L100 620L96 620L92 621L88 621L84 622L80 622L76 623L72 623L68 624L64 625L60 625L56 626L52 626L48 627L44 627L40 627L36 627L32 627L28 627L24 627L20 628L16 628L12 629L8 630L4 630L0 631Z"/><path class="d dk" d="M0 627l2-6 2-8 2 11 2 2 2-12 2 7 2-1 2-7 2 1 2 3 2-4 2-3 2 5 2-1 2 5 2 7 2-2 2-6 2-1 2-5 2 3 2 1 2 4 2 2 2 5 2-13 2 13 2 4 2-13 2-2 2-10 2 12 2-2 2-1 2 9 2-6 2 3 2 5 2-9 2-3 2-2 2 2 2 6 2 0 2-5 2 0 2-5 2 1 2 3 2-2 2-7 2 3 2 3 2 0 2 5 2-10 2-10 2 14 2-15 2 9 2-13 2 14 2-1 2-9 2 8 2-1 2 13 2-8 2-10 2 5 2-7 2-5 2 1 2-16 2 5 2 4 2 2 2-9 2-2 2-7 2 10 2-7 2-9 2-4 2-10 2 6 2 1 2-21 2 3 2-1 2-19 2-12 2-7 2-15 2-13 2-13 2-24 2-32 2-31 2-39M0 627l1-6 2 4 2 6 2-5 2 6 2-7 2-9 2 3 2 9 2 1 2-7 2 0 2 5 2-1 2-2 2-3 2 0 2 3 2-6 2 2 2 1 2 4 2 1 2 4 2-1 2-6 2 2 2-10 2 11 2 2 2-2 2 0 2-5 2-1 2 0 2-5 2 5 2-3 2-5 2 9 2-2 2 12 2-7 2 3 2-9 2 2 2 5 2-20 2 11 2 9 2-8 2-3 2 1 2-4 2 6 2-2 2-4 2 1 2-4 2-1 2-3 2 1 2 3 2-7 2-4 2 5 2 4 2 2 2 1 2-7 2-9 2 4 2 1 2 7 2-21 2 4 2-14 2 6 2-3 2 1 2-8 2-1 2 2 2-1 2-8 2-1 2 0 2-8 2-6 2 1 2-11 2-8 2-16 2-17 2-10 2-18 2-5 2-42 2-28 2-32 1-13M0 636l2-15 2 14 2 6 2-5 2 3 2-16 2 11 2-2 2 6 2-5 2-10 2 5 2 1 2 0 2-4 2 5 2 2 2-4 2 3 2 5 2-5 2-5 2 8 2-3 2-1 2 9 2-8 2 4 2-5 2-8 2 8 2-6 2 3 2-5 2 3 2 0 2-3 2 8 2-2 2 3 2-1 2-6 2-9 2 10 2-5 2 7 2-12 2 3 2 8 2 8 2-7 2-6 2-11 2 14 2-10 2-2 2 18 2-21 2-1 2 6 2-1 2 7 2-10 2 1 2-1 2-6 2-6 2 5 2 7 2-15 2 4 2 9 2-16 2 7 2-2 2 2 2-17 2 9 2-19 2 16 2-9 2-4 2 1 2-15 2 11 2-4 2-5 2-9 2-3 2-12 2-5 2 0 2-15 2-16 2-3 2-19 2-31 2-28 2-26 2-26M10 607h0M22 646h0M26 603h0M27 608h0M29 633h0M30 636h0M31 643h0M34 613h0M36 642h0M39 600h0M40 612h0M42 610h0M43 613h0M45 611h0M48 613h0M50 612h0M54 610h0M63 639h0M72 638h0M73 611h0M75 607h0M77 610h0M80 606h0M82 630h0M85 604h0M86 633h0M88 628h0M92 607h0M102 599h0M103 627h0M108 627h0M117 593h0M118 596h0M126 594h0M139 595h0M148 601h0M150 575h0M151 601h0M156 566h0M161 593h0M168 574h0M172 548h0M174 546h0M181 555h0M183 505h0M191 490h0M199 387h0"/></g>
<g class="fr"><path stroke-width="2" d="M0 0H306.9 M0 176H306.9"/><path stroke-width="2.3" stroke-linecap="square" d="M0 0V176 M306.9 0V176"/></g>
<text class="ti" x="153.45" y="-13.4">Actor θ<tspan class="su" dy="5.6">17</tspan></text>
<text class="yt" x="-25.3" y="189.3">0</text><text class="yt" x="-25.3" y="111.08">40</text><text class="yt" x="-25.3" y="32.86">80</text>
<text class="xt" x="-1.5" y="233.1">0</text><text class="xt" x="151.95" y="233.1">100</text><text class="xt" x="305.4" y="233.1">200</text>
<text class="xl" x="150.45" y="285.6">Number of Pulses</text>
<text class="yl" transform="translate(-89.3 148.7) rotate(-90)"><tspan x="0">G (</tspan><tspan class="mu" x="50.5" dy="1">μ</tspan><tspan x="83.6" dy="-1">S</tspan><tspan x="109">)</tspan></text>
</g>
<g transform="translate(1175.7 2415.88)">
<g class="fr"><path stroke-width="1.9" d="M0 97.78h3.6 M306.9 97.78h-3.6 M0 19.56h3.6 M306.9 19.56h-3.6 M153.45 0v3.6 M153.45 176v-3.6"/><path stroke-width="1.7" d="M0 166.22h2.3 M306.9 166.22h-2.3 M0 156.44h2.3 M306.9 156.44h-2.3 M0 146.67h2.3 M306.9 146.67h-2.3 M0 136.89h2.3 M306.9 136.89h-2.3 M0 127.11h2.3 M306.9 127.11h-2.3 M0 117.33h2.3 M306.9 117.33h-2.3 M0 107.56h2.3 M306.9 107.56h-2.3 M0 88h2.3 M306.9 88h-2.3 M0 78.22h2.3 M306.9 78.22h-2.3 M0 68.44h2.3 M306.9 68.44h-2.3 M0 58.67h2.3 M306.9 58.67h-2.3 M0 48.89h2.3 M306.9 48.89h-2.3 M0 39.11h2.3 M306.9 39.11h-2.3 M0 29.33h2.3 M306.9 29.33h-2.3 M0 9.78h2.3 M306.9 9.78h-2.3"/></g>
<g transform="scale(1.53450 0.25)"><path class="d f lt" d="M0 583L4 572L8 559L12 546L16 536L20 526L24 517L28 517L32 517L36 516L40 509L44 502L48 494L52 489L56 484L60 479L64 472L68 465L72 457L76 450L80 443L84 436L88 434L92 432L96 430L100 428L104 424L108 421L112 417L116 413L120 410L124 406L128 402L132 398L136 395L140 391L144 388L148 385L152 383L156 380L160 378L164 375L168 373L172 371L176 369L180 367L184 365L188 363L192 361L196 359L200 358L200 399L196 400L192 402L188 404L184 406L180 408L176 410L172 412L168 414L164 417L160 419L156 421L152 424L148 426L144 429L140 430L136 431L132 433L128 434L124 435L120 436L116 440L112 445L108 449L104 454L100 458L96 467L92 476L88 485L84 494L80 502L76 509L72 516L68 517L64 517L60 518L56 522L52 527L48 532L44 539L40 546L36 553L32 559L28 564L24 569L20 575L16 583L12 590L8 595L4 601L0 606Z"/><path class="d lt" d="M0 578l2-4 2-6 2-11 2 4 2-4 2-22 2 4 2-10 2-11 2 2 2 8 2-12 2-1 2-5 2 4 2 6 2-6 2 4 2-6 2-12 2 5 2 1 2-10 2-4 2 6 2-11 2-7 2 7 2-1 2-12 2 8 2-18 2 4 2-1 2-7 2-13 2 3 2-5 2 1 2-5 2-3 2-8 2-4 2 13 2-12 2 6 2 0 2-9 2 3 2 4 2-3 2-11 2 6 2 3 2-14 2 8 2-12 2 1 2-2 2-1 2 7 2-3 2-11 2-14 2 17 2-11 2-3 2 5 2-5 2 5 2-4 2 5 2-7 2-2 2-4 2 2 2-2 2-7 2 6 2-2 2-5 2 4 2-5 2 5 2 1 2-13 2 10 2-8 2-3 2-5 2 5 2 2 2-24 2 24 2 0 2-3 2 0 2 4 2-5 2-1M0 586l1 2 2-6 2-12 2-8 2-3 2-5 2-3 2-11 2 1 2-9 2-5 2-5 2 1 2 2 2-3 2-9 2 6 2 5 2-11 2 5 2-1 2-5 2-4 2 3 2-3 2-2 2-7 2 6 2-10 2-9 2-6 2 11 2-9 2-10 2-3 2-1 2 10 2-15 2 3 2-9 2-3 2-1 2-11 2 5 2-3 2-4 2-7 2-5 2 15 2-9 2 2 2-4 2-2 2 0 2-10 2 1 2-5 2 2 2-1 2-5 2-1 2 4 2-10 2 2 2-4 2 1 2-1 2 4 2-3 2-3 2 3 2-4 2-9 2 3 2-10 2 5 2-4 2-2 2 3 2-7 2 5 2-9 2 5 2-7 2 3 2 3 2-2 2 3 2-4 2-1 2 4 2-6 2 6 2-2 2-3 2-5 2 3 2-4 2 0 2-1 1-5M0 587l2 6 2-17 2 2 2-8 2-2 2-8 2-8 2 2 2-8 2 1 2-7 2 12 2-2 2-3 2-8 2-4 2 1 2 1 2-10 2-4 2 4 2-5 2-8 2-2 2 1 2-4 2-4 2-2 2-5 2-2 2 3 2-10 2-7 2 8 2-4 2-1 2-9 2-2 2-1 2-3 2-8 2 2 2-5 2-13 2 3 2-5 2 1 2-4 2 3 2 4 2-8 2-9 2 6 2-10 2 10 2-5 2-6 2 0 2-1 2-4 2-3 2-3 2 1 2-2 2-4 2-1 2-4 2 2 2-6 2 4 2-4 2-3 2 4 2-1 2-5 2 3 2-5 2 2 2-6 2 2 2 3 2-9 2 0 2-5 2 7 2 6 2-13 2 5 2 3 2 9 2-12 2 2 2-2 2-4 2 2 2-11 2 7 2-1 2 1 2-7M0 599l1-1 2-10 2 1 2-4 2-4 2 2 2-13 2-7 2-1 2-11 2 6 2-10 2 5 2-3 2-6 2-6 2 15 2-7 2-7 2-15 2 9 2-10 2-1 2-3 2-2 2 2 2-10 2 1 2-3 2 1 2-6 2-9 2-7 2 3 2-1 2-6 2 2 2 0 2-9 2 1 2-4 2-5 2 1 2 3 2 6 2-15 2-1 2-14 2 10 2-2 2-7 2 3 2-13 2 2 2 2 2-2 2-1 2-4 2-14 2 7 2-3 2 1 2-3 2 1 2-8 2 2 2-2 2 12 2-5 2-10 2 1 2 6 2 0 2-6 2-7 2 4 2-4 2-4 2-8 2 2 2 1 2-13 2 22 2-10 2 0 2-2 2 9 2-12 2-2 2 4 2-1 2-5 2-3 2 0 2 11 2-9 2 2 2 5 2 0 2 2 1 0M0 596l2 2 2 1 2 1 2-23 2 7 2-3 2 0 2-9 2-2 2-5 2-5 2-1 2-6 2 11 2-9 2-1 2 0 2-2 2-2 2-16 2 6 2-7 2 0 2-9 2 6 2-1 2-8 2-4 2-10 2 1 2 5 2-9 2-3 2 10 2-16 2 12 2-8 2-8 2-4 2-9 2 4 2-1 2 1 2-8 2-6 2 0 2-12 2 5 2-6 2-1 2 7 2-10 2-1 2 1 2-2 2-7 2 1 2-5 2-2 2-8 2-2 2 2 2 7 2-8 2 4 2-6 2 1 2-6 2 0 2 1 2-6 2 1 2 0 2-4 2 3 2-6 2-1 2 10 2-3 2-5 2 2 2-1 2 2 2-5 2 6 2-4 2-6 2 6 2-12 2-1 2-2 2 2 2 4 2 5 2-10 2-8 2 3 2 4 2-1 2-10M0 608l1-1 2 4 2-9 2 5 2-8 2-2 2-6 2-6 2 12 2-25 2 2 2 1 2 1 2 3 2-12 2-7 2 2 2-2 2 0 2-10 2-2 2-4 2-3 2-8 2-7 2 4 2 1 2-4 2-7 2 6 2-5 2 0 2-3 2-5 2 10 2-1 2-14 2 11 2-11 2 0 2-2 2-5 2-19 2 8 2-6 2-7 2-4 2-2 2-1 2-7 2 2 2-8 2-10 2 0 2 4 2 0 2-5 2-5 2 0 2 4 2-2 2-5 2-2 2 11 2-8 2-5 2 7 2-1 2-4 2 1 2-5 2 1 2-1 2-11 2 7 2 0 2 6 2-12 2-4 2 8 2-9 2 2 2 7 2-6 2-3 2 4 2 1 2-10 2 4 2-9 2 2 2 5 2-7 2 8 2-6 2-6 2 0 2 0 2 6 2-11 1 4M1 619h0M5 610h0M9 540h0M10 544h0M11 542h0M12 532h0M14 604h0M15 525h0M35 563h0M52 536h0M67 459h0M68 458h0M71 523h0M72 446h0M89 494h0M107 457h0M109 458h0M119 402h0M123 398h0M134 384h0M138 380h0M142 382h0M144 373h0M145 441h0M151 375h0M153 374h0M154 373h0M156 429h0M167 363h0M170 431h0M172 423h0M175 417h0M187 412h0M190 351h0M194 353h0"/></g>
<g transform="scale(1.53450 0.25)"><path class="d f dk" d="M0 643L4 644L8 645L12 647L16 648L20 649L24 650L28 645L32 640L36 635L40 630L44 626L48 622L52 623L56 625L60 627L64 629L68 630L72 632L76 630L80 629L84 627L88 626L92 624L96 622L100 621L104 619L108 618L112 616L116 615L120 614L124 616L128 619L132 621L136 624L140 623L144 619L148 615L152 611L156 606L160 601L164 596L168 591L172 587L176 577L180 563L184 551L188 542L192 528L196 496L200 442L200 491L196 517L192 556L188 582L184 598L180 606L176 610L172 613L168 616L164 618L160 621L156 625L152 629L148 631L144 633L140 634L136 635L132 637L128 639L124 640L120 642L116 643L112 643L108 644L104 645L100 646L96 647L92 648L88 649L84 650L80 651L76 652L72 653L68 653L64 653L60 653L56 653L52 653L48 653L44 654L40 655L36 656L32 658L28 659L24 660L20 660L16 660L12 660L8 660L4 660L0 660Z"/><path class="d dk" d="M0 647l2-9 2 1 2-3 2 4 2 1 2-5 2 9 2 4 2 2 2 4 2-4 2-13 2 11 2-1 2-4 2-17 2 12 2-12 2 1 2-1 2-9 2 9 2 2 2-12 2-5 2 16 2-7 2-2 2 12 2-7 2 12 2-12 2 6 2-10 2 10 2-17 2 20 2-2 2-7 2-6 2 12 2-6 2 5 2-6 2-3 2-1 2 7 2-1 2-7 2 5 2-5 2 0 2 0 2 0 2-16 2 11 2-3 2 14 2-3 2-12 2 3 2-2 2 16 2-15 2 11 2-8 2 9 2-5 2 11 2-13 2 11 2-1 2-11 2-13 2 13 2-7 2 8 2-12 2-9 2 6 2-8 2-2 2-5 2 6 2-5 2 5 2 0 2-12 2-15 2-9 2-3 2 3 2-6 2-5 2-24 2 4 2-14 2-11 2-42 2-12M0 638l1 14 2 13 2-15 2 7 2-9 2 16 2-15 2-5 2 11 2 2 2 7 2-12 2-3 2-2 2 3 2 5 2-7 2-5 2 3 2-10 2 3 2-1 2 1 2-11 2 8 2 1 2-9 2 0 2 2 2 3 2-8 2 2 2 3 2 10 2 0 2 0 2-4 2 2 2 3 2-5 2 4 2 5 2-4 2-9 2 10 2-10 2 0 2 5 2-1 2-4 2 5 2-11 2 1 2 4 2-9 2 7 2-13 2 5 2-2 2 7 2-3 2-4 2 12 2-14 2 12 2-1 2-2 2-5 2 10 2-9 2 0 2-6 2 8 2-3 2-1 2-1 2 7 2-8 2-9 2 7 2-8 2 2 2-10 2-10 2 13 2-5 2-3 2-10 2-5 2-9 2 3 2-10 2 2 2-6 2-17 2-11 2-9 2-5 2-38 2-30 1 0M0 652l2 4 2-4 2-2 2 1 2 9 2-8 2 3 2 12 2 0 2-8 2-4 2 3 2 4 2-6 2 0 2-3 2 4 2-6 2-6 2 7 2-5 2-11 2 4 2 1 2-3 2-5 2 23 2-9 2-4 2 6 2 4 2-2 2-4 2-3 2-2 2 4 2 2 2-6 2 2 2-2 2 0 2 7 2-4 2 2 2 5 2-13 2 8 2 3 2-15 2 4 2 5 2-11 2-13 2 15 2 8 2-1 2-9 2 0 2 1 2-8 2 4 2 7 2-7 2-7 2 11 2-5 2 11 2-8 2 7 2-8 2-9 2 0 2 9 2-3 2 8 2-10 2-1 2-1 2-4 2 9 2-10 2 1 2-17 2 11 2-1 2-5 2-3 2-9 2 4 2-3 2-10 2-11 2-8 2 5 2-12 2-20 2-10 2-19 2-15 2-22M0 663l1-8 2 4 2 0 2 8 2-6 2-5 2 11 2-6 2-2 2 4 2-1 2 2 2 0 2-2 2-10 2 13 2-9 2-5 2 3 2 0 2 8 2 4 2-10 2 0 2-4 2 7 2 2 2-6 2-1 2 3 2 1 2 0 2-2 2 7 2-2 2-4 2-3 2 7 2-5 2 5 2-1 2-11 2 1 2 6 2-2 2-7 2 1 2 0 2-6 2-3 2 5 2 5 2-3 2 0 2-6 2 9 2 4 2-2 2-7 2 1 2 1 2-10 2 12 2-12 2 5 2 2 2-4 2 12 2-14 2-8 2 7 2-11 2 6 2 14 2-16 2 2 2-6 2-3 2-4 2 10 2-8 2 6 2 2 2-6 2-1 2-8 2-2 2 13 2-13 2-18 2 11 2 3 2-9 2-6 2-9 2-12 2-23 2-21 2-13 2-19 1-2M4 636h0M5 630h0M7 669h0M13 640h0M16 632h0M25 670h0M27 672h0M29 637h0M31 674h0M32 623h0M34 629h0M36 663h0M37 666h0M38 667h0M40 662h0M46 616h0M49 608h0M50 608h0M58 617h0M61 616h0M63 671h0M66 662h0M72 665h0M73 669h0M83 621h0M87 657h0M92 613h0M97 612h0M100 614h0M102 662h0M104 655h0M115 651h0M116 595h0M117 650h0M119 602h0M125 647h0M127 605h0M128 651h0M129 610h0M131 648h0M132 645h0M135 607h0M136 645h0M141 645h0M142 610h0M150 599h0M154 634h0M162 588h0M168 633h0M175 573h0M183 612h0M186 527h0M191 574h0M192 574h0M194 508h0"/></g>
<path class="o dk" d="M303.8 86.8h0M304.7 96.1h0M303.8 107.1h0M301 115.4h0"/>
<g class="fr"><path stroke-width="2" d="M0 0H306.9 M0 176H306.9"/><path stroke-width="2.3" stroke-linecap="square" d="M0 0V176 M306.9 0V176"/></g>
<text class="ti" x="150.95" y="-13.4">Actor θ<tspan class="su" dy="5.6">08</tspan></text>
<text class="yt" x="-25.3" y="189.3">0</text><text class="yt" x="-25.3" y="111.08">40</text><text class="yt" x="-25.3" y="32.86">80</text>
<text class="xt" x="-1.5" y="233.1">0</text><text class="xt" x="151.95" y="233.1">100</text><text class="xt" x="305.4" y="233.1">200</text>
<text class="xl" x="150.45" y="285.6">Number of Pulses</text>
<text class="yl" transform="translate(-89.3 148.7) rotate(-90)"><tspan x="0">G (</tspan><tspan class="mu" x="50.5" dy="1">μ</tspan><tspan x="83.6" dy="-1">S</tspan><tspan x="109">)</tspan></text>
</g>
<g transform="translate(1704.8 2415.88)">
<g class="fr"><path stroke-width="1.9" d="M0 97.78h3.6 M306.9 97.78h-3.6 M0 19.56h3.6 M306.9 19.56h-3.6 M153.45 0v3.6 M153.45 176v-3.6"/><path stroke-width="1.7" d="M0 166.22h2.3 M306.9 166.22h-2.3 M0 156.44h2.3 M306.9 156.44h-2.3 M0 146.67h2.3 M306.9 146.67h-2.3 M0 136.89h2.3 M306.9 136.89h-2.3 M0 127.11h2.3 M306.9 127.11h-2.3 M0 117.33h2.3 M306.9 117.33h-2.3 M0 107.56h2.3 M306.9 107.56h-2.3 M0 88h2.3 M306.9 88h-2.3 M0 78.22h2.3 M306.9 78.22h-2.3 M0 68.44h2.3 M306.9 68.44h-2.3 M0 58.67h2.3 M306.9 58.67h-2.3 M0 48.89h2.3 M306.9 48.89h-2.3 M0 39.11h2.3 M306.9 39.11h-2.3 M0 29.33h2.3 M306.9 29.33h-2.3 M0 9.78h2.3 M306.9 9.78h-2.3"/></g>
<g transform="scale(1.53450 0.25)"><path class="d f lt" d="M0 392L4 357L8 318L12 280L16 256L20 235L24 215L28 209L32 204L36 199L40 195L44 192L48 188L52 185L56 182L60 179L64 176L68 173L72 170L76 168L80 167L84 165L88 163L92 162L96 160L100 159L104 157L108 156L112 154L116 153L120 151L124 151L128 150L132 149L136 149L140 148L144 148L148 148L152 149L156 150L160 150L164 151L168 151L172 151L176 151L180 151L184 151L188 151L192 151L196 151L200 151L200 163L196 163L192 164L188 164L184 165L180 165L176 166L172 166L168 167L164 168L160 168L156 169L152 169L148 170L144 171L140 172L136 174L132 176L128 178L124 180L120 181L116 182L112 183L108 184L104 185L100 185L96 186L92 187L88 188L84 190L80 191L76 192L72 193L68 196L64 200L60 203L56 207L52 211L48 214L44 217L40 219L36 222L32 224L28 227L24 229L20 252L16 284L12 321L8 378L4 427L0 442Z"/><path class="d lt" d="M0 397l2-18 2-19 2-23 2-22 2-13 2-37 2 2 2-12 2-12 2-12 2-8 2-7 2-9 2-14 2 16 2-6 2-2 2-10 2 8 2-15 2 11 2 1 2-9 2-4 2 2 2 0 2-6 2 5 2-3 2-4 2-7 2 14 2-12 2 1 2-6 2-7 2 2 2 5 2-5 2-5 2 1 2 2 2 7 2-5 2-11 2 7 2-5 2 3 2 0 2-15 2 15 2-5 2 6 2-12 2 7 2-6 2 6 2-1 2-3 2-7 2 12 2-6 2-3 2 3 2-6 2 3 2 5 2-4 2 1 2 3 2-3 2-7 2 4 2 11 2-11 2-3 2-5 2 11 2 4 2 2 2-11 2 7 2-8 2 14 2-5 2-7 2-13 2 15 2-3 2 2 2 11 2-9 2-2 2 4 2 0 2-3 2 8 2-3 2-7 2 3M0 406l1 4 2-16 2-16 2-29 2-16 2-25 2-14 2-9 2-27 2-13 2-11 2-13 2-10 2-2 2-2 2 4 2-2 2-5 2-13 2 9 2 9 2-9 2-3 2-6 2 2 2-1 2 8 2-11 2-2 2-2 2 3 2-3 2 1 2-10 2 1 2-6 2 13 2-14 2 5 2-3 2 15 2-15 2-2 2-2 2 8 2-3 2-8 2 8 2-7 2 4 2-10 2 7 2-6 2-3 2 12 2-8 2-2 2 10 2-11 2 5 2-2 2 0 2-1 2-6 2 3 2 5 2-12 2 16 2 1 2-14 2 5 2-2 2-8 2 6 2-2 2 7 2-6 2 5 2-4 2 9 2-17 2 2 2-3 2 15 2-11 2 11 2-15 2 19 2-8 2-5 2 2 2 3 2 7 2-6 2 3 2-18 2 12 2-7 2 13 2-7 1 2M0 425l2-6 2-6 2-37 2-17 2-29 2-21 2-15 2-12 2-29 2-17 2-8 2-4 2 0 2 4 2-6 2-8 2 1 2 2 2-6 2-2 2 3 2-8 2 0 2 2 2 3 2-11 2 3 2-5 2-5 2 12 2-9 2 0 2-12 2 1 2 7 2-7 2 2 2 1 2-4 2 2 2-8 2 0 2 0 2-3 2 10 2-6 2 1 2 3 2-8 2-1 2-3 2-2 2 9 2 2 2-6 2 2 2 3 2-6 2 4 2 2 2-4 2-1 2 4 2-8 2 0 2 9 2-12 2 5 2 0 2 6 2-22 2 9 2 7 2-6 2-3 2-1 2 7 2-3 2-12 2 15 2-12 2 9 2 2 2 5 2-12 2 4 2 0 2-6 2 3 2-1 2 1 2-4 2 6 2 0 2 1 2-5 2-5 2 11 2-8 2-8M0 442l1 0 2-12 2-9 2-27 2-35 2-24 2-22 2-14 2-15 2-25 2-1 2-20 2-8 2-1 2 1 2 11 2-12 2-7 2 15 2-16 2 1 2 4 2-7 2-4 2 1 2-1 2-3 2 0 2-4 2-8 2 0 2-2 2 0 2 12 2-8 2-5 2-1 2 2 2-4 2 2 2-7 2 0 2-5 2 3 2 5 2 2 2-4 2-2 2-10 2 16 2-3 2 0 2-1 2-5 2 0 2-4 2 3 2 1 2-2 2 5 2-11 2 16 2-26 2 11 2 1 2-9 2 2 2 5 2-3 2-1 2 3 2-12 2 13 2-3 2 3 2-6 2 3 2 1 2 1 2-11 2 9 2-1 2-3 2 2 2 0 2 1 2-5 2 7 2-11 2 9 2-9 2 0 2 12 2-6 2-7 2 1 2 2 2 2 2-2 2-2 1 0M1 376h0M3 360h0M20 267h0M21 215h0M22 213h0M40 231h0M52 178h0M59 168h0M63 208h0M68 210h0M78 161h0M92 202h0M105 195h0M108 148h0M114 144h0M115 146h0M125 133h0M127 186h0M129 140h0M130 134h0M136 189h0M140 140h0M145 184h0M146 185h0M154 178h0M156 140h0M158 178h0M159 175h0M162 181h0M165 181h0M170 180h0M172 136h0M176 174h0M177 142h0M179 140h0M181 172h0M183 178h0M188 137h0M195 145h0M198 172h0M199 172h0"/></g>
<path class="o lt" d="M5.7 132h0M4.7 153.2h0"/>
<g transform="scale(1.53450 0.25)"><path class="d f dk" d="M0 653L4 651L8 650L12 648L16 646L20 644L24 642L28 640L32 638L36 636L40 634L44 633L48 631L52 630L56 628L60 627L64 626L68 625L72 624L76 626L80 628L84 630L88 632L92 634L96 636L100 638L104 635L108 632L112 629L116 626L120 623L124 617L128 610L132 604L136 597L140 593L144 590L148 588L152 582L156 572L160 565L164 557L168 550L172 535L176 521L180 499L184 470L188 416L192 344L196 261L200 176L200 190L196 263L192 359L188 432L184 489L180 527L176 554L172 570L168 586L164 594L160 602L156 609L152 623L148 633L144 635L140 638L136 640L132 642L128 643L124 645L120 646L116 647L112 648L108 649L104 650L100 650L96 651L92 652L88 653L84 654L80 656L76 657L72 658L68 658L64 659L60 659L56 660L52 661L48 661L44 662L40 663L36 663L32 664L28 664L24 665L20 665L16 665L12 665L8 665L4 665L0 665Z"/><path class="d dk" d="M0 655l2 10 2-20 2-10 2 21 2 3 2-6 2-2 2-1 2-2 2-9 2 0 2-7 2 4 2-6 2 22 2-9 2-3 2-13 2 3 2 7 2-7 2-2 2 14 2-6 2-23 2 16 2 0 2-10 2 3 2-2 2-1 2 15 2-11 2-11 2-1 2 22 2-15 2 15 2-13 2 14 2-8 2 4 2-7 2 7 2-14 2 13 2-5 2 17 2-7 2-6 2 11 2 1 2-16 2 2 2-7 2-3 2 12 2-6 2 14 2-8 2-23 2-1 2 6 2 0 2 8 2-15 2-15 2 0 2-8 2 3 2 7 2 0 2-10 2-1 2 8 2-15 2 8 2-18 2 5 2-1 2 4 2-14 2 2 2-21 2-3 2 1 2-11 2-2 2-9 2-24 2-5 2-18 2-27 2-27 2-19 2-61 2-28 2-42 2-45 2-40M0 677l1-29 2 19 2-8 2-3 2-8 2 15 2-13 2-5 2 13 2-18 2 11 2-5 2-2 2 2 2 0 2 2 2-4 2-10 2 12 2-17 2 26 2-7 2 1 2-9 2 11 2-15 2-2 2-3 2 5 2-9 2-1 2 9 2-2 2 0 2-20 2 24 2-11 2 13 2-2 2 9 2-7 2-3 2-4 2-12 2 5 2 14 2-10 2 8 2-1 2 11 2-4 2-1 2-5 2 3 2-7 2-8 2 10 2-11 2 1 2-2 2-3 2-2 2-6 2 2 2-5 2 2 2 3 2-14 2 6 2-6 2 12 2-4 2-7 2-14 2 0 2 1 2 5 2-7 2-1 2-16 2-5 2 1 2-6 2 1 2-15 2 12 2-22 2 3 2-20 2 6 2-17 2-18 2-16 2-34 2-42 2-24 2-46 2-50 2-52 2-25 1-34M0 653l2 14 2-6 2-1 2-5 2-3 2 23 2-34 2 16 2-7 2 2 2 9 2-18 2-2 2 12 2 4 2 2 2-6 2-6 2-4 2 7 2 3 2 1 2-1 2 4 2-12 2-15 2 15 2 3 2 0 2-2 2-8 2 18 2-14 2 6 2-16 2 7 2 0 2 3 2-1 2 2 2-8 2 5 2 3 2-2 2 1 2-4 2 13 2-17 2 6 2 7 2-15 2 5 2 9 2-17 2 13 2-15 2 0 2 10 2 1 2-2 2-10 2 13 2-22 2 4 2 11 2-11 2 13 2-14 2-11 2 8 2-12 2 6 2 4 2 3 2-5 2-6 2-12 2 1 2-4 2-11 2-1 2-11 2 0 2-2 2-10 2-4 2-14 2-14 2 5 2-20 2-21 2-6 2-33 2-36 2-26 2-35 2-47 2-45 2-57 2-33M0 663l1 8 2-6 2-6 2 14 2-17 2-1 2 8 2-13 2 18 2-10 2 2 2-8 2 10 2-5 2-7 2 14 2-8 2 0 2-9 2 11 2-4 2 2 2 0 2 8 2-5 2-10 2 5 2 11 2 6 2-15 2-9 2 2 2-6 2 0 2-6 2 10 2-4 2 4 2-12 2 5 2 15 2-8 2 4 2 5 2-16 2 7 2 9 2-16 2 10 2-6 2 17 2-24 2 26 2-10 2-2 2-5 2 9 2-18 2 9 2-4 2 3 2-7 2 1 2-12 2 19 2-10 2-6 2 3 2 22 2-28 2 11 2-2 2-2 2-11 2-1 2 9 2-9 2-4 2-7 2 2 2-18 2 2 2-4 2-12 2 0 2-16 2-10 2 3 2-7 2-26 2-8 2-21 2-20 2-29 2-39 2-14 2-66 2-43 2-44 2-52 1-3M0 665l2-2 2-9 2 13 2-3 2 7 2-15 2 7 2 6 2-1 2-2 2-5 2 6 2 10 2-5 2-15 2 12 2-1 2 5 2 2 2-16 2 0 2 8 2-13 2 20 2-9 2-10 2 5 2 5 2-3 2-3 2 3 2-4 2-5 2 1 2 4 2-8 2-2 2 28 2-5 2-7 2-6 2-2 2-3 2-5 2 8 2-12 2 5 2 7 2 12 2-12 2-9 2 18 2-20 2 12 2 5 2-16 2 1 2 3 2-12 2 1 2 4 2 14 2-19 2 10 2-2 2 5 2-3 2-2 2-4 2-11 2 11 2-8 2 4 2-2 2 4 2-18 2-16 2 8 2 1 2-15 2-1 2 6 2-22 2 0 2 5 2-20 2-10 2-4 2-1 2-20 2-11 2-33 2-31 2-35 2-23 2-42 2-57 2-33 2-52 2-18M8 636h0M25 676h0M26 635h0M34 676h0M36 630h0M43 611h0M44 625h0M51 672h0M53 618h0M56 618h0M62 614h0M64 676h0M71 668h0M74 672h0M76 613h0M86 618h0M88 619h0M92 624h0M93 667h0M98 657h0M102 665h0M110 665h0M111 623h0M114 657h0M116 602h0M124 607h0M131 648h0M139 580h0M142 573h0M145 579h0M146 579h0M147 571h0M160 556h0M164 539h0M168 526h0M174 577h0M180 538h0M187 461h0M188 402h0M191 341h0M196 254h0M198 232h0M199 172h0"/></g>
<path class="o dk" d="M18.6 140.3h0M18.6 144h0M17.7 151.4h0M32 143.5h0M90.5 143.1h0M110.8 146.8h0M119.7 146.8h0M139.5 145.9h0M173.6 141.3h0M227.1 133h0M53.6 151.4h0"/>
<g class="fr"><path stroke-width="2" d="M0 0H306.9 M0 176H306.9"/><path stroke-width="2.3" stroke-linecap="square" d="M0 0V176 M306.9 0V176"/></g>
<text class="ti" x="151.45" y="-13.4">Actor θ<tspan class="su" dy="5.6">18</tspan></text>
<text class="yt" x="-25.3" y="189.3">0</text><text class="yt" x="-25.3" y="111.08">40</text><text class="yt" x="-25.3" y="32.86">80</text>
<text class="xt" x="-1.5" y="233.1">0</text><text class="xt" x="151.95" y="233.1">100</text><text class="xt" x="305.4" y="233.1">200</text>
<text class="xl" x="150.45" y="285.6">Number of Pulses</text>
<text class="yl" transform="translate(-89.3 148.7) rotate(-90)"><tspan x="0">G (</tspan><tspan class="mu" x="50.5" dy="1">μ</tspan><tspan x="83.6" dy="-1">S</tspan><tspan x="109">)</tspan></text>
</g>
</svg>
</body></html>
